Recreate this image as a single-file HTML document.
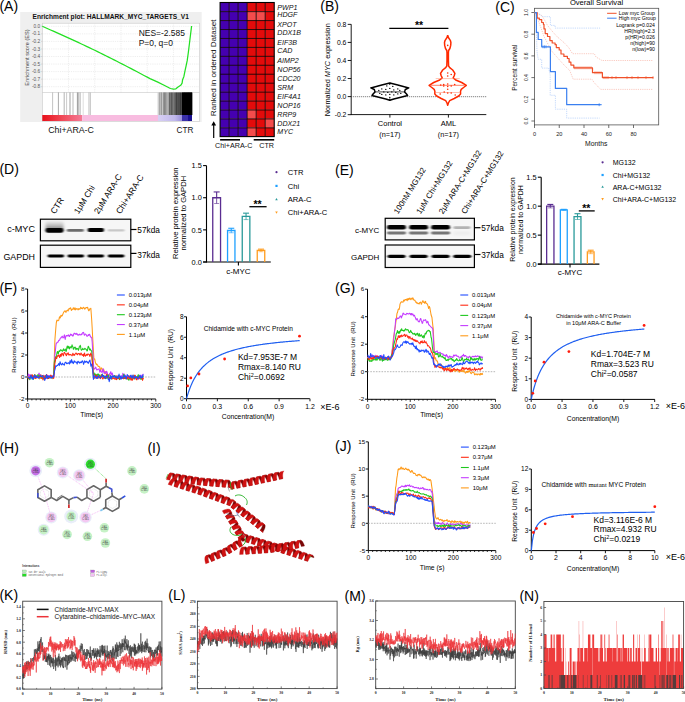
<!DOCTYPE html>
<html><head><meta charset="utf-8"><style>
html,body{margin:0;padding:0;background:#fff;width:685px;height:702px;overflow:hidden;}
svg{display:block;}
</style></head><body>
<svg width="685" height="702" viewBox="0 0 685 702" font-family='"Liberation Sans", sans-serif'>
<rect x="0" y="0" width="685" height="702" fill="#fff"/>
<text x="-0.6" y="11.2" font-size="14">(A)</text>
<rect x="20.2" y="12" width="181.5" height="110" fill="#efefef"/>
<text x="32.5" y="18.8" font-size="6.6" font-weight="bold" fill="#111">Enrichment plot: HALLMARK_MYC_TARGETS_V1</text>
<rect x="42.3" y="23.2" width="157.4" height="98.3" fill="#fff" stroke="#c8c8c8" stroke-width="0.6"/>
<line x1="68.53" y1="23.2" x2="68.53" y2="92.5" stroke="#dcdcdc" stroke-width="0.5" stroke-dasharray="1.2,1"/>
<line x1="94.76" y1="23.2" x2="94.76" y2="92.5" stroke="#dcdcdc" stroke-width="0.5" stroke-dasharray="1.2,1"/>
<line x1="120.99" y1="23.2" x2="120.99" y2="92.5" stroke="#dcdcdc" stroke-width="0.5" stroke-dasharray="1.2,1"/>
<line x1="147.22" y1="23.2" x2="147.22" y2="92.5" stroke="#dcdcdc" stroke-width="0.5" stroke-dasharray="1.2,1"/>
<line x1="173.45" y1="23.2" x2="173.45" y2="92.5" stroke="#dcdcdc" stroke-width="0.5" stroke-dasharray="1.2,1"/>
<line x1="42.3" y1="26.3" x2="199.7" y2="26.3" stroke="#dcdcdc" stroke-width="0.5" stroke-dasharray="1.2,1"/>
<line x1="42.3" y1="33.85" x2="199.7" y2="33.85" stroke="#dcdcdc" stroke-width="0.5" stroke-dasharray="1.2,1"/>
<line x1="42.3" y1="41.4" x2="199.7" y2="41.4" stroke="#dcdcdc" stroke-width="0.5" stroke-dasharray="1.2,1"/>
<line x1="42.3" y1="48.95" x2="199.7" y2="48.95" stroke="#dcdcdc" stroke-width="0.5" stroke-dasharray="1.2,1"/>
<line x1="42.3" y1="56.5" x2="199.7" y2="56.5" stroke="#dcdcdc" stroke-width="0.5" stroke-dasharray="1.2,1"/>
<line x1="42.3" y1="64.05" x2="199.7" y2="64.05" stroke="#dcdcdc" stroke-width="0.5" stroke-dasharray="1.2,1"/>
<line x1="42.3" y1="71.6" x2="199.7" y2="71.6" stroke="#dcdcdc" stroke-width="0.5" stroke-dasharray="1.2,1"/>
<line x1="42.3" y1="79.15" x2="199.7" y2="79.15" stroke="#dcdcdc" stroke-width="0.5" stroke-dasharray="1.2,1"/>
<line x1="42.3" y1="86.7" x2="199.7" y2="86.7" stroke="#dcdcdc" stroke-width="0.5" stroke-dasharray="1.2,1"/>
<text x="40.1" y="27.9" font-size="4.7" text-anchor="end" fill="#555">0.0</text>
<line x1="41.3" y1="26.3" x2="42.3" y2="26.3" stroke="#999" stroke-width="0.4"/>
<text x="40.1" y="35.45" font-size="4.7" text-anchor="end" fill="#555">-0.1</text>
<line x1="41.3" y1="33.85" x2="42.3" y2="33.85" stroke="#999" stroke-width="0.4"/>
<text x="40.1" y="43" font-size="4.7" text-anchor="end" fill="#555">-0.2</text>
<line x1="41.3" y1="41.4" x2="42.3" y2="41.4" stroke="#999" stroke-width="0.4"/>
<text x="40.1" y="50.55" font-size="4.7" text-anchor="end" fill="#555">-0.3</text>
<line x1="41.3" y1="48.95" x2="42.3" y2="48.95" stroke="#999" stroke-width="0.4"/>
<text x="40.1" y="58.1" font-size="4.7" text-anchor="end" fill="#555">-0.4</text>
<line x1="41.3" y1="56.5" x2="42.3" y2="56.5" stroke="#999" stroke-width="0.4"/>
<text x="40.1" y="65.65" font-size="4.7" text-anchor="end" fill="#555">-0.5</text>
<line x1="41.3" y1="64.05" x2="42.3" y2="64.05" stroke="#999" stroke-width="0.4"/>
<text x="40.1" y="73.2" font-size="4.7" text-anchor="end" fill="#555">-0.6</text>
<line x1="41.3" y1="71.6" x2="42.3" y2="71.6" stroke="#999" stroke-width="0.4"/>
<text x="40.1" y="80.75" font-size="4.7" text-anchor="end" fill="#555">-0.7</text>
<line x1="41.3" y1="79.15" x2="42.3" y2="79.15" stroke="#999" stroke-width="0.4"/>
<text x="40.1" y="88.3" font-size="4.7" text-anchor="end" fill="#555">-0.8</text>
<line x1="41.3" y1="86.7" x2="42.3" y2="86.7" stroke="#999" stroke-width="0.4"/>
<text x="29.4" y="57.5" font-size="5.6" text-anchor="middle" fill="#444" transform="rotate(-90 29.4 57.5)">Enrichment score (ES)</text>
<line x1="42.3" y1="92.5" x2="199.7" y2="92.5" stroke="#c8c8c8" stroke-width="0.6"/>
<polyline points="42.3,26.3 45.06,27.52 47.82,28.74 50.58,29.96 53.35,31.19 56.11,32.42 58.87,33.65 61.63,34.89 64.39,36.13 67.15,37.37 69.92,38.63 72.68,39.89 75.44,41.16 78.2,42.43 80.96,43.72 83.72,45.01 86.48,46.32 89.25,47.63 92.01,48.95 94.77,50.28 97.53,51.62 100.29,52.97 103.05,54.33 105.82,55.7 108.58,57.08 111.34,58.47 114.1,59.87 116.86,61.27 119.62,62.69 122.38,64.11 125.15,65.54 127.91,66.97 130.67,68.41 133.43,69.86 136.19,71.31 138.95,72.76 141.72,74.22 144.48,75.68 147.24,77.14 150,78.6 157.3,81.9 164.6,85.5 170.4,88.5 173.4,89.2 175.9,88.8 177.7,87.2 180.7,85.3 182.1,83.2 182.6,79.7 183.9,76.4 185,70.9 186.1,65.8 187.2,60.7 188.4,52 189.5,43 190.6,34 191.6,26" fill="none" stroke="#22e022" stroke-width="1.25" stroke-linejoin="round"/>
<line x1="52.6" y1="92.5" x2="52.6" y2="115" stroke="#888" stroke-width="0.5"/>
<line x1="58.4" y1="92.5" x2="58.4" y2="115" stroke="#555" stroke-width="0.5"/>
<line x1="64.2" y1="92.5" x2="64.2" y2="115" stroke="#666" stroke-width="0.5"/>
<line x1="66.6" y1="92.5" x2="66.6" y2="115" stroke="#999" stroke-width="0.5"/>
<line x1="70" y1="92.5" x2="70" y2="115" stroke="#444" stroke-width="0.5"/>
<line x1="73" y1="92.5" x2="73" y2="115" stroke="#777" stroke-width="0.5"/>
<line x1="77.4" y1="92.5" x2="77.4" y2="115" stroke="#333" stroke-width="0.5"/>
<line x1="78.8" y1="92.5" x2="78.8" y2="115" stroke="#555" stroke-width="0.5"/>
<line x1="80.3" y1="92.5" x2="80.3" y2="115" stroke="#888" stroke-width="0.5"/>
<line x1="83.2" y1="92.5" x2="83.2" y2="115" stroke="#bbb" stroke-width="0.5"/>
<line x1="89" y1="92.5" x2="89" y2="115" stroke="#777" stroke-width="0.5"/>
<line x1="90.5" y1="92.5" x2="90.5" y2="115" stroke="#999" stroke-width="0.5"/>
<line x1="158" y1="92.5" x2="158" y2="115" stroke="rgb(200,200,200)" stroke-width="0.75"/>
<line x1="158.58" y1="92.5" x2="158.58" y2="115" stroke="rgb(200,200,200)" stroke-width="0.75"/>
<line x1="159.15" y1="92.5" x2="159.15" y2="115" stroke="rgb(200,200,200)" stroke-width="0.75"/>
<line x1="159.73" y1="92.5" x2="159.73" y2="115" stroke="rgb(134,134,134)" stroke-width="0.75"/>
<line x1="160.31" y1="92.5" x2="160.31" y2="115" stroke="rgb(144,144,144)" stroke-width="0.75"/>
<line x1="160.88" y1="92.5" x2="160.88" y2="115" stroke="rgb(200,200,200)" stroke-width="0.75"/>
<line x1="161.46" y1="92.5" x2="161.46" y2="115" stroke="rgb(86,86,86)" stroke-width="0.75"/>
<line x1="162.03" y1="92.5" x2="162.03" y2="115" stroke="rgb(200,200,200)" stroke-width="0.75"/>
<line x1="162.61" y1="92.5" x2="162.61" y2="115" stroke="rgb(200,200,200)" stroke-width="0.75"/>
<line x1="163.19" y1="92.5" x2="163.19" y2="115" stroke="rgb(151,151,151)" stroke-width="0.75"/>
<line x1="163.76" y1="92.5" x2="163.76" y2="115" stroke="rgb(121,121,121)" stroke-width="0.75"/>
<line x1="164.34" y1="92.5" x2="164.34" y2="115" stroke="rgb(114,114,114)" stroke-width="0.75"/>
<line x1="164.92" y1="92.5" x2="164.92" y2="115" stroke="rgb(107,107,107)" stroke-width="0.75"/>
<line x1="165.49" y1="92.5" x2="165.49" y2="115" stroke="rgb(130,130,130)" stroke-width="0.75"/>
<line x1="166.07" y1="92.5" x2="166.07" y2="115" stroke="rgb(133,133,133)" stroke-width="0.75"/>
<line x1="166.64" y1="92.5" x2="166.64" y2="115" stroke="rgb(135,135,135)" stroke-width="0.75"/>
<line x1="167.22" y1="92.5" x2="167.22" y2="115" stroke="rgb(186,186,186)" stroke-width="0.75"/>
<line x1="167.8" y1="92.5" x2="167.8" y2="115" stroke="rgb(155,155,155)" stroke-width="0.75"/>
<line x1="168.37" y1="92.5" x2="168.37" y2="115" stroke="rgb(130,130,130)" stroke-width="0.75"/>
<line x1="168.95" y1="92.5" x2="168.95" y2="115" stroke="rgb(166,166,166)" stroke-width="0.75"/>
<line x1="169.53" y1="92.5" x2="169.53" y2="115" stroke="rgb(76,76,76)" stroke-width="0.75"/>
<line x1="170.1" y1="92.5" x2="170.1" y2="115" stroke="rgb(68,68,68)" stroke-width="0.75"/>
<line x1="170.68" y1="92.5" x2="170.68" y2="115" stroke="rgb(110,110,110)" stroke-width="0.75"/>
<line x1="171.25" y1="92.5" x2="171.25" y2="115" stroke="rgb(51,51,51)" stroke-width="0.75"/>
<line x1="171.83" y1="92.5" x2="171.83" y2="115" stroke="rgb(48,48,48)" stroke-width="0.75"/>
<line x1="172.41" y1="92.5" x2="172.41" y2="115" stroke="rgb(88,88,88)" stroke-width="0.75"/>
<line x1="172.98" y1="92.5" x2="172.98" y2="115" stroke="rgb(80,80,80)" stroke-width="0.75"/>
<line x1="173.56" y1="92.5" x2="173.56" y2="115" stroke="rgb(113,113,113)" stroke-width="0.75"/>
<line x1="174.14" y1="92.5" x2="174.14" y2="115" stroke="rgb(86,86,86)" stroke-width="0.75"/>
<line x1="174.71" y1="92.5" x2="174.71" y2="115" stroke="rgb(73,73,73)" stroke-width="0.75"/>
<line x1="175.29" y1="92.5" x2="175.29" y2="115" stroke="rgb(68,68,68)" stroke-width="0.75"/>
<line x1="175.86" y1="92.5" x2="175.86" y2="115" stroke="rgb(48,48,48)" stroke-width="0.75"/>
<line x1="176.44" y1="92.5" x2="176.44" y2="115" stroke="rgb(31,31,31)" stroke-width="0.75"/>
<line x1="177.02" y1="92.5" x2="177.02" y2="115" stroke="rgb(40,40,40)" stroke-width="0.75"/>
<line x1="177.59" y1="92.5" x2="177.59" y2="115" stroke="rgb(65,65,65)" stroke-width="0.75"/>
<line x1="178.17" y1="92.5" x2="178.17" y2="115" stroke="rgb(36,36,36)" stroke-width="0.75"/>
<line x1="178.75" y1="92.5" x2="178.75" y2="115" stroke="rgb(42,42,42)" stroke-width="0.75"/>
<line x1="179.32" y1="92.5" x2="179.32" y2="115" stroke="rgb(22,22,22)" stroke-width="0.75"/>
<line x1="179.9" y1="92.5" x2="179.9" y2="115" stroke="rgb(56,56,56)" stroke-width="0.75"/>
<line x1="180.47" y1="92.5" x2="180.47" y2="115" stroke="rgb(25,25,25)" stroke-width="0.75"/>
<line x1="181.05" y1="92.5" x2="181.05" y2="115" stroke="rgb(28,28,28)" stroke-width="0.75"/>
<line x1="181.63" y1="92.5" x2="181.63" y2="115" stroke="rgb(46,46,46)" stroke-width="0.75"/>
<line x1="182.2" y1="92.5" x2="182.2" y2="115" stroke="rgb(31,31,31)" stroke-width="0.75"/>
<line x1="182.78" y1="92.5" x2="182.78" y2="115" stroke="rgb(38,38,38)" stroke-width="0.75"/>
<line x1="183.36" y1="92.5" x2="183.36" y2="115" stroke="rgb(29,29,29)" stroke-width="0.75"/>
<line x1="183.93" y1="92.5" x2="183.93" y2="115" stroke="rgb(28,28,28)" stroke-width="0.75"/>
<line x1="184.51" y1="92.5" x2="184.51" y2="115" stroke="rgb(12,12,12)" stroke-width="0.75"/>
<line x1="185.08" y1="92.5" x2="185.08" y2="115" stroke="rgb(19,19,19)" stroke-width="0.75"/>
<line x1="185.66" y1="92.5" x2="185.66" y2="115" stroke="rgb(16,16,16)" stroke-width="0.75"/>
<line x1="186.24" y1="92.5" x2="186.24" y2="115" stroke="rgb(19,19,19)" stroke-width="0.75"/>
<line x1="186.81" y1="92.5" x2="186.81" y2="115" stroke="rgb(10,10,10)" stroke-width="0.75"/>
<line x1="187.39" y1="92.5" x2="187.39" y2="115" stroke="rgb(10,10,10)" stroke-width="0.75"/>
<line x1="187.97" y1="92.5" x2="187.97" y2="115" stroke="rgb(4,4,4)" stroke-width="0.75"/>
<line x1="188.54" y1="92.5" x2="188.54" y2="115" stroke="rgb(5,5,5)" stroke-width="0.75"/>
<line x1="189.12" y1="92.5" x2="189.12" y2="115" stroke="rgb(4,4,4)" stroke-width="0.75"/>
<line x1="189.69" y1="92.5" x2="189.69" y2="115" stroke="rgb(2,2,2)" stroke-width="0.75"/>
<line x1="190.27" y1="92.5" x2="190.27" y2="115" stroke="rgb(3,3,3)" stroke-width="0.75"/>
<line x1="190.85" y1="92.5" x2="190.85" y2="115" stroke="rgb(1,1,1)" stroke-width="0.75"/>
<line x1="191.42" y1="92.5" x2="191.42" y2="115" stroke="rgb(0,0,0)" stroke-width="0.75"/>
<line x1="192" y1="92.5" x2="192" y2="115" stroke="rgb(0,0,0)" stroke-width="0.75"/>
<rect x="182" y="92.5" width="10" height="22.5" fill="#000"/>
<defs><linearGradient id="gr1" x1="0" x2="1"><stop offset="0" stop-color="#e8101a"/><stop offset="0.5" stop-color="#f04a58"/><stop offset="1" stop-color="#f47a96"/></linearGradient><linearGradient id="gb1" x1="0" x2="1"><stop offset="0" stop-color="#d8d0f4"/><stop offset="0.7" stop-color="#c0b8ec"/><stop offset="1" stop-color="#9a90dc"/></linearGradient></defs>
<rect x="42.3" y="115" width="40" height="6" fill="url(#gr1)"/>
<rect x="82.3" y="115" width="75.7" height="6" fill="#f8bce0"/>
<rect x="158" y="115" width="24" height="6" fill="url(#gb1)"/>
<rect x="182" y="115" width="6" height="6" fill="#3a30a8"/>
<rect x="188" y="115" width="4" height="6" fill="#1a1090"/>
<text x="48.2" y="133" font-size="8.8" fill="#111">Chi+ARA-C</text>
<text x="176.5" y="132.6" font-size="8.2" fill="#111">CTR</text>
<text x="138.7" y="35.8" font-size="8.45" fill="#111">NES=-2.585</text>
<text x="138.7" y="46.3" font-size="8.45" fill="#111">P=0, q=0</text>
<rect x="220.1" y="2.5" width="9.02" height="8.94" fill="#4500b0"/>
<rect x="229.12" y="2.5" width="9.02" height="8.94" fill="#4500b0"/>
<rect x="238.14" y="2.5" width="9.02" height="8.94" fill="#4500b0"/>
<rect x="247.16" y="2.5" width="9.02" height="8.94" fill="#e30b0b"/>
<rect x="256.18" y="2.5" width="9.02" height="8.94" fill="#e30b0b"/>
<rect x="265.2" y="2.5" width="9.02" height="8.94" fill="#e30b0b"/>
<rect x="220.1" y="11.44" width="9.02" height="8.94" fill="#4500b0"/>
<rect x="229.12" y="11.44" width="9.02" height="8.94" fill="#4500b0"/>
<rect x="238.14" y="11.44" width="9.02" height="8.94" fill="#4500b0"/>
<rect x="247.16" y="11.44" width="9.02" height="8.94" fill="#f34c4c"/>
<rect x="256.18" y="11.44" width="9.02" height="8.94" fill="#f34c4c"/>
<rect x="265.2" y="11.44" width="9.02" height="8.94" fill="#e30b0b"/>
<rect x="220.1" y="20.38" width="9.02" height="8.94" fill="#4500b0"/>
<rect x="229.12" y="20.38" width="9.02" height="8.94" fill="#4500b0"/>
<rect x="238.14" y="20.38" width="9.02" height="8.94" fill="#4500b0"/>
<rect x="247.16" y="20.38" width="9.02" height="8.94" fill="#e30b0b"/>
<rect x="256.18" y="20.38" width="9.02" height="8.94" fill="#e30b0b"/>
<rect x="265.2" y="20.38" width="9.02" height="8.94" fill="#e30b0b"/>
<rect x="220.1" y="29.32" width="9.02" height="8.94" fill="#4500b0"/>
<rect x="229.12" y="29.32" width="9.02" height="8.94" fill="#4500b0"/>
<rect x="238.14" y="29.32" width="9.02" height="8.94" fill="#4500b0"/>
<rect x="247.16" y="29.32" width="9.02" height="8.94" fill="#e30b0b"/>
<rect x="256.18" y="29.32" width="9.02" height="8.94" fill="#e30b0b"/>
<rect x="265.2" y="29.32" width="9.02" height="8.94" fill="#e30b0b"/>
<rect x="220.1" y="38.26" width="9.02" height="8.94" fill="#4500b0"/>
<rect x="229.12" y="38.26" width="9.02" height="8.94" fill="#4500b0"/>
<rect x="238.14" y="38.26" width="9.02" height="8.94" fill="#4500b0"/>
<rect x="247.16" y="38.26" width="9.02" height="8.94" fill="#e30b0b"/>
<rect x="256.18" y="38.26" width="9.02" height="8.94" fill="#e30b0b"/>
<rect x="265.2" y="38.26" width="9.02" height="8.94" fill="#e30b0b"/>
<rect x="220.1" y="47.2" width="9.02" height="8.94" fill="#4500b0"/>
<rect x="229.12" y="47.2" width="9.02" height="8.94" fill="#4500b0"/>
<rect x="238.14" y="47.2" width="9.02" height="8.94" fill="#4500b0"/>
<rect x="247.16" y="47.2" width="9.02" height="8.94" fill="#e30b0b"/>
<rect x="256.18" y="47.2" width="9.02" height="8.94" fill="#e30b0b"/>
<rect x="265.2" y="47.2" width="9.02" height="8.94" fill="#e30b0b"/>
<rect x="220.1" y="56.14" width="9.02" height="8.94" fill="#4500b0"/>
<rect x="229.12" y="56.14" width="9.02" height="8.94" fill="#4500b0"/>
<rect x="238.14" y="56.14" width="9.02" height="8.94" fill="#4500b0"/>
<rect x="247.16" y="56.14" width="9.02" height="8.94" fill="#e30b0b"/>
<rect x="256.18" y="56.14" width="9.02" height="8.94" fill="#e30b0b"/>
<rect x="265.2" y="56.14" width="9.02" height="8.94" fill="#e30b0b"/>
<rect x="220.1" y="65.08" width="9.02" height="8.94" fill="#4500b0"/>
<rect x="229.12" y="65.08" width="9.02" height="8.94" fill="#4500b0"/>
<rect x="238.14" y="65.08" width="9.02" height="8.94" fill="#4500b0"/>
<rect x="247.16" y="65.08" width="9.02" height="8.94" fill="#e30b0b"/>
<rect x="256.18" y="65.08" width="9.02" height="8.94" fill="#e30b0b"/>
<rect x="265.2" y="65.08" width="9.02" height="8.94" fill="#e30b0b"/>
<rect x="220.1" y="74.02" width="9.02" height="8.94" fill="#4500b0"/>
<rect x="229.12" y="74.02" width="9.02" height="8.94" fill="#4500b0"/>
<rect x="238.14" y="74.02" width="9.02" height="8.94" fill="#4500b0"/>
<rect x="247.16" y="74.02" width="9.02" height="8.94" fill="#e30b0b"/>
<rect x="256.18" y="74.02" width="9.02" height="8.94" fill="#e30b0b"/>
<rect x="265.2" y="74.02" width="9.02" height="8.94" fill="#e30b0b"/>
<rect x="220.1" y="82.96" width="9.02" height="8.94" fill="#4500b0"/>
<rect x="229.12" y="82.96" width="9.02" height="8.94" fill="#4500b0"/>
<rect x="238.14" y="82.96" width="9.02" height="8.94" fill="#4500b0"/>
<rect x="247.16" y="82.96" width="9.02" height="8.94" fill="#e30b0b"/>
<rect x="256.18" y="82.96" width="9.02" height="8.94" fill="#e30b0b"/>
<rect x="265.2" y="82.96" width="9.02" height="8.94" fill="#e30b0b"/>
<rect x="220.1" y="91.9" width="9.02" height="8.94" fill="#4500b0"/>
<rect x="229.12" y="91.9" width="9.02" height="8.94" fill="#4500b0"/>
<rect x="238.14" y="91.9" width="9.02" height="8.94" fill="#4500b0"/>
<rect x="247.16" y="91.9" width="9.02" height="8.94" fill="#e30b0b"/>
<rect x="256.18" y="91.9" width="9.02" height="8.94" fill="#e30b0b"/>
<rect x="265.2" y="91.9" width="9.02" height="8.94" fill="#e30b0b"/>
<rect x="220.1" y="100.84" width="9.02" height="8.94" fill="#4500b0"/>
<rect x="229.12" y="100.84" width="9.02" height="8.94" fill="#4500b0"/>
<rect x="238.14" y="100.84" width="9.02" height="8.94" fill="#4500b0"/>
<rect x="247.16" y="100.84" width="9.02" height="8.94" fill="#e30b0b"/>
<rect x="256.18" y="100.84" width="9.02" height="8.94" fill="#e30b0b"/>
<rect x="265.2" y="100.84" width="9.02" height="8.94" fill="#e30b0b"/>
<rect x="220.1" y="109.78" width="9.02" height="8.94" fill="#4500b0"/>
<rect x="229.12" y="109.78" width="9.02" height="8.94" fill="#4500b0"/>
<rect x="238.14" y="109.78" width="9.02" height="8.94" fill="#4500b0"/>
<rect x="247.16" y="109.78" width="9.02" height="8.94" fill="#f34c4c"/>
<rect x="256.18" y="109.78" width="9.02" height="8.94" fill="#e30b0b"/>
<rect x="265.2" y="109.78" width="9.02" height="8.94" fill="#e30b0b"/>
<rect x="220.1" y="118.72" width="9.02" height="8.94" fill="#4500b0"/>
<rect x="229.12" y="118.72" width="9.02" height="8.94" fill="#4500b0"/>
<rect x="238.14" y="118.72" width="9.02" height="8.94" fill="#4500b0"/>
<rect x="247.16" y="118.72" width="9.02" height="8.94" fill="#e30b0b"/>
<rect x="256.18" y="118.72" width="9.02" height="8.94" fill="#e30b0b"/>
<rect x="265.2" y="118.72" width="9.02" height="8.94" fill="#f34c4c"/>
<rect x="220.1" y="127.66" width="9.02" height="8.94" fill="#4500b0"/>
<rect x="229.12" y="127.66" width="9.02" height="8.94" fill="#4500b0"/>
<rect x="238.14" y="127.66" width="9.02" height="8.94" fill="#4500b0"/>
<rect x="247.16" y="127.66" width="9.02" height="8.94" fill="#f34c4c"/>
<rect x="256.18" y="127.66" width="9.02" height="8.94" fill="#e30b0b"/>
<rect x="265.2" y="127.66" width="9.02" height="8.94" fill="#e30b0b"/>
<line x1="229.12" y1="2.5" x2="229.12" y2="136.6" stroke="#100" stroke-width="0.85"/>
<line x1="238.14" y1="2.5" x2="238.14" y2="136.6" stroke="#100" stroke-width="0.85"/>
<line x1="247.16" y1="2.5" x2="247.16" y2="136.6" stroke="#100" stroke-width="0.85"/>
<line x1="256.18" y1="2.5" x2="256.18" y2="136.6" stroke="#100" stroke-width="0.85"/>
<line x1="265.2" y1="2.5" x2="265.2" y2="136.6" stroke="#100" stroke-width="0.85"/>
<line x1="220.1" y1="11.64" x2="274.22" y2="11.64" stroke="#100" stroke-width="0.85"/>
<line x1="220.1" y1="20.58" x2="274.22" y2="20.58" stroke="#100" stroke-width="0.85"/>
<line x1="220.1" y1="29.52" x2="274.22" y2="29.52" stroke="#100" stroke-width="0.85"/>
<line x1="220.1" y1="38.46" x2="274.22" y2="38.46" stroke="#100" stroke-width="0.85"/>
<line x1="220.1" y1="47.4" x2="274.22" y2="47.4" stroke="#100" stroke-width="0.85"/>
<line x1="220.1" y1="56.34" x2="274.22" y2="56.34" stroke="#100" stroke-width="0.85"/>
<line x1="220.1" y1="65.28" x2="274.22" y2="65.28" stroke="#100" stroke-width="0.85"/>
<line x1="220.1" y1="74.22" x2="274.22" y2="74.22" stroke="#100" stroke-width="0.85"/>
<line x1="220.1" y1="83.16" x2="274.22" y2="83.16" stroke="#100" stroke-width="0.85"/>
<line x1="220.1" y1="92.1" x2="274.22" y2="92.1" stroke="#100" stroke-width="0.85"/>
<line x1="220.1" y1="101.04" x2="274.22" y2="101.04" stroke="#100" stroke-width="0.85"/>
<line x1="220.1" y1="109.98" x2="274.22" y2="109.98" stroke="#100" stroke-width="0.85"/>
<line x1="220.1" y1="118.92" x2="274.22" y2="118.92" stroke="#100" stroke-width="0.85"/>
<line x1="220.1" y1="127.86" x2="274.22" y2="127.86" stroke="#100" stroke-width="0.85"/>
<rect x="220.1" y="2.5" width="54.12" height="134.1" fill="none" stroke="#000" stroke-width="1.1"/>
<text x="277.3" y="9.5" font-size="7.1" font-style="italic" fill="#111">PWP1</text>
<text x="277.3" y="17.3" font-size="7.1" font-style="italic" fill="#111">HDGF</text>
<text x="277.3" y="27" font-size="7.1" font-style="italic" fill="#111">XPOT</text>
<text x="277.3" y="34.9" font-size="7.1" font-style="italic" fill="#111">DDX1B</text>
<text x="277.3" y="44.8" font-size="7.1" font-style="italic" fill="#111">EIF3B</text>
<text x="277.3" y="53.4" font-size="7.1" font-style="italic" fill="#111">CAD</text>
<text x="277.3" y="62.9" font-size="7.1" font-style="italic" fill="#111">AIMP2</text>
<text x="277.3" y="71.9" font-size="7.1" font-style="italic" fill="#111">NOP56</text>
<text x="277.3" y="80.8" font-size="7.1" font-style="italic" fill="#111">CDC20</text>
<text x="277.3" y="89.7" font-size="7.1" font-style="italic" fill="#111">SRM</text>
<text x="277.3" y="98.6" font-size="7.1" font-style="italic" fill="#111">EIF4A1</text>
<text x="277.3" y="107.5" font-size="7.1" font-style="italic" fill="#111">NOP16</text>
<text x="277.3" y="116.5" font-size="7.1" font-style="italic" fill="#111">RRP9</text>
<text x="277.3" y="125.5" font-size="7.1" font-style="italic" fill="#111">DDX21</text>
<text x="277.3" y="134.2" font-size="7.1" font-style="italic" fill="#111">MYC</text>
<text x="215.6" y="67.8" font-size="8.1" text-anchor="middle" fill="#111" transform="rotate(-90 215.6 67.8)">Ranked in ordered Dataset</text>
<line x1="213.7" y1="124" x2="213.7" y2="138" stroke="#000" stroke-width="1.2"/>
<path d="M211.3,125.5 L213.7,121.2 L216.1,125.5 Z" fill="#000" stroke="none" stroke-width="0"/>
<line x1="220.1" y1="139.8" x2="240" y2="139.8" stroke="#000" stroke-width="1.6"/>
<line x1="253.7" y1="139.8" x2="274.2" y2="139.8" stroke="#000" stroke-width="1.6"/>
<text x="215" y="148.3" font-size="7.2" fill="#111">Chi+ARA-C</text>
<text x="259.2" y="148.3" font-size="7.2" fill="#111">CTR</text>
<text x="320.3" y="11.4" font-size="14">(B)</text>
<line x1="351.2" y1="24.3" x2="351.2" y2="114.9" stroke="#000" stroke-width="0.9"/>
<line x1="347.7" y1="24.36" x2="351.2" y2="24.36" stroke="#000" stroke-width="0.9"/>
<text x="346.4" y="26.76" font-size="6.8" text-anchor="end">0.8</text>
<line x1="347.7" y1="42.42" x2="351.2" y2="42.42" stroke="#000" stroke-width="0.9"/>
<text x="346.4" y="44.82" font-size="6.8" text-anchor="end">0.6</text>
<line x1="347.7" y1="60.48" x2="351.2" y2="60.48" stroke="#000" stroke-width="0.9"/>
<text x="346.4" y="62.88" font-size="6.8" text-anchor="end">0.4</text>
<line x1="347.7" y1="78.54" x2="351.2" y2="78.54" stroke="#000" stroke-width="0.9"/>
<text x="346.4" y="80.94" font-size="6.8" text-anchor="end">0.2</text>
<line x1="347.7" y1="96.6" x2="351.2" y2="96.6" stroke="#000" stroke-width="0.9"/>
<text x="346.4" y="99" font-size="6.8" text-anchor="end">0.0</text>
<line x1="347.7" y1="114.66" x2="351.2" y2="114.66" stroke="#000" stroke-width="0.9"/>
<text x="346.4" y="117.06" font-size="6.8" text-anchor="end">-0.2</text>
<line x1="350.8" y1="114.6" x2="486.3" y2="114.6" stroke="#000" stroke-width="0.9"/>
<line x1="389.9" y1="114.6" x2="389.9" y2="117.6" stroke="#000" stroke-width="0.9"/>
<line x1="448.4" y1="114.6" x2="448.4" y2="117.6" stroke="#000" stroke-width="0.9"/>
<text x="389.9" y="125.9" font-size="7.5" text-anchor="middle">Control</text>
<text x="389.9" y="137.4" font-size="7.3" text-anchor="middle">(n=17)</text>
<text x="448.4" y="125.9" font-size="7.5" text-anchor="middle">AML</text>
<text x="448.4" y="137.4" font-size="7.3" text-anchor="middle">(n=17)</text>
<text x="330.4" y="69.8" font-size="7.35" text-anchor="middle" transform="rotate(-90 330.4 69.8)">Normalized <tspan font-style="italic">MYC</tspan> expression</text>
<line x1="351.2" y1="96.7" x2="486.3" y2="96.7" stroke="#444" stroke-width="0.8" stroke-dasharray="1,1"/>
<line x1="389.3" y1="28.4" x2="448.4" y2="28.4" stroke="#000" stroke-width="1.2"/>
<text x="419" y="29.3" font-size="10.5" text-anchor="middle" font-weight="bold">**</text>
<polyline points="389.8,83.1 381.8,85 370.8,87.9 374.3,89.5 375,91.9 373.3,93.8 372,95.5 378.8,97.2 385.8,99 389.8,100.3 389.8,100.3 393.8,99 400.8,97.2 407.6,95.5 406.3,93.8 404.6,91.9 405.3,89.5 408.8,87.9 397.8,85 389.8,83.1 389.8,83.1" fill="#fff" stroke="#000" stroke-width="1.5" stroke-linejoin="round"/>
<line x1="374.8" y1="91.9" x2="404.8" y2="91.9" stroke="#000" stroke-width="0.7"/>
<line x1="389.8" y1="82.5" x2="389.8" y2="85" stroke="#000" stroke-width="1"/>
<line x1="389.8" y1="98.5" x2="389.8" y2="101" stroke="#000" stroke-width="1"/>
<circle cx="381.8" cy="88.9" r="0.7" fill="#000"/>
<circle cx="385.8" cy="89.4" r="0.7" fill="#000"/>
<circle cx="389.8" cy="88.4" r="0.7" fill="#000"/>
<circle cx="393.8" cy="89.9" r="0.7" fill="#000"/>
<circle cx="397.8" cy="88.9" r="0.7" fill="#000"/>
<circle cx="383.8" cy="91.9" r="0.7" fill="#000"/>
<circle cx="387.8" cy="92.4" r="0.7" fill="#000"/>
<circle cx="391.8" cy="91.9" r="0.7" fill="#000"/>
<circle cx="395.8" cy="92.4" r="0.7" fill="#000"/>
<circle cx="381.8" cy="94.4" r="0.7" fill="#000"/>
<circle cx="385.8" cy="94.9" r="0.7" fill="#000"/>
<circle cx="389.8" cy="94.4" r="0.7" fill="#000"/>
<circle cx="393.8" cy="94.9" r="0.7" fill="#000"/>
<circle cx="397.8" cy="93.9" r="0.7" fill="#000"/>
<circle cx="389.8" cy="97.4" r="0.7" fill="#000"/>
<circle cx="386.8" cy="85.9" r="0.7" fill="#000"/>
<circle cx="392.8" cy="86.4" r="0.7" fill="#000"/>
<circle cx="378.8" cy="90.4" r="0.7" fill="#000"/>
<circle cx="400.8" cy="93.4" r="0.7" fill="#000"/>
<circle cx="379.8" cy="93.4" r="0.7" fill="#000"/>
<circle cx="399.8" cy="90.4" r="0.7" fill="#000"/>
<polyline points="447.7,35.1 447,37.5 445.1,40.3 444.5,42.5 444.7,45.4 445.5,48.5 446.8,50.5 447,53 447,60 446.8,66 445.7,67.6 442.7,70 440.5,73.3 441.1,75.5 442.2,77.9 439.7,80 433.7,82.5 429.1,85.3 431.2,87 434.2,89.3 434.9,91.5 434.8,93.9 436.7,96 441.2,98.5 445.7,100.7 447,103 447.7,105.3 447.7,105.3 448.4,103 449.7,100.7 454.2,98.5 458.7,96 460.6,93.9 460.5,91.5 461.2,89.3 464.2,87 466.3,85.3 461.7,82.5 455.7,80 453.2,77.9 454.3,75.5 454.9,73.3 452.7,70 449.7,67.6 448.6,66 448.4,60 448.4,53 448.6,50.5 449.9,48.5 450.7,45.4 450.9,42.5 450.3,40.3 448.4,37.5 447.7,35.1 447.7,35.1" fill="#fff" stroke="#ff2a00" stroke-width="1.5" stroke-linejoin="round"/>
<line x1="435.7" y1="78.6" x2="459.7" y2="78.6" stroke="#ff8060" stroke-width="0.5"/>
<line x1="430.7" y1="85.3" x2="464.7" y2="85.3" stroke="#ff2a00" stroke-width="0.6"/>
<line x1="435.7" y1="92.5" x2="459.7" y2="92.5" stroke="#ff8060" stroke-width="0.5"/>
<circle cx="447.7" cy="45.4" r="0.8" fill="#ff2a00"/>
<circle cx="447.7" cy="73" r="0.8" fill="#ff2a00"/>
<circle cx="447.7" cy="76" r="0.8" fill="#ff2a00"/>
<circle cx="451.2" cy="74.5" r="0.8" fill="#ff2a00"/>
<circle cx="440.7" cy="85" r="0.8" fill="#ff2a00"/>
<circle cx="443.7" cy="86" r="0.8" fill="#ff2a00"/>
<circle cx="443.7" cy="84.5" r="0.8" fill="#ff2a00"/>
<circle cx="447.7" cy="84" r="0.8" fill="#ff2a00"/>
<circle cx="447.7" cy="86.5" r="0.8" fill="#ff2a00"/>
<circle cx="451.2" cy="86" r="0.8" fill="#ff2a00"/>
<circle cx="454.7" cy="84.5" r="0.8" fill="#ff2a00"/>
<circle cx="447.7" cy="89.2" r="0.8" fill="#ff2a00"/>
<circle cx="444.2" cy="92" r="0.8" fill="#ff2a00"/>
<circle cx="447.7" cy="93" r="0.8" fill="#ff2a00"/>
<circle cx="451.2" cy="93" r="0.8" fill="#ff2a00"/>
<circle cx="440.2" cy="94" r="0.8" fill="#ff2a00"/>
<circle cx="455.2" cy="95" r="0.8" fill="#ff2a00"/>
<text x="495.3" y="11.8" font-size="14">(C)</text>
<text x="596.5" y="5.3" font-size="7.6" text-anchor="middle">Overall Survival</text>
<rect x="534.5" y="8.3" width="124.2" height="116.6" fill="none" stroke="#555" stroke-width="0.8"/>
<line x1="531.4" y1="121" x2="534.5" y2="121" stroke="#333" stroke-width="0.7"/>
<text x="528.2" y="121" font-size="5" text-anchor="middle" fill="#222" transform="rotate(-90 528.2 121)">0.0</text>
<line x1="531.4" y1="99.3" x2="534.5" y2="99.3" stroke="#333" stroke-width="0.7"/>
<text x="528.2" y="99.3" font-size="5" text-anchor="middle" fill="#222" transform="rotate(-90 528.2 99.3)">0.2</text>
<line x1="531.4" y1="77.6" x2="534.5" y2="77.6" stroke="#333" stroke-width="0.7"/>
<text x="528.2" y="77.6" font-size="5" text-anchor="middle" fill="#222" transform="rotate(-90 528.2 77.6)">0.4</text>
<line x1="531.4" y1="55.9" x2="534.5" y2="55.9" stroke="#333" stroke-width="0.7"/>
<text x="528.2" y="55.9" font-size="5" text-anchor="middle" fill="#222" transform="rotate(-90 528.2 55.9)">0.6</text>
<line x1="531.4" y1="34.2" x2="534.5" y2="34.2" stroke="#333" stroke-width="0.7"/>
<text x="528.2" y="34.2" font-size="5" text-anchor="middle" fill="#222" transform="rotate(-90 528.2 34.2)">0.8</text>
<line x1="531.4" y1="12.5" x2="534.5" y2="12.5" stroke="#333" stroke-width="0.7"/>
<text x="528.2" y="12.5" font-size="5" text-anchor="middle" fill="#222" transform="rotate(-90 528.2 12.5)">1.0</text>
<line x1="534.5" y1="124.9" x2="534.5" y2="128" stroke="#333" stroke-width="0.7"/>
<text x="534.5" y="136.3" font-size="5.6" text-anchor="middle" fill="#222">0</text>
<line x1="559.25" y1="124.9" x2="559.25" y2="128" stroke="#333" stroke-width="0.7"/>
<text x="559.25" y="136.3" font-size="5.6" text-anchor="middle" fill="#222">20</text>
<line x1="584" y1="124.9" x2="584" y2="128" stroke="#333" stroke-width="0.7"/>
<text x="584" y="136.3" font-size="5.6" text-anchor="middle" fill="#222">40</text>
<line x1="608.75" y1="124.9" x2="608.75" y2="128" stroke="#333" stroke-width="0.7"/>
<text x="608.75" y="136.3" font-size="5.6" text-anchor="middle" fill="#222">60</text>
<line x1="633.5" y1="124.9" x2="633.5" y2="128" stroke="#333" stroke-width="0.7"/>
<text x="633.5" y="136.3" font-size="5.6" text-anchor="middle" fill="#222">80</text>
<text x="517.3" y="67.7" font-size="6.5" text-anchor="middle" fill="#111" transform="rotate(-90 517.3 67.7)">Percent survival</text>
<text x="596.2" y="145.7" font-size="6.8" text-anchor="middle" fill="#111">Months</text>
<polyline points="534.7,12.6 537,13.5 541.7,15.5 544,19 547.5,25.4 552,31 556.9,36.5 561,40 565,43.5 569,48 572,52.9 572.6,53.7 594.3,53.7 596,57 602,60.5 653,60.5" fill="none" stroke="#f7a898" stroke-width="0.6" stroke-linejoin="round" stroke-dasharray="1.2,1"/>
<polyline points="534.7,12.6 537.2,17.8 541,28 544,36.5 548,44 552.2,51.7 556,56 560.4,61 565,66 569.7,70.4 573.2,79.2 591.9,79.2 594.2,82.7 600.7,89.4 653,89.4" fill="none" stroke="#f7a898" stroke-width="0.6" stroke-linejoin="round" stroke-dasharray="1.2,1"/>
<polyline points="534.7,12.6 538,13 542.8,16.7 550.4,16.7 550.4,25.4 555.1,25.4 555.1,28.1 600.1,28.1" fill="none" stroke="#9cc0f8" stroke-width="0.6" stroke-linejoin="round" stroke-dasharray="1.2,1"/>
<polyline points="536.4,32.4 536.8,45 537,51.7 538.2,59.3 541.7,59.3 541.7,68.1 548.7,68.1 550.2,75 550.2,95.3 555.4,95.3 555.4,109.2 566.7,109.2 566.7,118.1 599.6,118.1" fill="none" stroke="#9cc0f8" stroke-width="0.6" stroke-linejoin="round" stroke-dasharray="1.2,1"/>
<polyline points="534.7,12.6 537.2,12.6 537.2,18.1 539.3,18.1 539.3,19.6 541.7,19.6 541.7,22.5 543.4,22.5 543.4,24.3 544,24.3 544,28.9 545.2,28.9 545.2,33.6 547.5,33.6 547.5,36.5 549.9,36.5 549.9,40.6 552.2,40.6 552.2,43 555.1,43 555.1,44.7 556.3,44.7 556.3,47.6 559.2,47.6 559.2,50 561,50 561,54 563.9,54 563.9,56.4 567.4,56.4 567.4,58.5 569.1,58.5 569.1,62.2 570.9,62.2 570.9,65.1 573.8,65.1 573.8,67.8 592.5,67.8 592.5,72.7 602.4,72.7 602.4,77.6 653.4,77.6" fill="none" stroke="#f0502a" stroke-width="1.2" stroke-linejoin="round" stroke-linejoin="miter"/>
<line x1="575" y1="66.3" x2="575" y2="69.3" stroke="#f0502a" stroke-width="0.6"/>
<line x1="577" y1="66.3" x2="577" y2="69.3" stroke="#f0502a" stroke-width="0.6"/>
<line x1="579" y1="66.3" x2="579" y2="69.3" stroke="#f0502a" stroke-width="0.6"/>
<line x1="581" y1="66.3" x2="581" y2="69.3" stroke="#f0502a" stroke-width="0.6"/>
<line x1="583" y1="66.3" x2="583" y2="69.3" stroke="#f0502a" stroke-width="0.6"/>
<line x1="585" y1="66.3" x2="585" y2="69.3" stroke="#f0502a" stroke-width="0.6"/>
<line x1="587" y1="66.3" x2="587" y2="69.3" stroke="#f0502a" stroke-width="0.6"/>
<line x1="589" y1="66.3" x2="589" y2="69.3" stroke="#f0502a" stroke-width="0.6"/>
<line x1="591" y1="66.3" x2="591" y2="69.3" stroke="#f0502a" stroke-width="0.6"/>
<line x1="595" y1="71.2" x2="595" y2="74.2" stroke="#f0502a" stroke-width="0.6"/>
<line x1="597" y1="71.2" x2="597" y2="74.2" stroke="#f0502a" stroke-width="0.6"/>
<line x1="599" y1="71.2" x2="599" y2="74.2" stroke="#f0502a" stroke-width="0.6"/>
<line x1="601" y1="71.2" x2="601" y2="74.2" stroke="#f0502a" stroke-width="0.6"/>
<line x1="604" y1="76.1" x2="604" y2="79.1" stroke="#f0502a" stroke-width="0.6"/>
<line x1="606" y1="76.1" x2="606" y2="79.1" stroke="#f0502a" stroke-width="0.6"/>
<line x1="608" y1="76.1" x2="608" y2="79.1" stroke="#f0502a" stroke-width="0.6"/>
<line x1="612" y1="76.1" x2="612" y2="79.1" stroke="#f0502a" stroke-width="0.6"/>
<line x1="616" y1="76.1" x2="616" y2="79.1" stroke="#f0502a" stroke-width="0.6"/>
<line x1="627" y1="76.1" x2="627" y2="79.1" stroke="#f0502a" stroke-width="0.6"/>
<line x1="632" y1="76.1" x2="632" y2="79.1" stroke="#f0502a" stroke-width="0.6"/>
<line x1="638" y1="76.1" x2="638" y2="79.1" stroke="#f0502a" stroke-width="0.6"/>
<line x1="646" y1="76.1" x2="646" y2="79.1" stroke="#f0502a" stroke-width="0.6"/>
<line x1="653" y1="76.1" x2="653" y2="79.1" stroke="#f0502a" stroke-width="0.6"/>
<polyline points="534.7,12.6 536.4,12.6 536.4,32.4 538.2,32.4 538.2,39.5 541.7,39.5 541.7,46.8 550.4,46.8 550.4,71.6 555.4,71.6 555.4,88.4 566.7,88.4 566.7,104.7 600.7,104.7" fill="none" stroke="#3a7ff0" stroke-width="1.2" stroke-linejoin="round" stroke-linejoin="miter"/>
<line x1="599.2" y1="103.2" x2="599.2" y2="106.2" stroke="#3a7ff0" stroke-width="0.7"/>
<line x1="598" y1="104.7" x2="602" y2="104.7" stroke="#3a7ff0" stroke-width="0.7"/>
<line x1="543" y1="45.3" x2="543" y2="48.3" stroke="#3a7ff0" stroke-width="0.7"/>
<line x1="544.5" y1="45.3" x2="544.5" y2="48.3" stroke="#3a7ff0" stroke-width="0.7"/>
<line x1="546" y1="45.3" x2="546" y2="48.3" stroke="#3a7ff0" stroke-width="0.7"/>
<line x1="607.1" y1="13.3" x2="616.6" y2="13.3" stroke="#f0502a" stroke-width="1"/>
<line x1="607.1" y1="18.2" x2="616.6" y2="18.2" stroke="#3a7ff0" stroke-width="1"/>
<text x="618.8" y="15.2" font-size="5.15">Low myc Group</text>
<text x="618.8" y="20.1" font-size="5.15">High myc Group</text>
<text x="654.9" y="26.6" font-size="5.15" text-anchor="end">Logrank p=0.024</text>
<text x="654.9" y="32.65" font-size="5.15" text-anchor="end">HR(high)=2.3</text>
<text x="654.9" y="38.7" font-size="5.15" text-anchor="end">p(HR)=0.026</text>
<text x="654.9" y="44.75" font-size="5.15" text-anchor="end">n(high)=90</text>
<text x="654.9" y="50.8" font-size="5.15" text-anchor="end">n(low)=90</text>
<defs><filter id="bl1" x="-20%" y="-100%" width="140%" height="300%"><feGaussianBlur stdDeviation="0.9 0.7"/></filter><filter id="bl2" x="-20%" y="-100%" width="140%" height="300%"><feGaussianBlur stdDeviation="1.6 1.4"/></filter></defs>
<text x="-0.6" y="174.3" font-size="14">(D)</text>
<rect x="40.4" y="219.2" width="90.4" height="21.6" fill="#f6f6f6" stroke="#000" stroke-width="1.2"/>
<rect x="40.4" y="245.2" width="90.4" height="22.2" fill="#f6f6f6" stroke="#000" stroke-width="1.2"/>
<g>
<defs><linearGradient id="sm1" x1="0" y1="0" x2="0" y2="1"><stop offset="0" stop-color="#bbb" stop-opacity="0.3"/><stop offset="1" stop-color="#555" stop-opacity="0.9"/></linearGradient></defs>
<rect x="45.5" y="221.5" width="18" height="9" rx="2" fill="url(#sm1)" filter="url(#bl2)"/>
<rect x="45.5" y="228.1" width="18" height="4.6" rx="2.3" fill="#000" opacity="1" filter="url(#bl1)"/>
<rect x="66.8" y="229.1" width="17" height="2.6" rx="1.3" fill="#555" opacity="0.85" filter="url(#bl1)"/>
<rect x="87.55" y="228.1" width="16.5" height="3.8" rx="1.9" fill="#000" opacity="1" filter="url(#bl1)"/>
<rect x="107.6" y="229.3" width="17" height="2.2" rx="1.1" fill="#aaa" opacity="0.6" filter="url(#bl1)"/>
<rect x="47.55" y="254.55" width="16.5" height="2.9" rx="1.45" fill="#000" opacity="1" filter="url(#bl1)"/>
<rect x="67.55" y="254.55" width="16.5" height="2.9" rx="1.45" fill="#000" opacity="1" filter="url(#bl1)"/>
<rect x="87.55" y="254.55" width="16.5" height="2.9" rx="1.45" fill="#000" opacity="1" filter="url(#bl1)"/>
<rect x="107.85" y="254.55" width="16.5" height="2.9" rx="1.45" fill="#000" opacity="1" filter="url(#bl1)"/>
</g>
<line x1="130.8" y1="229.5" x2="136.5" y2="229.5" stroke="#000" stroke-width="1.2"/>
<line x1="130.8" y1="253.4" x2="136.5" y2="253.4" stroke="#000" stroke-width="1.2"/>
<text x="137.3" y="233.3" font-size="8.3">57kda</text>
<text x="137.3" y="257.5" font-size="8.3">37kda</text>
<text x="35" y="232.4" font-size="9.1" text-anchor="end">c-MYC</text>
<text x="35" y="259.8" font-size="8.9" text-anchor="end">GAPDH</text>
<text x="55" y="214.6" font-size="8.5" transform="rotate(-58 55 214.6)">CTR</text>
<text x="78.5" y="214.6" font-size="8.5" transform="rotate(-58 78.5 214.6)">1μM Chi</text>
<text x="98.5" y="214.6" font-size="8.5" transform="rotate(-58 98.5 214.6)">2μM ARA-C</text>
<text x="120.5" y="214.6" font-size="8.5" transform="rotate(-58 120.5 214.6)">Chi+ARA-C</text>
<line x1="206.5" y1="165.6" x2="206.5" y2="262.5" stroke="#000" stroke-width="1.1"/>
<line x1="203.1" y1="262" x2="206.5" y2="262" stroke="#000" stroke-width="1.1"/>
<text x="201.9" y="264.7" font-size="7.4" text-anchor="end">0.0</text>
<line x1="203.1" y1="229.87" x2="206.5" y2="229.87" stroke="#000" stroke-width="1.1"/>
<text x="201.9" y="232.57" font-size="7.4" text-anchor="end">0.5</text>
<line x1="203.1" y1="197.73" x2="206.5" y2="197.73" stroke="#000" stroke-width="1.1"/>
<text x="201.9" y="200.43" font-size="7.4" text-anchor="end">1.0</text>
<line x1="203.1" y1="165.6" x2="206.5" y2="165.6" stroke="#000" stroke-width="1.1"/>
<text x="201.9" y="168.3" font-size="7.4" text-anchor="end">1.5</text>
<line x1="203.1" y1="262" x2="270.8" y2="262" stroke="#000" stroke-width="1.1"/>
<line x1="238.4" y1="262" x2="238.4" y2="265.5" stroke="#000" stroke-width="1.1"/>
<text x="238.4" y="274" font-size="8" text-anchor="middle">c-MYC</text>
<path d="M212.75,262 V197.73 H220.55 V262" fill="none" stroke="#5a2d91" stroke-width="1.3"/>
<line x1="216.65" y1="197.73" x2="216.65" y2="191.95" stroke="#5a2d91" stroke-width="1.1"/>
<line x1="213.65" y1="191.95" x2="219.65" y2="191.95" stroke="#5a2d91" stroke-width="1.1"/>
<line x1="216.65" y1="197.73" x2="216.65" y2="203.52" stroke="#5a2d91" stroke-width="0.8"/>
<line x1="214.15" y1="203.52" x2="219.15" y2="203.52" stroke="#5a2d91" stroke-width="0.6"/>
<path d="M227.55,262 V230.51 H234.95 V262" fill="none" stroke="#1ea0ff" stroke-width="1.3"/>
<line x1="231.25" y1="230.51" x2="231.25" y2="228.26" stroke="#1ea0ff" stroke-width="1.1"/>
<line x1="228.25" y1="228.26" x2="234.25" y2="228.26" stroke="#1ea0ff" stroke-width="1.1"/>
<line x1="231.25" y1="230.51" x2="231.25" y2="232.76" stroke="#1ea0ff" stroke-width="0.8"/>
<line x1="228.75" y1="232.76" x2="233.75" y2="232.76" stroke="#1ea0ff" stroke-width="0.6"/>
<path d="M242.25,262 V216.37 H249.85 V262" fill="none" stroke="#2a9a9a" stroke-width="1.3"/>
<line x1="246.05" y1="216.37" x2="246.05" y2="213.16" stroke="#2a9a9a" stroke-width="1.1"/>
<line x1="243.05" y1="213.16" x2="249.05" y2="213.16" stroke="#2a9a9a" stroke-width="1.1"/>
<line x1="246.05" y1="216.37" x2="246.05" y2="219.58" stroke="#2a9a9a" stroke-width="0.8"/>
<line x1="243.55" y1="219.58" x2="248.55" y2="219.58" stroke="#2a9a9a" stroke-width="0.6"/>
<path d="M257.25,262 V250.43 H264.75 V262" fill="none" stroke="#ff9c1e" stroke-width="1.3"/>
<line x1="261" y1="250.43" x2="261" y2="249.15" stroke="#ff9c1e" stroke-width="1.1"/>
<line x1="258" y1="249.15" x2="264" y2="249.15" stroke="#ff9c1e" stroke-width="1.1"/>
<line x1="261" y1="250.43" x2="261" y2="251.72" stroke="#ff9c1e" stroke-width="0.8"/>
<line x1="258.5" y1="251.72" x2="263.5" y2="251.72" stroke="#ff9c1e" stroke-width="0.6"/>
<text x="177.7" y="213.2" font-size="7.6" text-anchor="middle" transform="rotate(-90 177.7 213.2)">Relative protein expression</text>
<text x="186.4" y="213.2" font-size="7.6" text-anchor="middle" transform="rotate(-90 186.4 213.2)">normalized to GAPDH</text>
<line x1="249.4" y1="206.7" x2="266.6" y2="206.7" stroke="#000" stroke-width="1.3"/>
<text x="257.5" y="207.9" font-size="10.5" text-anchor="middle" font-weight="bold">**</text>
<circle cx="276.5" cy="172.2" r="1.1" fill="#5a2d91"/>
<text x="287.8" y="174.9" font-size="7.6">CTR</text>
<rect x="275.4" y="184.8" width="2.2" height="2.2" fill="#1ea0ff"/>
<text x="287.8" y="188.6" font-size="7.6">Chi</text>
<path d="M275.2,200.2 L277.8,200.2 L276.5,197.9 Z" fill="#2a9a9a" stroke="none" stroke-width="0"/>
<text x="287.8" y="201.9" font-size="7.6">ARA-C</text>
<path d="M275.2,211.5 L277.8,211.5 L276.5,213.8 Z" fill="#ff9c1e" stroke="none" stroke-width="0"/>
<text x="287.8" y="215.2" font-size="7.6">Chi+ARA-C</text>
<text x="335" y="174.8" font-size="14">(E)</text>
<rect x="385.2" y="218.3" width="89.2" height="21.6" fill="#f6f6f6" stroke="#000" stroke-width="1.2"/>
<rect x="385.2" y="245" width="89.2" height="22.5" fill="#f6f6f6" stroke="#000" stroke-width="1.2"/>
<rect x="387" y="225.1" width="19" height="4.4" rx="2.2" fill="#000" opacity="1" filter="url(#bl1)"/>
<rect x="387" y="231.6" width="19" height="2.8" rx="1.4" fill="#555" opacity="0.8" filter="url(#bl1)"/>
<rect x="409.1" y="225.1" width="19" height="4.4" rx="2.2" fill="#000" opacity="1" filter="url(#bl1)"/>
<rect x="409.1" y="231.6" width="19" height="2.8" rx="1.4" fill="#555" opacity="0.8" filter="url(#bl1)"/>
<rect x="431.1" y="225.1" width="19" height="4.4" rx="2.2" fill="#000" opacity="1" filter="url(#bl1)"/>
<rect x="431.1" y="231.6" width="19" height="2.8" rx="1.4" fill="#555" opacity="0.8" filter="url(#bl1)"/>
<rect x="453.4" y="226.3" width="17" height="2.6" rx="1.3" fill="#888" opacity="0.6" filter="url(#bl1)"/>
<rect x="453.4" y="232.2" width="17" height="2" rx="1" fill="#ccc" opacity="0.4" filter="url(#bl2)"/>
<rect x="387.5" y="254.65" width="18" height="3.3" rx="1.65" fill="#000" opacity="1" filter="url(#bl1)"/>
<rect x="409.6" y="254.65" width="18" height="3.3" rx="1.65" fill="#000" opacity="1" filter="url(#bl1)"/>
<rect x="431.6" y="254.65" width="18" height="3.3" rx="1.65" fill="#000" opacity="1" filter="url(#bl1)"/>
<rect x="453.3" y="254.65" width="18" height="3.3" rx="1.65" fill="#000" opacity="1" filter="url(#bl1)"/>
<line x1="474.4" y1="227.7" x2="480.5" y2="227.7" stroke="#000" stroke-width="1.2"/>
<line x1="474.4" y1="254.5" x2="480.5" y2="254.5" stroke="#000" stroke-width="1.2"/>
<text x="481.2" y="230.9" font-size="8.3">57kda</text>
<text x="481.2" y="258.2" font-size="8.3">37kda</text>
<text x="379.4" y="233.2" font-size="8" text-anchor="end">c-MYC</text>
<text x="379.4" y="259.5" font-size="8" text-anchor="end">GAPDH</text>
<text x="398" y="214.6" font-size="8" transform="rotate(-58 398 214.6)">100nM MG132</text>
<text x="420.5" y="214.6" font-size="8" transform="rotate(-58 420.5 214.6)">1μM Chi+MG132</text>
<text x="443" y="214.6" font-size="8" transform="rotate(-58 443 214.6)">2μM ARA-C+MG132</text>
<text x="465.5" y="214.6" font-size="8" transform="rotate(-58 465.5 214.6)">Chi+ARA-C+MG132</text>
<line x1="541.2" y1="177.2" x2="541.2" y2="264.6" stroke="#000" stroke-width="1.1"/>
<line x1="537.8" y1="264.1" x2="541.2" y2="264.1" stroke="#000" stroke-width="1.1"/>
<text x="536.6" y="266.8" font-size="7.4" text-anchor="end">0.0</text>
<line x1="537.8" y1="235.13" x2="541.2" y2="235.13" stroke="#000" stroke-width="1.1"/>
<text x="536.6" y="237.83" font-size="7.4" text-anchor="end">0.5</text>
<line x1="537.8" y1="206.17" x2="541.2" y2="206.17" stroke="#000" stroke-width="1.1"/>
<text x="536.6" y="208.87" font-size="7.4" text-anchor="end">1.0</text>
<line x1="537.8" y1="177.2" x2="541.2" y2="177.2" stroke="#000" stroke-width="1.1"/>
<text x="536.6" y="179.9" font-size="7.4" text-anchor="end">1.5</text>
<line x1="537.8" y1="264.1" x2="599.4" y2="264.1" stroke="#000" stroke-width="1.1"/>
<line x1="570" y1="264.1" x2="570" y2="267.6" stroke="#000" stroke-width="1.1"/>
<text x="570" y="274.5" font-size="8" text-anchor="middle">c-MYC</text>
<path d="M546.65,264.1 V206.17 H553.95 V264.1" fill="none" stroke="#5a2d91" stroke-width="1.3"/>
<line x1="550.3" y1="206.17" x2="550.3" y2="204.43" stroke="#5a2d91" stroke-width="1.1"/>
<line x1="547.3" y1="204.43" x2="553.3" y2="204.43" stroke="#5a2d91" stroke-width="1.1"/>
<line x1="550.3" y1="206.17" x2="550.3" y2="207.9" stroke="#5a2d91" stroke-width="0.8"/>
<line x1="547.8" y1="207.9" x2="552.8" y2="207.9" stroke="#5a2d91" stroke-width="0.6"/>
<path d="M560.35,264.1 V209.93 H567.25 V264.1" fill="none" stroke="#1ea0ff" stroke-width="1.3"/>
<line x1="563.8" y1="209.93" x2="563.8" y2="209.35" stroke="#1ea0ff" stroke-width="1.1"/>
<line x1="560.8" y1="209.35" x2="566.8" y2="209.35" stroke="#1ea0ff" stroke-width="1.1"/>
<line x1="563.8" y1="209.93" x2="563.8" y2="210.51" stroke="#1ea0ff" stroke-width="0.8"/>
<line x1="561.3" y1="210.51" x2="566.3" y2="210.51" stroke="#1ea0ff" stroke-width="0.6"/>
<path d="M574.05,264.1 V216.59 H580.95 V264.1" fill="none" stroke="#2a9a9a" stroke-width="1.3"/>
<line x1="577.5" y1="216.59" x2="577.5" y2="213.7" stroke="#2a9a9a" stroke-width="1.1"/>
<line x1="574.5" y1="213.7" x2="580.5" y2="213.7" stroke="#2a9a9a" stroke-width="1.1"/>
<line x1="577.5" y1="216.59" x2="577.5" y2="219.49" stroke="#2a9a9a" stroke-width="0.8"/>
<line x1="575" y1="219.49" x2="580" y2="219.49" stroke="#2a9a9a" stroke-width="0.6"/>
<path d="M587.35,264.1 V251.93 H594.05 V264.1" fill="none" stroke="#ff9c1e" stroke-width="1.3"/>
<line x1="590.7" y1="251.93" x2="590.7" y2="250.2" stroke="#ff9c1e" stroke-width="1.1"/>
<line x1="587.7" y1="250.2" x2="593.7" y2="250.2" stroke="#ff9c1e" stroke-width="1.1"/>
<line x1="590.7" y1="251.93" x2="590.7" y2="253.67" stroke="#ff9c1e" stroke-width="0.8"/>
<line x1="588.2" y1="253.67" x2="593.2" y2="253.67" stroke="#ff9c1e" stroke-width="0.6"/>
<text x="514.8" y="219.5" font-size="7" text-anchor="middle" transform="rotate(-90 514.8 219.5)">Relative protein expression</text>
<text x="523.3" y="219.5" font-size="7" text-anchor="middle" transform="rotate(-90 523.3 219.5)">normalized to GAPDH</text>
<line x1="578.8" y1="210.9" x2="594.7" y2="210.9" stroke="#000" stroke-width="1.3"/>
<text x="586.25" y="212.1" font-size="10.5" text-anchor="middle" font-weight="bold">**</text>
<circle cx="602.6" cy="162.3" r="1.1" fill="#5a2d91"/>
<text x="612.7" y="165" font-size="7">MG132</text>
<rect x="601.5" y="173.9" width="2.2" height="2.2" fill="#1ea0ff"/>
<text x="612.7" y="177.7" font-size="7">Chi+MG132</text>
<path d="M601.3,187.8 L603.9,187.8 L602.6,185.5 Z" fill="#2a9a9a" stroke="none" stroke-width="0"/>
<text x="612.7" y="189.5" font-size="7">ARA-C+MG132</text>
<path d="M601.3,198.1 L603.9,198.1 L602.6,200.4 Z" fill="#ff9c1e" stroke="none" stroke-width="0"/>
<text x="612.7" y="201.8" font-size="7">Chi+ARA-C+MG132</text>
<text x="-0.6" y="293.1" font-size="14">(F)</text>
<line x1="27.6" y1="289" x2="27.6" y2="399" stroke="#000" stroke-width="1"/>
<line x1="25.1" y1="289" x2="27.6" y2="289" stroke="#000" stroke-width="0.9"/>
<text x="24.4" y="291.2" font-size="6.2" text-anchor="end">8</text>
<line x1="25.1" y1="311" x2="27.6" y2="311" stroke="#000" stroke-width="0.9"/>
<text x="24.4" y="313.2" font-size="6.2" text-anchor="end">6</text>
<line x1="25.1" y1="333" x2="27.6" y2="333" stroke="#000" stroke-width="0.9"/>
<text x="24.4" y="335.2" font-size="6.2" text-anchor="end">4</text>
<line x1="25.1" y1="355" x2="27.6" y2="355" stroke="#000" stroke-width="0.9"/>
<text x="24.4" y="357.2" font-size="6.2" text-anchor="end">2</text>
<line x1="25.1" y1="377" x2="27.6" y2="377" stroke="#000" stroke-width="0.9"/>
<text x="24.4" y="379.2" font-size="6.2" text-anchor="end">0</text>
<line x1="25.1" y1="399" x2="27.6" y2="399" stroke="#000" stroke-width="0.9"/>
<text x="24.4" y="401.2" font-size="6.2" text-anchor="end">-2</text>
<line x1="27.6" y1="399" x2="155.79" y2="399" stroke="#000" stroke-width="1"/>
<line x1="27.6" y1="399" x2="27.6" y2="401.6" stroke="#000" stroke-width="0.8"/>
<text x="27.6" y="408.4" font-size="6.6" text-anchor="middle">0</text>
<line x1="31.87" y1="399" x2="31.87" y2="400.4" stroke="#000" stroke-width="0.8"/>
<line x1="36.15" y1="399" x2="36.15" y2="400.4" stroke="#000" stroke-width="0.8"/>
<line x1="40.42" y1="399" x2="40.42" y2="400.4" stroke="#000" stroke-width="0.8"/>
<line x1="44.69" y1="399" x2="44.69" y2="400.4" stroke="#000" stroke-width="0.8"/>
<line x1="48.97" y1="399" x2="48.97" y2="400.4" stroke="#000" stroke-width="0.8"/>
<line x1="53.24" y1="399" x2="53.24" y2="400.4" stroke="#000" stroke-width="0.8"/>
<line x1="57.51" y1="399" x2="57.51" y2="400.4" stroke="#000" stroke-width="0.8"/>
<line x1="61.78" y1="399" x2="61.78" y2="400.4" stroke="#000" stroke-width="0.8"/>
<line x1="66.06" y1="399" x2="66.06" y2="400.4" stroke="#000" stroke-width="0.8"/>
<line x1="70.33" y1="399" x2="70.33" y2="401.6" stroke="#000" stroke-width="0.8"/>
<text x="70.33" y="408.4" font-size="6.6" text-anchor="middle">100</text>
<line x1="74.6" y1="399" x2="74.6" y2="400.4" stroke="#000" stroke-width="0.8"/>
<line x1="78.88" y1="399" x2="78.88" y2="400.4" stroke="#000" stroke-width="0.8"/>
<line x1="83.15" y1="399" x2="83.15" y2="400.4" stroke="#000" stroke-width="0.8"/>
<line x1="87.42" y1="399" x2="87.42" y2="400.4" stroke="#000" stroke-width="0.8"/>
<line x1="91.69" y1="399" x2="91.69" y2="400.4" stroke="#000" stroke-width="0.8"/>
<line x1="95.97" y1="399" x2="95.97" y2="400.4" stroke="#000" stroke-width="0.8"/>
<line x1="100.24" y1="399" x2="100.24" y2="400.4" stroke="#000" stroke-width="0.8"/>
<line x1="104.51" y1="399" x2="104.51" y2="400.4" stroke="#000" stroke-width="0.8"/>
<line x1="108.79" y1="399" x2="108.79" y2="400.4" stroke="#000" stroke-width="0.8"/>
<line x1="113.06" y1="399" x2="113.06" y2="401.6" stroke="#000" stroke-width="0.8"/>
<text x="113.06" y="408.4" font-size="6.6" text-anchor="middle">200</text>
<line x1="117.33" y1="399" x2="117.33" y2="400.4" stroke="#000" stroke-width="0.8"/>
<line x1="121.61" y1="399" x2="121.61" y2="400.4" stroke="#000" stroke-width="0.8"/>
<line x1="125.88" y1="399" x2="125.88" y2="400.4" stroke="#000" stroke-width="0.8"/>
<line x1="130.15" y1="399" x2="130.15" y2="400.4" stroke="#000" stroke-width="0.8"/>
<line x1="134.43" y1="399" x2="134.43" y2="400.4" stroke="#000" stroke-width="0.8"/>
<line x1="138.7" y1="399" x2="138.7" y2="400.4" stroke="#000" stroke-width="0.8"/>
<line x1="142.97" y1="399" x2="142.97" y2="400.4" stroke="#000" stroke-width="0.8"/>
<line x1="147.24" y1="399" x2="147.24" y2="400.4" stroke="#000" stroke-width="0.8"/>
<line x1="151.52" y1="399" x2="151.52" y2="400.4" stroke="#000" stroke-width="0.8"/>
<line x1="155.79" y1="399" x2="155.79" y2="401.6" stroke="#000" stroke-width="0.8"/>
<text x="155.79" y="408.4" font-size="6.6" text-anchor="middle">300</text>
<text x="91.69" y="417.3" font-size="6.8" text-anchor="middle">Time(s)</text>
<line x1="27.6" y1="377" x2="155.79" y2="377" stroke="#999" stroke-width="0.7" stroke-dasharray="1.6,1.2"/>
<text x="15.9" y="345" font-size="6" text-anchor="middle" transform="rotate(-90 15.9 345)">Response Unit&#160;&#160;(RU)</text>
<polyline points="27.6,376.91 28.03,376.69 28.45,376.4 28.88,377 29.31,378.04 29.74,377.63 30.16,377.56 30.59,377.63 31.02,376.98 31.45,375.48 31.87,376.07 32.3,377.61 32.73,377.18 33.15,376.83 33.58,376.08 34.01,376.65 34.44,377.82 34.86,378.53 35.29,378.6 35.72,377.24 36.15,376.64 36.57,377.6 37,377.86 37.43,377.21 37.86,376.67 38.28,377.06 38.71,377.53 39.14,378.29 39.56,378.85 39.99,376.71 40.42,377.35 40.85,378.57 41.27,377.07 41.7,377.1 42.13,377.74 42.56,377.54 42.98,377.04 43.41,377.05 43.84,378.22 44.26,378.26 44.69,377.62 45.12,377.87 45.55,377.2 45.97,376.46 46.4,376.04 46.83,376.75 47.26,376.73 47.68,375.69 48.11,375.56 48.54,375.43 48.97,376.23 49.39,377.2 49.82,376.59 50.25,377.34 50.67,377.72 51.1,377.2 51.53,377.56 51.96,378.31 52.38,378.64 52.81,377.57 53.24,376.46 53.67,375.83 54.09,363.6 54.52,351.5 54.95,339.13 55.37,333.82 55.8,328.5 56.23,323.43 56.66,320.9 57.08,320.01 57.51,320.75 57.94,320.84 58.37,320.38 58.79,320.16 59.22,318.01 59.65,316.7 60.07,318.02 60.5,317.33 60.93,315.17 61.36,315.37 61.78,316.14 62.21,315.7 62.64,314.68 63.07,313.64 63.49,312.65 63.92,311.87 64.35,311.44 64.78,310.92 65.2,310.82 65.63,312.19 66.06,312.25 66.48,310.89 66.91,310.84 67.34,310.26 67.77,310.03 68.19,310.96 68.62,309.63 69.05,308.43 69.48,308.98 69.9,308.6 70.33,307.87 70.76,308.02 71.18,310 71.61,310.42 72.04,309.21 72.47,309.44 72.89,309.07 73.32,307.75 73.75,308.21 74.18,309.7 74.6,308.17 75.03,307.78 75.46,309.85 75.88,309.46 76.31,308.46 76.74,309.08 77.17,308.89 77.59,308.79 78.02,309.9 78.45,309.52 78.88,308.5 79.3,309.04 79.73,309.27 80.16,308.88 80.59,307.28 81.01,307.61 81.44,308.46 81.87,308 82.29,308.89 82.72,308.35 83.15,307.67 83.58,307.28 84,307.58 84.43,308.69 84.86,309.18 85.29,308.55 85.71,307.92 86.14,307.43 86.57,307.59 86.99,307.86 87.42,307.24 87.85,307.86 88.28,309.79 88.7,310.69 89.13,310.73 89.56,309.07 89.99,308.76 90.41,309.05 90.84,308.22 91.27,313.97 91.69,319.76 92.12,326.94 92.55,335.25 92.98,342.7 93.4,350.03 93.83,357.97 94.26,359.2 94.69,358.97 95.11,361.11 95.54,363.05 95.97,363.65 96.4,364.8 96.82,364.1 97.25,364.63 97.68,365.06 98.1,366.4 98.53,366.58 98.96,366.35 99.39,367.03 99.81,366.93 100.24,369.31 100.67,370.28 101.1,368.92 101.52,367.87 101.95,368.3 102.38,369.58 102.8,371.11 103.23,370.85 103.66,369.32 104.09,370.67 104.51,372.4 104.94,373.9 105.37,373.68 105.8,371.47 106.22,371.77 106.65,372.86 107.08,373.16 107.51,374.75 107.93,374.45 108.36,374.8 108.79,375.96 109.21,375.21 109.64,374.72 110.07,374.83 110.5,375.34 110.92,376.26 111.35,377.5 111.78,377.18 112.21,377.02 112.63,378.06 113.06,378.6 113.49,378.1 113.91,378.47 114.34,379.01 114.77,378.89 115.2,377.94 115.62,376.68 116.05,375.55 116.48,376.74 116.91,378.42 117.33,376.93 117.76,376.65 118.19,377.43 118.61,376.24 119.04,376.26 119.47,378.05 119.9,378.66 120.32,377.74 120.75,376.74 121.18,377.81 121.61,378.62 122.03,377.44 122.46,376.48 122.89,377.22 123.32,377.2 123.74,376.45 124.17,377.96 124.6,378.51 125.02,377.15 125.45,377.32 125.88,378.92 126.31,378.75 126.73,376.96 127.16,375.8 127.59,377.64 128.02,377.01 128.44,376.35 128.87,377.39 129.3,375.93 129.72,375.92 130.15,376.61 130.58,377.95 131.01,377.66 131.43,377.39 131.86,379.36 132.29,377.16 132.72,375.16 133.14,375.79 133.57,376.81 134,377.03 134.43,375.48 134.85,375.44 135.28,376.45 135.71,378.17 136.13,378.28 136.56,378.91 136.99,379.86 137.42,378.44 137.84,378.01 138.27,378.18 138.7,377.63 139.13,376.34 139.55,375.47 139.98,376.71 140.41,376.77 140.83,377.24 141.26,378.21 141.69,377.16 142.12,377.73 142.54,378.48 142.97,378.54 143.4,378.3" fill="none" stroke="#ff9a18" stroke-width="1.05" stroke-linejoin="round"/>
<polyline points="27.6,377.31 28.03,376.63 28.45,374.14 28.88,374.22 29.31,375.65 29.74,376.13 30.16,374.94 30.59,375.78 31.02,377.26 31.45,376.18 31.87,375.51 32.3,376.21 32.73,376.55 33.15,376.43 33.58,376.57 34.01,376.46 34.44,377.44 34.86,377.35 35.29,375.78 35.72,376.52 36.15,377.39 36.57,376.12 37,376.77 37.43,377.14 37.86,377.13 38.28,376.39 38.71,373.77 39.14,373.08 39.56,375.05 39.99,376.04 40.42,375.78 40.85,376.28 41.27,375.17 41.7,376.27 42.13,376.66 42.56,375.67 42.98,375.39 43.41,375.21 43.84,376.83 44.26,376.76 44.69,375.66 45.12,375.85 45.55,376.04 45.97,376.48 46.4,378.52 46.83,377.41 47.26,375.21 47.68,375.79 48.11,376.28 48.54,375.59 48.97,376 49.39,377.36 49.82,377.15 50.25,375.67 50.67,376.6 51.1,376.6 51.53,376.02 51.96,377.8 52.38,376.33 52.81,375.55 53.24,377.54 53.67,377.74 54.09,368.85 54.52,360.5 54.95,354.4 55.37,351.17 55.8,346.43 56.23,343.4 56.66,343.17 57.08,342.18 57.51,342.37 57.94,342.21 58.37,341.24 58.79,340.32 59.22,340.31 59.65,340.15 60.07,338.68 60.5,338.01 60.93,338.02 61.36,337.08 61.78,337.14 62.21,336.14 62.64,337.07 63.07,338.04 63.49,337.48 63.92,336.5 64.35,334.76 64.78,337.55 65.2,339.46 65.63,337.26 66.06,335.72 66.48,335.46 66.91,335.93 67.34,335.94 67.77,335.18 68.19,335.39 68.62,334.89 69.05,336.39 69.48,336.49 69.9,335.33 70.33,334.88 70.76,334.05 71.18,335.28 71.61,334.61 72.04,334.65 72.47,335.68 72.89,336.21 73.32,335.55 73.75,333.97 74.18,333.17 74.6,333.7 75.03,333.7 75.46,333.6 75.88,334.51 76.31,334.11 76.74,333.23 77.17,333.97 77.59,335.01 78.02,334.89 78.45,334.66 78.88,335.26 79.3,334.55 79.73,334.14 80.16,334.57 80.59,334.88 81.01,334.94 81.44,333.98 81.87,334.57 82.29,333.28 82.72,332.65 83.15,332.82 83.58,332.35 84,334.23 84.43,335.25 84.86,334.38 85.29,334.02 85.71,334.3 86.14,334.55 86.57,335.98 86.99,335.92 87.42,336.22 87.85,335.73 88.28,334.56 88.7,335.38 89.13,334.97 89.56,334.19 89.99,335.11 90.41,336.93 90.84,336.89 91.27,337.37 91.69,337.54 92.12,341.34 92.55,348.03 92.98,355.38 93.4,362.25 93.83,369.14 94.26,368.47 94.69,368.9 95.11,368.35 95.54,367.09 95.97,367.53 96.4,368.94 96.82,370 97.25,369.79 97.68,369.37 98.1,369.32 98.53,369.31 98.96,368.75 99.39,370.4 99.81,372.14 100.24,370.06 100.67,370.24 101.1,371.69 101.52,371.77 101.95,372.37 102.38,372.21 102.8,369.38 103.23,368.72 103.66,371.62 104.09,373.33 104.51,372.92 104.94,371.6 105.37,372.06 105.8,373.52 106.22,372.33 106.65,371.26 107.08,372.38 107.51,374.06 107.93,375.11 108.36,374.94 108.79,375.63 109.21,374.66 109.64,373.57 110.07,373.93 110.5,372.14 110.92,371.76 111.35,374.26 111.78,374.65 112.21,373.01 112.63,374.42 113.06,376.22 113.49,375.88 113.91,376.54 114.34,375.47 114.77,376.25 115.2,378.41 115.62,376.9 116.05,376.37 116.48,376.19 116.91,375.95 117.33,376.41 117.76,375.74 118.19,377.25 118.61,378.14 119.04,377.04 119.47,376.95 119.9,376.23 120.32,377.05 120.75,377.73 121.18,376.41 121.61,375.65 122.03,376.81 122.46,375.5 122.89,373.18 123.32,375.92 123.74,377.49 124.17,374.41 124.6,374.04 125.02,375.83 125.45,376.61 125.88,377.21 126.31,377.23 126.73,377.24 127.16,376.51 127.59,376.4 128.02,377.33 128.44,377.96 128.87,377.67 129.3,377.44 129.72,377.55 130.15,376.05 130.58,375.63 131.01,376.06 131.43,376.08 131.86,376.43 132.29,376.82 132.72,377.11 133.14,376.43 133.57,377.05 134,376.6 134.43,375.74 134.85,377.38 135.28,377.79 135.71,377.74 136.13,377.25 136.56,377.29 136.99,376.53 137.42,376.59 137.84,379.26 138.27,379.23 138.7,379.03 139.13,378.5 139.55,376.13 139.98,375.6 140.41,377.47 140.83,378.58 141.26,376.16 141.69,375.33 142.12,376.72 142.54,376.16 142.97,374.26 143.4,374.08" fill="none" stroke="#c43cff" stroke-width="1.05" stroke-linejoin="round"/>
<polyline points="27.6,376.74 28.03,378.19 28.45,378.76 28.88,377.83 29.31,378.25 29.74,379.67 30.16,379.22 30.59,376.52 31.02,375.91 31.45,377.19 31.87,377.53 32.3,376.37 32.73,378.71 33.15,379.47 33.58,376.64 34.01,375.95 34.44,374.96 34.86,374.57 35.29,375.76 35.72,376.47 36.15,376.07 36.57,376.79 37,377.5 37.43,376.26 37.86,374.55 38.28,375.46 38.71,377.18 39.14,376.87 39.56,375.68 39.99,375.88 40.42,375.77 40.85,376.57 41.27,377.99 41.7,377.33 42.13,376.5 42.56,375.43 42.98,377.4 43.41,379.07 43.84,377.49 44.26,377.28 44.69,378.87 45.12,377.41 45.55,375.69 45.97,376.16 46.4,376.98 46.83,376.53 47.26,376.32 47.68,376.27 48.11,376.84 48.54,378.51 48.97,377.56 49.39,377.43 49.82,377.02 50.25,376.2 50.67,377.57 51.1,377.73 51.53,377.24 51.96,376.52 52.38,376.76 52.81,377.92 53.24,376.34 53.67,374.05 54.09,366.22 54.52,360.94 54.95,360.81 55.37,357.9 55.8,356.54 56.23,357.04 56.66,355.19 57.08,352.31 57.51,351.47 57.94,353.17 58.37,353.59 58.79,351.52 59.22,350.84 59.65,351.44 60.07,350.51 60.5,349.76 60.93,350.13 61.36,350.14 61.78,350.52 62.21,351.16 62.64,351.18 63.07,349.8 63.49,348.85 63.92,350.36 64.35,350.54 64.78,350 65.2,349 65.63,350.08 66.06,351.47 66.48,350.33 66.91,347.18 67.34,345.94 67.77,348.11 68.19,348.22 68.62,346.27 69.05,346.98 69.48,348.96 69.9,347.62 70.33,346.79 70.76,347.16 71.18,347.92 71.61,346.75 72.04,344.85 72.47,346.01 72.89,346.89 73.32,349.11 73.75,349.15 74.18,347.58 74.6,347.75 75.03,347 75.46,347.67 75.88,349.7 76.31,349.09 76.74,348.28 77.17,348.88 77.59,348.76 78.02,348.77 78.45,350.23 78.88,348.89 79.3,346.7 79.73,346.79 80.16,345.32 80.59,346.25 81.01,349.48 81.44,350.27 81.87,349.76 82.29,349.42 82.72,348.32 83.15,349.6 83.58,349.38 84,349.1 84.43,349.28 84.86,348.22 85.29,348.88 85.71,348.99 86.14,349.32 86.57,349.92 86.99,351.04 87.42,350.68 87.85,347.8 88.28,346.22 88.7,346.81 89.13,348.04 89.56,349.89 89.99,349.39 90.41,349 90.84,350.43 91.27,350.77 91.69,350.77 92.12,356.94 92.55,363.14 92.98,369.75 93.4,376.05 93.83,373.22 94.26,373 94.69,375.21 95.11,374.74 95.54,373.98 95.97,375.43 96.4,376.26 96.82,374.57 97.25,374.21 97.68,374.94 98.1,373.89 98.53,374.62 98.96,375.93 99.39,375.84 99.81,374.69 100.24,375.96 100.67,377.86 101.1,376.69 101.52,375.59 101.95,374.67 102.38,374.09 102.8,376.01 103.23,376.6 103.66,375.56 104.09,376.82 104.51,376.15 104.94,376.42 105.37,378.7 105.8,378.28 106.22,377.83 106.65,378.12 107.08,376.57 107.51,375.79 107.93,374.8 108.36,375.29 108.79,378 109.21,378.53 109.64,378.05 110.07,378.49 110.5,377.38 110.92,376.94 111.35,379.05 111.78,377.95 112.21,376.4 112.63,376.74 113.06,376.6 113.49,376.38 113.91,376.44 114.34,375.93 114.77,375.61 115.2,376.34 115.62,376.36 116.05,377.95 116.48,378.45 116.91,377.43 117.33,377.12 117.76,378.07 118.19,376.86 118.61,375.61 119.04,378.06 119.47,379.61 119.9,378.83 120.32,377.45 120.75,377.83 121.18,377.68 121.61,377.62 122.03,377.24 122.46,377.32 122.89,377.83 123.32,376.38 123.74,374.16 124.17,375.86 124.6,378.47 125.02,378.33 125.45,377.27 125.88,377.54 126.31,378.64 126.73,377.69 127.16,378.12 127.59,378.92 128.02,378.5 128.44,379.48 128.87,380.32 129.3,378.88 129.72,377.53 130.15,377.34 130.58,378.99 131.01,379.24 131.43,377.05 131.86,376.18 132.29,376.94 132.72,378.18 133.14,377.58 133.57,377.33 134,378.88 134.43,379.07 134.85,376.84 135.28,375.98 135.71,376.23 136.13,376.84 136.56,377.03 136.99,377.15 137.42,378.09 137.84,375.46 138.27,374.67 138.7,377.24 139.13,377.97 139.55,377.27 139.98,376.17 140.41,376.88 140.83,379.41 141.26,379.24 141.69,377.75 142.12,377.42 142.54,376.31 142.97,376.14 143.4,376.58" fill="none" stroke="#1ec81e" stroke-width="1.05" stroke-linejoin="round"/>
<polyline points="27.6,377.17 28.03,378.07 28.45,377.62 28.88,377.79 29.31,379.01 29.74,376.85 30.16,376.68 30.59,376.85 31.02,374.77 31.45,375.47 31.87,376.3 32.3,374.86 32.73,375.5 33.15,377.68 33.58,378.67 34.01,378.12 34.44,375.7 34.86,374.91 35.29,376.99 35.72,378.54 36.15,378.16 36.57,377.18 37,376.93 37.43,376.99 37.86,376.56 38.28,377 38.71,377.29 39.14,376.86 39.56,376.9 39.99,376.64 40.42,374.97 40.85,374.89 41.27,376.45 41.7,378.39 42.13,378.11 42.56,378.33 42.98,379.87 43.41,377.47 43.84,375.66 44.26,376.52 44.69,378.59 45.12,378.78 45.55,377.9 45.97,377.04 46.4,374.52 46.83,374.88 47.26,377.48 47.68,378.67 48.11,378.05 48.54,377.2 48.97,378.14 49.39,377.89 49.82,377.89 50.25,377.03 50.67,375.14 51.1,375.16 51.53,376.48 51.96,376.97 52.38,376.67 52.81,377.45 53.24,377.62 53.67,378.4 54.09,373.85 54.52,366.56 54.95,363.12 55.37,361.25 55.8,357.86 56.23,357.17 56.66,358.58 57.08,356.83 57.51,355.71 57.94,356.07 58.37,355.41 58.79,354.79 59.22,356.59 59.65,357.46 60.07,355.61 60.5,354.31 60.93,356.51 61.36,355.63 61.78,353.38 62.21,353.27 62.64,354 63.07,355.28 63.49,355.81 63.92,353.27 64.35,352.34 64.78,353.04 65.2,353.33 65.63,354.43 66.06,355.19 66.48,355.66 66.91,353.39 67.34,354.13 67.77,354.05 68.19,352.69 68.62,354.5 69.05,355.22 69.48,354.72 69.9,354.34 70.33,354.4 70.76,355.07 71.18,354.87 71.61,355.04 72.04,355.88 72.47,355.04 72.89,353.19 73.32,354.45 73.75,355.21 74.18,354.45 74.6,355.29 75.03,354.01 75.46,353.61 75.88,353.06 76.31,353.29 76.74,354.24 77.17,353.76 77.59,354.74 78.02,354.04 78.45,353.53 78.88,353.52 79.3,353.42 79.73,354.87 80.16,354.92 80.59,353.94 81.01,353.04 81.44,353.86 81.87,354.71 82.29,355.41 82.72,354.82 83.15,354.27 83.58,356.37 84,355.5 84.43,353 84.86,354.26 85.29,356.14 85.71,355.47 86.14,355.5 86.57,354.54 86.99,354.27 87.42,355.21 87.85,354.02 88.28,354.05 88.7,354.18 89.13,354.36 89.56,355.77 89.99,356.51 90.41,354.15 90.84,353.13 91.27,354.79 91.69,354.82 92.12,360.11 92.55,365.27 92.98,369 93.4,375.16 93.83,378.16 94.26,378.17 94.69,378.02 95.11,376.55 95.54,374.74 95.97,376.24 96.4,378.16 96.82,377.68 97.25,375.34 97.68,377.48 98.1,378.26 98.53,376.8 98.96,376.4 99.39,376.43 99.81,377.6 100.24,378.01 100.67,378.63 101.1,376.2 101.52,374.69 101.95,376.26 102.38,377.74 102.8,379.05 103.23,378.68 103.66,377.12 104.09,376.9 104.51,376.98 104.94,377.91 105.37,377.92 105.8,377.03 106.22,375.9 106.65,374.31 107.08,375.57 107.51,377.86 107.93,377.83 108.36,377.73 108.79,378.35 109.21,377.91 109.64,378.21 110.07,377.67 110.5,376.91 110.92,377.25 111.35,377.35 111.78,378.22 112.21,378.91 112.63,378.53 113.06,378.22 113.49,377.83 113.91,377.37 114.34,378.74 114.77,378.69 115.2,378.68 115.62,379.27 116.05,378.38 116.48,379.64 116.91,379.32 117.33,377.42 117.76,377.64 118.19,378.14 118.61,378.33 119.04,378.81 119.47,378.73 119.9,378.38 120.32,378.08 120.75,378.64 121.18,378.53 121.61,377.38 122.03,377.71 122.46,378.22 122.89,377.63 123.32,378.69 123.74,378.77 124.17,377.15 124.6,377.31 125.02,377.2 125.45,378.01 125.88,378.56 126.31,377.47 126.73,376.88 127.16,377.26 127.59,378.93 128.02,378.66 128.44,376.37 128.87,375.97 129.3,376.78 129.72,378.98 130.15,378.39 130.58,377.19 131.01,380.17 131.43,379.73 131.86,378.84 132.29,380.28 132.72,379.56 133.14,377.37 133.57,377.15 134,378.02 134.43,376.21 134.85,375.09 135.28,376.68 135.71,378.26 136.13,379.25 136.56,379.65 136.99,378.21 137.42,377.29 137.84,377.57 138.27,377.06 138.7,377.82 139.13,378.73 139.55,377.45 139.98,376.91 140.41,376.63 140.83,376.8 141.26,377.99 141.69,378.02 142.12,378.62 142.54,380.35 142.97,379 143.4,377.65" fill="none" stroke="#ff2a14" stroke-width="1.05" stroke-linejoin="round"/>
<polyline points="27.6,377.63 28.03,377.44 28.45,377.24 28.88,377.31 29.31,377.99 29.74,378.65 30.16,377.72 30.59,376.34 31.02,375.09 31.45,377.17 31.87,378.98 32.3,377.14 32.73,378.26 33.15,379.29 33.58,377.52 34.01,375.92 34.44,375.18 34.86,376.66 35.29,377.65 35.72,377.58 36.15,375.81 36.57,375.98 37,377.68 37.43,376.95 37.86,376.78 38.28,377.3 38.71,378.22 39.14,378.05 39.56,377.42 39.99,376.33 40.42,375.3 40.85,376.41 41.27,376.4 41.7,376.69 42.13,376.34 42.56,376.02 42.98,376.46 43.41,377.66 43.84,377.88 44.26,378.25 44.69,380.48 45.12,379.18 45.55,378.12 45.97,377.69 46.4,374.75 46.83,375.68 47.26,378.36 47.68,377.39 48.11,376.35 48.54,376.7 48.97,377.36 49.39,376.54 49.82,375.86 50.25,377.48 50.67,378.04 51.1,377.04 51.53,377.95 51.96,377.74 52.38,377.56 52.81,376.89 53.24,375.91 53.67,376.74 54.09,374.17 54.52,371.06 54.95,369.68 55.37,367.93 55.8,365.65 56.23,366.51 56.66,365.98 57.08,365.55 57.51,365.56 57.94,364.64 58.37,364.55 58.79,363.56 59.22,365.65 59.65,364.53 60.07,361.68 60.5,362.83 60.93,364.35 61.36,364.37 61.78,364.95 62.21,363.7 62.64,363.22 63.07,364.22 63.49,364.38 63.92,364.84 64.35,365.22 64.78,363.38 65.2,362.26 65.63,362.46 66.06,362.23 66.48,363.62 66.91,363.79 67.34,363.51 67.77,363.05 68.19,362.72 68.62,362.86 69.05,363.64 69.48,363.96 69.9,360.98 70.33,360.7 70.76,363.08 71.18,361.98 71.61,359.53 72.04,361.26 72.47,362.82 72.89,362.11 73.32,363.61 73.75,362.39 74.18,360.83 74.6,361.5 75.03,362.24 75.46,361.93 75.88,361.79 76.31,362.4 76.74,362.99 77.17,364.04 77.59,361.82 78.02,361.21 78.45,362.24 78.88,361.85 79.3,362.59 79.73,363.08 80.16,362.12 80.59,361.96 81.01,362.73 81.44,362.47 81.87,361.27 82.29,360.69 82.72,361.47 83.15,362.68 83.58,364.36 84,362.99 84.43,360.84 84.86,361.89 85.29,362.33 85.71,361.51 86.14,361.28 86.57,361.19 86.99,362.43 87.42,361.91 87.85,362.69 88.28,363.34 88.7,361.76 89.13,361.78 89.56,360.53 89.99,360 90.41,362.99 90.84,366.12 91.27,364.45 91.69,363.98 92.12,367.78 92.55,369.08 92.98,373.63 93.4,379.4 93.83,377.65 94.26,375.66 94.69,376.16 95.11,376.19 95.54,376.79 95.97,378.26 96.4,377.64 96.82,377.15 97.25,378.56 97.68,377.2 98.1,375.75 98.53,375.86 98.96,376.75 99.39,377.77 99.81,377.81 100.24,378.04 100.67,376.95 101.1,376.88 101.52,376.75 101.95,375.73 102.38,374.19 102.8,375.84 103.23,376.92 103.66,375.73 104.09,376.59 104.51,377.89 104.94,378.33 105.37,376.31 105.8,375.98 106.22,376.62 106.65,376.84 107.08,375.86 107.51,375.63 107.93,378.79 108.36,379.44 108.79,379.24 109.21,381.66 109.64,380.34 110.07,376.08 110.5,375.57 110.92,377.93 111.35,378.88 111.78,376.75 112.21,375.75 112.63,376.78 113.06,377.01 113.49,377.01 113.91,376.21 114.34,375.73 114.77,376.28 115.2,377.77 115.62,377.5 116.05,377.16 116.48,376.62 116.91,377.17 117.33,378.31 117.76,377.14 118.19,378.24 118.61,376.63 119.04,374.03 119.47,376.07 119.9,376.71 120.32,375.93 120.75,379.09 121.18,379.21 121.61,376.82 122.03,376.98 122.46,377.93 122.89,378.26 123.32,377.42 123.74,376.06 124.17,375.58 124.6,376.69 125.02,375.58 125.45,376.09 125.88,377.88 126.31,379.06 126.73,377.23 127.16,374.64 127.59,375.24 128.02,375.52 128.44,376.27 128.87,376.7 129.3,377.03 129.72,377.43 130.15,377.14 130.58,375.54 131.01,375.07 131.43,376.54 131.86,377.6 132.29,378.13 132.72,376.1 133.14,375.03 133.57,376.46 134,377.26 134.43,378.36 134.85,378.1 135.28,376.25 135.71,376.55 136.13,377.58 136.56,377.42 136.99,377.1 137.42,378.38 137.84,378.71 138.27,378.02 138.7,376.97 139.13,376.89 139.55,377.18 139.98,375.04 140.41,375.87 140.83,377.85 141.26,377.38 141.69,376.82 142.12,377.93 142.54,377.5 142.97,374.69 143.4,375.36" fill="none" stroke="#1f4cff" stroke-width="1.05" stroke-linejoin="round"/>
<line x1="116.9" y1="295" x2="124.8" y2="295" stroke="#1f4cff" stroke-width="1.1"/>
<text x="128.7" y="297.1" font-size="5.9">0.013μM</text>
<line x1="116.9" y1="304.85" x2="124.8" y2="304.85" stroke="#ff2a14" stroke-width="1.1"/>
<text x="128.7" y="306.95" font-size="5.9">0.04μM</text>
<line x1="116.9" y1="314.7" x2="124.8" y2="314.7" stroke="#1ec81e" stroke-width="1.1"/>
<text x="128.7" y="316.8" font-size="5.9">0.123μM</text>
<line x1="116.9" y1="324.55" x2="124.8" y2="324.55" stroke="#c43cff" stroke-width="1.1"/>
<text x="128.7" y="326.65" font-size="5.9">0.37μM</text>
<line x1="116.9" y1="334.4" x2="124.8" y2="334.4" stroke="#ff9a18" stroke-width="1.1"/>
<text x="128.7" y="336.5" font-size="5.9">1.1μM</text>
<line x1="186.5" y1="316.78" x2="186.5" y2="398.7" stroke="#000" stroke-width="1"/>
<line x1="184" y1="398.7" x2="186.5" y2="398.7" stroke="#000" stroke-width="0.9"/>
<text x="183.5" y="401" font-size="6.5" text-anchor="end">0</text>
<line x1="184" y1="378.22" x2="186.5" y2="378.22" stroke="#000" stroke-width="0.9"/>
<text x="183.5" y="380.52" font-size="6.5" text-anchor="end">2</text>
<line x1="184" y1="357.74" x2="186.5" y2="357.74" stroke="#000" stroke-width="0.9"/>
<text x="183.5" y="360.04" font-size="6.5" text-anchor="end">4</text>
<line x1="184" y1="337.26" x2="186.5" y2="337.26" stroke="#000" stroke-width="0.9"/>
<text x="183.5" y="339.56" font-size="6.5" text-anchor="end">6</text>
<line x1="184" y1="316.78" x2="186.5" y2="316.78" stroke="#000" stroke-width="0.9"/>
<text x="183.5" y="319.08" font-size="6.5" text-anchor="end">8</text>
<line x1="186.5" y1="398.7" x2="309.8" y2="398.7" stroke="#000" stroke-width="1"/>
<line x1="186.5" y1="398.7" x2="186.5" y2="401.3" stroke="#000" stroke-width="0.9"/>
<text x="186.5" y="408.5" font-size="6.9" text-anchor="middle">0.0</text>
<line x1="217.37" y1="398.7" x2="217.37" y2="401.3" stroke="#000" stroke-width="0.9"/>
<text x="217.37" y="408.5" font-size="6.9" text-anchor="middle">0.3</text>
<line x1="248.24" y1="398.7" x2="248.24" y2="401.3" stroke="#000" stroke-width="0.9"/>
<text x="248.24" y="408.5" font-size="6.9" text-anchor="middle">0.6</text>
<line x1="279.11" y1="398.7" x2="279.11" y2="401.3" stroke="#000" stroke-width="0.9"/>
<text x="279.11" y="408.5" font-size="6.9" text-anchor="middle">0.9</text>
<line x1="309.98" y1="398.7" x2="309.98" y2="401.3" stroke="#000" stroke-width="0.9"/>
<text x="309.98" y="408.5" font-size="6.9" text-anchor="middle">1.2</text>
<text x="320.3" y="410" font-size="9">×E-6</text>
<text x="248" y="419.3" font-size="6.8" text-anchor="middle">Concentration(M)</text>
<text x="172.5" y="359.5" font-size="6.6" text-anchor="middle" transform="rotate(-90 172.5 359.5)">Response Unit&#160;&#160;(RU)</text>
<polyline points="186.5,398.7 187.45,395.4 188.4,392.41 189.35,389.68 190.3,387.18 191.26,384.89 192.21,382.78 193.16,380.83 194.11,379.02 195.06,377.34 196.01,375.77 196.96,374.3 197.91,372.93 198.87,371.64 199.82,370.43 200.77,369.29 201.72,368.22 202.67,367.2 203.62,366.24 204.57,365.32 205.52,364.46 206.47,363.63 207.43,362.85 208.38,362.1 209.33,361.39 210.28,360.71 211.23,360.06 212.18,359.43 213.13,358.84 214.08,358.27 215.04,357.72 215.99,357.19 216.94,356.68 217.89,356.2 218.84,355.73 219.79,355.28 220.74,354.84 221.69,354.42 222.64,354.01 223.6,353.62 224.55,353.24 225.5,352.88 226.45,352.52 227.4,352.18 228.35,351.85 229.3,351.53 230.25,351.22 231.21,350.91 232.16,350.62 233.11,350.34 234.06,350.06 235.01,349.79 235.96,349.53 236.91,349.28 237.86,349.03 238.81,348.79 239.77,348.55 240.72,348.33 241.67,348.1 242.62,347.89 243.57,347.68 244.52,347.47 245.47,347.27 246.42,347.07 247.38,346.88 248.33,346.7 249.28,346.51 250.23,346.34 251.18,346.16 252.13,345.99 253.08,345.82 254.03,345.66 254.98,345.5 255.94,345.35 256.89,345.2 257.84,345.05 258.79,344.9 259.74,344.76 260.69,344.62 261.64,344.48 262.59,344.35 263.55,344.21 264.5,344.09 265.45,343.96 266.4,343.83 267.35,343.71 268.3,343.59 269.25,343.48 270.2,343.36 271.15,343.25 272.11,343.14 273.06,343.03 274.01,342.92 274.96,342.82 275.91,342.71 276.86,342.61 277.81,342.51 278.76,342.42 279.72,342.32 280.67,342.22 281.62,342.13 282.57,342.04 283.52,341.95 284.47,341.86 285.42,341.77 286.37,341.69 287.32,341.6 288.28,341.52 289.23,341.44 290.18,341.36 291.13,341.28 292.08,341.2 293.03,341.13 293.98,341.05 294.93,340.98 295.89,340.9 296.84,340.83 297.79,340.76 298.74,340.69 299.69,340.62" fill="none" stroke="#1f5ff0" stroke-width="1.2" stroke-linejoin="round"/>
<circle cx="187.6" cy="385.9" r="1.4" fill="#ff1a0a"/>
<circle cx="190.8" cy="377.9" r="1.4" fill="#ff1a0a"/>
<circle cx="199" cy="374" r="1.4" fill="#ff1a0a"/>
<circle cx="224.6" cy="359" r="1.4" fill="#ff1a0a"/>
<circle cx="299.5" cy="336.2" r="1.4" fill="#ff1a0a"/>
<text x="203.7" y="331.3" font-size="6.55">Chidamide with c-MYC Protein</text>
<text x="237.9" y="359.7" font-size="8.5">Kd=7.953E-7 M</text>
<text x="237.9" y="369.6" font-size="8.5">Rmax=8.140 RU</text>
<text x="237.9" y="379.5" font-size="8.5">Chi<tspan font-size="5.5" dy="-3">2</tspan><tspan dy="3">=0.0692</tspan></text>
<text x="335" y="293.1" font-size="14">(G)</text>
<line x1="367.5" y1="289.2" x2="367.5" y2="399.3" stroke="#000" stroke-width="1"/>
<line x1="365" y1="289.2" x2="367.5" y2="289.2" stroke="#000" stroke-width="0.9"/>
<text x="364.3" y="291.4" font-size="6.2" text-anchor="end">6</text>
<line x1="365" y1="316.7" x2="367.5" y2="316.7" stroke="#000" stroke-width="0.9"/>
<text x="364.3" y="318.9" font-size="6.2" text-anchor="end">4</text>
<line x1="365" y1="344.2" x2="367.5" y2="344.2" stroke="#000" stroke-width="0.9"/>
<text x="364.3" y="346.4" font-size="6.2" text-anchor="end">2</text>
<line x1="365" y1="371.7" x2="367.5" y2="371.7" stroke="#000" stroke-width="0.9"/>
<text x="364.3" y="373.9" font-size="6.2" text-anchor="end">0</text>
<line x1="365" y1="399.2" x2="367.5" y2="399.2" stroke="#000" stroke-width="0.9"/>
<text x="364.3" y="401.4" font-size="6.2" text-anchor="end">-2</text>
<line x1="367.5" y1="399.3" x2="495.49" y2="399.3" stroke="#000" stroke-width="1"/>
<line x1="367.6" y1="399.3" x2="367.6" y2="401.9" stroke="#000" stroke-width="0.8"/>
<text x="367.6" y="408.7" font-size="6.6" text-anchor="middle">0</text>
<line x1="371.86" y1="399.3" x2="371.86" y2="400.7" stroke="#000" stroke-width="0.8"/>
<line x1="376.13" y1="399.3" x2="376.13" y2="400.7" stroke="#000" stroke-width="0.8"/>
<line x1="380.39" y1="399.3" x2="380.39" y2="400.7" stroke="#000" stroke-width="0.8"/>
<line x1="384.65" y1="399.3" x2="384.65" y2="400.7" stroke="#000" stroke-width="0.8"/>
<line x1="388.92" y1="399.3" x2="388.92" y2="400.7" stroke="#000" stroke-width="0.8"/>
<line x1="393.18" y1="399.3" x2="393.18" y2="400.7" stroke="#000" stroke-width="0.8"/>
<line x1="397.44" y1="399.3" x2="397.44" y2="400.7" stroke="#000" stroke-width="0.8"/>
<line x1="401.7" y1="399.3" x2="401.7" y2="400.7" stroke="#000" stroke-width="0.8"/>
<line x1="405.97" y1="399.3" x2="405.97" y2="400.7" stroke="#000" stroke-width="0.8"/>
<line x1="410.23" y1="399.3" x2="410.23" y2="401.9" stroke="#000" stroke-width="0.8"/>
<text x="410.23" y="408.7" font-size="6.6" text-anchor="middle">100</text>
<line x1="414.49" y1="399.3" x2="414.49" y2="400.7" stroke="#000" stroke-width="0.8"/>
<line x1="418.76" y1="399.3" x2="418.76" y2="400.7" stroke="#000" stroke-width="0.8"/>
<line x1="423.02" y1="399.3" x2="423.02" y2="400.7" stroke="#000" stroke-width="0.8"/>
<line x1="427.28" y1="399.3" x2="427.28" y2="400.7" stroke="#000" stroke-width="0.8"/>
<line x1="431.55" y1="399.3" x2="431.55" y2="400.7" stroke="#000" stroke-width="0.8"/>
<line x1="435.81" y1="399.3" x2="435.81" y2="400.7" stroke="#000" stroke-width="0.8"/>
<line x1="440.07" y1="399.3" x2="440.07" y2="400.7" stroke="#000" stroke-width="0.8"/>
<line x1="444.33" y1="399.3" x2="444.33" y2="400.7" stroke="#000" stroke-width="0.8"/>
<line x1="448.6" y1="399.3" x2="448.6" y2="400.7" stroke="#000" stroke-width="0.8"/>
<line x1="452.86" y1="399.3" x2="452.86" y2="401.9" stroke="#000" stroke-width="0.8"/>
<text x="452.86" y="408.7" font-size="6.6" text-anchor="middle">200</text>
<line x1="457.12" y1="399.3" x2="457.12" y2="400.7" stroke="#000" stroke-width="0.8"/>
<line x1="461.39" y1="399.3" x2="461.39" y2="400.7" stroke="#000" stroke-width="0.8"/>
<line x1="465.65" y1="399.3" x2="465.65" y2="400.7" stroke="#000" stroke-width="0.8"/>
<line x1="469.91" y1="399.3" x2="469.91" y2="400.7" stroke="#000" stroke-width="0.8"/>
<line x1="474.18" y1="399.3" x2="474.18" y2="400.7" stroke="#000" stroke-width="0.8"/>
<line x1="478.44" y1="399.3" x2="478.44" y2="400.7" stroke="#000" stroke-width="0.8"/>
<line x1="482.7" y1="399.3" x2="482.7" y2="400.7" stroke="#000" stroke-width="0.8"/>
<line x1="486.96" y1="399.3" x2="486.96" y2="400.7" stroke="#000" stroke-width="0.8"/>
<line x1="491.23" y1="399.3" x2="491.23" y2="400.7" stroke="#000" stroke-width="0.8"/>
<line x1="495.49" y1="399.3" x2="495.49" y2="401.9" stroke="#000" stroke-width="0.8"/>
<text x="495.49" y="408.7" font-size="6.6" text-anchor="middle">300</text>
<text x="431.55" y="417.1" font-size="6.8" text-anchor="middle">Time(s)</text>
<line x1="367.5" y1="371.7" x2="495.49" y2="371.7" stroke="#999" stroke-width="0.7" stroke-dasharray="1.6,1.2"/>
<text x="354.8" y="348.8" font-size="6" text-anchor="middle" transform="rotate(-90 354.8 348.8)">Response Unit&#160;&#160;(RU)</text>
<polyline points="367.6,356.97 368.03,357.91 368.45,357.9 368.88,357.25 369.31,356.47 369.73,356.87 370.16,359.32 370.58,358.7 371.01,357.61 371.44,357.91 371.86,358.98 372.29,358.51 372.72,356.31 373.14,357.7 373.57,358.01 373.99,357.25 374.42,356.59 374.85,356.03 375.27,357.53 375.7,357.16 376.13,356.77 376.55,357.78 376.98,357.7 377.4,357.67 377.83,359.15 378.26,357.69 378.68,356.88 379.11,358.44 379.54,358.06 379.96,358.64 380.39,359.65 380.82,359.03 381.24,358.54 381.67,358.21 382.09,357.25 382.52,357.57 382.95,357.94 383.37,357.31 383.8,358.23 384.23,358.45 384.65,358.37 385.08,357.88 385.5,357.06 385.93,357.67 386.36,358.72 386.78,358.66 387.21,358.33 387.64,357.99 388.06,357.61 388.49,358.49 388.92,357.88 389.34,356.99 389.77,357.88 390.19,357.62 390.62,357.45 391.05,358.3 391.47,354.76 391.9,351.72 392.33,348.75 392.75,345.1 393.18,340.65 393.6,336.74 394.03,334.84 394.46,331.83 394.88,328.77 395.31,326.54 395.74,323.06 396.16,320.17 396.59,316.33 397.01,313.42 397.44,312.58 397.87,310.82 398.29,309.23 398.72,309.03 399.15,309.39 399.57,307.49 400,304.13 400.43,303.11 400.85,302.61 401.28,301.69 401.7,301.89 402.13,301.93 402.56,301.93 402.98,302.28 403.41,300.83 403.84,300 404.26,300.99 404.69,300.61 405.11,299.53 405.54,299.82 405.97,299.42 406.39,299.13 406.82,300.26 407.25,300.63 407.67,298.64 408.1,298.83 408.52,299.69 408.95,298.41 409.38,298.12 409.8,299.15 410.23,299.67 410.66,298.83 411.08,298.13 411.51,298.55 411.94,299.65 412.36,298.64 412.79,297.69 413.21,298.43 413.64,299.8 414.07,300.15 414.49,300.1 414.92,300.22 415.35,301.38 415.77,302.17 416.2,301.91 416.62,302.99 417.05,303.14 417.48,302.85 417.9,303.58 418.33,303.28 418.76,303.79 419.18,303.96 419.61,302.8 420.03,302.52 420.46,302.05 420.89,302.83 421.31,304.26 421.74,303.33 422.17,302.1 422.59,300.92 423.02,300.73 423.45,302.4 423.87,302.2 424.3,302.1 424.72,303.35 425.15,301.89 425.58,301.4 426,303.06 426.43,303.49 426.86,303.41 427.28,304.13 427.71,305.04 428.13,306.37 428.56,308.45 428.99,307.58 429.41,306.47 429.84,307.57 430.27,310.3 430.69,312.51 431.12,315.05 431.55,316.26 431.97,317.48 432.4,321.75 432.82,325.58 433.25,328.93 433.68,338.25 434.1,347.82 434.53,358.2 434.96,358.97 435.38,357.65 435.81,358.88 436.23,360.87 436.66,360.68 437.09,360.68 437.51,361.47 437.94,363.61 438.37,364.31 438.79,364.69 439.22,366.1 439.64,365.73 440.07,366.05 440.5,366.04 440.92,364.17 441.35,364.32 441.78,365.87 442.2,366.99 442.63,367.92 443.06,368.16 443.48,368.23 443.91,368.39 444.33,368.6 444.76,368.22 445.19,368.56 445.61,369.4 446.04,369.75 446.47,368.79 446.89,368.1 447.32,367.9 447.74,367.47 448.17,368.4 448.6,368.76 449.02,369.54 449.45,368.73 449.88,367.33 450.3,368.93 450.73,370.44 451.15,370.23 451.58,370.78 452.01,371.6 452.43,370.21 452.86,369.84 453.29,370.6 453.71,370.13 454.14,370.48 454.57,370.9 454.99,370.62 455.42,371.32 455.84,370.79 456.27,370.91 456.7,370.1 457.12,369.9 457.55,369.88 457.98,370.21 458.4,371.06 458.83,371.15 459.25,372.32 459.68,371.56 460.11,370.42 460.53,371.29 460.96,371.03 461.39,370.79 461.81,371.44 462.24,370.78 462.66,370.55 463.09,371.85 463.52,371.29 463.94,369.95 464.37,371.17 464.8,372.13 465.22,372.91 465.65,373.14 466.08,371.87 466.5,371.31 466.93,372.32 467.35,372.46 467.78,370.92 468.21,370.84 468.63,372.13 469.06,371.18 469.49,370.61 469.91,371.4 470.34,372.14 470.76,373.19 471.19,373.63 471.62,373.12 472.04,372.68 472.47,372.31 472.9,371.97 473.32,372.16 473.75,372.47 474.18,373.31 474.6,374.81 475.03,374.64 475.45,374.05 475.88,374.24 476.31,373.96 476.73,374.42 477.16,375.02 477.59,374.47 478.01,373.87 478.44,374.31 478.86,374.2 479.29,374.06 479.72,375.06 480.14,375.02 480.57,373.44 481,373.97 481.42,374.51 481.85,373.42 482.27,373.35 482.7,374.74" fill="none" stroke="#ff9a18" stroke-width="1.05" stroke-linejoin="round"/>
<polyline points="367.6,356.65 368.03,357.79 368.45,357.83 368.88,356.68 369.31,357.03 369.73,357.52 370.16,356.03 370.58,356.34 371.01,358.08 371.44,357.87 371.86,356.58 372.29,354.9 372.72,355.43 373.14,357.1 373.57,357.56 373.99,356.55 374.42,356.85 374.85,356.65 375.27,355.31 375.7,356.14 376.13,356.62 376.55,356.24 376.98,355.74 377.4,356.81 377.83,357.05 378.26,356.68 378.68,357.84 379.11,357.58 379.54,357.28 379.96,357.94 380.39,358.77 380.82,358.77 381.24,357.02 381.67,355.35 382.09,355.85 382.52,356.33 382.95,357.04 383.37,357.8 383.8,357.36 384.23,357.98 384.65,358.75 385.08,358.09 385.5,357.72 385.93,358.43 386.36,358.04 386.78,357.6 387.21,357.26 387.64,357.14 388.06,357.94 388.49,357.89 388.92,357.84 389.34,358.33 389.77,358.49 390.19,357.69 390.62,357.11 391.05,356.82 391.47,355.44 391.9,353.67 392.33,350.17 392.75,347.09 393.18,344.36 393.6,340.75 394.03,336.02 394.46,331.61 394.88,328.73 395.31,324.05 395.74,318.78 396.16,319.53 396.59,319.26 397.01,318.99 397.44,318.45 397.87,317.79 398.29,318.55 398.72,318.28 399.15,317.89 399.57,317.2 400,316.28 400.43,316.01 400.85,316.07 401.28,317.87 401.7,317.12 402.13,315.73 402.56,315.28 402.98,313.15 403.41,313.13 403.84,314.02 404.26,314.28 404.69,314.13 405.11,314.35 405.54,314.61 405.97,314.83 406.39,313.8 406.82,313.27 407.25,313.4 407.67,313.54 408.1,314.05 408.52,314.01 408.95,313.78 409.38,313.2 409.8,313.33 410.23,314.2 410.66,314.8 411.08,313.44 411.51,313.51 411.94,315.01 412.36,314.35 412.79,313.91 413.21,314.81 413.64,316.04 414.07,315.34 414.49,315.24 414.92,316.66 415.35,317.35 415.77,318.86 416.2,319.9 416.62,319.2 417.05,318.55 417.48,319.29 417.9,320.56 418.33,321.63 418.76,321.5 419.18,321.87 419.61,321.15 420.03,319.63 420.46,318.5 420.89,318.66 421.31,320.66 421.74,321.68 422.17,323.35 422.59,323.19 423.02,321.28 423.45,320.36 423.87,319.9 424.3,320.12 424.72,320.36 425.15,320.31 425.58,319.59 426,320.6 426.43,322.24 426.86,322.96 427.28,322.28 427.71,321.24 428.13,322.27 428.56,324.26 428.99,325.13 429.41,325.09 429.84,325.67 430.27,326.18 430.69,326.45 431.12,327.1 431.55,327.43 431.97,327.52 432.4,328.65 432.82,329.31 433.25,336.82 433.68,343.71 434.1,351.03 434.53,351.34 434.96,351.41 435.38,352.45 435.81,351.69 436.23,351.44 436.66,351.57 437.09,350.71 437.51,352.07 437.94,352.87 438.37,352.44 438.79,352.62 439.22,353.25 439.64,352.58 440.07,352.28 440.5,352.73 440.92,353.08 441.35,353.37 441.78,353.8 442.2,354.24 442.63,353.71 443.06,353.91 443.48,354.76 443.91,355.66 444.33,355.54 444.76,354.95 445.19,355.44 445.61,356.34 446.04,356.11 446.47,354.46 446.89,355.2 447.32,356.69 447.74,356.29 448.17,357.97 448.6,358.11 449.02,357.01 449.45,356.27 449.88,356 450.3,357.25 450.73,357.22 451.15,356.66 451.58,356.85 452.01,356.97 452.43,357.42 452.86,357.51 453.29,356.26 453.71,354.97 454.14,355 454.57,355.98 454.99,355.69 455.42,355.25 455.84,354.96 456.27,354.91 456.7,355.94 457.12,356.41 457.55,356.23 457.98,356.2 458.4,356.18 458.83,356.8 459.25,358.13 459.68,358.06 460.11,358 460.53,357.56 460.96,356.37 461.39,357.38 461.81,356.97 462.24,355.48 462.66,355.81 463.09,355.34 463.52,354.29 463.94,355.96 464.37,356.44 464.8,355.47 465.22,355.82 465.65,355.52 466.08,356.17 466.5,357.09 466.93,357.18 467.35,357.3 467.78,356.9 468.21,357.33 468.63,357.91 469.06,356.75 469.49,356.2 469.91,356.34 470.34,357.43 470.76,358.13 471.19,357.38 471.62,356.93 472.04,356.97 472.47,356.47 472.9,356.18 473.32,356.74 473.75,356.73 474.18,356.35 474.6,356.66 475.03,356.44 475.45,355.92 475.88,356.51 476.31,356.78 476.73,356.59 477.16,356.05 477.59,355.82 478.01,356.22 478.44,356.28 478.86,356.46 479.29,356.27 479.72,356.37 480.14,358.34 480.57,357.57 481,356.32 481.42,357.81 481.85,358.01 482.27,357.87 482.7,356.55" fill="none" stroke="#c43cff" stroke-width="1.05" stroke-linejoin="round"/>
<polyline points="367.6,360.54 368.03,359.47 368.45,357.95 368.88,359.48 369.31,361.23 369.73,361.14 370.16,360.65 370.58,361.27 371.01,360.89 371.44,360.66 371.86,361.48 372.29,359.96 372.72,359.58 373.14,360.23 373.57,359.31 373.99,358.69 374.42,359.32 374.85,359.82 375.27,360.13 375.7,358.95 376.13,357.92 376.55,359.84 376.98,360.26 377.4,359 377.83,358.65 378.26,357.87 378.68,357.24 379.11,358.83 379.54,359.8 379.96,360.28 380.39,360.03 380.82,359.02 381.24,357.33 381.67,357.34 382.09,360.57 382.52,361.07 382.95,359.54 383.37,359.91 383.8,360.55 384.23,359.92 384.65,359.07 385.08,358.9 385.5,359.71 385.93,359.04 386.36,358.77 386.78,359.62 387.21,360.16 387.64,360.33 388.06,358.92 388.49,359.46 388.92,359.92 389.34,358.31 389.77,358.49 390.19,358.79 390.62,359.26 391.05,358.51 391.47,355.21 391.9,354.15 392.33,354.31 392.75,353.39 393.18,349.75 393.6,345.7 394.03,344 394.46,342.15 394.88,340.6 395.31,339.41 395.74,336.83 396.16,334.25 396.59,333.13 397.01,332.6 397.44,330.49 397.87,331.73 398.29,333.38 398.72,332.19 399.15,331.54 399.57,333.21 400,332.04 400.43,330.15 400.85,330.85 401.28,329.35 401.7,328.75 402.13,330.53 402.56,330.38 402.98,330.4 403.41,331.1 403.84,330.24 404.26,330.2 404.69,330.88 405.11,329.48 405.54,328.69 405.97,329.39 406.39,329.72 406.82,330.05 407.25,329.53 407.67,329.98 408.1,329.82 408.52,330.56 408.95,332.1 409.38,332.5 409.8,332.67 410.23,331.49 410.66,330.38 411.08,331.29 411.51,332.46 411.94,332.44 412.36,333.13 412.79,333.88 413.21,333.53 413.64,334.08 414.07,334.23 414.49,333.23 414.92,333.94 415.35,334.83 415.77,335.51 416.2,333.73 416.62,333.89 417.05,334.29 417.48,333.16 417.9,334.65 418.33,336.03 418.76,335.26 419.18,333.48 419.61,335.02 420.03,336.58 420.46,335.42 420.89,335.17 421.31,334.71 421.74,335.52 422.17,336.7 422.59,337.35 423.02,336.47 423.45,335.64 423.87,338.09 424.3,337.19 424.72,335.31 425.15,333.43 425.58,333.09 426,333.92 426.43,332.8 426.86,331.24 427.28,331.2 427.71,331.09 428.13,330.21 428.56,330.64 428.99,330.46 429.41,330.74 429.84,331.92 430.27,331.62 430.69,334.69 431.12,337.47 431.55,338.63 431.97,342.65 432.4,346.98 432.82,350.24 433.25,352.56 433.68,352.05 434.1,352.33 434.53,352.32 434.96,353.05 435.38,353.72 435.81,354.56 436.23,354.36 436.66,353.34 437.09,354.39 437.51,353.95 437.94,353.44 438.37,356.4 438.79,357.09 439.22,356.41 439.64,355.96 440.07,353.52 440.5,354.85 440.92,356.74 441.35,356.81 441.78,356.86 442.2,356.5 442.63,356.11 443.06,357.47 443.48,357.52 443.91,357.73 444.33,358.86 444.76,357.69 445.19,357.64 445.61,359.31 446.04,360.52 446.47,360.45 446.89,360.25 447.32,359.4 447.74,360.23 448.17,360.67 448.6,359.35 449.02,359.27 449.45,359.34 449.88,358.67 450.3,358.63 450.73,359.06 451.15,358.99 451.58,358.33 452.01,359.98 452.43,360.31 452.86,359.17 453.29,360.21 453.71,360.67 454.14,361.73 454.57,361.31 454.99,360.48 455.42,359.87 455.84,360.38 456.27,359.72 456.7,358.51 457.12,359.63 457.55,360.28 457.98,360.62 458.4,360.89 458.83,360.7 459.25,359.9 459.68,359.63 460.11,360.58 460.53,360.62 460.96,360.24 461.39,359.93 461.81,358.03 462.24,357.69 462.66,359.15 463.09,360.66 463.52,361.39 463.94,361.41 464.37,359.93 464.8,359.28 465.22,359.71 465.65,359.59 466.08,359.55 466.5,358.17 466.93,358.71 467.35,359.9 467.78,359.98 468.21,359.16 468.63,359.31 469.06,360.68 469.49,360.93 469.91,361.12 470.34,359.86 470.76,357.16 471.19,358.16 471.62,359.26 472.04,358.42 472.47,359.82 472.9,360.18 473.32,359.59 473.75,359.88 474.18,358.41 474.6,359.24 475.03,360.3 475.45,358.78 475.88,359.44 476.31,359.56 476.73,358.58 477.16,358.58 477.59,358.89 478.01,358.53 478.44,360.2 478.86,359.67 479.29,356.74 479.72,357.08 480.14,357.95 480.57,359.58 481,360.35 481.42,359.95 481.85,360.27 482.27,359.06 482.7,359.21" fill="none" stroke="#1ec81e" stroke-width="1.05" stroke-linejoin="round"/>
<polyline points="367.6,358.4 368.03,358.66 368.45,358.97 368.88,359.6 369.31,359.48 369.73,358.53 370.16,357.42 370.58,357 371.01,358.06 371.44,358.96 371.86,358.89 372.29,358.02 372.72,358.76 373.14,358.2 373.57,357.12 373.99,358.47 374.42,357.89 374.85,356.63 375.27,356.6 375.7,356.56 376.13,356.68 376.55,356.54 376.98,355.76 377.4,356.64 377.83,356.49 378.26,356.29 378.68,357.18 379.11,357.9 379.54,358.13 379.96,356.95 380.39,357.63 380.82,357.77 381.24,356.69 381.67,357 382.09,358.8 382.52,359.11 382.95,357.22 383.37,357.73 383.8,358.16 384.23,359.31 384.65,358.97 385.08,357.86 385.5,357.78 385.93,358.64 386.36,358.82 386.78,357.78 387.21,357.75 387.64,358.28 388.06,359.3 388.49,357.2 388.92,357.4 389.34,359.46 389.77,359.14 390.19,359.41 390.62,358.47 391.05,356.65 391.47,356.43 391.9,357.27 392.33,354.48 392.75,351.04 393.18,349.76 393.6,348.52 394.03,348.45 394.46,348.14 394.88,347.28 395.31,346.92 395.74,344.1 396.16,342.38 396.59,340.28 397.01,338.56 397.44,339.34 397.87,337.63 398.29,335.75 398.72,335.75 399.15,337.58 399.57,337.44 400,335.46 400.43,335.83 400.85,337.08 401.28,335.83 401.7,334.99 402.13,336.22 402.56,336.35 402.98,335.9 403.41,335.54 403.84,335.05 404.26,334.57 404.69,334.26 405.11,336.21 405.54,336.52 405.97,334.95 406.39,335.01 406.82,335.03 407.25,335.81 407.67,337.26 408.1,336.35 408.52,336.53 408.95,338.74 409.38,337.42 409.8,336.54 410.23,337.55 410.66,338.11 411.08,338.9 411.51,339.06 411.94,338.73 412.36,338.02 412.79,339.66 413.21,339.73 413.64,339.3 414.07,340.86 414.49,339.92 414.92,339.57 415.35,341.4 415.77,340.42 416.2,340.29 416.62,341.7 417.05,341.3 417.48,340.84 417.9,341.61 418.33,342.21 418.76,342.73 419.18,342.98 419.61,342.91 420.03,343.83 420.46,341.94 420.89,341.39 421.31,342.52 421.74,341.12 422.17,340.86 422.59,342.86 423.02,342.52 423.45,342.68 423.87,342.33 424.3,340.62 424.72,341.69 425.15,342.85 425.58,342.26 426,341.73 426.43,343.13 426.86,343.37 427.28,344.7 427.71,346 428.13,345.49 428.56,346 428.99,346.13 429.41,347.39 429.84,347.81 430.27,347.71 430.69,349.17 431.12,351.02 431.55,352.43 431.97,352.29 432.4,353.19 432.82,354.44 433.25,357.18 433.68,360.65 434.1,364.44 434.53,365.47 434.96,367.41 435.38,366.64 435.81,365.83 436.23,365.89 436.66,366.23 437.09,366.31 437.51,365.87 437.94,366.33 438.37,366.7 438.79,367.05 439.22,367.37 439.64,367.62 440.07,367.24 440.5,367.87 440.92,367.5 441.35,367.35 441.78,368 442.2,368.12 442.63,369.09 443.06,367.78 443.48,367.95 443.91,370.34 444.33,370.75 444.76,370.23 445.19,368.41 445.61,368.19 446.04,369.15 446.47,370.1 446.89,370.63 447.32,369.63 447.74,368.62 448.17,369.53 448.6,370.32 449.02,369.62 449.45,370.71 449.88,370.9 450.3,370.36 450.73,371.91 451.15,371.3 451.58,369.33 452.01,370.02 452.43,371.27 452.86,369.94 453.29,368.83 453.71,369.12 454.14,368.32 454.57,369.35 454.99,369.73 455.42,369.52 455.84,370.09 456.27,369.97 456.7,369.9 457.12,369.06 457.55,368.96 457.98,369.8 458.4,370.05 458.83,369.69 459.25,370.09 459.68,370.64 460.11,370.05 460.53,370.07 460.96,370.09 461.39,370.1 461.81,368.63 462.24,367.29 462.66,368.33 463.09,369.25 463.52,368.04 463.94,367.76 464.37,369.29 464.8,369.28 465.22,368.99 465.65,368.22 466.08,368.42 466.5,367.94 466.93,368.51 467.35,369.46 467.78,369.53 468.21,368.75 468.63,368.29 469.06,369.55 469.49,368.69 469.91,367.78 470.34,369.16 470.76,370.24 471.19,370.42 471.62,370.08 472.04,369.19 472.47,369.51 472.9,369.9 473.32,369.91 473.75,369.94 474.18,369.31 474.6,367.76 475.03,369.42 475.45,370.52 475.88,369.48 476.31,369.06 476.73,369.41 477.16,369.83 477.59,369.88 478.01,369.3 478.44,368.51 478.86,369.09 479.29,368.89 479.72,368.94 480.14,370.24 480.57,369.65 481,368.39 481.42,368.89 481.85,368.41 482.27,367.46 482.7,368.86" fill="none" stroke="#ff2a14" stroke-width="1.05" stroke-linejoin="round"/>
<polyline points="367.6,354.78 368.03,355.33 368.45,356.34 368.88,356.48 369.31,357.46 369.73,357.74 370.16,356.01 370.58,353.61 371.01,354.32 371.44,356.46 371.86,356.35 372.29,356.14 372.72,356.12 373.14,355.74 373.57,356.14 373.99,355.97 374.42,356.6 374.85,357.34 375.27,358.16 375.7,358.23 376.13,358.07 376.55,357.92 376.98,357.65 377.4,357.52 377.83,356.61 378.26,357.69 378.68,358.6 379.11,358.32 379.54,357.3 379.96,355.55 380.39,355.52 380.82,356.95 381.24,356.56 381.67,357.38 382.09,357.38 382.52,356.83 382.95,359.77 383.37,357.54 383.8,354.6 384.23,357.14 384.65,358.12 385.08,357.6 385.5,357.67 385.93,358.56 386.36,359.12 386.78,357.82 387.21,357.23 387.64,356.76 388.06,356.89 388.49,356.13 388.92,356.7 389.34,358.15 389.77,359 390.19,360.05 390.62,357.87 391.05,357.69 391.47,357.41 391.9,355.98 392.33,356.23 392.75,355.6 393.18,354.41 393.6,353.46 394.03,351.55 394.46,349.73 394.88,349.59 395.31,349.61 395.74,348.77 396.16,347.97 396.59,347.2 397.01,345.07 397.44,344.94 397.87,346.52 398.29,346.95 398.72,347.26 399.15,347.5 399.57,347.35 400,346.74 400.43,346.1 400.85,345.06 401.28,344.79 401.7,345.18 402.13,345.48 402.56,343.97 402.98,342.54 403.41,342.19 403.84,341.73 404.26,341.68 404.69,342.39 405.11,342.92 405.54,340.91 405.97,342.23 406.39,343.27 406.82,341.28 407.25,341.8 407.67,342.43 408.1,341.85 408.52,342.82 408.95,343.41 409.38,343.56 409.8,344.31 410.23,344.14 410.66,343.77 411.08,343.24 411.51,343.25 411.94,344.76 412.36,344.13 412.79,342.76 413.21,344.06 413.64,345.54 414.07,346.54 414.49,346.33 414.92,346.41 415.35,348.39 415.77,348.59 416.2,345.81 416.62,348.04 417.05,349.81 417.48,348.69 417.9,349.89 418.33,349.62 418.76,350.79 419.18,352.06 419.61,350.13 420.03,350.29 420.46,351.52 420.89,351.22 421.31,351.15 421.74,350.06 422.17,350.3 422.59,350.69 423.02,350.84 423.45,350.9 423.87,350.01 424.3,352.2 424.72,352.04 425.15,350.9 425.58,351.12 426,349.21 426.43,350.17 426.86,352.47 427.28,351.17 427.71,350.84 428.13,351.25 428.56,351.6 428.99,353.78 429.41,354.54 429.84,353.55 430.27,353.33 430.69,354.68 431.12,356.1 431.55,356.98 431.97,358.21 432.4,357.58 432.82,357.97 433.25,361.94 433.68,364.12 434.1,364.65 434.53,363.92 434.96,364.58 435.38,365.55 435.81,365.5 436.23,366.25 436.66,367.24 437.09,365.56 437.51,365.04 437.94,365.39 438.37,364.26 438.79,364.12 439.22,365.02 439.64,364.04 440.07,363.64 440.5,365.43 440.92,365.44 441.35,364.96 441.78,366.13 442.2,366.42 442.63,365.99 443.06,367.47 443.48,367.53 443.91,366.41 444.33,366.65 444.76,367.66 445.19,367.54 445.61,366.37 446.04,365.99 446.47,366.7 446.89,366.28 447.32,366.28 447.74,366.82 448.17,365 448.6,365.28 449.02,366.49 449.45,365.2 449.88,365.06 450.3,365.96 450.73,365.48 451.15,364.49 451.58,366.13 452.01,367.39 452.43,366.49 452.86,366.62 453.29,366.46 453.71,366.23 454.14,365.37 454.57,365.35 454.99,365.42 455.42,364.46 455.84,364.97 456.27,365.07 456.7,363.33 457.12,363.11 457.55,364.62 457.98,364.8 458.4,364.91 458.83,364.59 459.25,363.26 459.68,363.94 460.11,364.6 460.53,363.17 460.96,363.28 461.39,363.84 461.81,364.12 462.24,364.73 462.66,364.29 463.09,362.15 463.52,361.99 463.94,363.75 464.37,363.76 464.8,363.43 465.22,362.51 465.65,362.19 466.08,361.15 466.5,361.04 466.93,361.37 467.35,361.25 467.78,361.73 468.21,362.82 468.63,363.23 469.06,362.21 469.49,362.31 469.91,363.75 470.34,363.01 470.76,361.83 471.19,362.74 471.62,362.68 472.04,362.55 472.47,362.13 472.9,362.86 473.32,363.79 473.75,362.75 474.18,362.04 474.6,362.51 475.03,363.02 475.45,363.36 475.88,363.03 476.31,361.68 476.73,362.38 477.16,362.17 477.59,360.89 478.01,362.26 478.44,362.32 478.86,363.03 479.29,364.77 479.72,364.67 480.14,363.79 480.57,363.16 481,363.25 481.42,362.98 481.85,364.11 482.27,363.86 482.7,363.39" fill="none" stroke="#1f4cff" stroke-width="1.05" stroke-linejoin="round"/>
<line x1="460.3" y1="295" x2="468.2" y2="295" stroke="#1f4cff" stroke-width="1.1"/>
<text x="472.1" y="297.1" font-size="5.9">0.013μM</text>
<line x1="460.3" y1="305.2" x2="468.2" y2="305.2" stroke="#ff2a14" stroke-width="1.1"/>
<text x="472.1" y="307.3" font-size="5.9">0.04μM</text>
<line x1="460.3" y1="315.4" x2="468.2" y2="315.4" stroke="#1ec81e" stroke-width="1.1"/>
<text x="472.1" y="317.5" font-size="5.9">0.123μM</text>
<line x1="460.3" y1="325.6" x2="468.2" y2="325.6" stroke="#c43cff" stroke-width="1.1"/>
<text x="472.1" y="327.7" font-size="5.9">0.37μM</text>
<line x1="460.3" y1="335.8" x2="468.2" y2="335.8" stroke="#ff9a18" stroke-width="1.1"/>
<text x="472.1" y="337.9" font-size="5.9">1.1μM</text>
<line x1="531.2" y1="317" x2="531.2" y2="399.4" stroke="#000" stroke-width="1"/>
<line x1="528.7" y1="399.4" x2="531.2" y2="399.4" stroke="#000" stroke-width="0.9"/>
<text x="528.2" y="401.7" font-size="6.5" text-anchor="end">0</text>
<line x1="528.7" y1="378.8" x2="531.2" y2="378.8" stroke="#000" stroke-width="0.9"/>
<text x="528.2" y="381.1" font-size="6.5" text-anchor="end">1</text>
<line x1="528.7" y1="358.2" x2="531.2" y2="358.2" stroke="#000" stroke-width="0.9"/>
<text x="528.2" y="360.5" font-size="6.5" text-anchor="end">2</text>
<line x1="528.7" y1="337.6" x2="531.2" y2="337.6" stroke="#000" stroke-width="0.9"/>
<text x="528.2" y="339.9" font-size="6.5" text-anchor="end">3</text>
<line x1="528.7" y1="317" x2="531.2" y2="317" stroke="#000" stroke-width="0.9"/>
<text x="528.2" y="319.3" font-size="6.5" text-anchor="end">4</text>
<line x1="531.2" y1="399.4" x2="654.8" y2="399.4" stroke="#000" stroke-width="1"/>
<line x1="531.2" y1="399.4" x2="531.2" y2="402" stroke="#000" stroke-width="0.9"/>
<text x="531.2" y="409.2" font-size="6.9" text-anchor="middle">0.0</text>
<line x1="562.07" y1="399.4" x2="562.07" y2="402" stroke="#000" stroke-width="0.9"/>
<text x="562.07" y="409.2" font-size="6.9" text-anchor="middle">0.3</text>
<line x1="592.94" y1="399.4" x2="592.94" y2="402" stroke="#000" stroke-width="0.9"/>
<text x="592.94" y="409.2" font-size="6.9" text-anchor="middle">0.6</text>
<line x1="623.81" y1="399.4" x2="623.81" y2="402" stroke="#000" stroke-width="0.9"/>
<text x="623.81" y="409.2" font-size="6.9" text-anchor="middle">0.9</text>
<line x1="654.68" y1="399.4" x2="654.68" y2="402" stroke="#000" stroke-width="0.9"/>
<text x="654.68" y="409.2" font-size="6.9" text-anchor="middle">1.2</text>
<text x="665.8" y="408.7" font-size="9">×E-6</text>
<text x="593" y="420.5" font-size="6.8" text-anchor="middle">Concentration(M)</text>
<text x="517.5" y="361.3" font-size="6.6" text-anchor="middle" transform="rotate(-90 517.5 361.3)">Response Unit&#160;&#160;(RU)</text>
<polyline points="531.2,399.4 532.15,395.11 533.1,391.24 534.05,387.75 535,384.58 535.96,381.68 536.91,379.03 537.86,376.59 538.81,374.35 539.76,372.26 540.71,370.33 541.66,368.53 542.61,366.85 543.57,365.28 544.52,363.81 545.47,362.43 546.42,361.13 547.37,359.91 548.32,358.75 549.27,357.66 550.22,356.62 551.17,355.64 552.13,354.71 553.08,353.82 554.03,352.97 554.98,352.17 555.93,351.4 556.88,350.66 557.83,349.96 558.78,349.29 559.74,348.64 560.69,348.02 561.64,347.43 562.59,346.86 563.54,346.31 564.49,345.79 565.44,345.28 566.39,344.79 567.34,344.32 568.3,343.86 569.25,343.42 570.2,343 571.15,342.59 572.1,342.19 573.05,341.81 574,341.43 574.95,341.07 575.91,340.73 576.86,340.39 577.81,340.06 578.76,339.74 579.71,339.43 580.66,339.13 581.61,338.84 582.56,338.55 583.51,338.28 584.47,338.01 585.42,337.75 586.37,337.49 587.32,337.25 588.27,337 589.22,336.77 590.17,336.54 591.12,336.32 592.08,336.1 593.03,335.88 593.98,335.68 594.93,335.47 595.88,335.27 596.83,335.08 597.78,334.89 598.73,334.71 599.68,334.53 600.64,334.35 601.59,334.18 602.54,334.01 603.49,333.84 604.44,333.68 605.39,333.52 606.34,333.36 607.29,333.21 608.25,333.06 609.2,332.91 610.15,332.77 611.1,332.63 612.05,332.49 613,332.36 613.95,332.22 614.9,332.09 615.85,331.97 616.81,331.84 617.76,331.72 618.71,331.6 619.66,331.48 620.61,331.36 621.56,331.25 622.51,331.14 623.46,331.02 624.42,330.92 625.37,330.81 626.32,330.7 627.27,330.6 628.22,330.5 629.17,330.4 630.12,330.3 631.07,330.21 632.02,330.11 632.98,330.02 633.93,329.92 634.88,329.83 635.83,329.75 636.78,329.66 637.73,329.57 638.68,329.49 639.63,329.4 640.59,329.32 641.54,329.24 642.49,329.16 643.44,329.08 644.39,329" fill="none" stroke="#1f5ff0" stroke-width="1.2" stroke-linejoin="round"/>
<circle cx="532.8" cy="393.3" r="1.4" fill="#ff1a0a"/>
<circle cx="535.2" cy="381" r="1.4" fill="#ff1a0a"/>
<circle cx="544" cy="362.2" r="1.4" fill="#ff1a0a"/>
<circle cx="568.9" cy="351.6" r="1.4" fill="#ff1a0a"/>
<circle cx="644.1" cy="325.4" r="1.4" fill="#ff1a0a"/>
<text x="593.4" y="318.3" font-size="5.5" text-anchor="middle">Chidamide with c-MYC Protein</text>
<text x="593.7" y="325.4" font-size="5.6" text-anchor="middle">in 10μM ARA-C Buffer</text>
<text x="590.8" y="357.1" font-size="8.5">Kd=1.704E-7 M</text>
<text x="590.8" y="367" font-size="8.5">Rmax=3.523 RU</text>
<text x="590.8" y="376.9" font-size="8.5">Chi<tspan font-size="5.5" dy="-3">2</tspan><tspan dy="3">=0.0587</tspan></text>
<text x="335" y="451" font-size="14">(J)</text>
<line x1="368.3" y1="441.85" x2="368.3" y2="550.6" stroke="#000" stroke-width="1"/>
<line x1="365.8" y1="441.85" x2="368.3" y2="441.85" stroke="#000" stroke-width="0.9"/>
<text x="365.1" y="444.05" font-size="6.2" text-anchor="end">15</text>
<line x1="365.8" y1="469" x2="368.3" y2="469" stroke="#000" stroke-width="0.9"/>
<text x="365.1" y="471.2" font-size="6.2" text-anchor="end">10</text>
<line x1="365.8" y1="496.15" x2="368.3" y2="496.15" stroke="#000" stroke-width="0.9"/>
<text x="365.1" y="498.35" font-size="6.2" text-anchor="end">5</text>
<line x1="365.8" y1="523.3" x2="368.3" y2="523.3" stroke="#000" stroke-width="0.9"/>
<text x="365.1" y="525.5" font-size="6.2" text-anchor="end">0</text>
<line x1="365.8" y1="550.45" x2="368.3" y2="550.45" stroke="#000" stroke-width="0.9"/>
<text x="365.1" y="552.65" font-size="6.2" text-anchor="end">-5</text>
<line x1="368.3" y1="550.6" x2="495.81" y2="550.6" stroke="#000" stroke-width="1"/>
<line x1="368.4" y1="550.6" x2="368.4" y2="553.2" stroke="#000" stroke-width="0.8"/>
<text x="368.4" y="560" font-size="6.6" text-anchor="middle">0</text>
<line x1="372.65" y1="550.6" x2="372.65" y2="552" stroke="#000" stroke-width="0.8"/>
<line x1="376.89" y1="550.6" x2="376.89" y2="552" stroke="#000" stroke-width="0.8"/>
<line x1="381.14" y1="550.6" x2="381.14" y2="552" stroke="#000" stroke-width="0.8"/>
<line x1="385.39" y1="550.6" x2="385.39" y2="552" stroke="#000" stroke-width="0.8"/>
<line x1="389.63" y1="550.6" x2="389.63" y2="552" stroke="#000" stroke-width="0.8"/>
<line x1="393.88" y1="550.6" x2="393.88" y2="552" stroke="#000" stroke-width="0.8"/>
<line x1="398.13" y1="550.6" x2="398.13" y2="552" stroke="#000" stroke-width="0.8"/>
<line x1="402.38" y1="550.6" x2="402.38" y2="552" stroke="#000" stroke-width="0.8"/>
<line x1="406.62" y1="550.6" x2="406.62" y2="552" stroke="#000" stroke-width="0.8"/>
<line x1="410.87" y1="550.6" x2="410.87" y2="553.2" stroke="#000" stroke-width="0.8"/>
<text x="410.87" y="560" font-size="6.6" text-anchor="middle">100</text>
<line x1="415.12" y1="550.6" x2="415.12" y2="552" stroke="#000" stroke-width="0.8"/>
<line x1="419.36" y1="550.6" x2="419.36" y2="552" stroke="#000" stroke-width="0.8"/>
<line x1="423.61" y1="550.6" x2="423.61" y2="552" stroke="#000" stroke-width="0.8"/>
<line x1="427.86" y1="550.6" x2="427.86" y2="552" stroke="#000" stroke-width="0.8"/>
<line x1="432.1" y1="550.6" x2="432.1" y2="552" stroke="#000" stroke-width="0.8"/>
<line x1="436.35" y1="550.6" x2="436.35" y2="552" stroke="#000" stroke-width="0.8"/>
<line x1="440.6" y1="550.6" x2="440.6" y2="552" stroke="#000" stroke-width="0.8"/>
<line x1="444.85" y1="550.6" x2="444.85" y2="552" stroke="#000" stroke-width="0.8"/>
<line x1="449.09" y1="550.6" x2="449.09" y2="552" stroke="#000" stroke-width="0.8"/>
<line x1="453.34" y1="550.6" x2="453.34" y2="553.2" stroke="#000" stroke-width="0.8"/>
<text x="453.34" y="560" font-size="6.6" text-anchor="middle">200</text>
<line x1="457.59" y1="550.6" x2="457.59" y2="552" stroke="#000" stroke-width="0.8"/>
<line x1="461.83" y1="550.6" x2="461.83" y2="552" stroke="#000" stroke-width="0.8"/>
<line x1="466.08" y1="550.6" x2="466.08" y2="552" stroke="#000" stroke-width="0.8"/>
<line x1="470.33" y1="550.6" x2="470.33" y2="552" stroke="#000" stroke-width="0.8"/>
<line x1="474.57" y1="550.6" x2="474.57" y2="552" stroke="#000" stroke-width="0.8"/>
<line x1="478.82" y1="550.6" x2="478.82" y2="552" stroke="#000" stroke-width="0.8"/>
<line x1="483.07" y1="550.6" x2="483.07" y2="552" stroke="#000" stroke-width="0.8"/>
<line x1="487.32" y1="550.6" x2="487.32" y2="552" stroke="#000" stroke-width="0.8"/>
<line x1="491.56" y1="550.6" x2="491.56" y2="552" stroke="#000" stroke-width="0.8"/>
<line x1="495.81" y1="550.6" x2="495.81" y2="553.2" stroke="#000" stroke-width="0.8"/>
<text x="495.81" y="560" font-size="6.6" text-anchor="middle">300</text>
<text x="432.1" y="569.8" font-size="6.8" text-anchor="middle">Time (s)</text>
<line x1="368.3" y1="523.3" x2="495.81" y2="523.3" stroke="#999" stroke-width="0.7" stroke-dasharray="1.6,1.2"/>
<text x="354.8" y="500.8" font-size="6" text-anchor="middle" transform="rotate(-90 354.8 500.8)">Response Unit&#160;&#160;(RU)</text>
<polyline points="368.4,506.98 368.82,506.88 369.25,506.84 369.67,507.67 370.1,507.4 370.52,507.36 370.95,506.41 371.37,506.92 371.8,507.74 372.22,506.67 372.65,508.03 373.07,509.39 373.5,508.32 373.92,507.85 374.35,508.04 374.77,507.4 375.2,507.85 375.62,509.07 376.04,510.35 376.47,509.97 376.89,509.34 377.32,509.49 377.74,509.15 378.17,510.14 378.59,509.65 379.02,508.71 379.44,509.32 379.87,510.56 380.29,511.34 380.72,511.25 381.14,511.45 381.57,511.92 381.99,511.73 382.42,511.18 382.84,511.3 383.26,511.72 383.69,511.37 384.11,511.13 384.54,513.07 384.96,513.53 385.39,512.38 385.81,511.72 386.24,511.92 386.66,512.56 387.09,512.81 387.51,512.47 387.94,512.45 388.36,513.11 388.79,513.33 389.21,512.88 389.63,512.86 390.06,513.97 390.48,513.52 390.91,513.16 391.33,513.36 391.76,512.94 392.18,512.64 392.61,512.41 393.03,513.31 393.46,514.05 393.88,514.56 394.31,513.89 394.73,504.4 395.16,495.85 395.58,487.51 396.01,486.03 396.43,482.11 396.85,478.05 397.28,475.63 397.7,472.58 398.13,469.27 398.55,468.86 398.98,469.69 399.4,469.24 399.83,468.55 400.25,469.07 400.68,467.84 401.1,467 401.53,467.75 401.95,469.12 402.38,468.98 402.8,467.97 403.23,468.17 403.65,469.08 404.07,469.49 404.5,469.59 404.92,469.21 405.35,468.35 405.77,468.06 406.2,468.86 406.62,469.47 407.05,469.11 407.47,469.69 407.9,470.25 408.32,469.28 408.75,469.35 409.17,470.16 409.6,470.69 410.02,471.32 410.45,472.15 410.87,472.41 411.29,471.31 411.72,470.57 412.14,470.81 412.57,471.7 412.99,472.46 413.42,473.22 413.84,473.49 414.27,473.11 414.69,473.57 415.12,473.59 415.54,473.85 415.97,475.27 416.39,475.46 416.82,475.58 417.24,475.92 417.67,474.8 418.09,474.43 418.51,475.02 418.94,474.57 419.36,474.26 419.79,475.2 420.21,475.34 420.64,475.1 421.06,475.88 421.49,476.07 421.91,476.94 422.34,477.71 422.76,477.32 423.19,476.89 423.61,477.22 424.04,477.77 424.46,477.36 424.89,476.87 425.31,477.17 425.73,477.45 426.16,478.2 426.58,479.14 427.01,479.01 427.43,479.22 427.86,479.82 428.28,479.13 428.71,479.2 429.13,480.61 429.56,480.51 429.98,479.44 430.41,479.85 430.83,480.34 431.26,482.93 431.68,486.08 432.1,488.55 432.53,492.43 432.95,495.3 433.38,499.8 433.8,503.44 434.23,506.93 434.65,511.34 435.08,514.04 435.5,517.19 435.93,517.6 436.35,518.79 436.78,518.9 437.2,518.76 437.63,517.89 438.05,517.66 438.48,518.9 438.9,519.48 439.32,519.93 439.75,520.14 440.17,519.62 440.6,519.29 441.02,519.63 441.45,519.97 441.87,520.61 442.3,519.84 442.72,520.12 443.15,521.6 443.57,521.03 444,520.79 444.42,521.24 444.85,520.35 445.27,520.59 445.7,520.66 446.12,520.66 446.54,520.44 446.97,519.57 447.39,520.54 447.82,521.31 448.24,521.53 448.67,521.4 449.09,520.55 449.52,521.37 449.94,521.54 450.37,521.54 450.79,522.42 451.22,522.7 451.64,521.39 452.07,520.6 452.49,521.52 452.92,521.92 453.34,521.6 453.76,522.28 454.19,522.78 454.61,520.81 455.04,521.02 455.46,522.05 455.89,521.58 456.31,521.99 456.74,522.31 457.16,521.51 457.59,521.45 458.01,521.74 458.44,522.01 458.86,522.06 459.29,521.89 459.71,521.39 460.14,521.1 460.56,521.9 460.98,523.39 461.41,522.96 461.83,521.51 462.26,522.28 462.68,523.57 463.11,523.69 463.53,522.37 463.96,522.35 464.38,523.01 464.81,522.44 465.23,521.68 465.66,521.81 466.08,522.45 466.51,522.71 466.93,521.93 467.36,521.21 467.78,522.02 468.2,523.18 468.63,523.52 469.05,522.63 469.48,522.62 469.9,522.5 470.33,522.02" fill="none" stroke="#ff9a18" stroke-width="1.05" stroke-linejoin="round"/>
<polyline points="368.4,506.23 368.82,506.27 369.25,506.99 369.67,507.22 370.1,506.92 370.52,507.15 370.95,506.93 371.37,506.26 371.8,506.85 372.22,507.75 372.65,508.57 373.07,508.59 373.5,508 373.92,508.89 374.35,508.71 374.77,507.76 375.2,508.26 375.62,508.83 376.04,509.12 376.47,508.88 376.89,509.3 377.32,509.91 377.74,508.78 378.17,508.84 378.59,509.61 379.02,509.88 379.44,510.71 379.87,510.87 380.29,510.46 380.72,511.04 381.14,511.27 381.57,510.6 381.99,510.52 382.42,511.69 382.84,512.55 383.26,512.65 383.69,511.94 384.11,511.17 384.54,511.39 384.96,512.05 385.39,512.85 385.81,512.56 386.24,512.15 386.66,512.59 387.09,512.66 387.51,512.17 387.94,512.21 388.36,512.94 388.79,513.92 389.21,513.7 389.63,512.91 390.06,512.99 390.48,513.3 390.91,513.55 391.33,513.19 391.76,513.03 392.18,513.34 392.61,513.77 393.03,514.14 393.46,513.88 393.88,514.21 394.31,514.94 394.73,509.61 395.16,503.6 395.58,498.33 396.01,496.58 396.43,495.04 396.85,494.07 397.28,492.89 397.7,491.34 398.13,488.6 398.55,487.95 398.98,487.91 399.4,487.46 399.83,487.44 400.25,487.48 400.68,487.13 401.1,486.49 401.53,486.05 401.95,486.07 402.38,486.14 402.8,486.57 403.23,486.68 403.65,486.69 404.07,486.16 404.5,486.55 404.92,486.97 405.35,485.2 405.77,485.19 406.2,486.49 406.62,486.32 407.05,485.34 407.47,485.34 407.9,485.55 408.32,485.53 408.75,485.98 409.17,484.89 409.6,484.8 410.02,486.29 410.45,486.58 410.87,486.31 411.29,486.04 411.72,485.96 412.14,486.14 412.57,487.07 412.99,486.99 413.42,486.64 413.84,487.03 414.27,487.56 414.69,487.75 415.12,487.53 415.54,487.4 415.97,487.76 416.39,487.8 416.82,487.28 417.24,487.8 417.67,488.17 418.09,488.14 418.51,487.63 418.94,488.35 419.36,488.91 419.79,488.65 420.21,488.76 420.64,487.88 421.06,488.03 421.49,488.41 421.91,488.59 422.34,488 422.76,487.43 423.19,487.85 423.61,488.81 424.04,489.77 424.46,488.95 424.89,488.71 425.31,489.33 425.73,489.23 426.16,489.71 426.58,489.65 427.01,489.26 427.43,489.48 427.86,489.85 428.28,489.94 428.71,490.06 429.13,489.99 429.56,489.39 429.98,489.51 430.41,489.85 430.83,490.06 431.26,491.73 431.68,492.09 432.1,491.59 432.53,497.74 432.95,503.61 433.38,510.04 433.8,516 434.23,521.08 434.65,521.05 435.08,522.27 435.5,523.89 435.93,523.13 436.35,523.16 436.78,522.96 437.2,522.64 437.63,523.82 438.05,523.5 438.48,522.55 438.9,523.52 439.32,523.61 439.75,523.21 440.17,523.28 440.6,523.36 441.02,524.57 441.45,524.27 441.87,523.35 442.3,522.78 442.72,522.52 443.15,523.09 443.57,523.89 444,524.39 444.42,524.46 444.85,524.62 445.27,524.65 445.7,525.32 446.12,525.16 446.54,524.2 446.97,523.3 447.39,523.01 447.82,524.19 448.24,524.27 448.67,524.57 449.09,525.03 449.52,525.29 449.94,524.52 450.37,523.59 450.79,524.6 451.22,524.87 451.64,524.06 452.07,523.86 452.49,524.09 452.92,524.62 453.34,525.02 453.76,524.67 454.19,524.08 454.61,524.45 455.04,525.25 455.46,524.5 455.89,524.44 456.31,524.48 456.74,524.04 457.16,524.13 457.59,523.56 458.01,523.65 458.44,524.03 458.86,524.66 459.29,525.24 459.71,524.65 460.14,523.81 460.56,523.53 460.98,523.24 461.41,523.67 461.83,524.49 462.26,524.24 462.68,524.32 463.11,524.74 463.53,525.16 463.96,524.77 464.38,524.79 464.81,524.99 465.23,525.13 465.66,524.92 466.08,524.78 466.51,524.89 466.93,525.12 467.36,525.62 467.78,524.57 468.2,524.73 468.63,525.16 469.05,525.05 469.48,525.98 469.9,525.69 470.33,524.64" fill="none" stroke="#c43cff" stroke-width="1.05" stroke-linejoin="round"/>
<polyline points="368.4,506.28 368.82,506.62 369.25,506.6 369.67,506.83 370.1,507.6 370.52,507.97 370.95,507.61 371.37,507.18 371.8,507.41 372.22,507.66 372.65,507.18 373.07,507.29 373.5,508.23 373.92,507.69 374.35,506.97 374.77,507.42 375.2,508.74 375.62,509.3 376.04,508.6 376.47,508.56 376.89,508.4 377.32,509.13 377.74,509.67 378.17,509.59 378.59,509.54 379.02,509.53 379.44,509.84 379.87,510.26 380.29,511.4 380.72,511.78 381.14,511.67 381.57,511.83 381.99,511.34 382.42,510.51 382.84,510.95 383.26,511.94 383.69,512.18 384.11,512.12 384.54,511.6 384.96,511.3 385.39,511.75 385.81,512.11 386.24,513.15 386.66,513.37 387.09,513.11 387.51,512.75 387.94,512.37 388.36,512.9 388.79,513.17 389.21,512.34 389.63,512.64 390.06,513.68 390.48,513.48 390.91,513.47 391.33,513.63 391.76,513.24 392.18,512.49 392.61,513.46 393.03,514.22 393.46,513.7 393.88,513.9 394.31,514.17 394.73,510.11 395.16,505.49 395.58,501.37 396.01,500.52 396.43,499.06 396.85,497.69 397.28,496.47 397.7,494.85 398.13,493.5 398.55,492.54 398.98,491.27 399.4,491.64 399.83,491.87 400.25,491.81 400.68,491.34 401.1,491.13 401.53,491.53 401.95,491.09 402.38,490.4 402.8,491.09 403.23,490.57 403.65,489.8 404.07,490.41 404.5,489.94 404.92,489.79 405.35,490.36 405.77,489.47 406.2,489.57 406.62,490.37 407.05,489.56 407.47,489.85 407.9,490.14 408.32,489.71 408.75,488.88 409.17,489.5 409.6,490.57 410.02,490.1 410.45,490.18 410.87,491.03 411.29,491.03 411.72,490.66 412.14,490.77 412.57,490.51 412.99,490.42 413.42,490.83 413.84,491.23 414.27,491.94 414.69,492.24 415.12,491.86 415.54,492.09 415.97,492.27 416.39,492.56 416.82,492.14 417.24,491.12 417.67,491.99 418.09,492.8 418.51,492.86 418.94,492.66 419.36,492.54 419.79,493.12 420.21,493.5 420.64,493.61 421.06,494.04 421.49,493.94 421.91,493.93 422.34,494.09 422.76,493.88 423.19,493.77 423.61,493.93 424.04,494.06 424.46,494.52 424.89,494.78 425.31,494.62 425.73,494.89 426.16,494.88 426.58,494.7 427.01,495.61 427.43,495.95 427.86,495.86 428.28,495.62 428.71,495.91 429.13,496.87 429.56,496.86 429.98,495.95 430.41,495.91 430.83,496.6 431.26,496.67 431.68,497.77 432.1,498.06 432.53,502.32 432.95,507.48 433.38,512.58 433.8,517.86 434.23,523.44 434.65,524.28 435.08,524.98 435.5,524.94 435.93,524.93 436.35,525.58 436.78,525.96 437.2,526.33 437.63,525.53 438.05,525.66 438.48,526.58 438.9,526.19 439.32,526 439.75,525.21 440.17,525.96 440.6,526.57 441.02,525.39 441.45,525.95 441.87,526.48 442.3,525.88 442.72,525.01 443.15,525.53 443.57,526.76 444,526.03 444.42,524.84 444.85,525.34 445.27,526.78 445.7,526.09 446.12,525.32 446.54,525.44 446.97,525.38 447.39,525.96 447.82,526.12 448.24,525.41 448.67,524.68 449.09,526.07 449.52,526.98 449.94,525.47 450.37,525.26 450.79,526.46 451.22,526.32 451.64,525.84 452.07,525.88 452.49,526.02 452.92,526.1 453.34,526.09 453.76,525.84 454.19,525.98 454.61,526.22 455.04,525.96 455.46,525.35 455.89,525.15 456.31,525.7 456.74,525.63 457.16,525.44 457.59,525.22 458.01,525.19 458.44,524.91 458.86,524.59 459.29,525.3 459.71,525.97 460.14,525.62 460.56,525.26 460.98,525.64 461.41,526.4 461.83,527.07 462.26,526.37 462.68,525.37 463.11,525.19 463.53,525.98 463.96,525.89 464.38,525.6 464.81,525.85 465.23,525.49 465.66,525.95 466.08,526.33 466.51,526.82 466.93,526.95 467.36,526.84 467.78,526.32 468.2,525.61 468.63,525.42 469.05,525.31 469.48,525.9 469.9,525.91 470.33,525.81" fill="none" stroke="#1ec81e" stroke-width="1.05" stroke-linejoin="round"/>
<polyline points="368.4,507.11 368.82,508 369.25,507.1 369.67,507.12 370.1,507.72 370.52,507.23 370.95,507.42 371.37,507.69 371.8,506.93 372.22,507.99 372.65,508.33 373.07,506.21 373.5,506.72 373.92,507.89 374.35,507.67 374.77,506.92 375.2,507.91 375.62,508.91 376.04,508.65 376.47,508.63 376.89,508.67 377.32,508.83 377.74,509.3 378.17,509.78 378.59,510.09 379.02,510.62 379.44,510.58 379.87,510.54 380.29,511.21 380.72,510.62 381.14,510.35 381.57,511.91 381.99,511.54 382.42,511.33 382.84,511.68 383.26,511.43 383.69,511.63 384.11,511.62 384.54,512.08 384.96,512.22 385.39,511.1 385.81,512.24 386.24,513.22 386.66,512.07 387.09,512.67 387.51,513.58 387.94,512.19 388.36,511.81 388.79,511.92 389.21,511.59 389.63,512.59 390.06,512.7 390.48,512.53 390.91,512.28 391.33,512.46 391.76,513.01 392.18,513.22 392.61,512.74 393.03,512.53 393.46,513.79 393.88,514.64 394.31,514.21 394.73,510.58 395.16,507.29 395.58,503.82 396.01,502.48 396.43,500.56 396.85,498.69 397.28,497.59 397.7,495.8 398.13,494.55 398.55,492.75 398.98,490.96 399.4,492.25 399.83,492.99 400.25,494.57 400.68,494.46 401.1,493.12 401.53,492.21 401.95,492.98 402.38,493.03 402.8,492.56 403.23,493.15 403.65,494.26 404.07,494.57 404.5,493.61 404.92,493.41 405.35,493.25 405.77,494.14 406.2,493.8 406.62,493.04 407.05,493.29 407.47,493.24 407.9,493.1 408.32,493.67 408.75,494.89 409.17,495.61 409.6,494.45 410.02,493.58 410.45,494.25 410.87,494.87 411.29,494.99 411.72,494.87 412.14,495.13 412.57,495.56 412.99,494.5 413.42,494.16 413.84,495.53 414.27,496.32 414.69,496.47 415.12,495.63 415.54,495.04 415.97,495.56 416.39,495.98 416.82,496.11 417.24,496.74 417.67,496.09 418.09,495.5 418.51,495.05 418.94,495.66 419.36,496.96 419.79,496.29 420.21,496.43 420.64,497.57 421.06,497.99 421.49,497.4 421.91,496.91 422.34,497.11 422.76,496.91 423.19,496.51 423.61,496.93 424.04,497.48 424.46,497.85 424.89,497.71 425.31,497.27 425.73,497.6 426.16,497.92 426.58,498.2 427.01,499.16 427.43,499.58 427.86,498.68 428.28,498.12 428.71,497.84 429.13,498.13 429.56,498.56 429.98,498.08 430.41,498.13 430.83,499.12 431.26,500.06 431.68,500.12 432.1,500.89 432.53,505.94 432.95,510.23 433.38,515.88 433.8,520.66 434.23,525.78 434.65,527.6 435.08,528.39 435.5,529.44 435.93,529.12 436.35,528.76 436.78,528.17 437.2,527.88 437.63,528.38 438.05,528.74 438.48,529.62 438.9,529.54 439.32,529.26 439.75,528.76 440.17,528.36 440.6,528.02 441.02,527.64 441.45,528.01 441.87,528.22 442.3,528.49 442.72,528.27 443.15,527.93 443.57,528.54 444,528.71 444.42,527.16 444.85,527.41 445.27,528.71 445.7,528.97 446.12,529.5 446.54,528.62 446.97,527.9 447.39,528.29 447.82,527.45 448.24,526.41 448.67,527.65 449.09,528.3 449.52,527.59 449.94,527.87 450.37,527.92 450.79,528.09 451.22,527.56 451.64,527.25 452.07,527.8 452.49,527.49 452.92,527.22 453.34,527.56 453.76,527.8 454.19,527.18 454.61,527.08 455.04,527.91 455.46,528.52 455.89,528.62 456.31,528.68 456.74,528.46 457.16,527.83 457.59,528.81 458.01,528.9 458.44,527.63 458.86,527.54 459.29,528.26 459.71,527.73 460.14,527.6 460.56,528.73 460.98,528.88 461.41,528.3 461.83,527.33 462.26,526.77 462.68,527.1 463.11,528.17 463.53,528.55 463.96,528.39 464.38,528.15 464.81,528.54 465.23,528.38 465.66,527.25 466.08,527.35 466.51,527.41 466.93,527.75 467.36,528.62 467.78,528.46 468.2,527.23 468.63,526.45 469.05,527.17 469.48,527.07 469.9,526.99 470.33,526.82" fill="none" stroke="#ff2a14" stroke-width="1.05" stroke-linejoin="round"/>
<polyline points="368.4,505.54 368.82,505.65 369.25,506.8 369.67,507.06 370.1,506.77 370.52,506.75 370.95,507.21 371.37,506.75 371.8,507.11 372.22,508.28 372.65,507.69 373.07,506.99 373.5,506.96 373.92,507.88 374.35,507.99 374.77,507.38 375.2,507.17 375.62,508.17 376.04,509.08 376.47,508.83 376.89,509.87 377.32,510.27 377.74,509.22 378.17,509.3 378.59,510.36 379.02,509.94 379.44,509.35 379.87,509.5 380.29,510.52 380.72,511.2 381.14,510.56 381.57,511.04 381.99,512.06 382.42,511.45 382.84,510.47 383.26,511.46 383.69,513.46 384.11,513.68 384.54,513.03 384.96,512.51 385.39,511.84 385.81,511.93 386.24,512.61 386.66,512.56 387.09,512.76 387.51,512.93 387.94,512.87 388.36,511.69 388.79,511.1 389.21,512.8 389.63,513.72 390.06,513.62 390.48,514 390.91,514.21 391.33,513.88 391.76,513.21 392.18,513.15 392.61,514.01 393.03,514.51 393.46,514.87 393.88,514.46 394.31,514.2 394.73,510.39 395.16,507.32 395.58,504.1 396.01,502.47 396.43,501.74 396.85,501.56 397.28,500.93 397.7,498.44 398.13,495.98 398.55,495 398.98,494.07 399.4,494.36 399.83,494.88 400.25,495 400.68,494.38 401.1,493.91 401.53,494.47 401.95,494.78 402.38,494.42 402.8,494.12 403.23,494.76 403.65,494.11 404.07,493.61 404.5,494.4 404.92,493.84 405.35,493.37 405.77,494.09 406.2,494.31 406.62,494.88 407.05,495.54 407.47,496.2 407.9,495.45 408.32,495.4 408.75,495.76 409.17,495.38 409.6,496.26 410.02,496.08 410.45,495.62 410.87,495.36 411.29,494.78 411.72,495.01 412.14,495.54 412.57,496.09 412.99,496.28 413.42,496.05 413.84,496.7 414.27,496.93 414.69,496.86 415.12,496.84 415.54,496.74 415.97,497.18 416.39,497.81 416.82,497.35 417.24,497.9 417.67,498.65 418.09,497.26 418.51,498.34 418.94,499.49 419.36,498.03 419.79,498.59 420.21,497.82 420.64,498.37 421.06,499.02 421.49,497.22 421.91,497.57 422.34,498.5 422.76,498.87 423.19,499.29 423.61,499.19 424.04,499.4 424.46,500.01 424.89,499.15 425.31,499.65 425.73,500.39 426.16,499.91 426.58,500.47 427.01,500.12 427.43,499.46 427.86,500.8 428.28,501.09 428.71,500.86 429.13,501.25 429.56,500.97 429.98,501.11 430.41,500.81 430.83,500.92 431.26,501.27 431.68,501.33 432.1,501.75 432.53,506.87 432.95,512.38 433.38,517.55 433.8,521.94 434.23,525.86 434.65,525.96 435.08,526.62 435.5,528.29 435.93,528.96 436.35,528.88 436.78,528.78 437.2,528.26 437.63,527.8 438.05,528.84 438.48,529.57 438.9,528.53 439.32,528.06 439.75,528.77 440.17,528.35 440.6,528.4 441.02,529.06 441.45,529.07 441.87,529.83 442.3,529.2 442.72,528.83 443.15,529.47 443.57,529.24 444,528.62 444.42,528.29 444.85,528.6 445.27,529.32 445.7,529.35 446.12,529.24 446.54,529.04 446.97,528.17 447.39,528.3 447.82,527.51 448.24,527.24 448.67,527.88 449.09,528.04 449.52,528.38 449.94,527.99 450.37,527.37 450.79,528.4 451.22,528.4 451.64,527.54 452.07,527.57 452.49,527.57 452.92,528.56 453.34,529.3 453.76,527.87 454.19,527.19 454.61,528.66 455.04,528.6 455.46,528.09 455.89,529.08 456.31,529.95 456.74,529.82 457.16,528.62 457.59,527.88 458.01,528.1 458.44,527.93 458.86,527.51 459.29,528.59 459.71,528.99 460.14,528.38 460.56,528.79 460.98,528.64 461.41,528.11 461.83,527.96 462.26,528.55 462.68,528.63 463.11,527.01 463.53,527.26 463.96,528.94 464.38,528.31 464.81,527.24 465.23,527.13 465.66,527.9 466.08,527.63 466.51,527.46 466.93,528.42 467.36,528.32 467.78,527.83 468.2,527.2 468.63,526.84 469.05,527.16 469.48,526.99 469.9,526.93 470.33,526.92" fill="none" stroke="#1f4cff" stroke-width="1.05" stroke-linejoin="round"/>
<line x1="460.9" y1="447.1" x2="468.8" y2="447.1" stroke="#1f4cff" stroke-width="1.1"/>
<text x="472.7" y="449.2" font-size="5.9">0.123μM</text>
<line x1="460.9" y1="457.3" x2="468.8" y2="457.3" stroke="#ff2a14" stroke-width="1.1"/>
<text x="472.7" y="459.4" font-size="5.9">0.37μM</text>
<line x1="460.9" y1="467.5" x2="468.8" y2="467.5" stroke="#1ec81e" stroke-width="1.1"/>
<text x="472.7" y="469.6" font-size="5.9">1.1μM</text>
<line x1="460.9" y1="477.7" x2="468.8" y2="477.7" stroke="#c43cff" stroke-width="1.1"/>
<text x="472.7" y="479.8" font-size="5.9">3.3μM</text>
<line x1="460.9" y1="487.9" x2="468.8" y2="487.9" stroke="#ff9a18" stroke-width="1.1"/>
<text x="472.7" y="490" font-size="5.9">10μM</text>
<line x1="531.3" y1="469" x2="531.3" y2="550.6" stroke="#000" stroke-width="1"/>
<line x1="528.8" y1="550.6" x2="531.3" y2="550.6" stroke="#000" stroke-width="0.9"/>
<text x="528.3" y="552.9" font-size="6.5" text-anchor="end">0</text>
<line x1="528.8" y1="530.2" x2="531.3" y2="530.2" stroke="#000" stroke-width="0.9"/>
<text x="528.3" y="532.5" font-size="6.5" text-anchor="end">3</text>
<line x1="528.8" y1="509.8" x2="531.3" y2="509.8" stroke="#000" stroke-width="0.9"/>
<text x="528.3" y="512.1" font-size="6.5" text-anchor="end">6</text>
<line x1="528.8" y1="489.4" x2="531.3" y2="489.4" stroke="#000" stroke-width="0.9"/>
<text x="528.3" y="491.7" font-size="6.5" text-anchor="end">9</text>
<line x1="528.8" y1="469" x2="531.3" y2="469" stroke="#000" stroke-width="0.9"/>
<text x="528.3" y="471.3" font-size="6.5" text-anchor="end">12</text>
<line x1="531.3" y1="550.6" x2="654.8" y2="550.6" stroke="#000" stroke-width="1"/>
<line x1="531.3" y1="550.6" x2="531.3" y2="553.2" stroke="#000" stroke-width="0.9"/>
<text x="531.3" y="560.4" font-size="6.9" text-anchor="middle">0</text>
<line x1="556" y1="550.6" x2="556" y2="553.2" stroke="#000" stroke-width="0.9"/>
<text x="556" y="560.4" font-size="6.9" text-anchor="middle">2</text>
<line x1="580.7" y1="550.6" x2="580.7" y2="553.2" stroke="#000" stroke-width="0.9"/>
<text x="580.7" y="560.4" font-size="6.9" text-anchor="middle">4</text>
<line x1="605.4" y1="550.6" x2="605.4" y2="553.2" stroke="#000" stroke-width="0.9"/>
<text x="605.4" y="560.4" font-size="6.9" text-anchor="middle">6</text>
<line x1="630.1" y1="550.6" x2="630.1" y2="553.2" stroke="#000" stroke-width="0.9"/>
<text x="630.1" y="560.4" font-size="6.9" text-anchor="middle">8</text>
<line x1="654.8" y1="550.6" x2="654.8" y2="553.2" stroke="#000" stroke-width="0.9"/>
<text x="654.8" y="560.4" font-size="6.9" text-anchor="middle">10</text>
<text x="665.8" y="559.8" font-size="9">×E-6</text>
<text x="593" y="571" font-size="6.8" text-anchor="middle">Concentration(M)</text>
<text x="517.5" y="511.3" font-size="6.6" text-anchor="middle" transform="rotate(-90 517.5 511.3)">Response Unit&#160;&#160;(RU)</text>
<polyline points="531.3,550.6 532.34,541.24 533.38,535.47 534.41,531.56 535.45,528.73 536.49,526.59 537.53,524.91 538.56,523.57 539.6,522.46 540.64,521.54 541.68,520.75 542.72,520.08 543.75,519.49 544.79,518.98 545.83,518.52 546.87,518.12 547.91,517.76 548.94,517.43 549.98,517.13 551.02,516.86 552.06,516.62 553.09,516.39 554.13,516.19 555.17,515.99 556.21,515.82 557.25,515.65 558.28,515.5 559.32,515.35 560.36,515.22 561.4,515.09 562.43,514.98 563.47,514.86 564.51,514.76 565.55,514.66 566.59,514.57 567.62,514.48 568.66,514.39 569.7,514.31 570.74,514.23 571.77,514.16 572.81,514.09 573.85,514.03 574.89,513.96 575.93,513.9 576.96,513.84 578,513.79 579.04,513.73 580.08,513.68 581.12,513.63 582.15,513.59 583.19,513.54 584.23,513.5 585.27,513.46 586.3,513.41 587.34,513.37 588.38,513.34 589.42,513.3 590.46,513.26 591.49,513.23 592.53,513.2 593.57,513.16 594.61,513.13 595.64,513.1 596.68,513.07 597.72,513.05 598.76,513.02 599.8,512.99 600.83,512.96 601.87,512.94 602.91,512.91 603.95,512.89 604.98,512.87 606.02,512.84 607.06,512.82 608.1,512.8 609.14,512.78 610.17,512.76 611.21,512.74 612.25,512.72 613.29,512.7 614.33,512.68 615.36,512.66 616.4,512.65 617.44,512.63 618.48,512.61 619.51,512.6 620.55,512.58 621.59,512.56 622.63,512.55 623.67,512.53 624.7,512.52 625.74,512.51 626.78,512.49 627.82,512.48 628.85,512.46 629.89,512.45 630.93,512.44 631.97,512.42 633.01,512.41 634.04,512.4 635.08,512.39 636.12,512.38 637.16,512.36 638.19,512.35 639.23,512.34 640.27,512.33 641.31,512.32 642.35,512.31 643.38,512.3 644.42,512.29 645.46,512.28 646.5,512.27 647.54,512.26 648.57,512.25 649.61,512.24 650.65,512.23 651.69,512.22 652.72,512.21 653.76,512.21 654.8,512.2" fill="none" stroke="#1f5ff0" stroke-width="1.2" stroke-linejoin="round"/>
<circle cx="533.4" cy="532.5" r="1.4" fill="#ff1a0a"/>
<circle cx="536.5" cy="528.5" r="1.4" fill="#ff1a0a"/>
<circle cx="545.2" cy="523.8" r="1.4" fill="#ff1a0a"/>
<circle cx="572.5" cy="516.7" r="1.4" fill="#ff1a0a"/>
<circle cx="654.8" cy="506.7" r="1.4" fill="#ff1a0a"/>
<text x="593.5" y="522.5" font-size="8.5">Kd=3.116E-6 M</text>
<text x="593.5" y="532.4" font-size="8.5">Rmax=4.932 RU</text>
<text x="593.5" y="542.3" font-size="8.5">Chi<tspan font-size="5.5" dy="-3">2</tspan><tspan dy="3">=0.0219</tspan></text>
<text x="541.5" y="486.9" font-size="6.6">Chidamide with <tspan font-family="Liberation Serif, serif" font-size="6.6">mutant</tspan> MYC Protein</text>
<text x="-0.6" y="452.8" font-size="14">(H)</text>
<line x1="35.7" y1="470.8" x2="44.5" y2="493.6" stroke="#f08ef0" stroke-width="0.55" stroke-dasharray="1,0.8"/>
<line x1="62.8" y1="472.4" x2="93.6" y2="493.5" stroke="#f08ef0" stroke-width="0.55" stroke-dasharray="1,0.8"/>
<line x1="79.2" y1="475.4" x2="93.6" y2="493.5" stroke="#f08ef0" stroke-width="0.55" stroke-dasharray="1,0.8"/>
<line x1="51.3" y1="517.4" x2="44.5" y2="493.6" stroke="#f08ef0" stroke-width="0.55" stroke-dasharray="1,0.8"/>
<line x1="85.5" y1="517.4" x2="93.6" y2="493.5" stroke="#f08ef0" stroke-width="0.55" stroke-dasharray="1,0.8"/>
<line x1="85.5" y1="517.4" x2="101.5" y2="510" stroke="#f08ef0" stroke-width="0.55" stroke-dasharray="1,0.8"/>
<line x1="90.4" y1="464.2" x2="106.1" y2="478.8" stroke="#22cc22" stroke-width="0.55" stroke-dasharray="1,0.8"/>
<circle cx="35.7" cy="470.8" r="6.4" fill="#e9eef9"/>
<circle cx="62.8" cy="472.4" r="6" fill="#e9eef9"/>
<circle cx="79.2" cy="475.4" r="6.2" fill="#e9eef9"/>
<circle cx="90.4" cy="464.2" r="6.4" fill="#e9eef9"/>
<circle cx="51.3" cy="517.4" r="6" fill="#e9eef9"/>
<circle cx="71.2" cy="516.4" r="7" fill="#e9eef9"/>
<circle cx="85.5" cy="517.4" r="6.2" fill="#e9eef9"/>
<circle cx="43.7" cy="529.7" r="6" fill="#e9eef9"/>
<circle cx="35.7" cy="470.8" r="4.6" fill="#c46ee6"/>
<text x="35.7" y="470.6" font-size="2.7" text-anchor="middle" fill="#333" textLength="4.6" lengthAdjust="spacingAndGlyphs">LEU</text>
<text x="35.7" y="473.1" font-size="2.7" text-anchor="middle" fill="#333" textLength="6.6" lengthAdjust="spacingAndGlyphs">C:341</text>
<circle cx="49.5" cy="462.7" r="4.8" fill="#c6f2c6"/>
<text x="49.5" y="462.5" font-size="2.7" text-anchor="middle" fill="#333" textLength="4.6" lengthAdjust="spacingAndGlyphs">LEU</text>
<text x="49.5" y="465" font-size="2.7" text-anchor="middle" fill="#333" textLength="6.6" lengthAdjust="spacingAndGlyphs">C:341</text>
<circle cx="62.8" cy="472.4" r="4.8" fill="#f4c8f2"/>
<text x="62.8" y="472.2" font-size="2.7" text-anchor="middle" fill="#333" textLength="4.6" lengthAdjust="spacingAndGlyphs">LEU</text>
<text x="62.8" y="474.7" font-size="2.7" text-anchor="middle" fill="#333" textLength="6.6" lengthAdjust="spacingAndGlyphs">C:341</text>
<circle cx="79.2" cy="475.4" r="5" fill="#f4c8f2"/>
<text x="79.2" y="475.2" font-size="2.7" text-anchor="middle" fill="#333" textLength="4.6" lengthAdjust="spacingAndGlyphs">LEU</text>
<text x="79.2" y="477.7" font-size="2.7" text-anchor="middle" fill="#333" textLength="6.6" lengthAdjust="spacingAndGlyphs">C:341</text>
<circle cx="90.4" cy="464.2" r="4.6" fill="#2fe02f"/>
<text x="90.4" y="464" font-size="2.7" text-anchor="middle" fill="#333" textLength="4.6" lengthAdjust="spacingAndGlyphs">LEU</text>
<text x="90.4" y="466.5" font-size="2.7" text-anchor="middle" fill="#333" textLength="6.6" lengthAdjust="spacingAndGlyphs">C:341</text>
<circle cx="132" cy="470.9" r="4.8" fill="#c6f2c6"/>
<text x="132" y="470.7" font-size="2.7" text-anchor="middle" fill="#333" textLength="4.6" lengthAdjust="spacingAndGlyphs">LEU</text>
<text x="132" y="473.2" font-size="2.7" text-anchor="middle" fill="#333" textLength="6.6" lengthAdjust="spacingAndGlyphs">C:341</text>
<circle cx="144.3" cy="488.9" r="4.8" fill="#c6f2c6"/>
<text x="144.3" y="488.7" font-size="2.7" text-anchor="middle" fill="#333" textLength="4.6" lengthAdjust="spacingAndGlyphs">LEU</text>
<text x="144.3" y="491.2" font-size="2.7" text-anchor="middle" fill="#333" textLength="6.6" lengthAdjust="spacingAndGlyphs">C:341</text>
<circle cx="51.3" cy="517.4" r="4.8" fill="#f4c8f2"/>
<text x="51.3" y="517.2" font-size="2.7" text-anchor="middle" fill="#333" textLength="4.6" lengthAdjust="spacingAndGlyphs">LEU</text>
<text x="51.3" y="519.7" font-size="2.7" text-anchor="middle" fill="#333" textLength="6.6" lengthAdjust="spacingAndGlyphs">C:341</text>
<circle cx="71.2" cy="516.4" r="4.8" fill="#c6f2c6"/>
<text x="71.2" y="516.2" font-size="2.7" text-anchor="middle" fill="#333" textLength="4.6" lengthAdjust="spacingAndGlyphs">LEU</text>
<text x="71.2" y="518.7" font-size="2.7" text-anchor="middle" fill="#333" textLength="6.6" lengthAdjust="spacingAndGlyphs">C:341</text>
<circle cx="85.5" cy="517.4" r="5" fill="#f4c8f2"/>
<text x="85.5" y="517.2" font-size="2.7" text-anchor="middle" fill="#333" textLength="4.6" lengthAdjust="spacingAndGlyphs">LEU</text>
<text x="85.5" y="519.7" font-size="2.7" text-anchor="middle" fill="#333" textLength="6.6" lengthAdjust="spacingAndGlyphs">C:341</text>
<circle cx="43.7" cy="529.7" r="4.8" fill="#c6f2c6"/>
<text x="43.7" y="529.5" font-size="2.7" text-anchor="middle" fill="#333" textLength="4.6" lengthAdjust="spacingAndGlyphs">LEU</text>
<text x="43.7" y="532" font-size="2.7" text-anchor="middle" fill="#333" textLength="6.6" lengthAdjust="spacingAndGlyphs">C:341</text>
<circle cx="67.1" cy="534.4" r="4.8" fill="#c6f2c6"/>
<text x="67.1" y="534.2" font-size="2.7" text-anchor="middle" fill="#333" textLength="4.6" lengthAdjust="spacingAndGlyphs">LEU</text>
<text x="67.1" y="536.7" font-size="2.7" text-anchor="middle" fill="#333" textLength="6.6" lengthAdjust="spacingAndGlyphs">C:341</text>
<circle cx="87.4" cy="536.3" r="4.8" fill="#c6f2c6"/>
<text x="87.4" y="536.1" font-size="2.7" text-anchor="middle" fill="#333" textLength="4.6" lengthAdjust="spacingAndGlyphs">LEU</text>
<text x="87.4" y="538.6" font-size="2.7" text-anchor="middle" fill="#333" textLength="6.6" lengthAdjust="spacingAndGlyphs">C:341</text>
<circle cx="104.4" cy="527.8" r="4.8" fill="#c6f2c6"/>
<text x="104.4" y="527.6" font-size="2.7" text-anchor="middle" fill="#333" textLength="4.6" lengthAdjust="spacingAndGlyphs">LEU</text>
<text x="104.4" y="530.1" font-size="2.7" text-anchor="middle" fill="#333" textLength="6.6" lengthAdjust="spacingAndGlyphs">C:341</text>
<circle cx="105.4" cy="543" r="4.8" fill="#c6f2c6"/>
<text x="105.4" y="542.8" font-size="2.7" text-anchor="middle" fill="#333" textLength="4.6" lengthAdjust="spacingAndGlyphs">LEU</text>
<text x="105.4" y="545.3" font-size="2.7" text-anchor="middle" fill="#333" textLength="6.6" lengthAdjust="spacingAndGlyphs">C:341</text>
<polyline points="51.17,497.45 44.5,501.3 37.83,497.45 37.83,489.75 44.5,485.9 51.17,489.75 51.17,497.45" fill="none" stroke="#666" stroke-width="1.6" stroke-linejoin="round"/>
<polyline points="48.63,495.99 44.5,498.37 40.37,495.99 40.37,491.21 44.5,488.83 48.63,491.21 48.63,495.99" fill="none" stroke="#d0d0d0" stroke-width="0.6" stroke-linejoin="round" stroke-dasharray="0.8,0.6"/>
<polyline points="100.27,497.35 93.6,501.2 86.93,497.35 86.93,489.65 93.6,485.8 100.27,489.65 100.27,497.35" fill="none" stroke="#666" stroke-width="1.6" stroke-linejoin="round"/>
<polyline points="97.73,495.89 93.6,498.27 89.47,495.89 89.47,491.11 93.6,488.73 97.73,491.11 97.73,495.89" fill="none" stroke="#d0d0d0" stroke-width="0.6" stroke-linejoin="round" stroke-dasharray="0.8,0.6"/>
<polyline points="119.07,507.55 112.4,511.4 105.73,507.55 105.73,499.85 112.4,496 119.07,499.85 119.07,507.55" fill="none" stroke="#666" stroke-width="1.6" stroke-linejoin="round"/>
<polyline points="116.53,506.09 112.4,508.47 108.27,506.09 108.27,501.31 112.4,498.93 116.53,501.31 116.53,506.09" fill="none" stroke="#d0d0d0" stroke-width="0.6" stroke-linejoin="round" stroke-dasharray="0.8,0.6"/>
<polyline points="37.8,497.4 37.8,493" fill="none" stroke="#4050d0" stroke-width="1.6" stroke-linejoin="round"/>
<polyline points="51.2,497.4 56.7,500.5 62.8,496.4 68.9,500 73.5,497.6" fill="none" stroke="#666" stroke-width="1.6" stroke-linejoin="round"/>
<polyline points="56.9,498.6 62.2,495" fill="none" stroke="#666" stroke-width="0.8" stroke-linejoin="round"/>
<polyline points="73.5,497.6 77,497.2" fill="none" stroke="#4050d0" stroke-width="1.6" stroke-linejoin="round"/>
<polyline points="77,497.2 81.7,500.5 86.8,497.6" fill="none" stroke="#666" stroke-width="1.6" stroke-linejoin="round"/>
<polyline points="68.9,500 68.9,504.5" fill="none" stroke="#666" stroke-width="1.6" stroke-linejoin="round"/>
<polyline points="68.9,504.5 68.9,508.1" fill="none" stroke="#d01818" stroke-width="1.6" stroke-linejoin="round"/>
<polyline points="100.4,489.7 106.1,486.2 106.1,482.5" fill="none" stroke="#666" stroke-width="1.6" stroke-linejoin="round"/>
<polyline points="106.1,482.5 106.1,478.8" fill="none" stroke="#d01818" stroke-width="1.6" stroke-linejoin="round"/>
<polyline points="106.1,486.2 109,487.8" fill="none" stroke="#666" stroke-width="1.6" stroke-linejoin="round"/>
<polyline points="109,487.8 111.8,489.3 111.8,492.5" fill="none" stroke="#4050d0" stroke-width="1.6" stroke-linejoin="round"/>
<polyline points="111.8,492.5 112.4,496" fill="none" stroke="#666" stroke-width="1.6" stroke-linejoin="round"/>
<polyline points="119.1,499.8 122,498" fill="none" stroke="#666" stroke-width="1.6" stroke-linejoin="round"/>
<polyline points="122,498 125.3,495.8" fill="none" stroke="#3050e0" stroke-width="1.6" stroke-linejoin="round"/>
<polyline points="105.7,507.5 103,509.2" fill="none" stroke="#666" stroke-width="1.6" stroke-linejoin="round"/>
<polyline points="103,509.2 100.4,510.7" fill="none" stroke="#80c8f0" stroke-width="1.6" stroke-linejoin="round"/>
<text x="22.3" y="567.4" font-size="2.6" font-weight="bold" fill="#333" textLength="17" lengthAdjust="spacingAndGlyphs">Interactions</text>
<rect x="22.3" y="570" width="4" height="2.6" fill="#b8f0b8" stroke="#666" stroke-width="0.2"/>
<rect x="22.3" y="573.8" width="4" height="2.6" fill="#22dd22" stroke="#666" stroke-width="0.2"/>
<text x="28.4" y="572.6" font-size="2.8" font-family='"Liberation Mono", monospace' fill="#555" textLength="17.3" lengthAdjust="spacingAndGlyphs">van der Waals</text>
<text x="28.4" y="576.4" font-size="2.8" font-family='"Liberation Mono", monospace' fill="#555" textLength="34.6" lengthAdjust="spacingAndGlyphs">Conventional Hydrogen Bond</text>
<rect x="90.6" y="570" width="4" height="2.6" fill="#c060e0" stroke="#666" stroke-width="0.2"/>
<rect x="90.6" y="573.8" width="4" height="2.6" fill="#f4c0f4" stroke="#666" stroke-width="0.2"/>
<text x="96.6" y="572.6" font-size="2.8" font-family='"Liberation Mono", monospace' fill="#555" textLength="10.6" lengthAdjust="spacingAndGlyphs">Pi-Sigma</text>
<text x="96.6" y="576.4" font-size="2.8" font-family='"Liberation Mono", monospace' fill="#555" textLength="10.6" lengthAdjust="spacingAndGlyphs">Pi-Alkyl</text>
<text x="147.4" y="453.1" font-size="14">(I)</text>
<path d="M170.47,472.94 L170.77,472.99 L171.06,473.11 L171.32,473.32 L171.57,473.6 L171.79,473.95 L171.99,474.36 L172.16,474.83 L172.3,475.33 L172.42,475.87 L172.51,476.43 L172.58,477 L172.62,477.56 L172.65,478.11 L172.66,478.62 L172.65,479.09 L172.63,479.51 L172.61,479.87 L172.58,480.16 L172.55,480.38 L172.53,480.51 L172.52,480.57 L175.72,481.1 L175.73,481.05 L175.75,480.91 L175.78,480.69 L175.8,480.4 L175.83,480.04 L175.84,479.62 L175.85,479.15 L175.84,478.64 L175.82,478.09 L175.78,477.53 L175.71,476.97 L175.62,476.41 L175.5,475.87 L175.36,475.36 L175.19,474.89 L174.99,474.48 L174.77,474.13 L174.52,473.85 L174.25,473.64 L173.97,473.52 L173.67,473.48Z" fill="#7a0606" stroke="#7a0606" stroke-width="0.35" stroke-linejoin="round"/>
<path d="M176.54,473.96 L176.84,473.99 L177.13,474.1 L177.4,474.3 L177.65,474.57 L177.87,474.9 L178.07,475.31 L178.25,475.77 L178.4,476.27 L178.52,476.8 L178.62,477.36 L178.69,477.93 L178.73,478.49 L178.76,479.04 L178.77,479.56 L178.77,480.04 L178.75,480.47 L178.73,480.84 L178.7,481.14 L178.67,481.37 L178.65,481.52 L178.64,481.59 L181.84,482.12 L181.85,482.05 L181.87,481.9 L181.9,481.67 L181.92,481.37 L181.95,481 L181.96,480.57 L181.97,480.09 L181.96,479.57 L181.93,479.02 L181.88,478.46 L181.81,477.89 L181.72,477.34 L181.59,476.8 L181.45,476.3 L181.27,475.84 L181.07,475.44 L180.84,475.1 L180.59,474.83 L180.32,474.64 L180.04,474.53 L179.73,474.5Z" fill="#7a0606" stroke="#7a0606" stroke-width="0.35" stroke-linejoin="round"/>
<path d="M182.6,474.99 L182.91,475 L183.2,475.1 L183.47,475.28 L183.72,475.54 L183.95,475.86 L184.16,476.26 L184.34,476.71 L184.49,477.2 L184.62,477.73 L184.72,478.29 L184.79,478.85 L184.84,479.42 L184.87,479.97 L184.89,480.49 L184.88,480.98 L184.87,481.42 L184.85,481.8 L184.82,482.11 L184.79,482.35 L184.77,482.52 L184.76,482.6 L187.95,483.13 L187.97,483.05 L187.99,482.89 L188.02,482.65 L188.04,482.33 L188.06,481.95 L188.08,481.51 L188.08,481.02 L188.07,480.5 L188.04,479.95 L187.99,479.38 L187.91,478.82 L187.81,478.26 L187.69,477.73 L187.53,477.24 L187.35,476.79 L187.15,476.4 L186.92,476.07 L186.67,475.81 L186.39,475.63 L186.1,475.53 L185.8,475.52Z" fill="#7a0606" stroke="#7a0606" stroke-width="0.35" stroke-linejoin="round"/>
<path d="M188.97,476.01 L189.27,476.1 L189.54,476.26 L189.8,476.51 L190.03,476.82 L190.24,477.21 L190.43,477.65 L190.58,478.14 L190.71,478.66 L190.82,479.21 L190.9,479.78 L190.95,480.34 L190.99,480.9 L191,481.43 L191,481.92 L190.99,482.37 L190.97,482.76 L190.94,483.09 L190.91,483.34 L190.89,483.51 L190.87,483.61 L194.07,484.14 L194.09,484.05 L194.11,483.87 L194.14,483.62 L194.16,483.29 L194.18,482.9 L194.2,482.45 L194.2,481.96 L194.18,481.43 L194.15,480.88 L194.09,480.31 L194.01,479.75 L193.91,479.19 L193.78,478.67 L193.62,478.18 L193.44,477.74 L193.23,477.36 L192.99,477.04 L192.74,476.8 L192.46,476.63 L192.17,476.55Z" fill="#7a0606" stroke="#7a0606" stroke-width="0.35" stroke-linejoin="round"/>
<path d="M195.04,477.03 L195.33,477.1 L195.61,477.25 L195.87,477.48 L196.11,477.79 L196.32,478.16 L196.51,478.59 L196.67,479.07 L196.81,479.59 L196.92,480.14 L197,480.7 L197.06,481.27 L197.1,481.83 L197.12,482.36 L197.12,482.86 L197.11,483.32 L197.09,483.72 L197.06,484.06 L197.03,484.32 L197.01,484.51 L196.99,484.62 L200.19,485.15 L200.21,485.04 L200.23,484.85 L200.26,484.59 L200.28,484.25 L200.3,483.85 L200.31,483.39 L200.31,482.89 L200.29,482.36 L200.26,481.8 L200.2,481.24 L200.11,480.67 L200.01,480.12 L199.87,479.6 L199.71,479.12 L199.52,478.69 L199.31,478.32 L199.07,478.01 L198.81,477.78 L198.53,477.63 L198.24,477.56Z" fill="#7a0606" stroke="#7a0606" stroke-width="0.35" stroke-linejoin="round"/>
<path d="M200.82,477.96 L201.12,478 L201.41,478.11 L201.69,478.31 L201.96,478.58 L202.2,478.92 L202.43,479.33 L202.63,479.79 L202.82,480.29 L202.97,480.82 L203.11,481.37 L203.21,481.93 L203.3,482.49 L203.37,483.02 L203.41,483.53 L203.44,483.99 L203.45,484.4 L203.46,484.75 L203.45,485.03 L203.45,485.23 L203.44,485.36 L206.67,485.63 L206.67,485.5 L206.68,485.3 L206.69,485.02 L206.68,484.67 L206.67,484.26 L206.64,483.8 L206.59,483.29 L206.53,482.76 L206.44,482.2 L206.33,481.64 L206.2,481.09 L206.04,480.56 L205.86,480.06 L205.66,479.6 L205.43,479.19 L205.19,478.85 L204.92,478.58 L204.64,478.38 L204.35,478.26 L204.05,478.23Z" fill="#7a0606" stroke="#7a0606" stroke-width="0.35" stroke-linejoin="round"/>
<path d="M206.95,478.48 L207.25,478.5 L207.54,478.6 L207.83,478.79 L208.09,479.05 L208.34,479.38 L208.57,479.77 L208.78,480.22 L208.97,480.72 L209.13,481.25 L209.26,481.8 L209.38,482.36 L209.47,482.91 L209.53,483.45 L209.58,483.96 L209.61,484.43 L209.63,484.85 L209.64,485.21 L209.63,485.5 L209.63,485.72 L209.62,485.86 L209.61,485.91 L212.84,486.18 L212.85,486.13 L212.85,485.99 L212.86,485.77 L212.87,485.48 L212.86,485.12 L212.84,484.7 L212.81,484.23 L212.76,483.72 L212.7,483.18 L212.61,482.63 L212.49,482.07 L212.36,481.52 L212.19,480.99 L212.01,480.49 L211.8,480.04 L211.57,479.65 L211.32,479.31 L211.05,479.05 L210.77,478.87 L210.48,478.77 L210.18,478.75Z" fill="#7a0606" stroke="#7a0606" stroke-width="0.35" stroke-linejoin="round"/>
<path d="M213.07,479 L213.38,479.01 L213.67,479.09 L213.96,479.26 L214.23,479.51 L214.48,479.83 L214.71,480.22 L214.93,480.66 L215.12,481.15 L215.28,481.67 L215.42,482.22 L215.54,482.78 L215.63,483.34 L215.7,483.88 L215.76,484.4 L215.79,484.87 L215.81,485.3 L215.81,485.67 L215.81,485.98 L215.81,486.21 L215.8,486.36 L215.79,486.42 L219.02,486.69 L219.03,486.63 L219.03,486.47 L219.04,486.25 L219.04,485.94 L219.04,485.57 L219.02,485.14 L218.98,484.67 L218.93,484.15 L218.86,483.61 L218.77,483.05 L218.65,482.49 L218.51,481.94 L218.34,481.42 L218.16,480.93 L217.94,480.49 L217.71,480.1 L217.46,479.78 L217.19,479.53 L216.9,479.36 L216.61,479.27 L216.3,479.27Z" fill="#7a0606" stroke="#7a0606" stroke-width="0.35" stroke-linejoin="round"/>
<path d="M219.2,479.52 L219.51,479.51 L219.8,479.59 L220.09,479.75 L220.36,479.98 L220.62,480.29 L220.86,480.67 L221.07,481.1 L221.26,481.58 L221.43,482.1 L221.58,482.64 L221.7,483.2 L221.8,483.76 L221.87,484.31 L221.93,484.83 L221.96,485.31 L221.98,485.75 L221.99,486.13 L221.99,486.45 L221.99,486.69 L221.98,486.85 L221.97,486.93 L225.2,487.2 L225.21,487.12 L225.21,486.96 L225.22,486.72 L225.22,486.4 L225.21,486.02 L225.19,485.58 L225.16,485.1 L225.1,484.58 L225.03,484.03 L224.93,483.47 L224.81,482.91 L224.66,482.37 L224.49,481.85 L224.3,481.37 L224.09,480.93 L223.85,480.56 L223.59,480.25 L223.32,480.01 L223.03,479.86 L222.74,479.78 L222.43,479.79Z" fill="#7a0606" stroke="#7a0606" stroke-width="0.35" stroke-linejoin="round"/>
<path d="M225.64,480.02 L225.93,480.09 L226.22,480.23 L226.5,480.45 L226.76,480.75 L227,481.11 L227.22,481.54 L227.41,482.01 L227.59,482.53 L227.73,483.07 L227.86,483.63 L227.96,484.18 L228.04,484.73 L228.1,485.26 L228.14,485.75 L228.16,486.2 L228.17,486.59 L228.17,486.91 L228.17,487.17 L228.16,487.35 L228.15,487.44 L231.38,487.71 L231.39,487.61 L231.39,487.44 L231.4,487.18 L231.4,486.86 L231.39,486.47 L231.37,486.02 L231.33,485.53 L231.27,485 L231.19,484.45 L231.09,483.89 L230.96,483.34 L230.81,482.8 L230.64,482.28 L230.45,481.81 L230.23,481.38 L229.99,481.02 L229.73,480.72 L229.45,480.5 L229.16,480.35 L228.86,480.29Z" fill="#7a0606" stroke="#7a0606" stroke-width="0.35" stroke-linejoin="round"/>
<path d="M166.41,479.55 L166.41,479.51 L166.44,479.39 L166.48,479.19 L166.54,478.91 L166.63,478.58 L166.75,478.18 L166.89,477.74 L167.06,477.26 L167.25,476.76 L167.47,476.24 L167.72,475.73 L167.98,475.22 L168.27,474.74 L168.56,474.3 L168.88,473.91 L169.19,473.57 L169.52,473.3 L169.84,473.1 L170.16,472.98 L170.47,472.94 L174.02,473.54 L173.71,473.58 L173.39,473.7 L173.07,473.89 L172.75,474.16 L172.43,474.5 L172.12,474.9 L171.82,475.34 L171.53,475.81 L171.27,476.32 L171.02,476.83 L170.8,477.35 L170.61,477.85 L170.44,478.33 L170.3,478.77 L170.18,479.17 L170.09,479.51 L170.03,479.78 L169.99,479.98 L169.96,480.1 L169.96,480.14Z" fill="#cf1212" stroke="#cf1212" stroke-width="0.35" stroke-linejoin="round"/>
<path d="M172.52,480.57 L172.53,480.54 L172.55,480.43 L172.59,480.24 L172.65,479.98 L172.73,479.66 L172.84,479.27 L172.98,478.83 L173.15,478.36 L173.34,477.86 L173.55,477.35 L173.79,476.83 L174.05,476.32 L174.33,475.84 L174.63,475.39 L174.94,474.99 L175.26,474.64 L175.58,474.36 L175.9,474.15 L176.22,474.02 L176.54,473.96 L180.09,474.56 L179.78,474.61 L179.46,474.74 L179.13,474.95 L178.81,475.24 L178.49,475.58 L178.18,475.98 L177.88,476.43 L177.6,476.92 L177.34,477.42 L177.1,477.94 L176.89,478.45 L176.7,478.95 L176.53,479.43 L176.39,479.86 L176.28,480.25 L176.2,480.58 L176.14,480.84 L176.1,481.02 L176.08,481.13 L176.08,481.16Z" fill="#cf1212" stroke="#cf1212" stroke-width="0.35" stroke-linejoin="round"/>
<path d="M178.64,481.59 L178.64,481.57 L178.66,481.47 L178.69,481.3 L178.75,481.05 L178.83,480.73 L178.94,480.36 L179.07,479.93 L179.23,479.46 L179.42,478.96 L179.63,478.45 L179.87,477.93 L180.12,477.42 L180.4,476.94 L180.7,476.48 L181,476.07 L181.32,475.72 L181.64,475.42 L181.97,475.2 L182.29,475.05 L182.6,474.99 L186.15,475.58 L185.84,475.64 L185.52,475.79 L185.19,476.01 L184.87,476.31 L184.55,476.66 L184.25,477.07 L183.95,477.53 L183.68,478.02 L183.42,478.53 L183.18,479.04 L182.97,479.56 L182.78,480.05 L182.62,480.52 L182.49,480.95 L182.38,481.32 L182.3,481.64 L182.24,481.89 L182.21,482.07 L182.19,482.16 L182.19,482.18Z" fill="#cf1212" stroke="#cf1212" stroke-width="0.35" stroke-linejoin="round"/>
<path d="M184.76,482.6 L184.76,482.6 L184.77,482.52 L184.8,482.35 L184.86,482.12 L184.93,481.81 L185.04,481.44 L185.16,481.02 L185.32,480.56 L185.5,480.07 L185.71,479.55 L185.94,479.04 L186.2,478.53 L186.47,478.03 L186.76,477.57 L187.07,477.16 L187.38,476.79 L187.71,476.49 L188.03,476.25 L188.35,476.09 L188.67,476.01 L188.97,476.01 L192.52,476.6 L192.22,476.6 L191.9,476.68 L191.58,476.84 L191.26,477.08 L190.93,477.38 L190.62,477.75 L190.31,478.17 L190.02,478.63 L189.75,479.12 L189.49,479.63 L189.26,480.15 L189.05,480.66 L188.87,481.15 L188.71,481.61 L188.59,482.03 L188.48,482.4 L188.41,482.71 L188.35,482.94 L188.32,483.11 L188.31,483.19 L188.31,483.19Z" fill="#cf1212" stroke="#cf1212" stroke-width="0.35" stroke-linejoin="round"/>
<path d="M190.87,483.61 L190.87,483.62 L190.88,483.55 L190.91,483.4 L190.96,483.18 L191.03,482.88 L191.13,482.52 L191.26,482.11 L191.41,481.66 L191.59,481.17 L191.79,480.66 L192.02,480.14 L192.27,479.63 L192.54,479.13 L192.83,478.67 L193.13,478.24 L193.45,477.87 L193.77,477.55 L194.09,477.3 L194.41,477.13 L194.73,477.04 L195.04,477.03 L198.59,477.62 L198.28,477.63 L197.96,477.72 L197.64,477.9 L197.32,478.14 L197,478.46 L196.68,478.83 L196.38,479.26 L196.09,479.73 L195.82,480.22 L195.57,480.73 L195.34,481.25 L195.14,481.76 L194.96,482.25 L194.81,482.7 L194.68,483.12 L194.59,483.47 L194.51,483.77 L194.46,484 L194.43,484.15 L194.42,484.22 L194.43,484.2Z" fill="#cf1212" stroke="#cf1212" stroke-width="0.35" stroke-linejoin="round"/>
<path d="M196.99,484.62 L196.99,484.65 L196.99,484.59 L197.02,484.45 L197.07,484.24 L197.14,483.96 L197.23,483.61 L197.35,483.2 L197.5,482.75 L197.67,482.27 L197.87,481.76 L198.09,481.25 L198.34,480.73 L198.61,480.23 L198.9,479.76 L199.2,479.33 L199.51,478.94 L199.73,478.62 L199.91,478.36 L200.2,478.15 L200.51,478.01 L200.82,477.96 L204.41,478.26 L204.1,478.31 L203.79,478.44 L203.5,478.67 L203.3,479.09 L203.06,479.53 L202.75,479.92 L202.45,480.35 L202.16,480.82 L201.89,481.32 L201.64,481.84 L201.42,482.35 L201.22,482.86 L201.05,483.35 L200.9,483.79 L200.78,484.2 L200.69,484.55 L200.62,484.83 L200.57,485.05 L200.55,485.18 L200.54,485.24 L200.54,485.21Z" fill="#cf1212" stroke="#cf1212" stroke-width="0.35" stroke-linejoin="round"/>
<path d="M203.44,485.36 L203.43,485.4 L203.44,485.36 L203.45,485.23 L203.47,485.03 L203.52,484.75 L203.58,484.4 L203.66,484 L203.77,483.55 L203.9,483.06 L204.05,482.54 L204.23,482.01 L204.43,481.47 L204.65,480.95 L204.89,480.45 L205.16,479.99 L205.43,479.57 L205.72,479.21 L206.02,478.91 L206.33,478.69 L206.64,478.54 L206.95,478.48 L210.53,478.78 L210.23,478.84 L209.92,478.99 L209.61,479.21 L209.31,479.51 L209.02,479.87 L208.74,480.29 L208.48,480.75 L208.24,481.25 L208.01,481.77 L207.81,482.31 L207.64,482.84 L207.48,483.36 L207.35,483.85 L207.25,484.3 L207.17,484.7 L207.1,485.05 L207.06,485.33 L207.04,485.53 L207.02,485.65 L207.02,485.7 L207.03,485.66Z" fill="#cf1212" stroke="#cf1212" stroke-width="0.35" stroke-linejoin="round"/>
<path d="M209.61,485.91 L209.61,485.88 L209.62,485.77 L209.65,485.58 L209.69,485.31 L209.75,484.98 L209.82,484.59 L209.93,484.14 L210.05,483.65 L210.2,483.14 L210.37,482.61 L210.57,482.08 L210.79,481.55 L211.03,481.05 L211.29,480.58 L211.57,480.15 L211.85,479.78 L212.15,479.47 L212.46,479.24 L212.77,479.08 L213.07,479 L216.66,479.3 L216.35,479.38 L216.05,479.54 L215.74,479.77 L215.44,480.08 L215.15,480.45 L214.88,480.87 L214.62,481.34 L214.38,481.85 L214.16,482.37 L213.96,482.91 L213.79,483.44 L213.64,483.95 L213.51,484.44 L213.41,484.88 L213.33,485.28 L213.27,485.61 L213.23,485.88 L213.21,486.07 L213.2,486.18 L213.2,486.21Z" fill="#cf1212" stroke="#cf1212" stroke-width="0.35" stroke-linejoin="round"/>
<path d="M215.79,486.42 L215.79,486.41 L215.8,486.31 L215.82,486.13 L215.86,485.88 L215.91,485.55 L215.99,485.17 L216.09,484.73 L216.21,484.25 L216.35,483.74 L216.52,483.21 L216.72,482.68 L216.93,482.15 L217.17,481.64 L217.42,481.16 L217.7,480.73 L217.98,480.35 L218.28,480.03 L218.59,479.78 L218.89,479.61 L219.2,479.52 L222.79,479.82 L222.48,479.91 L222.17,480.08 L221.87,480.33 L221.57,480.65 L221.28,481.03 L221.01,481.46 L220.76,481.94 L220.52,482.45 L220.3,482.98 L220.11,483.51 L219.94,484.04 L219.8,484.55 L219.67,485.03 L219.58,485.47 L219.5,485.85 L219.45,486.18 L219.41,486.43 L219.39,486.61 L219.38,486.71 L219.38,486.72Z" fill="#cf1212" stroke="#cf1212" stroke-width="0.35" stroke-linejoin="round"/>
<path d="M221.97,486.93 L221.97,486.93 L221.98,486.85 L221.99,486.68 L222.03,486.44 L222.08,486.13 L222.15,485.75 L222.25,485.32 L222.36,484.85 L222.51,484.34 L222.67,483.82 L222.86,483.28 L223.07,482.75 L223.31,482.24 L223.56,481.76 L223.83,481.31 L224.11,480.92 L224.41,480.6 L224.71,480.34 L225.02,480.15 L225.33,480.05 L225.64,480.02 L229.22,480.32 L228.92,480.35 L228.61,480.45 L228.3,480.63 L228,480.89 L227.7,481.22 L227.42,481.61 L227.15,482.05 L226.89,482.54 L226.66,483.05 L226.45,483.58 L226.26,484.11 L226.09,484.64 L225.95,485.15 L225.83,485.62 L225.74,486.05 L225.67,486.43 L225.62,486.74 L225.58,486.98 L225.56,487.15 L225.56,487.23 L225.56,487.23Z" fill="#cf1212" stroke="#cf1212" stroke-width="0.35" stroke-linejoin="round"/>
<path d="M228.15,487.44 L228.15,487.45 L228.15,487.38 L228.17,487.23 L228.2,487 L228.25,486.7 L228.32,486.33 L228.41,485.91 L228.52,485.44 L228.66,484.94 L228.82,484.42 L229.01,483.88 L232.59,484.18 L232.41,484.72 L232.25,485.24 L232.11,485.74 L232,486.21 L231.91,486.63 L231.84,487 L231.79,487.3 L231.76,487.53 L231.74,487.68 L231.73,487.75 L231.74,487.74Z" fill="#cf1212" stroke="#cf1212" stroke-width="0.35" stroke-linejoin="round"/>
<path d="M173.18,478.49 L173.47,478.58 L173.73,478.74 L173.97,478.98 L174.17,479.29 L174.34,479.67 L174.47,480.1 L174.57,480.58 L174.64,481.11 L174.68,481.65 L174.69,482.22 L174.67,482.79 L174.63,483.35 L174.58,483.89 L174.51,484.4 L174.43,484.87 L174.35,485.29 L174.27,485.64 L174.2,485.93 L174.14,486.15 L174.1,486.28 L174.08,486.34 L177.16,487.34 L177.18,487.29 L177.22,487.15 L177.28,486.93 L177.35,486.65 L177.43,486.29 L177.51,485.87 L177.59,485.41 L177.66,484.9 L177.71,484.35 L177.75,483.79 L177.77,483.22 L177.76,482.66 L177.72,482.11 L177.65,481.59 L177.55,481.1 L177.42,480.67 L177.25,480.29 L177.05,479.98 L176.81,479.74 L176.55,479.58 L176.26,479.5Z" fill="#7a0606" stroke="#7a0606" stroke-width="0.35" stroke-linejoin="round"/>
<path d="M179,480.41 L179.3,480.47 L179.57,480.62 L179.81,480.84 L180.02,481.13 L180.2,481.49 L180.34,481.91 L180.45,482.38 L180.52,482.9 L180.57,483.44 L180.58,484 L180.57,484.57 L180.54,485.14 L180.49,485.68 L180.42,486.2 L180.34,486.68 L180.26,487.11 L180.18,487.48 L180.11,487.79 L180.05,488.02 L180,488.18 L179.98,488.25 L183.06,489.26 L183.09,489.18 L183.13,489.02 L183.19,488.79 L183.27,488.49 L183.34,488.12 L183.42,487.69 L183.5,487.21 L183.57,486.69 L183.62,486.14 L183.65,485.58 L183.66,485.01 L183.65,484.44 L183.6,483.9 L183.53,483.39 L183.42,482.92 L183.28,482.49 L183.1,482.13 L182.89,481.84 L182.65,481.62 L182.38,481.47 L182.08,481.41Z" fill="#7a0606" stroke="#7a0606" stroke-width="0.35" stroke-linejoin="round"/>
<path d="M185.12,482.37 L185.4,482.49 L185.65,482.7 L185.87,482.97 L186.05,483.32 L186.2,483.73 L186.32,484.19 L186.4,484.69 L186.45,485.23 L186.48,485.79 L186.47,486.36 L186.44,486.92 L186.39,487.48 L186.33,488 L186.26,488.49 L186.18,488.93 L186.1,489.32 L186.02,489.64 L185.96,489.89 L185.91,490.07 L185.88,490.16 L188.96,491.17 L188.99,491.07 L189.04,490.89 L189.1,490.64 L189.18,490.32 L189.26,489.94 L189.34,489.49 L189.41,489.01 L189.48,488.48 L189.52,487.93 L189.55,487.36 L189.56,486.79 L189.54,486.23 L189.48,485.69 L189.4,485.19 L189.28,484.73 L189.13,484.32 L188.95,483.98 L188.73,483.7 L188.48,483.5 L188.2,483.37Z" fill="#7a0606" stroke="#7a0606" stroke-width="0.35" stroke-linejoin="round"/>
<path d="M190.95,484.27 L191.23,484.38 L191.49,484.56 L191.71,484.82 L191.9,485.15 L192.06,485.54 L192.19,485.99 L192.28,486.49 L192.34,487.02 L192.37,487.57 L192.37,488.14 L192.35,488.71 L192.3,489.26 L192.24,489.8 L192.17,490.3 L192.09,490.75 L192.01,491.15 L191.94,491.49 L191.87,491.76 L191.81,491.95 L191.78,492.07 L194.86,493.07 L194.9,492.96 L194.95,492.76 L195.02,492.49 L195.09,492.16 L195.17,491.76 L195.25,491.3 L195.32,490.8 L195.38,490.27 L195.43,489.71 L195.45,489.14 L195.45,488.57 L195.42,488.02 L195.36,487.49 L195.27,486.99 L195.14,486.55 L194.99,486.15 L194.79,485.82 L194.57,485.56 L194.31,485.38 L194.03,485.27Z" fill="#7a0606" stroke="#7a0606" stroke-width="0.35" stroke-linejoin="round"/>
<path d="M196.77,486.18 L197.06,486.26 L197.32,486.43 L197.56,486.67 L197.76,486.98 L197.92,487.36 L198.06,487.8 L198.16,488.28 L198.22,488.81 L198.26,489.36 L198.27,489.92 L198.25,490.49 L198.21,491.05 L198.15,491.59 L198.08,492.1 L198.01,492.57 L197.93,492.98 L197.85,493.33 L197.78,493.62 L197.72,493.83 L197.68,493.97 L197.66,494.02 L200.74,495.03 L200.76,494.97 L200.8,494.84 L200.86,494.62 L200.93,494.34 L201.01,493.99 L201.09,493.57 L201.16,493.1 L201.23,492.6 L201.29,492.06 L201.33,491.49 L201.35,490.92 L201.34,490.36 L201.3,489.81 L201.24,489.29 L201.14,488.8 L201,488.37 L200.84,487.99 L200.64,487.67 L200.4,487.43 L200.14,487.27 L199.85,487.18Z" fill="#7a0606" stroke="#7a0606" stroke-width="0.35" stroke-linejoin="round"/>
<path d="M202.69,488.18 L202.99,488.26 L203.25,488.42 L203.48,488.65 L203.68,488.95 L203.84,489.32 L203.97,489.75 L204.06,490.23 L204.12,490.74 L204.14,491.29 L204.14,491.85 L204.1,492.42 L204.05,492.98 L203.98,493.53 L203.89,494.04 L203.8,494.52 L203.7,494.94 L203.61,495.31 L203.53,495.61 L203.46,495.83 L203.41,495.99 L203.38,496.06 L206.43,497.17 L206.45,497.1 L206.5,496.95 L206.57,496.72 L206.66,496.42 L206.75,496.05 L206.84,495.63 L206.93,495.15 L207.02,494.64 L207.09,494.1 L207.15,493.53 L207.18,492.96 L207.18,492.4 L207.16,491.86 L207.1,491.34 L207.01,490.86 L206.89,490.43 L206.72,490.06 L206.53,489.76 L206.29,489.53 L206.03,489.37 L205.74,489.29Z" fill="#7a0606" stroke="#7a0606" stroke-width="0.35" stroke-linejoin="round"/>
<path d="M208.74,490.36 L209.01,490.5 L209.25,490.71 L209.46,491 L209.63,491.36 L209.77,491.77 L209.87,492.24 L209.93,492.74 L209.96,493.28 L209.96,493.84 L209.94,494.41 L209.89,494.98 L209.82,495.53 L209.74,496.05 L209.64,496.54 L209.55,496.97 L209.46,497.35 L209.37,497.67 L209.3,497.91 L209.24,498.08 L209.21,498.18 L212.25,499.29 L212.29,499.2 L212.34,499.03 L212.41,498.78 L212.5,498.46 L212.59,498.08 L212.69,497.65 L212.78,497.16 L212.86,496.64 L212.93,496.09 L212.98,495.52 L213.01,494.96 L213.01,494.4 L212.97,493.86 L212.91,493.35 L212.81,492.88 L212.67,492.47 L212.5,492.11 L212.3,491.83 L212.06,491.61 L211.79,491.47Z" fill="#7a0606" stroke="#7a0606" stroke-width="0.35" stroke-linejoin="round"/>
<path d="M214.5,492.47 L214.77,492.59 L215.02,492.78 L215.24,493.05 L215.42,493.39 L215.56,493.79 L215.67,494.25 L215.74,494.75 L215.78,495.28 L215.79,495.84 L215.77,496.4 L215.72,496.97 L215.66,497.52 L215.58,498.06 L215.49,498.55 L215.4,499 L215.3,499.39 L215.21,499.73 L215.14,499.99 L215.08,500.18 L215.04,500.29 L218.08,501.4 L218.12,501.29 L218.18,501.1 L218.26,500.84 L218.35,500.51 L218.44,500.11 L218.53,499.66 L218.62,499.17 L218.7,498.64 L218.77,498.08 L218.81,497.52 L218.83,496.95 L218.82,496.39 L218.78,495.86 L218.71,495.36 L218.6,494.9 L218.46,494.5 L218.28,494.17 L218.07,493.9 L217.82,493.7 L217.54,493.58Z" fill="#7a0606" stroke="#7a0606" stroke-width="0.35" stroke-linejoin="round"/>
<path d="M220.25,494.58 L220.53,494.68 L220.79,494.86 L221.01,495.11 L221.2,495.43 L221.35,495.82 L221.47,496.26 L221.55,496.75 L221.6,497.28 L221.61,497.83 L221.6,498.39 L221.56,498.96 L221.5,499.52 L221.42,500.06 L221.34,500.56 L221.24,501.02 L221.15,501.43 L221.06,501.78 L220.98,502.06 L220.91,502.27 L220.87,502.4 L220.85,502.45 L223.89,503.56 L223.91,503.51 L223.96,503.38 L224.02,503.17 L224.1,502.89 L224.19,502.55 L224.29,502.14 L224.38,501.68 L224.47,501.17 L224.54,500.63 L224.6,500.07 L224.64,499.51 L224.66,498.94 L224.64,498.39 L224.59,497.86 L224.51,497.37 L224.4,496.93 L224.24,496.54 L224.05,496.22 L223.83,495.97 L223.58,495.79 L223.29,495.69Z" fill="#7a0606" stroke="#7a0606" stroke-width="0.35" stroke-linejoin="round"/>
<path d="M226,496.7 L226.29,496.78 L226.55,496.94 L226.78,497.17 L226.98,497.48 L227.14,497.85 L227.27,498.28 L227.36,498.76 L227.41,499.27 L227.44,499.82 L227.43,500.39 L227.4,500.95 L227.34,501.52 L227.27,502.06 L227.18,502.57 L227.09,503.05 L226.99,503.47 L226.9,503.83 L226.82,504.13 L226.75,504.35 L226.7,504.5 L226.67,504.57 L229.72,505.69 L229.74,505.61 L229.79,505.47 L229.86,505.24 L229.95,504.94 L230.04,504.58 L230.13,504.16 L230.22,503.69 L230.31,503.17 L230.38,502.63 L230.44,502.07 L230.47,501.5 L230.48,500.93 L230.46,500.39 L230.4,499.87 L230.31,499.39 L230.19,498.96 L230.02,498.59 L229.83,498.28 L229.6,498.05 L229.33,497.89 L229.04,497.81Z" fill="#7a0606" stroke="#7a0606" stroke-width="0.35" stroke-linejoin="round"/>
<path d="M232.92,499.64 L233.14,499.86 L233.3,500.14 L233.4,500.48 L233.45,500.87 L233.45,501.31 L233.39,501.78 L233.3,502.29 L233.16,502.81 L232.98,503.34 L232.78,503.88 L232.55,504.4 L232.32,504.9 L232.07,505.37 L231.84,505.8 L231.61,506.18 L231.4,506.51 L231.22,506.78 L231.08,506.99 L230.98,507.13 L230.92,507.21 L233.46,509.21 L233.52,509.14 L233.62,509 L233.77,508.79 L233.95,508.52 L234.15,508.19 L234.38,507.8 L234.62,507.37 L234.86,506.9 L235.1,506.4 L235.32,505.88 L235.52,505.35 L235.7,504.82 L235.84,504.29 L235.94,503.79 L235.99,503.32 L235.99,502.88 L235.94,502.49 L235.84,502.15 L235.68,501.87 L235.47,501.65Z" fill="#7a0606" stroke="#7a0606" stroke-width="0.35" stroke-linejoin="round"/>
<path d="M237.73,503.44 L237.96,503.64 L238.13,503.91 L238.25,504.23 L238.31,504.61 L238.32,505.04 L238.28,505.51 L238.19,506 L238.06,506.52 L237.89,507.06 L237.7,507.59 L237.48,508.11 L237.24,508.62 L237,509.1 L236.76,509.54 L236.53,509.93 L236.32,510.28 L236.13,510.56 L235.98,510.79 L235.86,510.94 L235.79,511.04 L238.34,513.04 L238.41,512.95 L238.52,512.79 L238.68,512.57 L238.86,512.28 L239.07,511.94 L239.3,511.54 L239.54,511.1 L239.78,510.63 L240.02,510.12 L240.24,509.59 L240.44,509.06 L240.6,508.53 L240.73,508.01 L240.82,507.51 L240.86,507.05 L240.85,506.62 L240.79,506.24 L240.67,505.92 L240.5,505.65 L240.28,505.45Z" fill="#7a0606" stroke="#7a0606" stroke-width="0.35" stroke-linejoin="round"/>
<path d="M242.54,507.24 L242.78,507.43 L242.96,507.68 L243.09,507.99 L243.17,508.36 L243.19,508.77 L243.16,509.23 L243.08,509.72 L242.96,510.24 L242.8,510.77 L242.61,511.3 L242.4,511.83 L242.17,512.34 L241.93,512.82 L241.68,513.27 L241.45,513.68 L241.23,514.04 L241.04,514.34 L240.88,514.58 L240.75,514.75 L240.67,514.86 L240.64,514.9 L243.18,516.91 L243.22,516.87 L243.3,516.76 L243.42,516.59 L243.59,516.35 L243.78,516.05 L243.99,515.69 L244.23,515.28 L244.47,514.83 L244.71,514.35 L244.94,513.83 L245.16,513.31 L245.35,512.77 L245.51,512.24 L245.63,511.73 L245.7,511.24 L245.73,510.78 L245.71,510.36 L245.64,510 L245.5,509.69 L245.32,509.43 L245.08,509.25Z" fill="#7a0606" stroke="#7a0606" stroke-width="0.35" stroke-linejoin="round"/>
<path d="M247.34,511.05 L247.59,511.22 L247.79,511.45 L247.93,511.75 L248.02,512.1 L248.06,512.51 L248.04,512.96 L247.97,513.44 L247.86,513.95 L247.71,514.48 L247.53,515.01 L247.32,515.54 L247.09,516.06 L246.85,516.55 L246.61,517.01 L246.37,517.43 L246.15,517.8 L245.95,518.11 L245.78,518.37 L245.65,518.56 L245.56,518.68 L245.51,518.74 L248.05,520.74 L248.1,520.69 L248.19,520.56 L248.33,520.37 L248.5,520.12 L248.7,519.81 L248.92,519.44 L249.15,519.02 L249.39,518.56 L249.63,518.07 L249.86,517.55 L250.07,517.02 L250.26,516.49 L250.41,515.96 L250.52,515.45 L250.58,514.97 L250.6,514.52 L250.57,514.11 L250.48,513.76 L250.33,513.46 L250.13,513.22 L249.88,513.05Z" fill="#7a0606" stroke="#7a0606" stroke-width="0.35" stroke-linejoin="round"/>
<path d="M252.14,514.86 L252.4,515.01 L252.61,515.23 L252.77,515.51 L252.87,515.85 L252.92,516.25 L252.92,516.69 L252.86,517.16 L252.76,517.67 L252.62,518.19 L252.44,518.72 L252.24,519.26 L252.01,519.78 L251.78,520.28 L251.53,520.74 L251.3,521.17 L251.07,521.55 L250.87,521.88 L250.69,522.15 L250.54,522.36 L250.44,522.5 L250.38,522.57 L252.93,524.58 L252.99,524.5 L253.09,524.36 L253.23,524.16 L253.41,523.89 L253.61,523.56 L253.84,523.18 L254.08,522.75 L254.32,522.28 L254.56,521.78 L254.78,521.26 L254.99,520.73 L255.16,520.2 L255.3,519.67 L255.4,519.17 L255.46,518.69 L255.46,518.26 L255.42,517.86 L255.31,517.52 L255.16,517.24 L254.95,517.02 L254.68,516.86Z" fill="#7a0606" stroke="#7a0606" stroke-width="0.35" stroke-linejoin="round"/>
<path d="M257.21,518.81 L257.43,519.01 L257.6,519.28 L257.72,519.61 L257.78,519.99 L257.79,520.42 L257.75,520.89 L257.66,521.38 L257.52,521.9 L257.36,522.44 L257.16,522.97 L256.94,523.49 L256.7,524 L256.46,524.47 L256.22,524.91 L255.99,525.31 L255.78,525.65 L255.6,525.93 L255.44,526.15 L255.33,526.31 L255.26,526.4 L257.81,528.41 L257.87,528.32 L257.99,528.16 L258.14,527.94 L258.32,527.66 L258.54,527.31 L258.76,526.92 L259,526.48 L259.25,526 L259.48,525.5 L259.7,524.98 L259.9,524.44 L260.07,523.91 L260.2,523.39 L260.29,522.89 L260.33,522.42 L260.33,522 L260.26,521.61 L260.15,521.29 L259.98,521.02 L259.75,520.81Z" fill="#7a0606" stroke="#7a0606" stroke-width="0.35" stroke-linejoin="round"/>
<path d="M262.02,522.61 L262.25,522.8 L262.44,523.05 L262.56,523.36 L262.64,523.73 L262.66,524.15 L262.63,524.61 L262.55,525.1 L262.43,525.62 L262.27,526.15 L262.07,526.68 L261.86,527.21 L261.63,527.72 L261.39,528.2 L261.15,528.65 L260.91,529.06 L260.7,529.41 L260.5,529.71 L260.34,529.95 L260.22,530.12 L260.14,530.22 L260.11,530.26 L262.65,532.27 L262.68,532.23 L262.76,532.13 L262.89,531.95 L263.05,531.72 L263.24,531.42 L263.46,531.06 L263.69,530.66 L263.93,530.21 L264.17,529.73 L264.4,529.22 L264.62,528.69 L264.81,528.15 L264.97,527.63 L265.09,527.11 L265.17,526.62 L265.2,526.16 L265.18,525.74 L265.11,525.37 L264.98,525.06 L264.8,524.8 L264.56,524.62Z" fill="#7a0606" stroke="#7a0606" stroke-width="0.35" stroke-linejoin="round"/>
<path d="M168.19,484.42 L168.2,484.38 L168.24,484.27 L168.31,484.07 L168.41,483.82 L168.55,483.5 L168.72,483.12 L168.93,482.71 L169.17,482.26 L169.43,481.79 L169.73,481.32 L170.04,480.85 L170.38,480.39 L170.73,479.96 L171.09,479.57 L171.46,479.22 L171.82,478.94 L172.18,478.71 L172.53,478.56 L172.86,478.49 L173.18,478.49 L176.6,479.61 L176.29,479.6 L175.95,479.68 L175.6,479.83 L175.24,480.05 L174.88,480.34 L174.51,480.68 L174.15,481.07 L173.8,481.5 L173.47,481.96 L173.15,482.43 L172.86,482.91 L172.59,483.38 L172.35,483.82 L172.15,484.24 L171.97,484.61 L171.84,484.93 L171.73,485.19 L171.66,485.38 L171.62,485.5 L171.61,485.54Z" fill="#cf1212" stroke="#cf1212" stroke-width="0.35" stroke-linejoin="round"/>
<path d="M174.08,486.34 L174.09,486.32 L174.12,486.22 L174.18,486.05 L174.28,485.8 L174.41,485.5 L174.57,485.14 L174.77,484.73 L175,484.29 L175.26,483.83 L175.55,483.35 L175.86,482.88 L176.19,482.42 L176.54,481.98 L176.9,481.58 L177.26,481.22 L177.63,480.92 L177.99,480.68 L178.34,480.51 L178.68,480.42 L179,480.41 L182.42,481.52 L182.1,481.54 L181.77,481.63 L181.41,481.8 L181.05,482.03 L180.69,482.33 L180.32,482.69 L179.96,483.09 L179.62,483.53 L179.28,483.99 L178.97,484.47 L178.68,484.94 L178.42,485.41 L178.2,485.85 L178,486.25 L177.83,486.61 L177.7,486.92 L177.61,487.16 L177.54,487.34 L177.51,487.43 L177.5,487.46Z" fill="#cf1212" stroke="#cf1212" stroke-width="0.35" stroke-linejoin="round"/>
<path d="M179.98,488.25 L179.98,488.25 L180,488.17 L180.06,488.02 L180.15,487.79 L180.27,487.5 L180.43,487.15 L180.62,486.75 L180.84,486.32 L181.09,485.86 L181.37,485.39 L181.68,484.91 L182.01,484.45 L182.35,484 L182.71,483.59 L183.07,483.22 L183.44,482.91 L183.8,482.65 L184.15,482.47 L184.5,482.36 L184.82,482.32 L185.12,482.37 L188.55,483.48 L188.24,483.44 L187.92,483.47 L187.58,483.58 L187.22,483.77 L186.86,484.02 L186.49,484.34 L186.13,484.7 L185.77,485.12 L185.43,485.56 L185.1,486.03 L184.8,486.5 L184.51,486.98 L184.26,487.44 L184.04,487.87 L183.85,488.26 L183.69,488.61 L183.57,488.9 L183.48,489.13 L183.43,489.29 L183.4,489.37 L183.4,489.37Z" fill="#cf1212" stroke="#cf1212" stroke-width="0.35" stroke-linejoin="round"/>
<path d="M185.88,490.16 L185.87,490.18 L185.89,490.12 L185.94,489.98 L186.02,489.77 L186.13,489.49 L186.28,489.16 L186.46,488.77 L186.68,488.35 L186.92,487.89 L187.2,487.42 L187.5,486.95 L187.82,486.48 L188.16,486.03 L188.52,485.61 L188.88,485.23 L189.24,484.9 L189.61,484.63 L189.96,484.43 L190.31,484.3 L190.64,484.24 L190.95,484.27 L194.37,485.39 L194.06,485.36 L193.73,485.41 L193.39,485.54 L193.03,485.74 L192.67,486.01 L192.3,486.34 L191.94,486.72 L191.58,487.14 L191.24,487.59 L190.92,488.06 L190.62,488.54 L190.35,489.01 L190.1,489.46 L189.89,489.89 L189.7,490.27 L189.56,490.61 L189.44,490.89 L189.36,491.1 L189.31,491.23 L189.29,491.3 L189.3,491.28Z" fill="#cf1212" stroke="#cf1212" stroke-width="0.35" stroke-linejoin="round"/>
<path d="M191.78,492.07 L191.77,492.1 L191.78,492.06 L191.82,491.94 L191.89,491.75 L192,491.49 L192.14,491.16 L192.31,490.79 L192.52,490.37 L192.76,489.93 L193.02,489.46 L193.32,488.98 L193.64,488.51 L193.97,488.05 L194.32,487.62 L194.68,487.23 L195.05,486.89 L195.42,486.61 L195.77,486.39 L196.12,486.24 L196.46,486.17 L196.77,486.18 L200.19,487.29 L199.88,487.28 L199.55,487.36 L199.2,487.5 L198.84,487.72 L198.47,488.01 L198.11,488.35 L197.75,488.74 L197.4,489.17 L197.06,489.62 L196.74,490.1 L196.45,490.57 L196.18,491.04 L195.94,491.49 L195.73,491.91 L195.56,492.28 L195.42,492.6 L195.32,492.86 L195.24,493.06 L195.2,493.18 L195.19,493.22 L195.2,493.18Z" fill="#cf1212" stroke="#cf1212" stroke-width="0.35" stroke-linejoin="round"/>
<path d="M197.66,494.02 L197.67,494 L197.7,493.9 L197.77,493.72 L197.86,493.48 L198,493.17 L198.16,492.8 L198.36,492.4 L198.59,491.95 L198.84,491.47 L199.14,490.99 L199.47,490.52 L199.82,490.07 L200.18,489.65 L200.55,489.26 L200.93,488.92 L201.31,488.63 L201.68,488.41 L202.03,488.26 L202.38,488.18 L202.69,488.18 L206.08,489.42 L205.76,489.42 L205.42,489.5 L205.06,489.65 L204.69,489.87 L204.31,490.16 L203.94,490.5 L203.56,490.89 L203.2,491.31 L202.85,491.76 L202.52,492.22 L202.24,492.66 L202.01,493.08 L201.78,493.51 L201.58,493.92 L201.42,494.28 L201.29,494.59 L201.19,494.84 L201.12,495.01 L201.09,495.11 L201.08,495.14Z" fill="#cf1212" stroke="#cf1212" stroke-width="0.35" stroke-linejoin="round"/>
<path d="M203.38,496.06 L203.38,496.06 L203.41,495.97 L203.48,495.82 L203.57,495.59 L203.71,495.3 L203.88,494.96 L204.08,494.57 L204.32,494.14 L204.59,493.69 L204.89,493.23 L205.21,492.76 L205.56,492.31 L205.92,491.88 L206.29,491.48 L206.66,491.13 L207.04,490.83 L207.41,490.59 L207.77,490.42 L208.12,490.32 L208.44,490.3 L208.74,490.36 L212.12,491.6 L211.82,491.54 L211.5,491.56 L211.15,491.65 L210.79,491.82 L210.42,492.06 L210.05,492.36 L209.67,492.71 L209.3,493.11 L208.94,493.54 L208.59,494 L208.27,494.46 L207.97,494.93 L207.7,495.38 L207.46,495.8 L207.26,496.19 L207.09,496.54 L206.95,496.83 L206.86,497.05 L206.79,497.21 L206.76,497.29 L206.76,497.3Z" fill="#cf1212" stroke="#cf1212" stroke-width="0.35" stroke-linejoin="round"/>
<path d="M209.21,498.18 L209.2,498.19 L209.23,498.13 L209.28,497.99 L209.37,497.78 L209.49,497.5 L209.66,497.17 L209.85,496.79 L210.08,496.37 L210.35,495.93 L210.64,495.47 L210.96,495 L211.29,494.54 L211.65,494.11 L212.02,493.7 L212.4,493.33 L212.77,493.02 L213.15,492.77 L213.51,492.58 L213.86,492.47 L214.19,492.43 L214.5,492.47 L217.88,493.7 L217.57,493.66 L217.24,493.7 L216.89,493.82 L216.53,494 L216.16,494.26 L215.78,494.57 L215.4,494.94 L215.03,495.34 L214.68,495.78 L214.34,496.24 L214.02,496.7 L213.73,497.16 L213.46,497.61 L213.23,498.03 L213.04,498.41 L212.88,498.74 L212.75,499.01 L212.66,499.22 L212.61,499.36 L212.58,499.43 L212.59,499.41Z" fill="#cf1212" stroke="#cf1212" stroke-width="0.35" stroke-linejoin="round"/>
<path d="M215.04,500.29 L215.02,500.32 L215.04,500.28 L215.09,500.16 L215.17,499.96 L215.28,499.7 L215.44,499.39 L215.62,499.02 L215.85,498.61 L216.1,498.17 L216.39,497.71 L216.7,497.24 L217.03,496.78 L217.39,496.34 L217.75,495.92 L218.13,495.55 L218.51,495.22 L218.88,494.95 L219.25,494.75 L219.6,494.62 L219.94,494.56 L220.25,494.58 L223.63,495.82 L223.32,495.79 L222.98,495.85 L222.63,495.98 L222.26,496.19 L221.89,496.46 L221.51,496.78 L221.14,497.16 L220.77,497.57 L220.42,498.02 L220.08,498.48 L219.77,498.94 L219.48,499.4 L219.23,499.84 L219.01,500.25 L218.82,500.62 L218.67,500.94 L218.55,501.2 L218.47,501.39 L218.42,501.51 L218.41,501.56 L218.42,501.53Z" fill="#cf1212" stroke="#cf1212" stroke-width="0.35" stroke-linejoin="round"/>
<path d="M220.85,502.45 L220.86,502.42 L220.9,502.32 L220.97,502.14 L221.08,501.9 L221.22,501.6 L221.4,501.24 L221.61,500.84 L221.86,500.4 L222.14,499.95 L222.45,499.48 L222.78,499.02 L223.12,498.57 L223.49,498.15 L223.86,497.76 L224.24,497.42 L224.61,497.14 L224.98,496.92 L225.34,496.77 L225.68,496.69 L226,496.7 L229.38,497.93 L229.06,497.93 L228.72,498 L228.36,498.15 L228,498.37 L227.62,498.66 L227.24,499 L226.87,499.38 L226.51,499.81 L226.16,500.25 L225.83,500.72 L225.52,501.18 L225.24,501.64 L224.99,502.07 L224.78,502.47 L224.6,502.83 L224.46,503.14 L224.35,503.38 L224.28,503.56 L224.24,503.66 L224.23,503.69Z" fill="#cf1212" stroke="#cf1212" stroke-width="0.35" stroke-linejoin="round"/>
<path d="M226.67,504.57 L226.68,504.57 L226.71,504.48 L226.77,504.32 L226.87,504.09 L227.01,503.8 L227.18,503.46 L227.38,503.06 L227.62,502.64 L227.89,502.19 L228.19,501.72 L228.52,501.26 L228.86,500.8 L229.22,500.37 L229.59,499.98 L229.99,499.63 L230.79,499.41 L231.6,499.43 L231.99,499.39 L232.35,499.4 L232.66,499.49 L232.92,499.64 L235.75,501.87 L235.49,501.72 L235.17,501.63 L234.82,501.62 L234.42,501.66 L233.92,501.2 L233.36,500.9 L232.98,501.21 L232.6,501.61 L232.24,502.04 L231.9,502.49 L231.57,502.96 L231.27,503.42 L231,503.87 L230.76,504.3 L230.56,504.69 L230.39,505.04 L230.25,505.33 L230.15,505.56 L230.09,505.72 L230.06,505.8 L230.06,505.81Z" fill="#cf1212" stroke="#cf1212" stroke-width="0.35" stroke-linejoin="round"/>
<path d="M230.92,507.21 L230.91,507.22 L230.95,507.16 L231.05,507.04 L231.2,506.87 L231.41,506.65 L231.67,506.38 L231.97,506.08 L232.32,505.75 L232.71,505.41 L233.14,505.06 L233.58,504.72 L234.05,504.39 L234.53,504.09 L235,503.82 L235.47,503.59 L235.93,503.41 L236.36,503.29 L236.77,503.23 L237.13,503.23 L237.46,503.3 L237.73,503.44 L240.56,505.67 L240.28,505.53 L239.96,505.46 L239.59,505.46 L239.19,505.52 L238.76,505.64 L238.3,505.82 L237.83,506.05 L237.35,506.32 L236.88,506.62 L236.41,506.95 L235.96,507.29 L235.54,507.64 L235.15,507.98 L234.8,508.31 L234.49,508.61 L234.23,508.88 L234.03,509.1 L233.87,509.27 L233.78,509.39 L233.73,509.45 L233.74,509.44Z" fill="#cf1212" stroke="#cf1212" stroke-width="0.35" stroke-linejoin="round"/>
<path d="M235.79,511.04 L235.77,511.06 L235.8,511.02 L235.89,510.92 L236.03,510.76 L236.22,510.54 L236.47,510.29 L236.76,509.99 L237.1,509.67 L237.48,509.33 L237.9,508.99 L238.34,508.64 L238.8,508.31 L239.28,508 L239.76,507.72 L240.23,507.48 L240.69,507.29 L241.13,507.16 L241.54,507.08 L241.92,507.07 L242.25,507.12 L242.54,507.24 L245.36,509.47 L245.08,509.35 L244.74,509.3 L244.37,509.31 L243.96,509.39 L243.52,509.52 L243.06,509.71 L242.58,509.95 L242.11,510.23 L241.63,510.54 L241.17,510.87 L240.73,511.22 L240.31,511.56 L239.93,511.9 L239.59,512.22 L239.29,512.52 L239.05,512.77 L238.85,512.99 L238.71,513.15 L238.63,513.25 L238.6,513.29 L238.62,513.27Z" fill="#cf1212" stroke="#cf1212" stroke-width="0.35" stroke-linejoin="round"/>
<path d="M240.64,514.9 L240.66,514.88 L240.73,514.79 L240.86,514.64 L241.04,514.44 L241.27,514.19 L241.55,513.91 L241.88,513.59 L242.26,513.26 L242.66,512.91 L243.1,512.57 L243.56,512.23 L244.03,511.91 L244.51,511.63 L244.98,511.38 L245.45,511.17 L245.89,511.02 L246.31,510.93 L246.7,510.91 L247.04,510.94 L247.34,511.05 L250.17,513.28 L249.87,513.17 L249.52,513.14 L249.14,513.16 L248.72,513.25 L248.27,513.4 L247.81,513.61 L247.34,513.86 L246.86,514.14 L246.39,514.46 L245.93,514.8 L245.49,515.14 L245.08,515.49 L244.71,515.82 L244.38,516.14 L244.1,516.42 L243.86,516.67 L243.68,516.87 L243.56,517.02 L243.48,517.11 L243.47,517.13Z" fill="#cf1212" stroke="#cf1212" stroke-width="0.35" stroke-linejoin="round"/>
<path d="M245.51,518.74 L245.52,518.73 L245.57,518.65 L245.69,518.52 L245.85,518.33 L246.08,518.1 L246.35,517.82 L246.67,517.51 L247.03,517.18 L247.43,516.84 L247.86,516.49 L248.31,516.15 L248.78,515.83 L249.26,515.53 L249.74,515.27 L250.21,515.06 L250.66,514.9 L251.08,514.79 L251.47,514.75 L251.83,514.77 L252.14,514.86 L254.97,517.09 L254.65,517 L254.3,516.98 L253.91,517.02 L253.48,517.13 L253.03,517.29 L252.56,517.5 L252.09,517.76 L251.61,518.06 L251.14,518.38 L250.69,518.72 L250.26,519.07 L249.86,519.41 L249.49,519.74 L249.17,520.05 L248.9,520.33 L248.68,520.56 L248.51,520.75 L248.4,520.88 L248.34,520.96 L248.34,520.97Z" fill="#cf1212" stroke="#cf1212" stroke-width="0.35" stroke-linejoin="round"/>
<path d="M250.38,522.57 L250.38,522.58 L250.42,522.52 L250.52,522.4 L250.68,522.22 L250.89,522 L251.15,521.73 L251.45,521.43 L251.81,521.1 L252.2,520.76 L252.62,520.41 L253.07,520.07 L253.54,519.74 L254.01,519.44 L254.49,519.17 L254.96,518.95 L255.42,518.77 L255.85,518.65 L256.25,518.59 L256.61,518.6 L256.94,518.67 L257.21,518.81 L260.04,521.04 L259.76,520.9 L259.44,520.83 L259.08,520.82 L258.67,520.88 L258.24,521 L257.79,521.18 L257.32,521.4 L256.84,521.67 L256.36,521.97 L255.9,522.3 L255.45,522.64 L255.02,522.99 L254.63,523.33 L254.28,523.66 L253.97,523.96 L253.71,524.23 L253.5,524.45 L253.35,524.63 L253.25,524.75 L253.2,524.81 L253.21,524.8Z" fill="#cf1212" stroke="#cf1212" stroke-width="0.35" stroke-linejoin="round"/>
<path d="M255.26,526.4 L255.24,526.42 L255.27,526.38 L255.36,526.27 L255.5,526.11 L255.7,525.9 L255.95,525.64 L256.24,525.34 L256.59,525.02 L256.97,524.68 L257.38,524.34 L257.83,523.99 L258.29,523.66 L258.77,523.35 L259.24,523.07 L259.72,522.84 L260.18,522.65 L260.61,522.51 L261.02,522.44 L261.4,522.43 L261.73,522.49 L262.02,522.61 L264.84,524.84 L264.56,524.72 L264.22,524.66 L263.85,524.67 L263.44,524.74 L263,524.88 L262.54,525.07 L262.07,525.3 L261.59,525.58 L261.12,525.89 L260.65,526.22 L260.21,526.57 L259.79,526.91 L259.41,527.25 L259.07,527.57 L258.77,527.87 L258.52,528.13 L258.33,528.34 L258.19,528.5 L258.1,528.61 L258.07,528.65 L258.09,528.63Z" fill="#cf1212" stroke="#cf1212" stroke-width="0.35" stroke-linejoin="round"/>
<path d="M260.11,530.26 L260.13,530.23 L260.2,530.14 L260.33,530 L260.51,529.79 L263.34,532.02 L263.16,532.23 L263.03,532.37 L262.96,532.46 L262.94,532.49Z" fill="#cf1212" stroke="#cf1212" stroke-width="0.35" stroke-linejoin="round"/>
<path d="M232.26,481.91 L232.55,481.84 L232.86,481.86 L233.18,481.95 L233.51,482.13 L233.84,482.37 L234.17,482.69 L234.5,483.06 L234.81,483.48 L235.12,483.94 L235.4,484.43 L235.67,484.94 L235.91,485.45 L236.12,485.95 L236.31,486.43 L236.47,486.87 L236.61,487.27 L236.71,487.62 L236.79,487.9 L236.85,488.11 L236.88,488.25 L236.89,488.31 L240.06,487.67 L240.05,487.61 L240.02,487.48 L239.97,487.26 L239.89,486.98 L239.78,486.63 L239.65,486.23 L239.49,485.79 L239.3,485.31 L239.08,484.81 L238.84,484.3 L238.58,483.8 L238.29,483.31 L237.99,482.85 L237.68,482.42 L237.35,482.05 L237.02,481.74 L236.69,481.49 L236.36,481.31 L236.04,481.22 L235.73,481.2 L235.43,481.27Z" fill="#7a0606" stroke="#7a0606" stroke-width="0.35" stroke-linejoin="round"/>
<path d="M238.28,480.71 L238.57,480.63 L238.88,480.63 L239.2,480.71 L239.53,480.87 L239.86,481.1 L240.19,481.4 L240.51,481.76 L240.83,482.18 L241.14,482.63 L241.43,483.12 L241.69,483.62 L241.94,484.13 L242.16,484.63 L242.36,485.11 L242.52,485.57 L242.66,485.98 L242.77,486.33 L242.86,486.63 L242.92,486.86 L242.95,487.01 L242.97,487.08 L246.14,486.44 L246.13,486.37 L246.09,486.22 L246.03,485.99 L245.95,485.7 L245.84,485.34 L245.7,484.93 L245.53,484.48 L245.34,483.99 L245.12,483.49 L244.87,482.98 L244.6,482.48 L244.31,481.99 L244.01,481.54 L243.69,481.12 L243.37,480.76 L243.03,480.46 L242.7,480.23 L242.37,480.07 L242.05,479.99 L241.75,479.99 L241.46,480.07Z" fill="#7a0606" stroke="#7a0606" stroke-width="0.35" stroke-linejoin="round"/>
<path d="M244.3,479.52 L244.59,479.42 L244.9,479.4 L245.21,479.46 L245.54,479.61 L245.87,479.83 L246.2,480.12 L246.53,480.47 L246.85,480.87 L247.16,481.32 L247.45,481.8 L247.72,482.3 L247.97,482.81 L248.2,483.31 L248.4,483.8 L248.57,484.26 L248.72,484.68 L248.83,485.05 L248.92,485.36 L248.99,485.6 L249.02,485.76 L249.04,485.85 L252.22,485.22 L252.2,485.13 L252.16,484.96 L252.1,484.72 L252.01,484.41 L251.89,484.04 L251.75,483.62 L251.58,483.16 L251.38,482.67 L251.15,482.17 L250.9,481.66 L250.63,481.16 L250.33,480.68 L250.03,480.23 L249.71,479.83 L249.38,479.48 L249.05,479.19 L248.72,478.97 L248.39,478.83 L248.07,478.76 L247.77,478.78 L247.48,478.88Z" fill="#7a0606" stroke="#7a0606" stroke-width="0.35" stroke-linejoin="round"/>
<path d="M250.61,478.21 L250.91,478.18 L251.23,478.22 L251.55,478.35 L251.88,478.56 L252.22,478.83 L252.54,479.17 L252.87,479.57 L253.18,480.01 L253.47,480.48 L253.75,480.98 L254,481.49 L254.24,481.99 L254.44,482.49 L254.62,482.95 L254.77,483.38 L254.89,483.76 L254.99,484.08 L255.05,484.33 L255.1,484.52 L255.12,484.62 L258.3,483.98 L258.27,483.88 L258.23,483.7 L258.16,483.44 L258.07,483.12 L257.95,482.74 L257.8,482.31 L257.62,481.85 L257.41,481.36 L257.18,480.85 L256.93,480.34 L256.65,479.84 L256.35,479.37 L256.04,478.93 L255.72,478.53 L255.39,478.2 L255.06,477.92 L254.73,477.72 L254.41,477.59 L254.09,477.54 L253.79,477.57Z" fill="#7a0606" stroke="#7a0606" stroke-width="0.35" stroke-linejoin="round"/>
<path d="M256.56,476.98 L256.86,476.92 L257.17,476.95 L257.5,477.06 L257.83,477.24 L258.17,477.5 L258.51,477.82 L258.83,478.2 L259.16,478.62 L259.46,479.09 L259.75,479.58 L260.02,480.08 L260.26,480.58 L260.48,481.08 L260.67,481.54 L260.84,481.98 L260.97,482.36 L261.08,482.7 L261.16,482.96 L261.21,483.16 L261.24,483.28 L264.4,482.59 L264.37,482.47 L264.32,482.27 L264.24,482 L264.14,481.67 L264,481.29 L263.84,480.85 L263.65,480.38 L263.43,479.89 L263.18,479.39 L262.92,478.89 L262.63,478.4 L262.32,477.93 L262,477.51 L261.67,477.13 L261.33,476.8 L261,476.55 L260.67,476.36 L260.34,476.26 L260.03,476.23 L259.73,476.29Z" fill="#7a0606" stroke="#7a0606" stroke-width="0.35" stroke-linejoin="round"/>
<path d="M262.56,475.67 L262.86,475.6 L263.17,475.61 L263.49,475.7 L263.82,475.87 L264.16,476.12 L264.5,476.43 L264.83,476.79 L265.15,477.21 L265.46,477.67 L265.75,478.15 L266.02,478.66 L266.27,479.16 L266.5,479.66 L266.7,480.13 L266.86,480.57 L267,480.97 L267.12,481.31 L267.2,481.59 L267.26,481.8 L267.29,481.94 L267.3,481.99 L270.46,481.3 L270.45,481.24 L270.42,481.11 L270.36,480.9 L270.28,480.62 L270.17,480.27 L270.03,479.88 L269.86,479.44 L269.66,478.96 L269.44,478.47 L269.19,477.96 L268.92,477.46 L268.62,476.98 L268.32,476.52 L267.99,476.1 L267.66,475.73 L267.33,475.42 L266.99,475.18 L266.66,475.01 L266.33,474.92 L266.02,474.91 L265.73,474.98Z" fill="#7a0606" stroke="#7a0606" stroke-width="0.35" stroke-linejoin="round"/>
<path d="M268.56,474.37 L268.86,474.28 L269.16,474.28 L269.48,474.35 L269.82,474.51 L270.15,474.74 L270.49,475.03 L270.82,475.39 L271.14,475.8 L271.46,476.25 L271.75,476.73 L272.03,477.23 L272.28,477.74 L272.51,478.23 L272.72,478.71 L272.89,479.16 L273.04,479.57 L273.15,479.92 L273.24,480.22 L273.3,480.44 L273.34,480.59 L273.36,480.66 L276.52,479.97 L276.51,479.9 L276.47,479.75 L276.41,479.52 L276.32,479.23 L276.2,478.88 L276.06,478.47 L275.88,478.02 L275.68,477.54 L275.45,477.04 L275.19,476.54 L274.92,476.04 L274.62,475.56 L274.31,475.11 L273.98,474.7 L273.65,474.34 L273.32,474.05 L272.98,473.82 L272.65,473.66 L272.33,473.59 L272.02,473.59 L271.73,473.68Z" fill="#7a0606" stroke="#7a0606" stroke-width="0.35" stroke-linejoin="round"/>
<path d="M274.57,473.07 L274.85,472.97 L275.16,472.95 L275.48,473.01 L275.81,473.15 L276.14,473.36 L276.48,473.65 L276.81,473.99 L277.14,474.39 L277.45,474.84 L277.75,475.31 L278.03,475.81 L278.29,476.31 L278.53,476.81 L278.74,477.3 L278.92,477.75 L279.07,478.17 L279.19,478.53 L279.28,478.84 L279.35,479.08 L279.39,479.24 L279.41,479.33 L282.58,478.64 L282.56,478.55 L282.52,478.38 L282.45,478.15 L282.35,477.84 L282.23,477.47 L282.08,477.06 L281.9,476.6 L281.69,476.12 L281.46,475.62 L281.2,475.11 L280.92,474.62 L280.62,474.14 L280.3,473.7 L279.98,473.3 L279.64,472.95 L279.31,472.67 L278.97,472.45 L278.64,472.32 L278.32,472.26 L278.02,472.28 L277.73,472.38Z" fill="#7a0606" stroke="#7a0606" stroke-width="0.35" stroke-linejoin="round"/>
<path d="M230.81,489.53 L230.8,489.49 L230.78,489.37 L230.75,489.16 L230.71,488.89 L230.67,488.54 L230.64,488.13 L230.62,487.67 L230.6,487.16 L230.61,486.62 L230.63,486.06 L230.67,485.49 L230.74,484.93 L230.84,484.38 L230.96,483.86 L231.11,483.38 L231.29,482.96 L231.49,482.59 L231.72,482.29 L231.98,482.06 L232.26,481.91 L235.79,481.2 L235.51,481.35 L235.25,481.58 L235.02,481.88 L234.82,482.25 L234.64,482.68 L234.49,483.15 L234.37,483.67 L234.27,484.22 L234.2,484.78 L234.16,485.35 L234.14,485.91 L234.13,486.45 L234.15,486.96 L234.17,487.42 L234.2,487.83 L234.24,488.18 L234.27,488.46 L234.31,488.66 L234.33,488.78 L234.34,488.82Z" fill="#cf1212" stroke="#cf1212" stroke-width="0.35" stroke-linejoin="round"/>
<path d="M236.89,488.31 L236.88,488.28 L236.86,488.18 L236.83,487.99 L236.8,487.73 L236.76,487.39 L236.72,486.99 L236.7,486.54 L236.68,486.04 L236.68,485.51 L236.7,484.95 L236.74,484.38 L236.8,483.82 L236.89,483.27 L237.01,482.74 L237.16,482.25 L237.33,481.82 L237.53,481.43 L237.76,481.12 L238.01,480.88 L238.28,480.71 L241.81,480 L241.54,480.17 L241.28,480.41 L241.06,480.73 L240.86,481.11 L240.69,481.55 L240.54,482.03 L240.42,482.56 L240.33,483.11 L240.27,483.68 L240.23,484.24 L240.21,484.8 L240.21,485.33 L240.23,485.83 L240.25,486.29 L240.29,486.68 L240.32,487.02 L240.36,487.28 L240.39,487.47 L240.41,487.57 L240.42,487.6Z" fill="#cf1212" stroke="#cf1212" stroke-width="0.35" stroke-linejoin="round"/>
<path d="M242.97,487.08 L242.96,487.07 L242.94,486.98 L242.92,486.81 L242.88,486.56 L242.84,486.24 L242.81,485.86 L242.78,485.41 L242.76,484.92 L242.76,484.39 L242.77,483.84 L242.81,483.28 L242.87,482.71 L242.95,482.15 L243.06,481.62 L243.2,481.13 L243.37,480.68 L243.57,480.28 L243.79,479.96 L244.03,479.7 L244.3,479.52 L247.83,478.81 L247.56,478.99 L247.32,479.25 L247.1,479.57 L246.9,479.97 L246.73,480.42 L246.59,480.91 L246.48,481.44 L246.4,482 L246.34,482.57 L246.3,483.13 L246.29,483.69 L246.29,484.21 L246.31,484.7 L246.34,485.15 L246.37,485.53 L246.41,485.85 L246.45,486.1 L246.47,486.27 L246.49,486.36 L246.5,486.37Z" fill="#cf1212" stroke="#cf1212" stroke-width="0.35" stroke-linejoin="round"/>
<path d="M249.04,485.85 L249.04,485.86 L249.03,485.79 L249,485.63 L248.97,485.4 L248.93,485.09 L248.89,484.72 L248.86,484.28 L248.84,483.8 L248.84,483.28 L248.85,482.73 L248.88,482.17 L248.93,481.6 L249.01,481.04 L249.12,480.5 L249.25,480 L249.41,479.54 L249.6,479.14 L249.82,478.79 L250.06,478.52 L250.33,478.33 L250.61,478.21 L254.14,477.5 L253.86,477.62 L253.59,477.81 L253.35,478.08 L253.13,478.43 L252.94,478.83 L252.78,479.29 L252.65,479.79 L252.54,480.33 L252.46,480.89 L252.41,481.46 L252.38,482.02 L252.37,482.57 L252.37,483.09 L252.39,483.57 L252.42,484.01 L252.46,484.38 L252.5,484.69 L252.53,484.92 L252.56,485.08 L252.57,485.15 L252.57,485.14Z" fill="#cf1212" stroke="#cf1212" stroke-width="0.35" stroke-linejoin="round"/>
<path d="M255.12,484.62 L255.12,484.65 L255.11,484.59 L255.09,484.45 L255.06,484.23 L255.05,483.93 L255.02,483.57 L254.99,483.15 L254.96,482.68 L254.94,482.17 L254.93,481.62 L254.95,481.06 L254.99,480.49 L255.06,479.93 L255.15,479.38 L255.27,478.87 L255.41,478.4 L255.59,477.98 L255.8,477.62 L256.03,477.33 L256.28,477.12 L256.56,476.98 L260.08,476.21 L259.8,476.35 L259.54,476.56 L259.31,476.85 L259.11,477.21 L258.93,477.63 L258.78,478.1 L258.66,478.61 L258.57,479.16 L258.51,479.72 L258.47,480.29 L258.45,480.85 L258.45,481.4 L258.47,481.91 L258.5,482.38 L258.54,482.8 L258.57,483.19 L258.59,483.51 L258.61,483.74 L258.64,483.88 L258.65,483.94 L258.65,483.91Z" fill="#cf1212" stroke="#cf1212" stroke-width="0.35" stroke-linejoin="round"/>
<path d="M261.24,483.28 L261.24,483.32 L261.23,483.28 L261.21,483.15 L261.17,482.95 L261.13,482.67 L261.09,482.32 L261.05,481.91 L261.02,481.45 L261,480.94 L260.99,480.4 L261,479.84 L261.04,479.27 L261.1,478.71 L261.18,478.16 L261.3,477.64 L261.44,477.16 L261.61,476.73 L261.81,476.36 L262.04,476.06 L262.29,475.83 L262.56,475.67 L266.08,474.9 L265.81,475.06 L265.55,475.29 L265.33,475.59 L265.13,475.96 L264.96,476.39 L264.81,476.87 L264.7,477.39 L264.61,477.94 L264.55,478.5 L264.52,479.07 L264.51,479.63 L264.51,480.17 L264.53,480.68 L264.57,481.14 L264.61,481.55 L264.65,481.9 L264.69,482.18 L264.72,482.38 L264.75,482.51 L264.76,482.55 L264.75,482.51Z" fill="#cf1212" stroke="#cf1212" stroke-width="0.35" stroke-linejoin="round"/>
<path d="M267.3,481.99 L267.29,481.97 L267.27,481.86 L267.24,481.67 L267.2,481.41 L267.15,481.07 L267.11,480.67 L267.08,480.22 L267.06,479.72 L267.05,479.19 L267.06,478.63 L267.09,478.06 L267.14,477.49 L267.22,476.94 L267.33,476.41 L267.47,475.93 L267.63,475.48 L267.83,475.1 L268.05,474.78 L268.29,474.54 L268.56,474.37 L272.08,473.6 L271.81,473.77 L271.56,474.01 L271.34,474.33 L271.15,474.72 L270.98,475.16 L270.85,475.65 L270.74,476.17 L270.66,476.72 L270.6,477.29 L270.57,477.86 L270.56,478.42 L270.57,478.95 L270.6,479.45 L270.63,479.9 L270.67,480.3 L270.71,480.64 L270.75,480.9 L270.79,481.09 L270.81,481.2 L270.82,481.22Z" fill="#cf1212" stroke="#cf1212" stroke-width="0.35" stroke-linejoin="round"/>
<path d="M273.36,480.66 L273.35,480.65 L273.33,480.56 L273.3,480.39 L273.26,480.14 L273.22,479.82 L273.18,479.43 L273.14,478.99 L273.12,478.5 L273.1,477.97 L273.11,477.41 L273.13,476.85 L273.18,476.28 L273.26,475.72 L273.36,475.19 L273.49,474.69 L273.65,474.24 L273.84,473.85 L274.06,473.52 L274.3,473.26 L274.57,473.07 L278.08,472.3 L277.82,472.49 L277.58,472.75 L277.36,473.08 L277.17,473.47 L277.01,473.92 L276.88,474.42 L276.78,474.95 L276.7,475.51 L276.65,476.08 L276.63,476.64 L276.62,477.2 L276.63,477.73 L276.66,478.22 L276.69,478.66 L276.74,479.05 L276.78,479.37 L276.82,479.62 L276.85,479.79 L276.87,479.88 L276.87,479.89Z" fill="#cf1212" stroke="#cf1212" stroke-width="0.35" stroke-linejoin="round"/>
<path d="M279.41,479.33 L279.41,479.33 L279.39,479.26 L279.36,479.1 L279.33,478.87 L279.28,478.56 L279.24,478.19 L279.21,477.75 L279.18,477.27 L279.16,476.75 L279.16,476.2 L279.18,475.63 L279.23,475.06 L279.3,474.5 L279.4,473.97 L279.52,473.46 L279.68,473 L279.86,472.59 L280.07,472.25 L280.31,471.98 L280.57,471.78 L284.09,471.01 L283.82,471.21 L283.59,471.48 L283.38,471.82 L283.19,472.23 L283.04,472.69 L282.91,473.2 L282.82,473.73 L282.75,474.29 L282.7,474.86 L282.68,475.43 L282.68,475.98 L282.69,476.5 L282.72,476.98 L282.76,477.42 L282.8,477.79 L282.84,478.1 L282.88,478.33 L282.91,478.49 L282.93,478.56 L282.93,478.56Z" fill="#cf1212" stroke="#cf1212" stroke-width="0.35" stroke-linejoin="round"/>
<path d="M229.96,509.7 L230.12,509.95 L230.21,510.25 L230.23,510.58 L230.18,510.95 L230.05,511.34 L229.87,511.75 L229.62,512.18 L229.33,512.62 L228.99,513.05 L228.63,513.48 L228.24,513.9 L227.83,514.29 L227.43,514.66 L227.04,514.99 L226.67,515.29 L226.34,515.55 L226.04,515.77 L225.8,515.94 L225.61,516.06 L225.49,516.14 L225.43,516.17 L227.07,518.96 L227.12,518.93 L227.25,518.86 L227.43,518.73 L227.68,518.56 L227.97,518.35 L228.31,518.09 L228.68,517.79 L229.07,517.45 L229.47,517.09 L229.87,516.69 L230.26,516.28 L230.63,515.85 L230.97,515.41 L231.26,514.98 L231.51,514.55 L231.69,514.14 L231.81,513.74 L231.87,513.38 L231.85,513.05 L231.76,512.75 L231.6,512.49Z" fill="#7a0606" stroke="#7a0606" stroke-width="0.35" stroke-linejoin="round"/>
<path d="M233.04,514.99 L233.22,515.23 L233.33,515.52 L233.37,515.84 L233.33,516.2 L233.23,516.58 L233.06,516.99 L232.83,517.42 L232.55,517.85 L232.22,518.29 L231.86,518.72 L231.48,519.14 L231.08,519.54 L230.67,519.91 L230.28,520.26 L229.9,520.57 L229.56,520.84 L229.25,521.06 L228.99,521.25 L228.79,521.38 L228.65,521.47 L228.57,521.51 L230.21,524.31 L230.28,524.27 L230.42,524.18 L230.63,524.04 L230.89,523.86 L231.19,523.63 L231.54,523.36 L231.92,523.05 L232.31,522.71 L232.71,522.33 L233.11,521.93 L233.5,521.51 L233.86,521.08 L234.18,520.65 L234.47,520.21 L234.7,519.79 L234.87,519.38 L234.97,518.99 L235.01,518.64 L234.97,518.31 L234.86,518.03 L234.68,517.78Z" fill="#7a0606" stroke="#7a0606" stroke-width="0.35" stroke-linejoin="round"/>
<path d="M236.31,520.51 L236.44,520.79 L236.5,521.1 L236.48,521.45 L236.4,521.83 L236.24,522.23 L236.03,522.65 L235.76,523.08 L235.45,523.52 L235.09,523.95 L234.71,524.38 L234.32,524.78 L233.91,525.16 L233.52,525.52 L233.13,525.84 L232.78,526.12 L232.46,526.36 L232.19,526.55 L231.97,526.7 L231.81,526.8 L231.72,526.86 L233.36,529.65 L233.45,529.6 L233.61,529.5 L233.83,529.35 L234.1,529.15 L234.42,528.91 L234.77,528.63 L235.15,528.31 L235.55,527.96 L235.95,527.58 L236.35,527.17 L236.73,526.75 L237.08,526.32 L237.4,525.88 L237.67,525.45 L237.88,525.03 L238.03,524.62 L238.12,524.24 L238.14,523.9 L238.08,523.58 L237.95,523.31Z" fill="#7a0606" stroke="#7a0606" stroke-width="0.35" stroke-linejoin="round"/>
<path d="M239.4,525.8 L239.55,526.06 L239.62,526.36 L239.63,526.7 L239.56,527.07 L239.42,527.47 L239.23,527.89 L238.97,528.32 L238.67,528.75 L238.32,529.19 L237.95,529.61 L237.56,530.02 L237.16,530.41 L236.76,530.78 L236.37,531.11 L236.01,531.4 L235.68,531.65 L235.39,531.85 L235.16,532.01 L234.98,532.13 L234.87,532.2 L234.83,532.22 L236.47,535.01 L236.51,534.99 L236.62,534.92 L236.79,534.81 L237.03,534.65 L237.31,534.44 L237.64,534.19 L238.01,533.9 L238.39,533.57 L238.79,533.21 L239.2,532.82 L239.59,532.41 L239.96,531.98 L240.31,531.55 L240.61,531.11 L240.86,530.68 L241.06,530.27 L241.2,529.87 L241.26,529.5 L241.26,529.16 L241.19,528.85 L241.04,528.59Z" fill="#7a0606" stroke="#7a0606" stroke-width="0.35" stroke-linejoin="round"/>
<path d="M242.48,531.08 L242.65,531.33 L242.74,531.63 L242.77,531.96 L242.72,532.32 L242.6,532.71 L242.42,533.12 L242.18,533.55 L241.89,533.99 L241.55,534.42 L241.19,534.85 L240.8,535.27 L240.4,535.66 L240,536.03 L239.6,536.37 L239.23,536.67 L238.89,536.93 L238.6,537.15 L238.35,537.33 L238.15,537.45 L238.03,537.53 L237.97,537.57 L239.6,540.36 L239.66,540.33 L239.79,540.25 L239.98,540.12 L240.23,539.95 L240.53,539.73 L240.87,539.47 L241.24,539.17 L241.63,538.83 L242.03,538.46 L242.44,538.06 L242.82,537.65 L243.19,537.22 L243.52,536.78 L243.82,536.35 L244.06,535.92 L244.24,535.51 L244.36,535.12 L244.4,534.75 L244.38,534.42 L244.29,534.13 L244.12,533.88Z" fill="#7a0606" stroke="#7a0606" stroke-width="0.35" stroke-linejoin="round"/>
<path d="M244.13,533.98 L244.43,534.03 L244.7,534.16 L244.95,534.37 L245.17,534.65 L245.36,535 L245.52,535.41 L245.64,535.87 L245.73,536.38 L245.79,536.92 L245.82,537.48 L245.83,538.05 L245.81,538.61 L245.77,539.16 L245.72,539.69 L245.65,540.17 L245.58,540.61 L245.51,540.99 L245.44,541.3 L245.39,541.55 L245.34,541.71 L245.32,541.8 L248.42,542.74 L248.44,542.65 L248.49,542.48 L248.55,542.24 L248.61,541.92 L248.68,541.54 L248.75,541.11 L248.82,540.62 L248.87,540.1 L248.91,539.55 L248.93,538.98 L248.92,538.41 L248.89,537.85 L248.83,537.31 L248.74,536.81 L248.62,536.34 L248.46,535.93 L248.27,535.58 L248.05,535.3 L247.81,535.1 L247.53,534.97 L247.23,534.92Z" fill="#7a0606" stroke="#7a0606" stroke-width="0.35" stroke-linejoin="round"/>
<path d="M250.29,535.8 L250.57,535.91 L250.83,536.09 L251.05,536.35 L251.25,536.69 L251.41,537.08 L251.55,537.53 L251.65,538.03 L251.71,538.56 L251.75,539.11 L251.76,539.68 L251.75,540.25 L251.72,540.81 L251.67,541.34 L251.61,541.84 L251.54,542.29 L251.47,542.68 L251.4,543.02 L251.34,543.28 L251.29,543.47 L251.26,543.58 L254.36,544.51 L254.39,544.4 L254.44,544.21 L254.5,543.95 L254.57,543.62 L254.64,543.22 L254.71,542.77 L254.77,542.27 L254.82,541.74 L254.85,541.19 L254.87,540.62 L254.85,540.05 L254.82,539.49 L254.75,538.96 L254.65,538.47 L254.52,538.02 L254.35,537.62 L254.16,537.29 L253.93,537.03 L253.67,536.84 L253.39,536.73Z" fill="#7a0606" stroke="#7a0606" stroke-width="0.35" stroke-linejoin="round"/>
<path d="M256.14,537.57 L256.43,537.66 L256.7,537.82 L256.93,538.07 L257.14,538.38 L257.31,538.76 L257.45,539.19 L257.56,539.68 L257.63,540.2 L257.68,540.75 L257.7,541.32 L257.69,541.89 L257.66,542.45 L257.62,542.99 L257.56,543.49 L257.49,543.96 L257.42,544.37 L257.35,544.72 L257.29,545 L257.24,545.21 L257.2,545.34 L257.18,545.39 L260.29,546.33 L260.3,546.28 L260.34,546.15 L260.39,545.94 L260.45,545.66 L260.52,545.31 L260.59,544.89 L260.66,544.43 L260.72,543.92 L260.77,543.38 L260.79,542.82 L260.8,542.25 L260.78,541.69 L260.74,541.14 L260.66,540.61 L260.55,540.13 L260.41,539.69 L260.24,539.31 L260.03,539 L259.8,538.76 L259.53,538.59 L259.24,538.51Z" fill="#7a0606" stroke="#7a0606" stroke-width="0.35" stroke-linejoin="round"/>
<path d="M262,539.35 L262.29,539.42 L262.56,539.56 L262.81,539.78 L263.02,540.08 L263.2,540.44 L263.35,540.86 L263.47,541.33 L263.55,541.85 L263.61,542.39 L263.63,542.95 L263.63,543.52 L263.61,544.09 L263.57,544.63 L263.51,545.15 L263.45,545.63 L263.38,546.05 L263.31,546.42 L263.24,546.72 L263.19,546.95 L263.15,547.1 L263.12,547.18 L266.23,548.11 L266.25,548.04 L266.29,547.89 L266.34,547.66 L266.41,547.36 L266.48,546.99 L266.55,546.56 L266.62,546.09 L266.67,545.57 L266.71,545.02 L266.74,544.46 L266.74,543.89 L266.71,543.33 L266.66,542.78 L266.57,542.27 L266.45,541.79 L266.31,541.37 L266.12,541.01 L265.91,540.72 L265.67,540.49 L265.4,540.35 L265.1,540.28Z" fill="#7a0606" stroke="#7a0606" stroke-width="0.35" stroke-linejoin="round"/>
<path d="M268.15,541.18 L268.43,541.3 L268.68,541.5 L268.9,541.78 L269.09,542.12 L269.25,542.53 L269.38,542.99 L269.47,543.49 L269.53,544.03 L269.57,544.59 L269.57,545.16 L269.55,545.73 L269.52,546.28 L269.47,546.8 L269.4,547.29 L269.33,547.73 L269.26,548.12 L269.19,548.44 L269.14,548.69 L269.09,548.86 L269.06,548.95 L272.17,549.89 L272.19,549.79 L272.24,549.62 L272.3,549.37 L272.36,549.05 L272.43,548.67 L272.5,548.23 L272.57,547.74 L272.62,547.21 L272.66,546.66 L272.67,546.09 L272.67,545.53 L272.64,544.97 L272.57,544.43 L272.48,543.92 L272.35,543.46 L272.2,543.06 L272.01,542.71 L271.78,542.44 L271.53,542.24 L271.26,542.11Z" fill="#7a0606" stroke="#7a0606" stroke-width="0.35" stroke-linejoin="round"/>
<path d="M274.01,542.95 L274.3,543.05 L274.55,543.23 L274.78,543.49 L274.98,543.81 L275.15,544.2 L275.28,544.65 L275.39,545.14 L275.46,545.67 L275.5,546.23 L275.51,546.8 L275.5,547.36 L275.47,547.92 L275.41,548.46 L275.33,548.96 L275.24,549.41 L275.16,549.81 L275.09,550.15 L275.02,550.42 L274.97,550.61 L274.94,550.72 L278.02,551.71 L278.05,551.6 L278.11,551.41 L278.17,551.14 L278.25,550.81 L278.33,550.41 L278.43,549.93 L278.51,549.4 L278.57,548.86 L278.6,548.3 L278.61,547.73 L278.6,547.16 L278.56,546.61 L278.49,546.08 L278.39,545.59 L278.25,545.14 L278.09,544.75 L277.89,544.42 L277.66,544.16 L277.4,543.98 L277.11,543.88Z" fill="#7a0606" stroke="#7a0606" stroke-width="0.35" stroke-linejoin="round"/>
<path d="M279.91,544.81 L280.2,544.9 L280.46,545.06 L280.69,545.3 L280.9,545.62 L281.06,545.99 L281.2,546.43 L281.3,546.91 L281.37,547.44 L281.41,547.99 L281.42,548.55 L281.4,549.12 L281.36,549.68 L281.31,550.22 L281.24,550.73 L281.17,551.2 L281.09,551.61 L281.01,551.96 L280.94,552.25 L280.89,552.46 L280.85,552.6 L280.83,552.65 L283.91,553.65 L283.93,553.59 L283.97,553.46 L284.03,553.24 L284.1,552.96 L284.17,552.6 L284.25,552.19 L284.33,551.72 L284.39,551.21 L284.45,550.67 L284.49,550.11 L284.5,549.54 L284.49,548.98 L284.45,548.43 L284.38,547.91 L284.28,547.42 L284.15,546.99 L283.98,546.61 L283.78,546.3 L283.55,546.06 L283.28,545.89 L282.99,545.8Z" fill="#7a0606" stroke="#7a0606" stroke-width="0.35" stroke-linejoin="round"/>
<path d="M285.73,546.7 L286.03,546.77 L286.3,546.91 L286.54,547.13 L286.75,547.43 L286.92,547.79 L287.07,548.21 L287.18,548.68 L287.26,549.19 L287.3,549.74 L287.32,550.3 L287.31,550.87 L287.28,551.43 L287.23,551.98 L287.16,552.5 L287.09,552.98 L287.01,553.4 L286.93,553.78 L286.86,554.08 L286.8,554.31 L286.76,554.47 L286.73,554.55 L289.82,555.54 L289.84,555.46 L289.89,555.3 L289.95,555.07 L290.02,554.77 L290.09,554.4 L290.17,553.97 L290.25,553.49 L290.31,552.97 L290.36,552.42 L290.39,551.86 L290.4,551.29 L290.39,550.73 L290.34,550.18 L290.26,549.67 L290.15,549.2 L290.01,548.78 L289.83,548.42 L289.62,548.12 L289.38,547.9 L289.11,547.76 L288.81,547.69Z" fill="#7a0606" stroke="#7a0606" stroke-width="0.35" stroke-linejoin="round"/>
<path d="M291.85,548.64 L292.13,548.76 L292.38,548.96 L292.6,549.24 L292.78,549.58 L292.94,549.99 L293.05,550.45 L293.14,550.95 L293.19,551.49 L293.22,552.05 L293.22,552.61 L293.19,553.18 L293.14,553.73 L293.08,554.26 L293.01,554.75 L292.93,555.19 L292.86,555.58 L292.78,555.9 L292.72,556.16 L292.67,556.33 L292.64,556.43 L295.72,557.42 L295.75,557.33 L295.8,557.15 L295.87,556.9 L295.94,556.57 L296.02,556.19 L296.1,555.74 L296.17,555.25 L296.23,554.73 L296.27,554.17 L296.3,553.61 L296.3,553.04 L296.28,552.48 L296.22,551.94 L296.14,551.44 L296.02,550.98 L295.87,550.58 L295.68,550.23 L295.46,549.96 L295.21,549.76 L294.93,549.63Z" fill="#7a0606" stroke="#7a0606" stroke-width="0.35" stroke-linejoin="round"/>
<path d="M297.67,550.52 L297.96,550.62 L298.22,550.8 L298.44,551.06 L298.64,551.38 L298.8,551.77 L298.93,552.22 L299.02,552.71 L299.09,553.24 L299.12,553.79 L299.12,554.36 L299.1,554.93 L299.06,555.49 L299,556.02 L298.93,556.52 L298.86,556.98 L298.78,557.38 L298.7,557.72 L298.64,558 L298.58,558.19 L298.55,558.31 L298.53,558.35 L301.62,559.34 L301.63,559.3 L301.67,559.18 L301.72,558.99 L301.79,558.72 L301.86,558.37 L301.94,557.97 L302.02,557.52 L302.09,557.01 L302.14,556.48 L302.19,555.92 L302.21,555.35 L302.2,554.79 L302.17,554.23 L302.11,553.7 L302.01,553.21 L301.88,552.77 L301.72,552.38 L301.53,552.05 L301.3,551.79 L301.04,551.61 L300.76,551.51Z" fill="#7a0606" stroke="#7a0606" stroke-width="0.35" stroke-linejoin="round"/>
<path d="M303.5,552.4 L303.79,552.49 L304.05,552.65 L304.29,552.88 L304.49,553.19 L304.66,553.56 L304.8,553.99 L304.9,554.47 L304.97,554.99 L305.01,555.54 L305.03,556.11 L305.01,556.68 L304.98,557.24 L304.92,557.78 L304.85,558.29 L304.78,558.76 L304.7,559.18 L304.62,559.54 L304.55,559.83 L304.5,560.05 L304.46,560.19 L304.43,560.25 L307.52,561.24 L307.54,561.18 L307.58,561.04 L307.64,560.82 L307.71,560.53 L307.79,560.17 L307.86,559.75 L307.94,559.28 L308.01,558.77 L308.06,558.23 L308.1,557.67 L308.11,557.1 L308.1,556.53 L308.06,555.99 L307.99,555.47 L307.88,554.99 L307.75,554.55 L307.58,554.18 L307.37,553.87 L307.14,553.64 L306.87,553.48 L306.58,553.4Z" fill="#7a0606" stroke="#7a0606" stroke-width="0.35" stroke-linejoin="round"/>
<path d="M309.32,554.3 L309.61,554.36 L309.89,554.49 L310.13,554.71 L310.34,555 L310.52,555.35 L310.67,555.77 L310.78,556.24 L310.86,556.75 L313.94,557.74 L313.86,557.23 L313.75,556.76 L313.61,556.35 L313.43,555.99 L313.21,555.7 L312.97,555.49 L312.7,555.35 L312.4,555.29Z" fill="#7a0606" stroke="#7a0606" stroke-width="0.35" stroke-linejoin="round"/>
<path d="M222.29,510.82 L222.33,510.8 L222.44,510.74 L222.62,510.64 L222.87,510.52 L223.18,510.37 L223.56,510.21 L223.99,510.03 L224.46,509.86 L224.97,509.68 L225.5,509.52 L226.06,509.38 L226.61,509.26 L227.16,509.17 L227.69,509.12 L228.19,509.1 L228.65,509.13 L229.07,509.2 L229.43,509.32 L229.73,509.49 L229.96,509.7 L231.78,512.81 L231.55,512.59 L231.25,512.43 L230.89,512.31 L230.47,512.24 L230.01,512.21 L229.51,512.22 L228.98,512.28 L228.43,512.37 L227.87,512.49 L227.32,512.63 L226.79,512.79 L226.28,512.96 L225.81,513.14 L225.38,513.31 L225,513.48 L224.69,513.62 L224.44,513.75 L224.26,513.84 L224.15,513.9 L224.11,513.93Z" fill="#cf1212" stroke="#cf1212" stroke-width="0.35" stroke-linejoin="round"/>
<path d="M225.43,516.17 L225.45,516.16 L225.53,516.11 L225.7,516.02 L225.93,515.9 L226.23,515.76 L226.59,515.6 L227,515.43 L227.46,515.25 L227.96,515.08 L228.49,514.91 L229.04,514.77 L229.59,514.64 L230.15,514.54 L230.68,514.48 L231.19,514.45 L231.67,514.47 L232.1,514.53 L232.47,514.63 L232.79,514.79 L233.04,514.99 L234.86,518.09 L234.61,517.89 L234.29,517.74 L233.91,517.63 L233.49,517.57 L233.01,517.56 L232.5,517.58 L231.96,517.65 L231.41,517.75 L230.86,517.87 L230.31,518.02 L229.78,518.19 L229.28,518.36 L228.82,518.54 L228.4,518.71 L228.04,518.87 L227.75,519.01 L227.51,519.13 L227.35,519.21 L227.27,519.26 L227.25,519.27Z" fill="#cf1212" stroke="#cf1212" stroke-width="0.35" stroke-linejoin="round"/>
<path d="M228.57,521.51 L228.57,521.51 L228.64,521.47 L228.78,521.4 L228.99,521.29 L229.27,521.15 L229.62,521 L230.02,520.83 L230.47,520.65 L230.96,520.47 L231.48,520.31 L232.03,520.15 L232.58,520.02 L233.13,519.91 L233.67,519.84 L234.19,519.8 L234.68,519.81 L235.12,519.86 L235.51,519.95 L235.84,520.09 L236.11,520.28 L236.31,520.51 L238.13,523.62 L237.93,523.39 L237.66,523.2 L237.33,523.06 L236.94,522.96 L236.5,522.92 L236.01,522.91 L235.49,522.95 L234.95,523.02 L234.4,523.13 L233.85,523.26 L233.3,523.41 L232.78,523.58 L232.29,523.76 L231.84,523.93 L231.44,524.1 L231.09,524.26 L230.81,524.39 L230.6,524.5 L230.46,524.58 L230.39,524.62 L230.39,524.62Z" fill="#cf1212" stroke="#cf1212" stroke-width="0.35" stroke-linejoin="round"/>
<path d="M231.72,526.86 L231.7,526.87 L231.74,526.84 L231.87,526.77 L232.06,526.67 L232.32,526.54 L232.65,526.39 L233.04,526.22 L233.48,526.05 L233.96,525.87 L234.47,525.7 L235.01,525.54 L235.56,525.4 L236.12,525.29 L236.66,525.21 L237.19,525.16 L237.68,525.15 L238.14,525.19 L238.54,525.27 L238.89,525.4 L239.18,525.57 L239.4,525.8 L241.22,528.9 L241,528.68 L240.71,528.51 L240.36,528.38 L239.96,528.3 L239.5,528.26 L239.01,528.27 L238.48,528.31 L237.94,528.4 L237.38,528.51 L236.83,528.65 L236.29,528.81 L235.78,528.98 L235.3,529.15 L234.86,529.33 L234.47,529.49 L234.14,529.65 L233.88,529.77 L233.69,529.88 L233.56,529.94 L233.51,529.97 L233.54,529.96Z" fill="#cf1212" stroke="#cf1212" stroke-width="0.35" stroke-linejoin="round"/>
<path d="M234.83,532.22 L234.86,532.2 L234.96,532.14 L235.14,532.05 L235.38,531.93 L235.69,531.78 L236.06,531.62 L236.49,531.44 L236.96,531.27 L237.47,531.09 L238,530.93 L238.55,530.79 L239.1,530.67 L239.65,530.58 L240.18,530.52 L240.69,530.5 L241.15,530.53 L241.57,530.6 L241.94,530.71 L242.24,530.87 L242.48,531.08 L244.3,534.19 L244.06,533.98 L243.76,533.82 L243.39,533.7 L242.97,533.63 L242.51,533.61 L242,533.63 L241.47,533.68 L240.92,533.77 L240.37,533.89 L239.82,534.04 L239.29,534.2 L238.78,534.37 L238.31,534.55 L237.88,534.72 L237.51,534.89 L237.2,535.03 L236.96,535.15 L236.78,535.25 L236.68,535.31 L236.65,535.33Z" fill="#cf1212" stroke="#cf1212" stroke-width="0.35" stroke-linejoin="round"/>
<path d="M237.97,537.57 L237.98,537.56 L238.06,537.51 L238.22,537.43 L238.44,537.31 L238.74,537.17 L239.09,537.01 L239.5,536.84 L239.96,536.66 L240.46,536.5 L240.8,536.67 L241.04,536.57 L241.36,536.1 L241.7,535.66 L242.05,535.24 L242.4,534.87 L242.76,534.56 L243.12,534.3 L243.47,534.12 L243.81,534.01 L244.13,533.98 L247.57,535.02 L247.25,535.05 L246.92,535.16 L246.57,535.34 L246.21,535.6 L245.85,535.91 L245.49,536.28 L245.15,536.69 L244.81,537.14 L244.49,537.61 L243.64,538.88 L242.29,539.59 L241.78,539.77 L241.32,539.95 L240.91,540.12 L240.56,540.28 L240.26,540.42 L240.04,540.53 L239.88,540.62 L239.8,540.66 L239.79,540.67Z" fill="#cf1212" stroke="#cf1212" stroke-width="0.35" stroke-linejoin="round"/>
<path d="M245.32,541.8 L245.31,541.81 L245.33,541.74 L245.38,541.59 L245.46,541.37 L245.57,541.09 L245.72,540.74 L245.89,540.35 L246.1,539.91 L246.34,539.45 L246.61,538.97 L246.9,538.49 L247.21,538.02 L247.54,537.56 L247.89,537.14 L248.24,536.75 L248.6,536.42 L248.96,536.15 L249.31,535.95 L249.65,535.82 L249.98,535.77 L250.29,535.8 L253.73,536.84 L253.43,536.81 L253.1,536.86 L252.76,536.99 L252.41,537.19 L252.05,537.46 L251.69,537.79 L251.34,538.17 L250.99,538.6 L250.66,539.05 L250.35,539.53 L250.05,540.01 L249.79,540.49 L249.55,540.95 L249.34,541.39 L249.16,541.78 L249.02,542.12 L248.91,542.41 L248.83,542.63 L248.78,542.78 L248.76,542.85 L248.76,542.84Z" fill="#cf1212" stroke="#cf1212" stroke-width="0.35" stroke-linejoin="round"/>
<path d="M251.26,543.58 L251.25,543.6 L251.26,543.55 L251.3,543.43 L251.37,543.23 L251.48,542.96 L251.61,542.63 L251.78,542.24 L251.98,541.82 L252.21,541.37 L252.47,540.89 L252.75,540.41 L253.06,539.93 L253.39,539.47 L253.73,539.03 L254.09,538.64 L254.44,538.29 L254.8,538.01 L255.16,537.79 L255.5,537.64 L255.83,537.56 L256.14,537.57 L259.59,538.61 L259.28,538.6 L258.95,538.68 L258.6,538.82 L258.25,539.05 L257.89,539.33 L257.53,539.68 L257.18,540.07 L256.84,540.51 L256.51,540.97 L256.2,541.45 L255.92,541.93 L255.66,542.4 L255.43,542.86 L255.23,543.28 L255.06,543.66 L254.92,543.99 L254.82,544.26 L254.75,544.46 L254.71,544.59 L254.69,544.64 L254.7,544.61Z" fill="#cf1212" stroke="#cf1212" stroke-width="0.35" stroke-linejoin="round"/>
<path d="M257.18,545.39 L257.19,545.36 L257.22,545.26 L257.29,545.07 L257.38,544.82 L257.51,544.51 L257.67,544.14 L257.86,543.73 L258.08,543.28 L258.33,542.81 L258.61,542.33 L258.92,541.85 L259.24,541.38 L259.58,540.94 L259.93,540.53 L260.28,540.17 L260.64,539.87 L261,539.63 L261.35,539.46 L261.68,539.36 L262,539.35 L265.44,540.39 L265.13,540.4 L264.79,540.5 L264.45,540.67 L264.09,540.9 L263.73,541.21 L263.37,541.57 L263.02,541.97 L262.69,542.42 L262.36,542.88 L262.06,543.36 L261.78,543.85 L261.53,544.32 L261.31,544.76 L261.11,545.18 L260.96,545.55 L260.83,545.86 L260.74,546.11 L260.67,546.29 L260.64,546.4 L260.63,546.43Z" fill="#cf1212" stroke="#cf1212" stroke-width="0.35" stroke-linejoin="round"/>
<path d="M263.12,547.18 L263.12,547.17 L263.15,547.08 L263.2,546.92 L263.29,546.68 L263.41,546.39 L263.56,546.03 L263.74,545.63 L263.96,545.19 L264.2,544.72 L264.47,544.24 L264.77,543.76 L265.09,543.29 L265.42,542.84 L265.77,542.42 L266.12,542.05 L266.48,541.73 L266.84,541.47 L267.19,541.28 L267.53,541.17 L267.85,541.13 L268.15,541.18 L271.6,542.22 L271.3,542.17 L270.98,542.21 L270.64,542.32 L270.29,542.51 L269.93,542.77 L269.57,543.09 L269.22,543.46 L268.87,543.88 L268.53,544.33 L268.22,544.8 L267.92,545.28 L267.65,545.76 L267.4,546.23 L267.19,546.67 L267.01,547.07 L266.86,547.42 L266.74,547.72 L266.65,547.96 L266.6,548.12 L266.57,548.21 L266.57,548.21Z" fill="#cf1212" stroke="#cf1212" stroke-width="0.35" stroke-linejoin="round"/>
<path d="M269.06,548.95 L269.06,548.97 L269.08,548.9 L269.12,548.76 L269.2,548.54 L269.31,548.26 L269.45,547.92 L269.63,547.53 L269.83,547.1 L270.07,546.64 L270.33,546.16 L270.62,545.68 L270.94,545.2 L271.27,544.74 L271.61,544.32 L271.97,543.93 L272.32,543.6 L272.68,543.32 L273.03,543.12 L273.38,542.98 L273.7,542.92 L274.01,542.95 L277.46,543.98 L277.15,543.96 L276.82,544.02 L276.48,544.15 L276.13,544.36 L275.77,544.64 L275.41,544.97 L275.06,545.36 L274.71,545.78 L274.38,546.24 L274.07,546.72 L273.78,547.2 L273.52,547.68 L273.28,548.14 L273.07,548.57 L272.9,548.96 L272.76,549.3 L272.65,549.58 L272.57,549.8 L272.52,549.94 L272.5,550 L272.51,549.99Z" fill="#cf1212" stroke="#cf1212" stroke-width="0.35" stroke-linejoin="round"/>
<path d="M274.94,550.72 L274.92,550.76 L274.94,550.71 L274.98,550.59 L275.05,550.4 L275.16,550.13 L275.29,549.81 L275.47,549.43 L275.67,549.02 L275.91,548.57 L276.18,548.1 L276.47,547.62 L276.78,547.15 L277.12,546.69 L277.47,546.26 L277.83,545.87 L278.19,545.53 L278.56,545.24 L278.91,545.03 L279.26,544.88 L279.6,544.81 L279.91,544.81 L283.34,545.91 L283.02,545.91 L282.69,545.98 L282.34,546.13 L281.98,546.35 L281.62,546.63 L281.26,546.97 L280.9,547.37 L280.55,547.79 L280.21,548.25 L279.9,548.73 L279.6,549.2 L279.34,549.67 L279.1,550.12 L278.89,550.54 L278.72,550.91 L278.58,551.24 L278.48,551.5 L278.4,551.69 L278.36,551.81 L278.35,551.86 L278.36,551.82Z" fill="#cf1212" stroke="#cf1212" stroke-width="0.35" stroke-linejoin="round"/>
<path d="M280.83,552.65 L280.83,552.63 L280.87,552.53 L280.93,552.35 L281.03,552.11 L281.16,551.8 L281.32,551.44 L281.52,551.03 L281.75,550.59 L282,550.13 L282.29,549.65 L282.6,549.17 L282.93,548.71 L283.28,548.27 L283.63,547.87 L284,547.51 L284.36,547.21 L284.72,546.98 L285.07,546.81 L285.41,546.72 L285.73,546.7 L289.16,547.8 L288.84,547.82 L288.5,547.91 L288.15,548.08 L287.79,548.32 L287.42,548.62 L287.06,548.97 L286.7,549.38 L286.36,549.81 L286.03,550.28 L285.72,550.75 L285.43,551.23 L285.17,551.69 L284.94,552.13 L284.75,552.54 L284.58,552.9 L284.45,553.21 L284.36,553.46 L284.29,553.63 L284.26,553.73 L284.25,553.76Z" fill="#cf1212" stroke="#cf1212" stroke-width="0.35" stroke-linejoin="round"/>
<path d="M286.73,554.55 L286.73,554.54 L286.76,554.46 L286.81,554.31 L286.9,554.08 L287.02,553.79 L287.17,553.44 L287.36,553.04 L287.58,552.61 L287.83,552.15 L288.11,551.68 L288.42,551.2 L288.74,550.73 L289.08,550.29 L289.44,549.87 L289.8,549.5 L290.17,549.19 L290.53,548.93 L290.88,548.74 L291.22,548.63 L291.55,548.6 L291.85,548.64 L295.28,549.74 L294.97,549.7 L294.65,549.73 L294.31,549.85 L293.95,550.03 L293.59,550.29 L293.23,550.61 L292.87,550.98 L292.51,551.39 L292.17,551.83 L291.84,552.3 L291.54,552.78 L291.26,553.25 L291.01,553.71 L290.79,554.15 L290.6,554.54 L290.45,554.89 L290.33,555.18 L290.24,555.41 L290.18,555.57 L290.16,555.65 L290.16,555.65Z" fill="#cf1212" stroke="#cf1212" stroke-width="0.35" stroke-linejoin="round"/>
<path d="M292.64,556.43 L292.63,556.45 L292.65,556.39 L292.7,556.25 L292.77,556.05 L292.89,555.77 L293.03,555.44 L293.21,555.05 L293.42,554.63 L293.67,554.17 L293.94,553.7 L294.24,553.23 L294.56,552.75 L294.89,552.3 L295.25,551.88 L295.61,551.5 L295.97,551.16 L296.33,550.89 L296.69,550.69 L297.04,550.55 L297.37,550.5 L297.67,550.52 L301.1,551.62 L300.79,551.6 L300.46,551.66 L300.12,551.79 L299.76,552 L299.4,552.27 L299.03,552.6 L298.67,552.98 L298.32,553.4 L297.98,553.86 L297.66,554.33 L297.36,554.81 L297.09,555.28 L296.85,555.73 L296.64,556.16 L296.46,556.54 L296.31,556.87 L296.2,557.15 L296.12,557.36 L296.07,557.49 L296.06,557.55 L296.06,557.53Z" fill="#cf1212" stroke="#cf1212" stroke-width="0.35" stroke-linejoin="round"/>
<path d="M298.53,558.35 L298.54,558.31 L298.58,558.2 L298.65,558.01 L298.76,557.75 L298.89,557.43 L299.06,557.06 L299.27,556.64 L299.5,556.2 L299.76,555.73 L300.06,555.25 L300.37,554.78 L300.7,554.32 L301.05,553.89 L301.41,553.49 L301.78,553.15 L302.14,552.86 L302.5,552.63 L302.85,552.48 L303.18,552.4 L303.5,552.4 L306.92,553.51 L306.61,553.51 L306.27,553.58 L305.92,553.74 L305.57,553.96 L305.2,554.25 L304.84,554.6 L304.48,554.99 L304.13,555.42 L303.8,555.88 L303.48,556.35 L303.19,556.83 L302.93,557.3 L302.69,557.75 L302.49,558.16 L302.32,558.53 L302.18,558.85 L302.08,559.11 L302.01,559.3 L301.97,559.42 L301.96,559.46Z" fill="#cf1212" stroke="#cf1212" stroke-width="0.35" stroke-linejoin="round"/>
<path d="M304.43,560.25 L304.44,560.23 L304.47,560.13 L304.53,559.96 L304.63,559.72 L304.75,559.42 L304.92,559.06 L305.11,558.66 L305.34,558.22 L305.59,557.75 L305.88,557.28 L306.19,556.8 L306.51,556.34 L306.86,555.9 L307.22,555.49 L307.58,555.13 L307.94,554.83 L308.3,554.59 L308.66,554.41 L309,554.32 L309.32,554.3 L312.74,555.4 L312.42,555.42 L312.08,555.52 L311.73,555.69 L311.37,555.93 L311.01,556.24 L310.64,556.6 L310.29,557 L309.94,557.44 L309.61,557.91 L309.3,558.38 L309.02,558.86 L308.76,559.32 L308.54,559.76 L308.34,560.16 L308.18,560.52 L308.05,560.83 L307.96,561.07 L307.9,561.24 L307.87,561.33 L307.86,561.35Z" fill="#cf1212" stroke="#cf1212" stroke-width="0.35" stroke-linejoin="round"/>
<path d="M242.08,547.23 L242.38,547.2 L242.69,547.26 L242.99,547.4 L243.3,547.61 L243.59,547.9 L243.88,548.26 L244.15,548.67 L244.41,549.14 L244.65,549.63 L244.86,550.16 L245.06,550.69 L245.23,551.23 L245.38,551.75 L245.5,552.25 L245.6,552.71 L245.68,553.13 L245.74,553.48 L245.78,553.77 L245.81,553.99 L245.82,554.13 L245.82,554.19 L249.05,553.98 L249.05,553.92 L249.04,553.78 L249.02,553.56 L248.97,553.27 L248.92,552.92 L248.84,552.5 L248.74,552.04 L248.61,551.54 L248.46,551.02 L248.29,550.48 L248.1,549.95 L247.88,549.42 L247.64,548.92 L247.39,548.46 L247.11,548.05 L246.83,547.69 L246.53,547.4 L246.23,547.19 L245.92,547.05 L245.62,546.99 L245.31,547.02Z" fill="#7a0606" stroke="#7a0606" stroke-width="0.35" stroke-linejoin="round"/>
<path d="M248.21,546.84 L248.51,546.8 L248.82,546.84 L249.13,546.96 L249.43,547.17 L249.73,547.44 L250.02,547.79 L250.29,548.19 L250.55,548.64 L250.79,549.14 L251.01,549.66 L251.21,550.19 L251.39,550.73 L251.54,551.26 L251.67,551.76 L251.77,552.23 L251.86,552.65 L251.92,553.02 L251.96,553.32 L251.99,553.55 L252,553.71 L252.01,553.78 L255.24,553.57 L255.24,553.5 L255.22,553.34 L255.2,553.11 L255.15,552.81 L255.09,552.44 L255.01,552.02 L254.9,551.55 L254.77,551.04 L254.62,550.52 L254.45,549.98 L254.25,549.45 L254.03,548.93 L253.78,548.43 L253.52,547.98 L253.25,547.58 L252.96,547.23 L252.66,546.95 L252.36,546.75 L252.05,546.63 L251.75,546.59 L251.45,546.63Z" fill="#7a0606" stroke="#7a0606" stroke-width="0.35" stroke-linejoin="round"/>
<path d="M254.35,546.45 L254.65,546.4 L254.95,546.42 L255.26,546.53 L255.56,546.72 L255.86,546.98 L256.15,547.32 L256.43,547.71 L256.69,548.15 L256.94,548.64 L257.16,549.16 L257.36,549.69 L257.55,550.23 L257.7,550.76 L257.83,551.27 L257.94,551.74 L258.03,552.18 L258.1,552.55 L258.14,552.87 L258.17,553.11 L258.19,553.28 L258.2,553.37 L261.43,553.16 L261.42,553.07 L261.41,552.9 L261.38,552.66 L261.33,552.34 L261.26,551.96 L261.18,551.53 L261.07,551.06 L260.93,550.55 L260.78,550.02 L260.6,549.48 L260.39,548.95 L260.17,548.43 L259.93,547.94 L259.66,547.5 L259.38,547.1 L259.09,546.77 L258.8,546.51 L258.49,546.32 L258.18,546.21 L257.88,546.18 L257.58,546.24Z" fill="#7a0606" stroke="#7a0606" stroke-width="0.35" stroke-linejoin="round"/>
<path d="M260.78,546 L261.08,546.01 L261.39,546.1 L261.69,546.28 L262,546.53 L262.29,546.85 L262.57,547.23 L262.83,547.67 L263.08,548.15 L263.31,548.66 L263.52,549.19 L263.7,549.73 L263.86,550.26 L264,550.77 L264.11,551.26 L264.2,551.7 L264.27,552.09 L264.32,552.41 L264.36,552.67 L264.37,552.85 L264.38,552.95 L267.61,552.74 L267.61,552.64 L267.59,552.46 L267.56,552.2 L267.51,551.87 L267.44,551.49 L267.35,551.04 L267.23,550.56 L267.09,550.05 L266.93,549.52 L266.75,548.98 L266.54,548.45 L266.31,547.94 L266.07,547.46 L265.8,547.02 L265.52,546.64 L265.23,546.31 L264.93,546.06 L264.62,545.89 L264.32,545.8 L264.01,545.78Z" fill="#7a0606" stroke="#7a0606" stroke-width="0.35" stroke-linejoin="round"/>
<path d="M266.91,545.6 L267.21,545.59 L267.52,545.67 L267.83,545.83 L268.13,546.07 L268.42,546.38 L268.7,546.75 L268.97,547.18 L269.22,547.65 L269.46,548.16 L269.67,548.69 L269.86,549.23 L270.02,549.76 L270.16,550.28 L270.28,550.77 L270.38,551.22 L270.45,551.62 L270.5,551.95 L270.59,552.21 L270.78,552.37 L270.91,552.46 L274.11,551.93 L273.99,551.95 L273.82,551.95 L273.73,551.74 L273.68,551.4 L273.61,551 L273.51,550.56 L273.4,550.07 L273.25,549.55 L273.09,549.01 L272.9,548.48 L272.69,547.95 L272.46,547.44 L272.21,546.97 L271.94,546.54 L271.65,546.17 L271.36,545.86 L271.06,545.62 L270.75,545.46 L270.45,545.38 L270.14,545.39Z" fill="#7a0606" stroke="#7a0606" stroke-width="0.35" stroke-linejoin="round"/>
<path d="M272.65,544.92 L272.95,544.87 L273.26,544.91 L273.58,545.02 L273.91,545.21 L274.23,545.48 L274.55,545.81 L274.86,546.2 L275.16,546.64 L275.44,547.12 L275.71,547.62 L275.95,548.13 L276.18,548.65 L276.37,549.15 L276.54,549.63 L276.69,550.08 L276.8,550.48 L276.89,550.82 L276.96,551.1 L277,551.31 L277.03,551.44 L277.04,551.48 L280.23,550.95 L280.22,550.91 L280.2,550.78 L280.16,550.57 L280.09,550.29 L280,549.95 L279.88,549.55 L279.74,549.1 L279.57,548.62 L279.37,548.12 L279.15,547.6 L278.91,547.09 L278.64,546.59 L278.36,546.11 L278.06,545.67 L277.75,545.28 L277.43,544.95 L277.1,544.68 L276.78,544.49 L276.46,544.38 L276.15,544.34 L275.85,544.39Z" fill="#7a0606" stroke="#7a0606" stroke-width="0.35" stroke-linejoin="round"/>
<path d="M278.72,543.93 L279.02,543.86 L279.32,543.88 L279.64,543.98 L279.96,544.16 L280.29,544.41 L280.61,544.73 L280.92,545.11 L281.22,545.54 L281.51,546.01 L281.78,546.51 L282.03,547.03 L282.25,547.54 L282.46,548.05 L282.63,548.54 L282.78,548.99 L282.9,549.4 L283,549.75 L283.07,550.04 L283.11,550.26 L283.14,550.41 L283.15,550.47 L286.35,549.94 L286.34,549.88 L286.31,549.73 L286.26,549.51 L286.19,549.22 L286.1,548.87 L285.97,548.46 L285.83,548.01 L285.65,547.52 L285.45,547.01 L285.22,546.5 L284.98,545.98 L284.71,545.49 L284.42,545.02 L284.12,544.59 L283.8,544.21 L283.48,543.88 L283.16,543.63 L282.84,543.45 L282.52,543.35 L282.21,543.33 L281.92,543.4Z" fill="#7a0606" stroke="#7a0606" stroke-width="0.35" stroke-linejoin="round"/>
<path d="M284.78,542.93 L285.08,542.86 L285.38,542.86 L285.7,542.95 L286.02,543.11 L286.35,543.35 L286.67,543.66 L286.98,544.03 L287.29,544.45 L287.58,544.91 L287.85,545.41 L288.1,545.92 L288.33,546.44 L288.54,546.95 L288.72,547.44 L288.87,547.9 L289,548.32 L289.1,548.68 L289.17,548.98 L289.22,549.22 L289.26,549.37 L289.27,549.45 L292.46,548.92 L292.45,548.84 L292.42,548.69 L292.37,548.45 L292.29,548.15 L292.19,547.79 L292.07,547.37 L291.91,546.91 L291.73,546.42 L291.53,545.91 L291.3,545.39 L291.05,544.88 L290.77,544.39 L290.48,543.92 L290.18,543.5 L289.86,543.13 L289.54,542.82 L289.22,542.58 L288.9,542.42 L288.58,542.33 L288.27,542.33 L287.98,542.41Z" fill="#7a0606" stroke="#7a0606" stroke-width="0.35" stroke-linejoin="round"/>
<path d="M291.14,541.85 L291.45,541.84 L291.76,541.91 L292.08,542.06 L292.41,542.29 L292.73,542.59 L293.04,542.95 L293.35,543.36 L293.64,543.82 L293.92,544.3 L294.17,544.81 L294.41,545.33 L294.62,545.84 L294.8,546.34 L294.96,546.81 L295.09,547.23 L295.2,547.61 L295.28,547.92 L295.33,548.17 L295.37,548.34 L295.38,548.43 L298.58,547.9 L298.56,547.81 L298.53,547.64 L298.47,547.39 L298.39,547.08 L298.29,546.7 L298.16,546.28 L298,545.81 L297.82,545.31 L297.61,544.8 L297.37,544.28 L297.11,543.78 L296.84,543.29 L296.55,542.83 L296.24,542.42 L295.92,542.06 L295.6,541.76 L295.28,541.53 L294.96,541.38 L294.64,541.31 L294.34,541.32Z" fill="#7a0606" stroke="#7a0606" stroke-width="0.35" stroke-linejoin="round"/>
<path d="M297.2,540.85 L297.51,540.82 L297.82,540.88 L298.14,541.02 L298.46,541.23 L298.79,541.51 L299.1,541.86 L299.41,542.27 L299.71,542.72 L299.99,543.2 L300.25,543.71 L300.48,544.22 L300.7,544.74 L300.89,545.24 L301.05,545.71 L301.19,546.14 L301.3,546.53 L304.49,546 L304.38,545.62 L304.25,545.18 L304.09,544.71 L303.9,544.21 L303.68,543.7 L303.44,543.18 L303.18,542.67 L302.9,542.19 L302.61,541.74 L302.3,541.33 L301.98,540.99 L301.66,540.7 L301.34,540.49 L301.02,540.35 L300.7,540.29 L300.4,540.32Z" fill="#7a0606" stroke="#7a0606" stroke-width="0.35" stroke-linejoin="round"/>
<path d="M239.63,554.59 L239.63,554.55 L239.62,554.43 L239.62,554.22 L239.62,553.94 L239.63,553.59 L239.65,553.18 L239.69,552.72 L239.75,552.22 L239.82,551.68 L239.92,551.13 L240.04,550.57 L240.18,550.02 L240.34,549.49 L240.53,548.99 L240.75,548.54 L240.98,548.14 L241.23,547.8 L241.5,547.53 L241.79,547.34 L242.08,547.23 L245.67,547 L245.38,547.11 L245.1,547.3 L244.83,547.57 L244.57,547.9 L244.34,548.3 L244.13,548.76 L243.94,549.26 L243.77,549.79 L243.63,550.34 L243.51,550.89 L243.41,551.45 L243.34,551.98 L243.28,552.48 L243.25,552.95 L243.22,553.36 L243.21,553.71 L243.21,553.99 L243.22,554.19 L243.22,554.32 L243.23,554.36Z" fill="#cf1212" stroke="#cf1212" stroke-width="0.35" stroke-linejoin="round"/>
<path d="M245.82,554.19 L245.82,554.16 L245.81,554.05 L245.81,553.86 L245.81,553.59 L245.82,553.26 L245.84,552.86 L245.87,552.4 L245.92,551.9 L245.99,551.37 L246.08,550.82 L246.2,550.27 L246.34,549.72 L246.5,549.18 L246.69,548.68 L246.89,548.21 L247.12,547.8 L247.37,547.45 L247.64,547.17 L247.92,546.97 L248.21,546.84 L251.81,546.61 L251.51,546.73 L251.23,546.94 L250.97,547.22 L250.72,547.57 L250.49,547.98 L250.28,548.44 L250.09,548.95 L249.93,549.48 L249.79,550.03 L249.68,550.59 L249.58,551.14 L249.51,551.67 L249.46,552.17 L249.43,552.62 L249.41,553.02 L249.4,553.36 L249.4,553.63 L249.4,553.82 L249.41,553.93 L249.41,553.95Z" fill="#cf1212" stroke="#cf1212" stroke-width="0.35" stroke-linejoin="round"/>
<path d="M252.01,553.78 L252.01,553.77 L252,553.67 L252,553.5 L251.99,553.24 L252,552.92 L252.02,552.53 L252.05,552.08 L252.1,551.59 L252.16,551.07 L252.25,550.52 L252.36,549.96 L252.5,549.41 L252.66,548.87 L252.84,548.36 L253.04,547.89 L253.27,547.47 L253.51,547.11 L253.78,546.81 L254.06,546.59 L254.35,546.45 L257.94,546.22 L257.65,546.36 L257.37,546.58 L257.11,546.87 L256.86,547.23 L256.63,547.65 L256.43,548.13 L256.25,548.64 L256.09,549.17 L255.96,549.73 L255.84,550.29 L255.76,550.83 L255.69,551.36 L255.64,551.85 L255.61,552.29 L255.59,552.68 L255.59,553.01 L255.59,553.26 L255.59,553.44 L255.6,553.53 L255.6,553.54Z" fill="#cf1212" stroke="#cf1212" stroke-width="0.35" stroke-linejoin="round"/>
<path d="M258.2,553.37 L258.19,553.37 L258.19,553.29 L258.18,553.13 L258.18,552.89 L258.19,552.58 L258.2,552.2 L258.23,551.76 L258.27,551.28 L258.34,550.76 L258.42,550.22 L258.53,549.66 L258.66,549.1 L258.81,548.56 L258.99,548.05 L259.19,547.57 L259.41,547.13 L259.66,546.76 L259.92,546.46 L260.19,546.22 L260.48,546.07 L260.78,546 L264.37,545.76 L264.07,545.83 L263.78,545.99 L263.51,546.22 L263.25,546.53 L263,546.9 L262.78,547.33 L262.58,547.81 L262.4,548.33 L262.25,548.87 L262.12,549.43 L262.01,549.98 L261.93,550.53 L261.87,551.04 L261.82,551.53 L261.79,551.96 L261.78,552.34 L261.77,552.65 L261.77,552.89 L261.78,553.06 L261.79,553.14 L261.79,553.13Z" fill="#cf1212" stroke="#cf1212" stroke-width="0.35" stroke-linejoin="round"/>
<path d="M264.38,552.95 L264.38,552.97 L264.38,552.91 L264.37,552.76 L264.37,552.53 L264.37,552.23 L264.38,551.87 L264.41,551.44 L264.45,550.97 L264.51,550.45 L264.59,549.91 L264.69,549.36 L264.82,548.8 L264.97,548.25 L265.14,547.73 L265.34,547.24 L265.56,546.8 L265.8,546.42 L266.05,546.1 L266.33,545.85 L266.61,545.69 L266.91,545.6 L270.5,545.36 L270.21,545.45 L269.92,545.62 L269.65,545.87 L269.39,546.19 L269.15,546.57 L268.93,547.01 L268.73,547.5 L268.56,548.02 L268.41,548.57 L268.29,549.12 L268.18,549.68 L268.1,550.22 L268.04,550.73 L268,551.21 L267.98,551.63 L267.96,552 L267.96,552.3 L267.96,552.53 L267.97,552.67 L267.97,552.74 L267.97,552.72Z" fill="#cf1212" stroke="#cf1212" stroke-width="0.35" stroke-linejoin="round"/>
<path d="M270.91,552.46 L270.92,552.5 L270.91,552.45 L270.89,552.32 L270.86,552.11 L270.84,551.82 L270.81,551.47 L270.8,551.05 L270.79,550.58 L270.79,550.07 L270.82,549.53 L270.86,548.97 L270.93,548.4 L271.02,547.84 L271.13,547.3 L271.28,546.79 L271.45,546.32 L271.64,545.9 L271.86,545.55 L272.11,545.26 L272.37,545.05 L272.65,544.92 L276.21,544.33 L275.92,544.46 L275.66,544.68 L275.41,544.96 L275.19,545.32 L275,545.73 L274.83,546.2 L274.69,546.71 L274.57,547.25 L274.48,547.81 L274.41,548.38 L274.37,548.94 L274.35,549.48 L274.34,549.99 L274.35,550.46 L274.37,550.88 L274.39,551.23 L274.42,551.52 L274.44,551.73 L274.46,551.86 L274.47,551.91 L274.47,551.88Z" fill="#cf1212" stroke="#cf1212" stroke-width="0.35" stroke-linejoin="round"/>
<path d="M277.04,551.48 L277.03,551.45 L277.01,551.33 L276.99,551.14 L276.96,550.86 L276.93,550.52 L276.92,550.12 L276.91,549.66 L276.91,549.15 L276.93,548.61 L276.97,548.06 L277.03,547.49 L277.12,546.93 L277.23,546.38 L277.37,545.87 L277.53,545.39 L277.72,544.96 L277.94,544.6 L278.18,544.3 L278.44,544.07 L278.72,543.93 L282.27,543.34 L281.99,543.48 L281.73,543.71 L281.49,544.01 L281.27,544.37 L281.08,544.8 L280.92,545.28 L280.78,545.79 L280.67,546.34 L280.58,546.9 L280.52,547.47 L280.48,548.03 L280.46,548.56 L280.46,549.07 L280.47,549.53 L280.49,549.93 L280.51,550.28 L280.54,550.55 L280.56,550.75 L280.58,550.86 L280.59,550.9Z" fill="#cf1212" stroke="#cf1212" stroke-width="0.35" stroke-linejoin="round"/>
<path d="M283.15,550.47 L283.15,550.45 L283.13,550.35 L283.11,550.17 L283.08,549.91 L283.06,549.58 L283.04,549.18 L283.02,548.73 L283.02,548.23 L283.04,547.7 L283.08,547.15 L283.13,546.58 L283.22,546.02 L283.32,545.47 L283.46,544.94 L283.62,544.46 L283.8,544.02 L284.01,543.64 L284.25,543.33 L284.51,543.09 L284.78,542.93 L288.34,542.35 L288.06,542.51 L287.8,542.74 L287.56,543.06 L287.35,543.43 L287.17,543.87 L287.01,544.36 L286.87,544.88 L286.77,545.43 L286.69,545.99 L286.63,546.56 L286.59,547.11 L286.58,547.64 L286.58,548.14 L286.59,548.59 L286.61,548.99 L286.63,549.32 L286.66,549.58 L286.68,549.76 L286.7,549.86 L286.7,549.88Z" fill="#cf1212" stroke="#cf1212" stroke-width="0.35" stroke-linejoin="round"/>
<path d="M289.27,549.45 L289.27,549.45 L289.25,549.36 L289.23,549.19 L289.2,548.95 L289.18,548.63 L289.16,548.24 L289.14,547.8 L289.14,547.31 L289.15,546.79 L289.19,546.23 L289.24,545.67 L289.32,545.1 L289.42,544.55 L289.55,544.02 L289.7,543.53 L289.88,543.08 L290.09,542.69 L290.32,542.37 L290.58,542.12 L290.85,541.94 L291.14,541.85 L294.69,541.26 L294.4,541.36 L294.13,541.53 L293.87,541.78 L293.64,542.11 L293.43,542.5 L293.25,542.94 L293.1,543.43 L292.97,543.96 L292.87,544.52 L292.79,545.08 L292.74,545.65 L292.71,546.2 L292.69,546.72 L292.69,547.21 L292.71,547.66 L292.73,548.04 L292.75,548.36 L292.78,548.6 L292.8,548.77 L292.82,548.86 L292.82,548.86Z" fill="#cf1212" stroke="#cf1212" stroke-width="0.35" stroke-linejoin="round"/>
<path d="M295.38,548.43 L295.38,548.44 L295.37,548.37 L295.35,548.22 L295.32,547.98 L295.3,547.68 L295.28,547.3 L295.26,546.87 L295.26,546.39 L295.27,545.87 L295.3,545.32 L295.34,544.76 L295.42,544.19 L295.51,543.64 L295.64,543.1 L295.79,542.6 L295.96,542.15 L296.17,541.75 L296.39,541.41 L296.64,541.15 L296.92,540.96 L297.2,540.85 L300.75,540.26 L300.47,540.37 L300.2,540.56 L299.95,540.82 L299.72,541.16 L299.52,541.56 L299.34,542.02 L299.19,542.52 L299.07,543.05 L298.97,543.61 L298.9,544.17 L298.85,544.73 L298.82,545.28 L298.81,545.8 L298.81,546.28 L298.83,546.72 L298.85,547.09 L298.88,547.4 L298.9,547.63 L298.92,547.78 L298.94,547.85 L298.94,547.84Z" fill="#cf1212" stroke="#cf1212" stroke-width="0.35" stroke-linejoin="round"/>
<path d="M205.74,556.07 L206.02,555.95 L206.33,555.9 L206.67,555.94 L207.03,556.05 L207.4,556.23 L207.79,556.48 L208.18,556.79 L208.57,557.15 L208.95,557.55 L209.33,557.98 L209.68,558.42 L210.02,558.88 L210.32,559.33 L210.6,559.76 L210.84,560.16 L211.05,560.53 L211.21,560.84 L211.34,561.1 L211.43,561.29 L211.49,561.42 L211.5,561.46 L214.5,560.23 L214.48,560.18 L214.43,560.06 L214.34,559.87 L214.21,559.61 L214.04,559.29 L213.84,558.93 L213.59,558.52 L213.32,558.09 L213.01,557.64 L212.68,557.19 L212.32,556.74 L211.95,556.31 L211.56,555.91 L211.17,555.56 L210.78,555.25 L210.4,555 L210.02,554.82 L209.66,554.7 L209.33,554.67 L209.02,554.71 L208.74,554.83Z" fill="#7a0606" stroke="#7a0606" stroke-width="0.35" stroke-linejoin="round"/>
<path d="M211.45,553.72 L211.72,553.59 L212.03,553.54 L212.37,553.57 L212.72,553.67 L213.09,553.85 L213.48,554.09 L213.87,554.39 L214.26,554.75 L214.65,555.14 L215.02,555.57 L215.38,556.02 L215.72,556.47 L216.03,556.92 L216.31,557.35 L216.55,557.76 L216.76,558.13 L216.93,558.45 L217.06,558.71 L217.16,558.91 L217.21,559.04 L217.24,559.1 L220.23,557.86 L220.21,557.81 L220.15,557.68 L220.06,557.48 L219.93,557.21 L219.75,556.89 L219.55,556.52 L219.3,556.12 L219.02,555.68 L218.71,555.23 L218.38,554.78 L218.02,554.33 L217.64,553.91 L217.26,553.51 L216.87,553.16 L216.47,552.86 L216.09,552.61 L215.72,552.44 L215.36,552.33 L215.03,552.3 L214.72,552.35 L214.44,552.48Z" fill="#7a0606" stroke="#7a0606" stroke-width="0.35" stroke-linejoin="round"/>
<path d="M217.15,551.37 L217.43,551.23 L217.73,551.18 L218.06,551.2 L218.42,551.29 L218.79,551.46 L219.17,551.7 L219.56,552 L219.96,552.35 L220.34,552.74 L220.72,553.16 L221.08,553.61 L221.42,554.06 L221.73,554.51 L222.01,554.95 L222.26,555.36 L222.47,555.73 L222.65,556.06 L222.78,556.33 L222.88,556.53 L222.94,556.67 L222.97,556.73 L225.96,555.49 L225.94,555.43 L225.88,555.3 L225.78,555.09 L225.64,554.82 L225.47,554.49 L225.25,554.12 L225.01,553.71 L224.72,553.28 L224.41,552.82 L224.07,552.37 L223.71,551.93 L223.34,551.5 L222.95,551.11 L222.56,550.76 L222.17,550.46 L221.78,550.23 L221.41,550.06 L221.06,549.96 L220.73,549.94 L220.42,550 L220.15,550.13Z" fill="#7a0606" stroke="#7a0606" stroke-width="0.35" stroke-linejoin="round"/>
<path d="M222.86,549.02 L223.13,548.88 L223.43,548.81 L223.76,548.83 L224.05,548.93 L224.2,549.14 L224.45,549.36 L224.89,549.59 L225.33,549.87 L225.77,550.19 L226.21,550.55 L226.63,550.93 L227.04,551.33 L227.42,551.73 L227.77,552.12 L228.08,552.49 L228.35,552.83 L228.58,553.12 L228.76,553.38 L228.89,553.57 L228.98,553.7 L229.02,553.77 L231.79,552.08 L231.75,552.02 L231.66,551.89 L231.53,551.69 L231.35,551.44 L231.12,551.14 L230.85,550.8 L230.54,550.44 L230.19,550.05 L229.81,549.65 L229.4,549.25 L228.98,548.87 L228.54,548.51 L228.09,548.19 L227.65,547.91 L227.22,547.68 L227.05,547.62 L227.01,547.63 L226.76,547.59 L226.43,547.58 L226.13,547.64 L225.86,547.78Z" fill="#7a0606" stroke="#7a0606" stroke-width="0.35" stroke-linejoin="round"/>
<path d="M227.71,546.19 L227.95,546 L228.23,545.88 L228.55,545.84 L228.91,545.87 L229.3,545.96 L229.71,546.13 L230.14,546.35 L230.58,546.62 L231.02,546.94 L231.46,547.3 L231.89,547.68 L232.3,548.07 L232.68,548.47 L233.03,548.86 L233.35,549.23 L233.63,549.58 L233.86,549.88 L234.04,550.14 L234.18,550.34 L234.27,550.47 L234.31,550.55 L237.08,548.86 L237.04,548.79 L236.95,548.65 L236.81,548.45 L236.63,548.2 L236.4,547.89 L236.12,547.55 L235.8,547.18 L235.45,546.79 L235.07,546.39 L234.66,546 L234.23,545.62 L233.79,545.26 L233.35,544.94 L232.91,544.67 L232.48,544.44 L232.07,544.28 L231.68,544.18 L231.32,544.16 L231,544.2 L230.72,544.32 L230.48,544.51Z" fill="#7a0606" stroke="#7a0606" stroke-width="0.35" stroke-linejoin="round"/>
<path d="M233.22,542.8 L233.5,542.67 L233.82,542.62 L234.18,542.64 L234.56,542.73 L234.97,542.89 L235.4,543.11 L235.84,543.38 L236.28,543.69 L236.72,544.04 L237.15,544.42 L237.56,544.82 L237.94,545.21 L238.3,545.61 L238.62,545.98 L238.9,546.33 L239.14,546.63 L239.33,546.9 L239.47,547.1 L239.56,547.25 L239.61,547.32 L242.38,545.64 L242.33,545.56 L242.24,545.42 L242.1,545.21 L241.91,544.95 L241.67,544.64 L241.39,544.3 L241.07,543.92 L240.71,543.53 L240.33,543.13 L239.92,542.74 L239.49,542.36 L239.05,542.01 L238.61,541.69 L238.17,541.42 L237.74,541.21 L237.33,541.05 L236.94,540.96 L236.59,540.94 L236.27,540.99 L235.99,541.12Z" fill="#7a0606" stroke="#7a0606" stroke-width="0.35" stroke-linejoin="round"/>
<path d="M238.5,539.6 L238.77,539.46 L239.09,539.41 L239.44,539.42 L239.82,539.5 L240.23,539.65 L240.66,539.86 L241.09,540.13 L241.54,540.44 L241.98,540.79 L242.41,541.17 L242.82,541.56 L245.59,539.88 L245.18,539.49 L244.75,539.11 L244.31,538.76 L243.86,538.45 L243.43,538.18 L243,537.97 L242.59,537.82 L242.21,537.74 L241.86,537.72 L241.54,537.78 L241.27,537.91Z" fill="#7a0606" stroke="#7a0606" stroke-width="0.35" stroke-linejoin="round"/>
<path d="M205.77,563.83 L205.76,563.79 L205.71,563.67 L205.64,563.48 L205.55,563.21 L205.45,562.88 L205.34,562.48 L205.22,562.03 L205.11,561.53 L205.01,561 L204.93,560.45 L204.86,559.88 L204.82,559.31 L204.81,558.75 L204.83,558.22 L204.89,557.72 L204.98,557.27 L205.12,556.87 L205.29,556.53 L205.5,556.26 L205.74,556.07 L209.07,554.69 L208.83,554.89 L208.62,555.16 L208.45,555.5 L208.31,555.9 L208.22,556.35 L208.16,556.85 L208.14,557.38 L208.15,557.94 L208.19,558.5 L208.26,559.07 L208.34,559.63 L208.44,560.16 L208.55,560.66 L208.67,561.11 L208.78,561.51 L208.88,561.84 L208.97,562.11 L209.04,562.3 L209.08,562.42 L209.1,562.45Z" fill="#cf1212" stroke="#cf1212" stroke-width="0.35" stroke-linejoin="round"/>
<path d="M211.5,561.46 L211.49,561.43 L211.45,561.32 L211.38,561.14 L211.29,560.88 L211.19,560.55 L211.08,560.16 L210.97,559.71 L210.86,559.22 L210.75,558.69 L210.67,558.14 L210.6,557.57 L210.56,557 L210.54,556.44 L210.56,555.91 L210.61,555.4 L210.71,554.95 L210.83,554.54 L211,554.2 L211.21,553.92 L211.45,553.72 L214.78,552.34 L214.53,552.55 L214.33,552.82 L214.16,553.17 L214.03,553.57 L213.94,554.03 L213.89,554.53 L213.87,555.07 L213.88,555.63 L213.93,556.2 L214,556.76 L214.08,557.32 L214.18,557.84 L214.29,558.34 L214.41,558.78 L214.52,559.18 L214.62,559.5 L214.71,559.76 L214.77,559.95 L214.82,560.06 L214.83,560.09Z" fill="#cf1212" stroke="#cf1212" stroke-width="0.35" stroke-linejoin="round"/>
<path d="M217.24,559.1 L217.22,559.07 L217.18,558.97 L217.12,558.79 L217.03,558.54 L216.93,558.22 L216.82,557.83 L216.71,557.39 L216.6,556.9 L216.5,556.38 L216.41,555.83 L216.34,555.26 L216.29,554.69 L216.27,554.13 L216.29,553.59 L216.34,553.09 L216.43,552.62 L216.55,552.21 L216.71,551.86 L216.92,551.58 L217.15,551.37 L220.48,549.99 L220.24,550.21 L220.04,550.49 L219.88,550.84 L219.75,551.25 L219.67,551.71 L219.62,552.22 L219.6,552.76 L219.62,553.32 L219.66,553.89 L219.73,554.45 L219.82,555 L219.93,555.53 L220.04,556.02 L220.15,556.46 L220.26,556.85 L220.36,557.17 L220.45,557.42 L220.51,557.6 L220.55,557.7 L220.56,557.72Z" fill="#cf1212" stroke="#cf1212" stroke-width="0.35" stroke-linejoin="round"/>
<path d="M222.97,556.73 L222.96,556.71 L222.92,556.62 L222.86,556.45 L222.77,556.2 L222.67,555.89 L222.56,555.51 L222.45,555.07 L222.34,554.59 L222.24,554.07 L222.15,553.52 L222.07,552.95 L222.03,552.38 L222.01,551.82 L222.02,551.28 L222.06,550.77 L222.15,550.3 L222.27,549.89 L222.43,549.53 L222.63,549.24 L222.86,549.02 L226.19,547.65 L225.95,547.87 L225.76,548.16 L225.6,548.51 L225.47,548.93 L225.39,549.4 L225.35,549.91 L225.33,550.45 L225.35,551.01 L225.4,551.58 L225.47,552.14 L225.56,552.69 L225.67,553.21 L225.78,553.7 L225.89,554.14 L226,554.52 L226.1,554.83 L226.18,555.08 L226.25,555.25 L226.29,555.34 L226.29,555.36Z" fill="#cf1212" stroke="#cf1212" stroke-width="0.35" stroke-linejoin="round"/>
<path d="M229.02,553.77 L229.01,553.76 L228.96,553.68 L228.88,553.53 L228.76,553.3 L228.61,553.01 L228.45,552.66 L228.27,552.25 L228.09,551.8 L227.9,551.3 L227.73,550.77 L227.57,550.23 L227.43,549.67 L227.32,549.12 L227.25,548.58 L227.21,548.07 L227.22,547.59 L227.27,547.15 L227.37,546.77 L227.51,546.45 L227.71,546.19 L230.78,544.32 L230.59,544.58 L230.44,544.9 L230.35,545.28 L230.29,545.72 L230.29,546.2 L230.32,546.71 L230.4,547.25 L230.51,547.8 L230.65,548.36 L230.81,548.9 L230.98,549.43 L231.16,549.93 L231.35,550.38 L231.53,550.79 L231.69,551.15 L231.84,551.44 L231.95,551.66 L232.04,551.81 L232.09,551.89 L232.09,551.9Z" fill="#cf1212" stroke="#cf1212" stroke-width="0.35" stroke-linejoin="round"/>
<path d="M234.31,550.55 L234.31,550.55 L234.27,550.47 L234.19,550.33 L234.07,550.11 L233.93,549.83 L233.77,549.48 L233.59,549.08 L233.4,548.62 L233.22,548.13 L233.04,547.61 L232.88,547.06 L232.74,546.51 L232.63,545.96 L232.55,545.42 L232.51,544.9 L232.51,544.42 L232.56,543.98 L232.65,543.59 L232.8,543.26 L232.99,542.99 L233.22,542.8 L236.3,540.93 L236.06,541.12 L235.87,541.39 L235.73,541.72 L235.64,542.11 L235.59,542.55 L235.59,543.03 L235.63,543.55 L235.71,544.09 L235.82,544.64 L235.96,545.19 L236.12,545.74 L236.3,546.26 L236.48,546.76 L236.67,547.21 L236.84,547.61 L237.01,547.96 L237.15,548.24 L237.26,548.46 L237.34,548.6 L237.39,548.68 L237.39,548.68Z" fill="#cf1212" stroke="#cf1212" stroke-width="0.35" stroke-linejoin="round"/>
<path d="M239.61,547.32 L239.61,547.33 L239.57,547.27 L239.5,547.13 L239.38,546.92 L239.24,546.64 L239.08,546.3 L238.91,545.9 L238.72,545.45 L238.54,544.96 L238.36,544.44 L238.2,543.9 L238.06,543.34 L237.94,542.79 L237.86,542.25 L237.81,541.73 L237.81,541.24 L237.85,540.8 L237.94,540.41 L238.08,540.07 L238.26,539.8 L238.5,539.6 L241.57,537.73 L241.34,537.93 L241.16,538.2 L241.02,538.54 L240.93,538.93 L240.89,539.38 L240.89,539.86 L240.94,540.38 L241.02,540.92 L241.13,541.48 L241.28,542.03 L241.44,542.57 L241.62,543.09 L241.8,543.58 L241.98,544.03 L242.16,544.43 L242.32,544.77 L242.46,545.05 L242.57,545.26 L242.65,545.4 L242.69,545.46 L242.69,545.46Z" fill="#cf1212" stroke="#cf1212" stroke-width="0.35" stroke-linejoin="round"/>
<path d="M235,496 C238,494 242,495 244,497 C247,499 248,502 246.5,505" fill="none" stroke="#22b022" stroke-width="0.9"/>
<path d="M231,527 C229,530 230,533 233,534.5 C236,536 240,536 242,533.5" fill="none" stroke="#22b022" stroke-width="0.9"/>
<path d="M245,538 C246,541 245,544 243,545" fill="none" stroke="#22b022" stroke-width="0.9"/>
<path d="M230.5,482 C230,485 231,488 232.5,490" fill="none" stroke="#22b022" stroke-width="0.8"/>
<polyline points="226.5,513.5 230,515 234,515.8 238,515 240,517.5" fill="none" stroke="#555a70" stroke-width="0.6" stroke-linejoin="round"/>
<polyline points="236.5,512 238,515" fill="none" stroke="#4050c0" stroke-width="0.6" stroke-linejoin="round"/>
<polyline points="228,487 229.5,491.5" fill="none" stroke="#999" stroke-width="0.8" stroke-linejoin="round"/>
<polyline points="243,534 245.5,537" fill="none" stroke="#888" stroke-width="0.7" stroke-linejoin="round"/>
<polyline points="166,478.5 168,474" fill="none" stroke="#30c030" stroke-width="0.6" stroke-linejoin="round"/>
<polyline points="309.5,558.1 311,556" fill="none" stroke="#30c030" stroke-width="0.6" stroke-linejoin="round"/>
<text x="-0.6" y="599.8" font-size="14">(K)</text>
<rect x="22.7" y="601.2" width="139.2" height="87.9" fill="none" stroke="#444" stroke-width="0.9"/>
<line x1="22.7" y1="689" x2="24.9" y2="689" stroke="#444" stroke-width="0.7"/>
<text x="20.9" y="690.3" font-size="3.8" text-anchor="end" font-weight="bold" font-family='"Liberation Serif", serif' fill="#222">0.0</text>
<line x1="22.7" y1="677.3" x2="24.9" y2="677.3" stroke="#444" stroke-width="0.7"/>
<text x="20.9" y="678.6" font-size="3.8" text-anchor="end" font-weight="bold" font-family='"Liberation Serif", serif' fill="#222">0.2</text>
<line x1="22.7" y1="665.6" x2="24.9" y2="665.6" stroke="#444" stroke-width="0.7"/>
<text x="20.9" y="666.9" font-size="3.8" text-anchor="end" font-weight="bold" font-family='"Liberation Serif", serif' fill="#222">0.4</text>
<line x1="22.7" y1="653.9" x2="24.9" y2="653.9" stroke="#444" stroke-width="0.7"/>
<text x="20.9" y="655.2" font-size="3.8" text-anchor="end" font-weight="bold" font-family='"Liberation Serif", serif' fill="#222">0.6</text>
<line x1="22.7" y1="642.2" x2="24.9" y2="642.2" stroke="#444" stroke-width="0.7"/>
<text x="20.9" y="643.5" font-size="3.8" text-anchor="end" font-weight="bold" font-family='"Liberation Serif", serif' fill="#222">0.8</text>
<line x1="22.7" y1="630.5" x2="24.9" y2="630.5" stroke="#444" stroke-width="0.7"/>
<text x="20.9" y="631.8" font-size="3.8" text-anchor="end" font-weight="bold" font-family='"Liberation Serif", serif' fill="#222">1.0</text>
<line x1="22.7" y1="618.8" x2="24.9" y2="618.8" stroke="#444" stroke-width="0.7"/>
<text x="20.9" y="620.1" font-size="3.8" text-anchor="end" font-weight="bold" font-family='"Liberation Serif", serif' fill="#222">1.2</text>
<line x1="22.7" y1="607.1" x2="24.9" y2="607.1" stroke="#444" stroke-width="0.7"/>
<text x="20.9" y="608.4" font-size="3.8" text-anchor="end" font-weight="bold" font-family='"Liberation Serif", serif' fill="#222">1.4</text>
<line x1="22.7" y1="683.15" x2="23.9" y2="683.15" stroke="#444" stroke-width="0.6"/>
<line x1="22.7" y1="671.45" x2="23.9" y2="671.45" stroke="#444" stroke-width="0.6"/>
<line x1="22.7" y1="659.75" x2="23.9" y2="659.75" stroke="#444" stroke-width="0.6"/>
<line x1="22.7" y1="648.05" x2="23.9" y2="648.05" stroke="#444" stroke-width="0.6"/>
<line x1="22.7" y1="636.35" x2="23.9" y2="636.35" stroke="#444" stroke-width="0.6"/>
<line x1="22.7" y1="624.65" x2="23.9" y2="624.65" stroke="#444" stroke-width="0.6"/>
<line x1="22.7" y1="612.95" x2="23.9" y2="612.95" stroke="#444" stroke-width="0.6"/>
<line x1="22.7" y1="689.1" x2="22.7" y2="686.9" stroke="#444" stroke-width="0.7"/>
<text x="22.7" y="694.7" font-size="3.8" text-anchor="middle" font-weight="bold" font-family='"Liberation Serif", serif' fill="#222">0</text>
<line x1="36.62" y1="689.1" x2="36.62" y2="687.9" stroke="#444" stroke-width="0.6"/>
<line x1="50.54" y1="689.1" x2="50.54" y2="686.9" stroke="#444" stroke-width="0.7"/>
<text x="50.54" y="694.7" font-size="3.8" text-anchor="middle" font-weight="bold" font-family='"Liberation Serif", serif' fill="#222">10</text>
<line x1="64.46" y1="689.1" x2="64.46" y2="687.9" stroke="#444" stroke-width="0.6"/>
<line x1="78.38" y1="689.1" x2="78.38" y2="686.9" stroke="#444" stroke-width="0.7"/>
<text x="78.38" y="694.7" font-size="3.8" text-anchor="middle" font-weight="bold" font-family='"Liberation Serif", serif' fill="#222">20</text>
<line x1="92.3" y1="689.1" x2="92.3" y2="687.9" stroke="#444" stroke-width="0.6"/>
<line x1="106.22" y1="689.1" x2="106.22" y2="686.9" stroke="#444" stroke-width="0.7"/>
<text x="106.22" y="694.7" font-size="3.8" text-anchor="middle" font-weight="bold" font-family='"Liberation Serif", serif' fill="#222">30</text>
<line x1="120.14" y1="689.1" x2="120.14" y2="687.9" stroke="#444" stroke-width="0.6"/>
<line x1="134.06" y1="689.1" x2="134.06" y2="686.9" stroke="#444" stroke-width="0.7"/>
<text x="134.06" y="694.7" font-size="3.8" text-anchor="middle" font-weight="bold" font-family='"Liberation Serif", serif' fill="#222">40</text>
<line x1="147.98" y1="689.1" x2="147.98" y2="687.9" stroke="#444" stroke-width="0.6"/>
<line x1="161.9" y1="689.1" x2="161.9" y2="686.9" stroke="#444" stroke-width="0.7"/>
<text x="161.9" y="694.7" font-size="3.8" text-anchor="middle" font-weight="bold" font-family='"Liberation Serif", serif' fill="#222">50</text>
<text x="92.3" y="700.6" font-size="5" text-anchor="middle" font-weight="bold" font-family='"Liberation Serif", serif' fill="#222">Time (ns)</text>
<text x="7" y="642" font-size="4.6" text-anchor="middle" font-weight="bold" font-family='"Liberation Serif", serif' fill="#222" transform="rotate(-90 7 642)">RMSD (nm)</text>
<polyline points="22.7,676.27 22.87,674.46 23.05,674.45 23.22,678.65 23.4,676.25 23.57,666.34 23.75,678.24 23.92,675.12 24.09,669.17 24.27,672.92 24.44,674.66 24.62,675.9 24.79,668.83 24.96,666.58 25.14,664.7 25.31,668.87 25.49,664.85 25.66,671.78 25.84,667.2 26.01,669.8 26.18,666.44 26.36,664.05 26.53,662.57 26.71,669.43 26.88,661.14 27.06,666.89 27.23,668.46 27.4,665.09 27.58,669.26 27.75,663.74 27.93,662.38 28.1,663.73 28.27,660.79 28.45,663.78 28.62,662.66 28.8,667.73 28.97,662.53 29.15,665.66 29.32,664.25 29.49,663 29.67,662 29.84,668.45 30.02,668.16 30.19,663.73 30.37,661.01 30.54,661.41 30.71,659.54 30.89,658.11 31.06,660.92 31.24,662.47 31.41,665.77 31.59,665.21 31.76,663.27 31.93,660.44 32.11,660.35 32.28,660.85 32.46,661.15 32.63,658.14 32.8,659.37 32.98,658.8 33.15,658.5 33.33,661.25 33.5,662.69 33.68,657.09 33.85,657.09 34.02,658.96 34.2,659.28 34.37,649.46 34.55,659.75 34.72,657.48 34.9,655.42 35.07,660.04 35.24,655.21 35.42,648.95 35.59,651.61 35.77,652.3 35.94,652.08 36.11,653.4 36.29,650.06 36.46,653.61 36.64,654.17 36.81,651.89 36.99,648.63 37.16,650.21 37.33,648.56 37.51,657.59 37.68,645.86 37.86,641.4 38.03,644.49 38.21,649.85 38.38,651.27 38.55,646.88 38.73,650.88 38.9,644.43 39.08,648.38 39.25,642.72 39.42,640.88 39.6,652.35 39.77,643.75 39.95,646.79 40.12,648.85 40.3,645.63 40.47,643.79 40.64,638.95 40.82,647.66 40.99,639.55 41.17,637.07 41.34,642.97 41.52,644.06 41.69,646.94 41.86,651.93 42.04,646.85 42.21,648.29 42.39,647.99 42.56,642.45 42.74,649.83 42.91,651.81 43.08,648.73 43.26,659.85 43.43,660.06 43.61,658.16 43.78,659.26 43.95,654.65 44.13,658.32 44.3,651.22 44.48,652.12 44.65,654.87 44.83,659.05 45,655.65 45.17,655.09 45.35,661.81 45.52,656.96 45.7,655.83 45.87,657.67 46.05,653.04 46.22,654.41 46.39,661.69 46.57,658.48 46.74,661.97 46.92,657.13 47.09,662.33 47.26,656.17 47.44,658.17 47.61,656.24 47.79,660.27 47.96,664.93 48.14,653.68 48.31,660.55 48.48,655.17 48.66,658.56 48.83,657.76 49.01,653.77 49.18,659.05 49.36,655.4 49.53,665.58 49.7,657.37 49.88,661.34 50.05,661.02 50.23,660.58 50.4,659.46 50.57,654.92 50.75,667.3 50.92,660.7 51.1,663.44 51.27,656.89 51.45,662.53 51.62,659.5 51.79,662.56 51.97,658.88 52.14,657.72 52.32,662.74 52.49,661.24 52.67,666.45 52.84,660.46 53.01,658.59 53.19,663.6 53.36,657.78 53.54,669.05 53.71,668.33 53.88,666.77 54.06,663.66 54.23,661.95 54.41,662.36 54.58,662.38 54.76,659.66 54.93,663.92 55.1,666.76 55.28,666.75 55.45,655.03 55.63,670.76 55.8,663.19 55.98,657.51 56.15,660.97 56.32,665.54 56.5,662.59 56.67,659.52 56.85,658.28 57.02,665.64 57.2,659.78 57.37,661.52 57.54,658.5 57.72,657.46 57.89,663.51 58.07,667.35 58.24,660.84 58.41,655.95 58.59,659.75 58.76,661.31 58.94,653.65 59.11,665.69 59.29,658.84 59.46,663.97 59.63,661.76 59.81,661.58 59.98,656.54 60.16,665.11 60.33,663.67 60.51,667.34 60.68,660 60.85,663.29 61.03,660.16 61.2,665.37 61.38,662.83 61.55,657.88 61.72,662.09 61.9,659.19 62.07,659.44 62.25,662.44 62.42,666.59 62.6,657.56 62.77,660.33 62.94,657.39 63.12,667.81 63.29,666.46 63.47,668.09 63.64,663.55 63.82,656.72 63.99,658.3 64.16,660.32 64.34,659.65 64.51,657.34 64.69,660.98 64.86,658.44 65.03,659.25 65.21,667.33 65.38,660.91 65.56,654.7 65.73,660.76 65.91,659.79 66.08,661.32 66.25,660.8 66.43,655.06 66.6,659.86 66.78,662.41 66.95,669.65 67.13,660.65 67.3,665.47 67.47,664.91 67.65,655.66 67.82,655.91 68,665.07 68.17,655.3 68.35,656.62 68.52,660.93 68.69,655.55 68.87,663.78 69.04,662.24 69.22,663.01 69.39,661.8 69.56,654.76 69.74,662.47 69.91,661.78 70.09,661.02 70.26,656.94 70.44,658.77 70.61,654.49 70.78,659.96 70.96,661.94 71.13,659.12 71.31,657.18 71.48,660.52 71.66,656.23 71.83,650.78 72,659.14 72.18,656.9 72.35,652.25 72.53,659.22 72.7,659.87 72.87,660.67 73.05,655.35 73.22,654.85 73.4,657.09 73.57,656.33 73.75,651.92 73.92,653.26 74.09,661.14 74.27,656.16 74.44,655.67 74.62,653.43 74.79,656.65 74.97,658.04 75.14,657.3 75.31,661.84 75.49,655.6 75.66,657.52 75.84,653.7 76.01,658.85 76.18,656.69 76.36,658.5 76.53,658.72 76.71,652.44 76.88,656.44 77.06,653.16 77.23,658.55 77.4,654.2 77.58,660.38 77.75,656.04 77.93,656.04 78.1,652.14 78.28,653.46 78.45,654.48 78.62,650.49 78.8,652.32 78.97,650.67 79.15,649.43 79.32,651.91 79.49,652.27 79.67,649.65 79.84,651.83 80.02,648.57 80.19,645.6 80.37,646.05 80.54,649.95 80.71,652.68 80.89,647.93 81.06,647.73 81.24,643.35 81.41,649.01 81.59,648.84 81.76,645.97 81.93,650.66 82.11,649.98 82.28,643.86 82.46,645.08 82.63,648.54 82.81,650.24 82.98,655.02 83.15,650.11 83.33,652.3 83.5,652.17 83.68,655.2 83.85,653.86 84.02,654.71 84.2,652.96 84.37,649.06 84.55,652.8 84.72,659.87 84.9,657.47 85.07,659.61 85.24,656.85 85.42,652.11 85.59,652.66 85.77,656.17 85.94,653.13 86.12,656.72 86.29,659.04 86.46,658.99 86.64,657.08 86.81,649.09 86.99,658.77 87.16,649.71 87.33,649.42 87.51,654.71 87.68,654.24 87.86,656.22 88.03,654.16 88.21,651.77 88.38,654.04 88.55,650.58 88.73,649.92 88.9,652.87 89.08,652.93 89.25,654.29 89.43,652.87 89.6,657.98 89.77,652.66 89.95,653.36 90.12,657.1 90.3,646.54 90.47,657.49 90.64,657.13 90.82,653.11 90.99,660.87 91.17,656.86 91.34,659.42 91.52,657.47 91.69,654.55 91.86,652.97 92.04,650.22 92.21,651.26 92.39,649.91 92.56,651.93 92.74,655.58 92.91,649.97 93.08,655.52 93.26,655.91 93.43,648.33 93.61,650.87 93.78,652.8 93.96,650.88 94.13,650.37 94.3,658.17 94.48,653.66 94.65,657.4 94.83,652.78 95,655.5 95.17,648.32 95.35,651.21 95.52,655.81 95.7,652.97 95.87,657.09 96.05,652.64 96.22,650.8 96.39,651.74 96.57,659.37 96.74,653.72 96.92,650.7 97.09,651.35 97.27,648.29 97.44,656.81 97.61,650.4 97.79,654.46 97.96,651.43 98.14,650.63 98.31,649.58 98.48,653.96 98.66,651.22 98.83,655.91 99.01,656.7 99.18,649.74 99.36,651.82 99.53,657.25 99.7,654.49 99.88,651.38 100.05,645.93 100.23,647.66 100.4,648.47 100.58,657.47 100.75,651.57 100.92,649.65 101.1,650.03 101.27,650.05 101.45,652.41 101.62,645.52 101.79,646.6 101.97,652.2 102.14,655.4 102.32,644.85 102.49,654.09 102.67,648.04 102.84,645.63 103.01,655.73 103.19,651.49 103.36,653.82 103.54,650.89 103.71,651.66 103.89,646.05 104.06,650.9 104.23,653.09 104.41,649.2 104.58,654.2 104.76,654.62 104.93,645.57 105.11,656.4 105.28,655.33 105.45,653.55 105.63,657.5 105.8,661.29 105.98,650.27 106.15,656.82 106.32,655.99 106.5,655.37 106.67,657.49 106.85,657.79 107.02,653.43 107.2,645.55 107.37,651.36 107.54,651.3 107.72,659.18 107.89,653.96 108.07,658 108.24,651.11 108.42,654.6 108.59,653.64 108.76,654.06 108.94,655.77 109.11,659.04 109.29,651.64 109.46,658.51 109.63,657.77 109.81,654.65 109.98,656.06 110.16,652.64 110.33,649.98 110.51,652.63 110.68,652.79 110.85,653.38 111.03,650.42 111.2,659.89 111.38,652.1 111.55,656.63 111.73,657.66 111.9,653.29 112.07,654.65 112.25,651.22 112.42,649.37 112.6,661.38 112.77,653.44 112.94,646.29 113.12,650.1 113.29,648.04 113.47,652.73 113.64,658.11 113.82,656.99 113.99,650.52 114.16,649.63 114.34,655.54 114.51,653.89 114.69,651.9 114.86,658.78 115.04,653.68 115.21,646.59 115.38,644.41 115.56,652.28 115.73,645.29 115.91,653.38 116.08,654.2 116.25,659.02 116.43,647.63 116.6,652.12 116.78,642.41 116.95,649.27 117.13,649.59 117.3,656.41 117.47,644.62 117.65,650.98 117.82,650.08 118,657.08 118.17,645.9 118.35,645.5 118.52,650.91 118.69,648.27 118.87,647.04 119.04,644.85 119.22,647.68 119.39,641.82 119.57,648.53 119.74,649.63 119.91,648.95 120.09,656.04 120.26,649.83 120.44,643.36 120.61,645.85 120.78,649.54 120.96,645.33 121.13,653.53 121.31,647.34 121.48,644.38 121.66,643.67 121.83,648.73 122,642.69 122.18,639.22 122.35,647.17 122.53,642.97 122.7,650.92 122.88,652.23 123.05,643.08 123.22,644.97 123.4,644.31 123.57,646.95 123.75,645.82 123.92,641.84 124.09,638.54 124.27,645.22 124.44,650.15 124.62,639.77 124.79,642.01 124.97,641.63 125.14,643.27 125.31,635.64 125.49,643.42 125.66,641.77 125.84,650.23 126.01,646 126.19,646.61 126.36,644.54 126.53,643.46 126.71,647.55 126.88,639.08 127.06,649.13 127.23,647.21 127.4,645.03 127.58,650.5 127.75,644.34 127.93,644.36 128.1,647.85 128.28,640.35 128.45,647.01 128.62,646.55 128.8,651.14 128.97,653.89 129.15,650.46 129.32,649.61 129.5,650.32 129.67,646.26 129.84,657.58 130.02,653.42 130.19,656.09 130.37,645.2 130.54,652.13 130.72,652.2 130.89,654.5 131.06,647.7 131.24,652.55 131.41,650.33 131.59,658.2 131.76,646.89 131.93,649.56 132.11,648.95 132.28,646.49 132.46,651.46 132.63,651.31 132.81,648.15 132.98,649.11 133.15,651.42 133.33,650.35 133.5,652.22 133.68,647.88 133.85,647.05 134.03,650.26 134.2,643.62 134.37,655.58 134.55,650.94 134.72,644.04 134.9,651.49 135.07,655.58 135.24,644.99 135.42,647.92 135.59,653.98 135.77,647 135.94,653.27 136.12,654.33 136.29,650.1 136.46,651.2 136.64,653.31 136.81,650.68 136.99,652.86 137.16,649.04 137.34,649.26 137.51,646.49 137.68,650.63 137.86,653.65 138.03,653.53 138.21,649.68 138.38,643.34 138.55,645.68 138.73,650.85 138.9,645.21 139.08,652.53 139.25,644.81 139.43,649.65 139.6,645.52 139.77,645.96 139.95,649.06 140.12,646.85 140.3,651.69 140.47,648.12 140.65,643.97 140.82,633.29 140.99,645.17 141.17,647.26 141.34,651.06 141.52,643.69 141.69,653.18 141.86,650.1 142.04,645.94 142.21,651.37 142.39,641.63 142.56,643.2 142.74,649.04 142.91,649 143.08,651.69 143.26,651.97 143.43,645.48 143.61,644.85 143.78,645.8 143.96,646.11 144.13,649.01 144.3,645.77 144.48,652.22 144.65,647.01 144.83,641.85 145,642.38 145.18,648.67 145.35,648.22 145.52,642.19 145.7,640.75 145.87,652.31 146.05,648.54 146.22,646.22 146.39,642.75 146.57,649.99 146.74,644.78 146.92,648.1 147.09,638.67 147.27,645.53 147.44,647.51 147.61,648.22 147.79,643.32 147.96,644.65 148.14,651.05 148.31,646.69 148.49,652.39 148.66,650.56 148.83,652.68 149.01,653.01 149.18,650.97 149.36,652.23 149.53,647.13 149.7,646.4 149.88,650.27 150.05,653.6 150.23,647.04 150.4,657.22 150.58,657.12 150.75,647.97 150.92,648.44 151.1,647.53 151.27,651.95 151.45,655.85 151.62,653.42 151.8,649.85 151.97,654.77 152.14,654.76 152.32,657.42 152.49,656.83 152.67,649.97 152.84,651.56 153.01,657.48 153.19,657.41 153.36,655.81 153.54,652.11 153.71,658 153.89,654.3 154.06,661.08 154.23,657.77 154.41,651.67 154.58,649.8 154.76,656.86 154.93,655.33 155.11,649.61 155.28,653.61 155.45,653.96 155.63,650.04 155.8,651 155.98,647.58 156.15,648.52 156.33,653.17 156.5,651.37 156.67,650.98 156.85,655.37 157.02,653.83 157.2,646.8 157.37,655.63 157.54,646.35 157.72,648.66 157.89,649.98 158.07,647.41 158.24,647.44 158.42,644.68 158.59,650.16 158.76,649.37 158.94,649.25 159.11,641.57 159.29,645.05 159.46,651.82 159.64,649.92 159.81,651.41 159.98,649.06 160.16,648.54 160.33,641.4 160.51,656.08 160.68,646.22 160.85,648.48 161.03,652.67 161.2,650.91 161.38,652.31 161.55,650.57 161.73,647.39 161.9,656.46" fill="none" stroke="#3a3a3a" stroke-width="0.6" stroke-linejoin="round"/>
<polyline points="22.7,666.96 22.87,672.77 23.05,666.04 23.22,669.75 23.4,666.73 23.57,668.95 23.75,666.99 23.92,670.48 24.09,673.48 24.27,668.06 24.44,667.79 24.62,662.78 24.79,677.09 24.96,670.6 25.14,666.04 25.31,674.06 25.49,670.32 25.66,661.94 25.84,664.28 26.01,672.23 26.18,663.99 26.36,664.71 26.53,666.01 26.71,667.28 26.88,667.65 27.06,671.42 27.23,670.05 27.4,665.52 27.58,667.48 27.75,661.34 27.93,668.89 28.1,676.03 28.27,668.63 28.45,666.45 28.62,666.04 28.8,667.11 28.97,670.2 29.15,662.02 29.32,669.57 29.49,664.7 29.67,668.17 29.84,671.33 30.02,662.12 30.19,675.87 30.37,670 30.54,665.45 30.71,668.19 30.89,664.26 31.06,667.19 31.24,668.18 31.41,658.74 31.59,666.84 31.76,666.37 31.93,669.36 32.11,667.93 32.28,662.76 32.46,662.8 32.63,664.52 32.8,666.73 32.98,661.6 33.15,669.74 33.33,664.7 33.5,664.12 33.68,665.95 33.85,662.19 34.02,664.89 34.2,665.18 34.37,655.84 34.55,659.38 34.72,657.59 34.9,661.44 35.07,658.04 35.24,658.5 35.42,656.8 35.59,652.56 35.77,661.49 35.94,659.6 36.11,660.5 36.29,672.48 36.46,664.85 36.64,659.7 36.81,657.36 36.99,661.42 37.16,655.22 37.33,654.52 37.51,660.29 37.68,653.66 37.86,652.32 38.03,656.66 38.21,661.55 38.38,652.76 38.55,658.31 38.73,658.87 38.9,656.95 39.08,659.07 39.25,653.23 39.42,654.04 39.6,651.94 39.77,653.62 39.95,657.9 40.12,655.12 40.3,650.94 40.47,654.89 40.64,642.67 40.82,653.22 40.99,653.88 41.17,647.24 41.34,648.09 41.52,650.27 41.69,650.43 41.86,647.57 42.04,645.59 42.21,645.42 42.39,649.53 42.56,647.32 42.74,646.24 42.91,646.88 43.08,660.76 43.26,653.42 43.43,653.39 43.61,651.84 43.78,650.77 43.95,648.53 44.13,649.96 44.3,652.94 44.48,652.78 44.65,647.05 44.83,655.74 45,652.77 45.17,647.98 45.35,651.9 45.52,659.92 45.7,651.06 45.87,653.37 46.05,652.04 46.22,647.59 46.39,649.26 46.57,651.47 46.74,647.05 46.92,648.29 47.09,649.08 47.26,648.03 47.44,647.83 47.61,649.54 47.79,649.6 47.96,647.53 48.14,650.6 48.31,651.3 48.48,641.95 48.66,647 48.83,645.87 49.01,645.9 49.18,644.9 49.36,644.17 49.53,643.29 49.7,645.61 49.88,638.79 50.05,643.75 50.23,636.96 50.4,646.6 50.57,643.13 50.75,636.54 50.92,641.16 51.1,643.62 51.27,640.57 51.45,646.18 51.62,642.86 51.79,651.53 51.97,645.97 52.14,647.28 52.32,643.73 52.49,643.17 52.67,649.87 52.84,641.84 53.01,650.19 53.19,655.95 53.36,657.56 53.54,643.73 53.71,649.36 53.88,651.26 54.06,651.54 54.23,652.67 54.41,644.02 54.58,648.99 54.76,642.33 54.93,649.24 55.1,656.72 55.28,645.43 55.45,649.62 55.63,649.08 55.8,642.68 55.98,649.03 56.15,643.95 56.32,647.98 56.5,650.53 56.67,646.03 56.85,649.85 57.02,643.36 57.2,644.22 57.37,647.3 57.54,645.31 57.72,645.39 57.89,648.27 58.07,644.09 58.24,647.95 58.41,644.92 58.59,650.34 58.76,646.58 58.94,645.41 59.11,649.58 59.29,648.21 59.46,648.56 59.63,644.08 59.81,649.11 59.98,644.99 60.16,641.12 60.33,645.16 60.51,652.01 60.68,645.86 60.85,642.59 61.03,647.19 61.2,642.24 61.38,643.9 61.55,644.54 61.72,646.88 61.9,647.7 62.07,646.75 62.25,645.57 62.42,643.9 62.6,644.2 62.77,646.68 62.94,645.34 63.12,644.15 63.29,651.16 63.47,648.1 63.64,648.15 63.82,646 63.99,646.2 64.16,646.08 64.34,648.18 64.51,642.72 64.69,644.1 64.86,650.84 65.03,645.03 65.21,649.03 65.38,639.1 65.56,646.67 65.73,646.45 65.91,644.78 66.08,645.77 66.25,645.27 66.43,639.64 66.6,644.27 66.78,642.14 66.95,641.11 67.13,648.49 67.3,639.14 67.47,642.65 67.65,641.7 67.82,648.09 68,642.19 68.17,643.61 68.35,646.95 68.52,637.05 68.69,643.07 68.87,645.9 69.04,644.38 69.22,641.87 69.39,641.09 69.56,643.02 69.74,640.79 69.91,639.9 70.09,649.35 70.26,646.6 70.44,648.07 70.61,644.31 70.78,639.46 70.96,642.11 71.13,647.95 71.31,645.19 71.48,640.43 71.66,645.78 71.83,644.13 72,642.6 72.18,649.94 72.35,640.69 72.53,642.1 72.7,641.19 72.87,646.5 73.05,645.63 73.22,644.91 73.4,641.82 73.57,642.33 73.75,642 73.92,636.04 74.09,637.62 74.27,644.9 74.44,645.33 74.62,637.67 74.79,645.46 74.97,640.17 75.14,640.06 75.31,648.23 75.49,647.93 75.66,647.35 75.84,651.34 76.01,652.4 76.18,651.03 76.36,647.29 76.53,652.51 76.71,652.32 76.88,653.89 77.06,657.52 77.23,647.69 77.4,661.29 77.58,655.53 77.75,651.45 77.93,658.48 78.1,651.63 78.28,649.53 78.45,657.11 78.62,653.53 78.8,658.33 78.97,652.83 79.15,654.47 79.32,654.19 79.49,650.32 79.67,653.64 79.84,650.74 80.02,653.41 80.19,660.01 80.37,655.06 80.54,654.43 80.71,661.39 80.89,651.81 81.06,656.42 81.24,655.62 81.41,660.42 81.59,657.39 81.76,656.96 81.93,659.52 82.11,658.46 82.28,666.55 82.46,654.69 82.63,663.75 82.81,667.87 82.98,663.94 83.15,663.87 83.33,659.4 83.5,664.88 83.68,661.04 83.85,665.77 84.02,654.9 84.2,660.82 84.37,655.95 84.55,666.47 84.72,660.66 84.9,666.43 85.07,661.13 85.24,660.87 85.42,668.93 85.59,667.41 85.77,667.6 85.94,668.87 86.12,666.25 86.29,667.14 86.46,668.93 86.64,663.6 86.81,662.11 86.99,668.73 87.16,666.15 87.33,664.26 87.51,665.19 87.68,666.92 87.86,661.7 88.03,661.66 88.21,662.33 88.38,665.54 88.55,657.92 88.73,658.87 88.9,666.47 89.08,665.57 89.25,661.06 89.43,668.13 89.6,664.01 89.77,665.33 89.95,668.05 90.12,666.48 90.3,671.27 90.47,667.74 90.64,672.93 90.82,658.01 90.99,660.81 91.17,661.87 91.34,665.21 91.52,662.85 91.69,661.98 91.86,662.96 92.04,663.39 92.21,669.9 92.39,665.2 92.56,668.51 92.74,670.71 92.91,670.5 93.08,664.92 93.26,662.65 93.43,671.08 93.61,660.08 93.78,660.97 93.96,667.39 94.13,667.61 94.3,666.17 94.48,662.4 94.65,667.11 94.83,669.58 95,664.42 95.17,672.8 95.35,664.99 95.52,661.34 95.7,664.26 95.87,662.53 96.05,663.46 96.22,662.57 96.39,664.54 96.57,667.89 96.74,665.69 96.92,665.09 97.09,660.34 97.27,658.98 97.44,663.13 97.61,667.18 97.79,667.02 97.96,665.09 98.14,659.56 98.31,663.26 98.48,664.62 98.66,667.12 98.83,661.33 99.01,663.41 99.18,664.61 99.36,664.07 99.53,658.51 99.7,664.99 99.88,658.5 100.05,660.07 100.23,664.25 100.4,661.33 100.58,664.86 100.75,667.34 100.92,665.37 101.1,667.61 101.27,662.63 101.45,664.38 101.62,662.44 101.79,661.53 101.97,675.38 102.14,663.34 102.32,670.75 102.49,663.85 102.67,667.51 102.84,664.06 103.01,659.64 103.19,670.42 103.36,663.76 103.54,664.71 103.71,671.07 103.89,662.16 104.06,664.31 104.23,666.22 104.41,666.96 104.58,653.15 104.76,665.81 104.93,670.75 105.11,667.7 105.28,665.72 105.45,665.78 105.63,664.71 105.8,668.1 105.98,662.53 106.15,666.13 106.32,669.17 106.5,667.2 106.67,665.64 106.85,661.25 107.02,662.48 107.2,665.31 107.37,664 107.54,663.26 107.72,656.8 107.89,666.07 108.07,662.21 108.24,661.24 108.42,667.08 108.59,663.02 108.76,663.05 108.94,665.22 109.11,661.53 109.29,659.85 109.46,659.44 109.63,664.03 109.81,662.63 109.98,654.99 110.16,667.06 110.33,662.36 110.51,659.96 110.68,662.5 110.85,660.67 111.03,662.31 111.2,660.21 111.38,658.3 111.55,663.53 111.73,662 111.9,662.95 112.07,664.3 112.25,663.08 112.42,667.11 112.6,660.66 112.77,657.42 112.94,657.54 113.12,659.18 113.29,667.17 113.47,658.58 113.64,666.55 113.82,664.35 113.99,657.81 114.16,668.19 114.34,661.6 114.51,663.69 114.69,665.34 114.86,668.01 115.04,663.58 115.21,666.82 115.38,661.65 115.56,661.15 115.73,670.42 115.91,667.48 116.08,666.95 116.25,670.11 116.43,670.01 116.6,665.91 116.78,667.07 116.95,672.27 117.13,668.49 117.3,664.91 117.47,670.85 117.65,669.64 117.82,660.61 118,661.34 118.17,671.43 118.35,670.26 118.52,663.98 118.69,669.27 118.87,665.75 119.04,666.23 119.22,662.46 119.39,673.08 119.57,671.72 119.74,668.07 119.91,659.99 120.09,663.87 120.26,669.1 120.44,661.16 120.61,660.18 120.78,663.31 120.96,663.39 121.13,660.47 121.31,657.54 121.48,661.03 121.66,659.48 121.83,661.3 122,662.25 122.18,663.91 122.35,659.57 122.53,661.3 122.7,660.89 122.88,656.55 123.05,658.06 123.22,656.76 123.4,665.38 123.57,657.93 123.75,661.99 123.92,662.8 124.09,662.99 124.27,655.78 124.44,657.16 124.62,662.62 124.79,664.14 124.97,660.13 125.14,661.83 125.31,654.43 125.49,665.42 125.66,666.75 125.84,661.26 126.01,660.36 126.19,659.97 126.36,657.83 126.53,653.23 126.71,661.75 126.88,662.49 127.06,666.79 127.23,659.8 127.4,657.7 127.58,661.64 127.75,656.62 127.93,660.7 128.1,655.52 128.28,659.71 128.45,664.62 128.62,663.24 128.8,666.5 128.97,667.32 129.15,660.4 129.32,658.39 129.5,654.69 129.67,661.86 129.84,662.6 130.02,665.77 130.19,658.53 130.37,660.74 130.54,664.3 130.72,659.9 130.89,660.46 131.06,669.1 131.24,660.04 131.41,662.28 131.59,664.24 131.76,664.44 131.93,656.95 132.11,657.81 132.28,656.9 132.46,667.45 132.63,665.83 132.81,660.46 132.98,667.99 133.15,666.39 133.33,670.3 133.5,657.57 133.68,660.46 133.85,662.69 134.03,663.64 134.2,665.81 134.37,665.63 134.55,661.96 134.72,666.51 134.9,659.59 135.07,665.52 135.24,666.75 135.42,659.02 135.59,663.97 135.77,661.41 135.94,664.7 136.12,671.03 136.29,661.1 136.46,667.64 136.64,659.01 136.81,668.14 136.99,669.13 137.16,661.4 137.34,660.87 137.51,661.88 137.68,666.41 137.86,658.92 138.03,667.07 138.21,663.45 138.38,664.47 138.55,662.92 138.73,658.49 138.9,663.6 139.08,659.29 139.25,658.72 139.43,667.05 139.6,665.03 139.77,662.36 139.95,663.2 140.12,660.15 140.3,668.12 140.47,658.92 140.65,658.95 140.82,662.26 140.99,666.64 141.17,661.87 141.34,663.89 141.52,660.12 141.69,662.52 141.86,659.77 142.04,663.96 142.21,657.49 142.39,670.75 142.56,666.34 142.74,661.16 142.91,668.29 143.08,660.52 143.26,667.48 143.43,662.99 143.61,666.64 143.78,665.09 143.96,663.04 144.13,664.13 144.3,665.21 144.48,656.42 144.65,664.06 144.83,667.6 145,661.05 145.18,661.54 145.35,660.09 145.52,658.05 145.7,667.57 145.87,660.5 146.05,660.16 146.22,664.11 146.39,663.19 146.57,674.54 146.74,665.96 146.92,657.61 147.09,670.1 147.27,665.66 147.44,662.71 147.61,661.65 147.79,657.89 147.96,669.75 148.14,663.35 148.31,660.43 148.49,668 148.66,663.48 148.83,656.67 149.01,658.61 149.18,661.28 149.36,672.29 149.53,663.52 149.7,661.65 149.88,664.04 150.05,663.13 150.23,652.02 150.4,663.54 150.58,666.14 150.75,661.83 150.92,663.7 151.1,663.59 151.27,662.71 151.45,659.6 151.62,661.39 151.8,666.35 151.97,662.51 152.14,660.28 152.32,663.5 152.49,657.73 152.67,658.95 152.84,665.06 153.01,660.37 153.19,654.44 153.36,655.83 153.54,661.42 153.71,657.98 153.89,663.4 154.06,666.03 154.23,658.91 154.41,659.9 154.58,658.86 154.76,660.66 154.93,659.34 155.11,662.19 155.28,658.64 155.45,657.29 155.63,660.32 155.8,657.17 155.98,666.15 156.15,662.6 156.33,654.68 156.5,653.48 156.67,658.69 156.85,659.84 157.02,663.84 157.2,658.02 157.37,656.47 157.54,664.31 157.72,657.06 157.89,657.21 158.07,657.29 158.24,662.7 158.42,656.75 158.59,663.82 158.76,653.25 158.94,657.91 159.11,662.37 159.29,653.48 159.46,654.06 159.64,660.3 159.81,650.19 159.98,661.36 160.16,656.64 160.33,653.5 160.51,665.53 160.68,653.95 160.85,657.6 161.03,657.34 161.2,660.97 161.38,655.94 161.55,660.9 161.73,660.32 161.9,658.4" fill="none" stroke="#ec3338" stroke-width="0.6" stroke-linejoin="round"/>
<line x1="36.8" y1="609.4" x2="48.6" y2="609.4" stroke="#111" stroke-width="1.5"/>
<line x1="36.8" y1="616.7" x2="48.6" y2="616.7" stroke="#ec3338" stroke-width="1.5"/>
<text x="54.6" y="611.6" font-size="6.5" fill="#111">Chidamide-MYC-MAX</text>
<text x="54.6" y="619" font-size="6.5" fill="#111">Cytarabine–chidamide–MYC–MAX</text>
<text x="168.3" y="600.2" font-size="14">(L)</text>
<rect x="197.4" y="601.2" width="139.7" height="87.4" fill="none" stroke="#444" stroke-width="0.9"/>
<line x1="197.4" y1="688.9" x2="199.6" y2="688.9" stroke="#444" stroke-width="0.7"/>
<text x="195.6" y="690.2" font-size="3.8" text-anchor="end" font-weight="bold" font-family='"Liberation Serif", serif' fill="#222">200</text>
<line x1="197.4" y1="676.4" x2="199.6" y2="676.4" stroke="#444" stroke-width="0.7"/>
<text x="195.6" y="677.7" font-size="3.8" text-anchor="end" font-weight="bold" font-family='"Liberation Serif", serif' fill="#222">210</text>
<line x1="197.4" y1="663.9" x2="199.6" y2="663.9" stroke="#444" stroke-width="0.7"/>
<text x="195.6" y="665.2" font-size="3.8" text-anchor="end" font-weight="bold" font-family='"Liberation Serif", serif' fill="#222">220</text>
<line x1="197.4" y1="651.4" x2="199.6" y2="651.4" stroke="#444" stroke-width="0.7"/>
<text x="195.6" y="652.7" font-size="3.8" text-anchor="end" font-weight="bold" font-family='"Liberation Serif", serif' fill="#222">230</text>
<line x1="197.4" y1="638.9" x2="199.6" y2="638.9" stroke="#444" stroke-width="0.7"/>
<text x="195.6" y="640.2" font-size="3.8" text-anchor="end" font-weight="bold" font-family='"Liberation Serif", serif' fill="#222">240</text>
<line x1="197.4" y1="626.4" x2="199.6" y2="626.4" stroke="#444" stroke-width="0.7"/>
<text x="195.6" y="627.7" font-size="3.8" text-anchor="end" font-weight="bold" font-family='"Liberation Serif", serif' fill="#222">250</text>
<line x1="197.4" y1="613.9" x2="199.6" y2="613.9" stroke="#444" stroke-width="0.7"/>
<text x="195.6" y="615.2" font-size="3.8" text-anchor="end" font-weight="bold" font-family='"Liberation Serif", serif' fill="#222">260</text>
<line x1="197.4" y1="601.4" x2="199.6" y2="601.4" stroke="#444" stroke-width="0.7"/>
<text x="195.6" y="602.7" font-size="3.8" text-anchor="end" font-weight="bold" font-family='"Liberation Serif", serif' fill="#222">270</text>
<line x1="197.4" y1="682.65" x2="198.6" y2="682.65" stroke="#444" stroke-width="0.6"/>
<line x1="197.4" y1="670.15" x2="198.6" y2="670.15" stroke="#444" stroke-width="0.6"/>
<line x1="197.4" y1="657.65" x2="198.6" y2="657.65" stroke="#444" stroke-width="0.6"/>
<line x1="197.4" y1="645.15" x2="198.6" y2="645.15" stroke="#444" stroke-width="0.6"/>
<line x1="197.4" y1="632.65" x2="198.6" y2="632.65" stroke="#444" stroke-width="0.6"/>
<line x1="197.4" y1="620.15" x2="198.6" y2="620.15" stroke="#444" stroke-width="0.6"/>
<line x1="197.4" y1="607.65" x2="198.6" y2="607.65" stroke="#444" stroke-width="0.6"/>
<line x1="197.4" y1="688.6" x2="197.4" y2="686.4" stroke="#444" stroke-width="0.7"/>
<text x="197.4" y="694.2" font-size="3.8" text-anchor="middle" font-weight="bold" font-family='"Liberation Serif", serif' fill="#222">0</text>
<line x1="211.37" y1="688.6" x2="211.37" y2="687.4" stroke="#444" stroke-width="0.6"/>
<line x1="225.34" y1="688.6" x2="225.34" y2="686.4" stroke="#444" stroke-width="0.7"/>
<text x="225.34" y="694.2" font-size="3.8" text-anchor="middle" font-weight="bold" font-family='"Liberation Serif", serif' fill="#222">10</text>
<line x1="239.31" y1="688.6" x2="239.31" y2="687.4" stroke="#444" stroke-width="0.6"/>
<line x1="253.28" y1="688.6" x2="253.28" y2="686.4" stroke="#444" stroke-width="0.7"/>
<text x="253.28" y="694.2" font-size="3.8" text-anchor="middle" font-weight="bold" font-family='"Liberation Serif", serif' fill="#222">20</text>
<line x1="267.25" y1="688.6" x2="267.25" y2="687.4" stroke="#444" stroke-width="0.6"/>
<line x1="281.22" y1="688.6" x2="281.22" y2="686.4" stroke="#444" stroke-width="0.7"/>
<text x="281.22" y="694.2" font-size="3.8" text-anchor="middle" font-weight="bold" font-family='"Liberation Serif", serif' fill="#222">30</text>
<line x1="295.19" y1="688.6" x2="295.19" y2="687.4" stroke="#444" stroke-width="0.6"/>
<line x1="309.16" y1="688.6" x2="309.16" y2="686.4" stroke="#444" stroke-width="0.7"/>
<text x="309.16" y="694.2" font-size="3.8" text-anchor="middle" font-weight="bold" font-family='"Liberation Serif", serif' fill="#222">40</text>
<line x1="323.13" y1="688.6" x2="323.13" y2="687.4" stroke="#444" stroke-width="0.6"/>
<line x1="337.1" y1="688.6" x2="337.1" y2="686.4" stroke="#444" stroke-width="0.7"/>
<text x="337.1" y="694.2" font-size="3.8" text-anchor="middle" font-weight="bold" font-family='"Liberation Serif", serif' fill="#222">50</text>
<text x="267.25" y="700.6" font-size="5" text-anchor="middle" font-weight="bold" font-family='"Liberation Serif", serif' fill="#222">Time (ns)</text>
<text x="181.6" y="643" font-size="4.6" text-anchor="middle" font-weight="bold" font-family='"Liberation Serif", serif' fill="#222" transform="rotate(-90 181.6 643)">SASA (nm<tspan font-size="3" dy="-1.5">2</tspan><tspan dy="1.5">)</tspan></text>
<polyline points="197.4,652.25 197.57,641.26 197.75,651.65 197.92,649.01 198.1,646.88 198.27,645.19 198.45,641.75 198.62,641.16 198.8,644.87 198.97,644.69 199.15,642.63 199.32,639.19 199.5,639.17 199.67,643.29 199.85,648.88 200.02,632.93 200.2,637.2 200.37,639.59 200.55,639.1 200.72,642.14 200.9,643.74 201.07,641.04 201.25,640.43 201.42,641.75 201.6,644.67 201.77,640.18 201.95,636.65 202.12,640.48 202.3,638.34 202.47,645.99 202.65,638.81 202.82,638.3 202.99,642.25 203.17,644.15 203.34,636.13 203.52,640.73 203.69,635.87 203.87,639.29 204.04,635.39 204.22,639.01 204.39,643.4 204.57,638.09 204.74,639.01 204.92,635.33 205.09,639.5 205.27,639.29 205.44,634.61 205.62,633.47 205.79,635.01 205.97,633.98 206.14,636.18 206.32,635.01 206.49,634.62 206.67,636.41 206.84,637.7 207.02,637.42 207.19,628.95 207.37,637.93 207.54,638.88 207.72,639.37 207.89,638.14 208.07,637.11 208.24,642.28 208.42,645.48 208.59,636.96 208.76,644.1 208.94,637.12 209.11,637.58 209.29,633.8 209.46,631.87 209.64,636.77 209.81,640.24 209.99,642.58 210.16,641.15 210.34,638.05 210.51,645.97 210.69,637.94 210.86,638.28 211.04,635.83 211.21,639.52 211.39,637.89 211.56,641.02 211.74,639.99 211.91,644.88 212.09,637.76 212.26,632.4 212.44,637.59 212.61,636.81 212.79,641.85 212.96,632.79 213.14,641.02 213.31,635.12 213.49,637.71 213.66,641.7 213.84,634.24 214.01,638.02 214.18,637.39 214.36,636.36 214.53,638.12 214.71,639.45 214.88,636.26 215.06,639.52 215.23,637.74 215.41,640.48 215.58,643.55 215.76,640.47 215.93,639.79 216.11,637.87 216.28,633.47 216.46,644.23 216.63,637.4 216.81,646.16 216.98,641.78 217.16,639.74 217.33,646.28 217.51,644.78 217.68,637.23 217.86,637.5 218.03,638.2 218.21,640.78 218.38,629.67 218.56,638.34 218.73,640.96 218.91,631.42 219.08,635.4 219.26,639.08 219.43,633.2 219.61,637.07 219.78,635.24 219.95,636.79 220.13,641.55 220.3,634.07 220.48,637.13 220.65,641.54 220.83,640.63 221,634.21 221.18,639.19 221.35,637.66 221.53,635.39 221.7,637.39 221.88,643.61 222.05,635.52 222.23,634.41 222.4,634.7 222.58,631.9 222.75,636.62 222.93,635.09 223.1,632.06 223.28,639.13 223.45,631.55 223.63,631.58 223.8,635.17 223.98,631.22 224.15,634.95 224.33,641.46 224.5,633.92 224.68,636.98 224.85,636.67 225.03,637.66 225.2,633.16 225.37,636.21 225.55,640.91 225.72,636.5 225.9,635.6 226.07,641.08 226.25,640.01 226.42,639.83 226.6,640.69 226.77,637.13 226.95,634.64 227.12,631.38 227.3,634.01 227.47,634.68 227.65,634.25 227.82,633.55 228,639.98 228.17,635.99 228.35,637.4 228.52,639.12 228.7,640.36 228.87,640.56 229.05,639.69 229.22,643.34 229.4,636.77 229.57,638.83 229.75,638.37 229.92,637.52 230.1,636.09 230.27,641.05 230.45,639.24 230.62,644.9 230.8,647.21 230.97,646.18 231.14,633.14 231.32,645.75 231.49,637.13 231.67,633.36 231.84,640.62 232.02,632.79 232.19,631.97 232.37,635.35 232.54,630 232.72,636.56 232.89,641.63 233.07,636.93 233.24,640.55 233.42,643.77 233.59,643.67 233.77,630.21 233.94,640.91 234.12,638.97 234.29,641.36 234.47,638.36 234.64,639.76 234.82,640.4 234.99,643.41 235.17,644.16 235.34,641.65 235.52,637.76 235.69,631.07 235.87,634.9 236.04,632.01 236.22,637.03 236.39,639.17 236.56,643.81 236.74,638.83 236.91,646.88 237.09,639.96 237.26,632.73 237.44,637.6 237.61,634.6 237.79,640.26 237.96,643.99 238.14,640.62 238.31,640.31 238.49,634.3 238.66,631.41 238.84,641.6 239.01,640.16 239.19,639.36 239.36,640.14 239.54,643.54 239.71,638.58 239.89,637.62 240.06,637.59 240.24,643.61 240.41,639.56 240.59,645.71 240.76,635.81 240.94,643.11 241.11,640.37 241.29,641.07 241.46,641.63 241.64,643.46 241.81,646.17 241.99,633.09 242.16,638.68 242.33,638.7 242.51,631.87 242.68,640.17 242.86,637.77 243.03,639.82 243.21,635.5 243.38,638.12 243.56,638.87 243.73,641.06 243.91,639.11 244.08,635.84 244.26,648.05 244.43,640.79 244.61,641.93 244.78,641.54 244.96,647.87 245.13,637.77 245.31,643.74 245.48,641.47 245.66,642.56 245.83,646.99 246.01,642.45 246.18,647.73 246.36,644.41 246.53,642.11 246.71,641 246.88,640.83 247.06,641.6 247.23,633.12 247.41,639.56 247.58,645.82 247.75,643.56 247.93,643.71 248.1,641.89 248.28,643.47 248.45,644.4 248.63,634.99 248.8,640.99 248.98,642.4 249.15,642.06 249.33,641.9 249.5,635.85 249.68,639.26 249.85,636.82 250.03,652.71 250.2,639.77 250.38,637 250.55,633.55 250.73,640.82 250.9,647.35 251.08,638.68 251.25,643.12 251.43,647.57 251.6,643.15 251.78,636.85 251.95,636.28 252.13,638.07 252.3,644.68 252.48,631.29 252.65,645.1 252.83,640.98 253,646.09 253.18,635.71 253.35,638.96 253.52,637.3 253.7,640.3 253.87,640.89 254.05,639.98 254.22,647.71 254.4,636.9 254.57,637.2 254.75,642.1 254.92,640.67 255.1,639.5 255.27,634.74 255.45,639 255.62,640.46 255.8,642.53 255.97,646.26 256.15,642.85 256.32,640.35 256.5,641.56 256.67,640.33 256.85,637.82 257.02,638.98 257.2,639.58 257.37,638.15 257.55,639.91 257.72,640.72 257.9,638.84 258.07,647.08 258.25,635.91 258.42,645.44 258.6,637.46 258.77,640.55 258.94,636.44 259.12,640.46 259.29,644.14 259.47,636.57 259.64,639.9 259.82,640.15 259.99,640.29 260.17,636.83 260.34,637.52 260.52,639.72 260.69,646.4 260.87,642.1 261.04,640.19 261.22,633.85 261.39,639.14 261.57,640.92 261.74,636.12 261.92,641.08 262.09,640.83 262.27,640.19 262.44,646.45 262.62,637.3 262.79,639.36 262.97,642.07 263.14,645.35 263.32,640.32 263.49,635.93 263.67,643.65 263.84,645.28 264.02,639.78 264.19,647.4 264.37,649.8 264.54,643.2 264.71,644.18 264.89,642.69 265.06,643.77 265.24,640.52 265.41,642.65 265.59,644.13 265.76,643.65 265.94,639.63 266.11,638.46 266.29,638.72 266.46,639.56 266.64,654.6 266.81,646.04 266.99,643.52 267.16,641.63 267.34,648.5 267.51,637.12 267.69,641.32 267.86,644.8 268.04,641.87 268.21,643.8 268.39,645.36 268.56,640.63 268.74,644.24 268.91,647.84 269.09,644.94 269.26,643 269.44,646.64 269.61,637.87 269.79,646.7 269.96,636.03 270.13,639.28 270.31,646.18 270.48,642.17 270.66,638.24 270.83,643.4 271.01,647.17 271.18,642.29 271.36,635.26 271.53,648.32 271.71,640.66 271.88,642.72 272.06,643.21 272.23,644.24 272.41,643.99 272.58,638.91 272.76,640.57 272.93,646.56 273.11,636.99 273.28,647.71 273.46,640.37 273.63,642.18 273.81,638.39 273.98,641.56 274.16,638.94 274.33,643.01 274.51,639.28 274.68,641.65 274.86,634.89 275.03,645.57 275.21,638.5 275.38,641.25 275.56,642.34 275.73,645.1 275.9,641.24 276.08,648.38 276.25,647.93 276.43,640.06 276.6,648.51 276.78,637.23 276.95,643.59 277.13,641.56 277.3,642.15 277.48,640.8 277.65,643.36 277.83,643.64 278,642.67 278.18,638.2 278.35,637.83 278.53,637.24 278.7,640.59 278.88,642.66 279.05,648.14 279.23,639.37 279.4,638.57 279.58,643.18 279.75,638.58 279.93,636.72 280.1,641.14 280.28,637.47 280.45,640.22 280.63,647.82 280.8,643.03 280.98,642.73 281.15,639.15 281.32,644.35 281.5,642.76 281.67,644.72 281.85,641.26 282.02,640.85 282.2,637.46 282.37,638.12 282.55,640.49 282.72,640.21 282.9,640.7 283.07,640.69 283.25,635.31 283.42,650.43 283.6,641.77 283.77,639.94 283.95,636.87 284.12,645.21 284.3,639.81 284.47,637.88 284.65,642.78 284.82,648.27 285,642.46 285.17,645.61 285.35,638.67 285.52,644.3 285.7,634.43 285.87,640.58 286.05,644.13 286.22,643 286.4,645.21 286.57,639.65 286.75,635.52 286.92,641.92 287.09,637.64 287.27,644.64 287.44,639.96 287.62,632.47 287.79,646.38 287.97,636.49 288.14,636.71 288.32,648.16 288.49,646.49 288.67,644.77 288.84,637.48 289.02,642.72 289.19,641.74 289.37,638.46 289.54,640.67 289.72,640.29 289.89,642.38 290.07,637 290.24,644.17 290.42,635.01 290.59,642.6 290.77,644.37 290.94,638.99 291.12,639.76 291.29,648.92 291.47,640.7 291.64,646.64 291.82,644.72 291.99,638.7 292.17,644.93 292.34,640.4 292.51,643.2 292.69,634.57 292.86,642.22 293.04,646.3 293.21,646.08 293.39,645.37 293.56,641.54 293.74,642.07 293.91,638.47 294.09,641.52 294.26,641.7 294.44,641.01 294.61,642.75 294.79,641.21 294.96,639.41 295.14,639.45 295.31,644.47 295.49,649.1 295.66,645.54 295.84,641.49 296.01,651.92 296.19,644.42 296.36,640.99 296.54,644.83 296.71,646.95 296.89,636.22 297.06,637.64 297.24,643.84 297.41,637.96 297.59,638.09 297.76,647.24 297.94,632.99 298.11,646.55 298.28,644 298.46,647.09 298.63,642.67 298.81,647.87 298.98,642.94 299.16,638.83 299.33,642.06 299.51,643.83 299.68,637.02 299.86,646.15 300.03,639.14 300.21,643.87 300.38,641.91 300.56,642.57 300.73,642.19 300.91,642.84 301.08,645.55 301.26,644.73 301.43,640.92 301.61,642.95 301.78,646.89 301.96,645.15 302.13,645.08 302.31,642.66 302.48,641.76 302.66,642.07 302.83,644.84 303.01,642.3 303.18,647.47 303.36,653.13 303.53,642.5 303.7,648.47 303.88,645.8 304.05,646.75 304.23,639.85 304.4,646.72 304.58,641.12 304.75,643.97 304.93,646.75 305.1,648 305.28,640.34 305.45,640.6 305.63,639.13 305.8,635.14 305.98,640.97 306.15,640.91 306.33,642.4 306.5,641.54 306.68,643.26 306.85,645.3 307.03,634.47 307.2,648.94 307.38,641.01 307.55,640.3 307.73,641.4 307.9,645.57 308.08,642.69 308.25,643.7 308.43,646.01 308.6,642.16 308.78,643.52 308.95,644.06 309.13,639.44 309.3,645.97 309.47,640.35 309.65,644.3 309.82,640.41 310,641.76 310.17,641.12 310.35,645.69 310.52,644.93 310.7,645.24 310.87,641.38 311.05,639.24 311.22,637.99 311.4,643.91 311.57,641.72 311.75,648.1 311.92,650.35 312.1,645.29 312.27,644.54 312.45,647.87 312.62,648.71 312.8,640.06 312.97,645.07 313.15,648.36 313.32,633.38 313.5,641.43 313.67,643.27 313.85,639.54 314.02,644.93 314.2,636.15 314.37,647.85 314.55,646.98 314.72,642.61 314.89,644.97 315.07,636.85 315.24,648.14 315.42,644.89 315.59,641.29 315.77,640.09 315.94,638.46 316.12,640.94 316.29,634.01 316.47,644.03 316.64,641.62 316.82,639.09 316.99,643.49 317.17,643.42 317.34,644.08 317.52,644.76 317.69,646.59 317.87,644.46 318.04,648.19 318.22,641 318.39,648.39 318.57,634.74 318.74,636.12 318.92,638.36 319.09,643.29 319.27,644.71 319.44,637.96 319.62,641.87 319.79,640.47 319.97,645.27 320.14,638.61 320.32,645.6 320.49,642.22 320.66,649.1 320.84,645.1 321.01,640.8 321.19,644.37 321.36,644.37 321.54,639.76 321.71,643 321.89,638.1 322.06,651.78 322.24,640.65 322.41,640.89 322.59,648.57 322.76,647.66 322.94,639.55 323.11,646.83 323.29,645.2 323.46,640.57 323.64,644.03 323.81,640.99 323.99,645.99 324.16,641.62 324.34,638.67 324.51,641.48 324.69,650.87 324.86,640.22 325.04,642.42 325.21,646 325.39,637.39 325.56,649.09 325.74,635.56 325.91,644.9 326.08,636.64 326.26,642.67 326.43,647.45 326.61,642.11 326.78,641.2 326.96,640.4 327.13,638.44 327.31,645.73 327.48,640.53 327.66,639.6 327.83,643.34 328.01,645.8 328.18,645.86 328.36,639.47 328.53,639.27 328.71,645.33 328.88,647.05 329.06,637.23 329.23,647.46 329.41,640.87 329.58,644.27 329.76,647.62 329.93,640.41 330.11,641.39 330.28,635.11 330.46,631.81 330.63,640.8 330.81,636.07 330.98,635.8 331.16,641.46 331.33,642.55 331.51,633.11 331.68,640.55 331.85,639.36 332.03,640.43 332.2,639.92 332.38,641.75 332.55,636.78 332.73,634.97 332.9,641.13 333.08,644.96 333.25,639.7 333.43,645.52 333.6,642.43 333.78,635.53 333.95,631.54 334.13,638.88 334.3,644.33 334.48,637.53 334.65,648.9 334.83,643.19 335,634.99 335.18,637.97 335.35,645.98 335.53,647.11 335.7,637.79 335.88,641.24 336.05,643.36 336.23,639.68 336.4,643.44 336.58,648.55 336.75,638.44 336.93,643.95 337.1,645.35" fill="none" stroke="#3a3a3a" stroke-width="0.6" stroke-linejoin="round"/>
<polyline points="197.4,654.09 197.57,647.4 197.75,650.55 197.92,644.43 198.1,646.98 198.27,641.17 198.45,645.86 198.62,646.07 198.8,650.2 198.97,646.17 199.15,638.6 199.32,629.1 199.5,644.39 199.67,642.91 199.85,637.45 200.02,636.61 200.2,640.59 200.37,637.44 200.55,643.41 200.72,638.19 200.9,633.4 201.07,630.33 201.25,636.73 201.42,636.74 201.6,633.76 201.77,630.99 201.95,632.98 202.12,637.27 202.3,632.82 202.47,630.21 202.65,636.15 202.82,638.15 202.99,630.94 203.17,631.16 203.34,628.61 203.52,631.57 203.69,633.99 203.87,632.9 204.04,634.8 204.22,634.18 204.39,632.45 204.57,632.37 204.74,626.62 204.92,635.56 205.09,631.37 205.27,633.6 205.44,626.05 205.62,630.83 205.79,633.41 205.97,629.19 206.14,632.19 206.32,634.42 206.49,627.12 206.67,630.41 206.84,626.81 207.02,629.16 207.19,630.79 207.37,633.39 207.54,638.14 207.72,631.66 207.89,634.24 208.07,632.2 208.24,634.95 208.42,637.7 208.59,639.07 208.76,632.72 208.94,630.52 209.11,636.42 209.29,633.66 209.46,630.21 209.64,638.49 209.81,636.65 209.99,639.56 210.16,631.01 210.34,634.43 210.51,637.14 210.69,641.6 210.86,636.11 211.04,631.73 211.21,636.56 211.39,637.04 211.56,633.08 211.74,640.07 211.91,635.29 212.09,633.27 212.26,638.41 212.44,638.6 212.61,634.6 212.79,635.9 212.96,636.42 213.14,634.78 213.31,634.73 213.49,639.02 213.66,638.06 213.84,633.92 214.01,631.42 214.18,630.56 214.36,638.77 214.53,631.55 214.71,632.81 214.88,635.75 215.06,633.83 215.23,632.57 215.41,629.01 215.58,639.6 215.76,633.45 215.93,636.21 216.11,636.47 216.28,631.44 216.46,632.67 216.63,639.5 216.81,636.79 216.98,634.9 217.16,641.01 217.33,632.55 217.51,636.05 217.68,635.18 217.86,634.54 218.03,629.08 218.21,635.67 218.38,637.14 218.56,629.37 218.73,637.7 218.91,637.79 219.08,641.01 219.26,631.85 219.43,634.86 219.61,634.13 219.78,635.27 219.95,636.35 220.13,638.72 220.3,638.66 220.48,634.12 220.65,635.22 220.83,629.59 221,638.42 221.18,637.37 221.35,639.31 221.53,630.37 221.7,640.02 221.88,632.54 222.05,630.03 222.23,635.85 222.4,632.6 222.58,643.14 222.75,636.64 222.93,641.32 223.1,634.49 223.28,635.06 223.45,637.9 223.63,631.51 223.8,633.65 223.98,636.87 224.15,636.79 224.33,640.3 224.5,635.5 224.68,626.92 224.85,637.37 225.03,633.13 225.2,636.69 225.37,631.64 225.55,632.94 225.72,635.4 225.9,641.11 226.07,636.36 226.25,629.97 226.42,635.28 226.6,632.01 226.77,636.08 226.95,641.18 227.12,632.64 227.3,632.99 227.47,636.29 227.65,635.48 227.82,632.99 228,636.22 228.17,632.7 228.35,634.7 228.52,642.64 228.7,634.4 228.87,636.04 229.05,636.89 229.22,632.25 229.4,635.52 229.57,631.67 229.75,629.57 229.92,633.06 230.1,639.29 230.27,636.22 230.45,630.08 230.62,634.39 230.8,636.38 230.97,633.71 231.14,631.59 231.32,632.57 231.49,631.22 231.67,636.75 231.84,634.78 232.02,634.78 232.19,634 232.37,641.77 232.54,634.95 232.72,639.13 232.89,629.08 233.07,628.54 233.24,628.16 233.42,631.46 233.59,636.34 233.77,631.06 233.94,635.44 234.12,632.51 234.29,638.2 234.47,637.11 234.64,633.28 234.82,628.51 234.99,635.25 235.17,626.88 235.34,625.1 235.52,640.15 235.69,635.57 235.87,639.08 236.04,636.14 236.22,637.69 236.39,636.03 236.56,632.28 236.74,632.46 236.91,635.05 237.09,636.08 237.26,635.73 237.44,635.78 237.61,634.2 237.79,636.38 237.96,634.62 238.14,641.41 238.31,633.7 238.49,630.24 238.66,636.11 238.84,642.11 239.01,631.94 239.19,638.25 239.36,648.18 239.54,637.96 239.71,634.95 239.89,635.83 240.06,632.7 240.24,635.05 240.41,636.94 240.59,644.79 240.76,641.64 240.94,636.89 241.11,635.1 241.29,641.47 241.46,639.99 241.64,636.02 241.81,644.9 241.99,645.09 242.16,638.78 242.33,637.04 242.51,639.8 242.68,646.59 242.86,638.05 243.03,643.11 243.21,635.81 243.38,638.66 243.56,637.36 243.73,636.01 243.91,640.4 244.08,635.43 244.26,633.93 244.43,637.13 244.61,633.72 244.78,641.03 244.96,635.36 245.13,637.81 245.31,642.52 245.48,639.2 245.66,640.93 245.83,641.06 246.01,638.74 246.18,635.18 246.36,640.35 246.53,638.76 246.71,644.72 246.88,638.93 247.06,635.1 247.23,636.42 247.41,637.72 247.58,641.49 247.75,643.18 247.93,639.89 248.1,644.49 248.28,644.08 248.45,635.98 248.63,642.87 248.8,632.77 248.98,644.73 249.15,637.81 249.33,643.74 249.5,638.72 249.68,643.21 249.85,639.17 250.03,639.89 250.2,640.96 250.38,637.37 250.55,633.64 250.73,641.42 250.9,635.92 251.08,638.88 251.25,639.28 251.43,631.01 251.6,647.19 251.78,641.64 251.95,645.82 252.13,640.24 252.3,639.9 252.48,624.88 252.65,637.73 252.83,632.33 253,634.15 253.18,640.59 253.35,637.17 253.52,632.77 253.7,638.35 253.87,638.23 254.05,637.16 254.22,644.64 254.4,642.09 254.57,637.84 254.75,637.08 254.92,642.54 255.1,640.35 255.27,639.62 255.45,639.75 255.62,636.63 255.8,638.83 255.97,638.63 256.15,644.53 256.32,643.2 256.5,638.11 256.67,645.26 256.85,638.35 257.02,641.83 257.2,642.41 257.37,637 257.55,641.95 257.72,642.64 257.9,641.98 258.07,639.28 258.25,629.3 258.42,647.42 258.6,639.63 258.77,640.48 258.94,636.01 259.12,640.86 259.29,648.6 259.47,634.39 259.64,643.31 259.82,639.4 259.99,644.19 260.17,643.1 260.34,640.79 260.52,635.67 260.69,635.65 260.87,640.94 261.04,636.77 261.22,639.95 261.39,638.07 261.57,637.83 261.74,636.02 261.92,640.54 262.09,638.67 262.27,637.29 262.44,637.69 262.62,640.91 262.79,631.45 262.97,639.51 263.14,634.89 263.32,636.88 263.49,633.01 263.67,645.62 263.84,629.76 264.02,638.12 264.19,641.84 264.37,636.69 264.54,628.68 264.71,635.13 264.89,641.53 265.06,638.59 265.24,631.81 265.41,641.94 265.59,637.3 265.76,637.65 265.94,628.4 266.11,637.48 266.29,631.42 266.46,638.76 266.64,639.15 266.81,632.34 266.99,633.69 267.16,642.37 267.34,633.54 267.51,633.59 267.69,638.34 267.86,635.3 268.04,635.18 268.21,638.06 268.39,638.49 268.56,638.88 268.74,637.46 268.91,641.46 269.09,636.74 269.26,642.21 269.44,636.43 269.61,637.09 269.79,640.7 269.96,633.73 270.13,629.76 270.31,632.1 270.48,642.19 270.66,632.43 270.83,636.42 271.01,637.5 271.18,639.58 271.36,637.46 271.53,632.33 271.71,635.54 271.88,639.17 272.06,640.19 272.23,639.31 272.41,635.64 272.58,630.94 272.76,641.89 272.93,638.03 273.11,639.52 273.28,640.95 273.46,636.74 273.63,636.23 273.81,643.62 273.98,642.27 274.16,634.03 274.33,637.36 274.51,636.67 274.68,640.54 274.86,640.15 275.03,637.1 275.21,640.72 275.38,643.06 275.56,639 275.73,635.63 275.9,642.77 276.08,634.95 276.25,636.21 276.43,641.97 276.6,638.67 276.78,638.8 276.95,636.23 277.13,636.05 277.3,643.31 277.48,643.42 277.65,634.53 277.83,637.87 278,636.68 278.18,636.93 278.35,632.43 278.53,642.54 278.7,633.95 278.88,640.98 279.05,635.18 279.23,632.84 279.4,642.9 279.58,636.21 279.75,638.67 279.93,638.66 280.1,637.37 280.28,641.37 280.45,640.99 280.63,634.91 280.8,634.16 280.98,639.34 281.15,642.57 281.32,628.59 281.5,633.14 281.67,635.92 281.85,641.11 282.02,639.49 282.2,636.47 282.37,640.97 282.55,631.51 282.72,636.98 282.9,636.07 283.07,641.38 283.25,640.97 283.42,640.57 283.6,636.66 283.77,638.71 283.95,638.83 284.12,636.64 284.3,637.01 284.47,632.39 284.65,638.65 284.82,641.7 285,638.04 285.17,632.63 285.35,640.12 285.52,637.93 285.7,639.48 285.87,636.7 286.05,637.28 286.22,641.26 286.4,639.15 286.57,634.87 286.75,634.34 286.92,635.02 287.09,635.28 287.27,639.73 287.44,639.89 287.62,635.15 287.79,642.95 287.97,638.87 288.14,645.55 288.32,640.14 288.49,641.38 288.67,643.26 288.84,636.72 289.02,641.6 289.19,640.29 289.37,639.92 289.54,641.72 289.72,633.72 289.89,640.68 290.07,638.04 290.24,643.48 290.42,640.31 290.59,639.66 290.77,639.5 290.94,640.43 291.12,637.65 291.29,632.34 291.47,638.47 291.64,638.39 291.82,639.22 291.99,628.34 292.17,631.65 292.34,635.44 292.51,634.8 292.69,639.91 292.86,637.76 293.04,636.32 293.21,636.56 293.39,640.05 293.56,639.67 293.74,634.81 293.91,635.46 294.09,644.27 294.26,636.07 294.44,631.63 294.61,638.59 294.79,635.23 294.96,641.37 295.14,632.86 295.31,640.03 295.49,640.58 295.66,637.2 295.84,627.37 296.01,638.38 296.19,640.83 296.36,634.54 296.54,635.45 296.71,630.25 296.89,641.06 297.06,642.31 297.24,637.66 297.41,635.16 297.59,635.29 297.76,632.67 297.94,642.2 298.11,639.79 298.28,637.3 298.46,633.78 298.63,635.17 298.81,638.52 298.98,640.77 299.16,633.83 299.33,633.63 299.51,627.2 299.68,637.88 299.86,631.31 300.03,641.78 300.21,639.38 300.38,639.92 300.56,639.19 300.73,640.76 300.91,639.59 301.08,637.84 301.26,639.35 301.43,635.32 301.61,638.11 301.78,637.86 301.96,632.49 302.13,636.8 302.31,637.44 302.48,638.13 302.66,637.88 302.83,636.06 303.01,641.16 303.18,634.06 303.36,632.55 303.53,634.13 303.7,640.18 303.88,644.22 304.05,639.96 304.23,637.78 304.4,635.3 304.58,639 304.75,639.43 304.93,632.72 305.1,640.76 305.28,634.37 305.45,634.95 305.63,643.16 305.8,637.24 305.98,640.3 306.15,641.72 306.33,645.03 306.5,643.98 306.68,636.69 306.85,639.63 307.03,637.19 307.2,642.09 307.38,639.35 307.55,639.16 307.73,643.83 307.9,644.25 308.08,636.51 308.25,637.58 308.43,641.54 308.6,638.48 308.78,635.66 308.95,631.36 309.13,641.33 309.3,635.8 309.47,630.27 309.65,637.8 309.82,632.64 310,647.53 310.17,632.69 310.35,638.04 310.52,644.89 310.7,635.12 310.87,634.12 311.05,633.53 311.22,633.55 311.4,638.06 311.57,640.69 311.75,639.62 311.92,638.05 312.1,636.42 312.27,639.67 312.45,637.71 312.62,634.65 312.8,636.67 312.97,629.42 313.15,629.92 313.32,642.06 313.5,639.92 313.67,642.63 313.85,642.09 314.02,635.79 314.2,641.44 314.37,641.63 314.55,638.76 314.72,634.81 314.89,639.1 315.07,639.15 315.24,634.49 315.42,636.17 315.59,636.27 315.77,634.5 315.94,641.75 316.12,637.27 316.29,640.44 316.47,634.36 316.64,635.18 316.82,642.07 316.99,633.33 317.17,642.61 317.34,634.03 317.52,637.62 317.69,641.63 317.87,642.58 318.04,639.62 318.22,638.62 318.39,641.19 318.57,636.54 318.74,643.82 318.92,638.72 319.09,638.73 319.27,645.67 319.44,637.67 319.62,643.51 319.79,648.1 319.97,641.19 320.14,639.81 320.32,635.67 320.49,640.84 320.66,633.65 320.84,633.81 321.01,635.13 321.19,634.32 321.36,637.95 321.54,641.34 321.71,636.93 321.89,635.79 322.06,638.52 322.24,640.34 322.41,645.27 322.59,637.02 322.76,638.26 322.94,644.41 323.11,639.27 323.29,636.96 323.46,640.02 323.64,636.7 323.81,636.8 323.99,645.03 324.16,640.68 324.34,637.76 324.51,636.15 324.69,634.31 324.86,646.6 325.04,639.74 325.21,636.84 325.39,634.94 325.56,633.21 325.74,642.9 325.91,640.81 326.08,643.32 326.26,636.38 326.43,644.29 326.61,635 326.78,635.9 326.96,637.55 327.13,647.38 327.31,641.84 327.48,636.54 327.66,644.55 327.83,640.18 328.01,639.66 328.18,635.97 328.36,638.2 328.53,638.22 328.71,640.85 328.88,639.19 329.06,639.7 329.23,636.49 329.41,639.84 329.58,635.33 329.76,645.44 329.93,634.69 330.11,639.75 330.28,634.93 330.46,638.79 330.63,635.92 330.81,633.54 330.98,641.11 331.16,638.75 331.33,639.66 331.51,638.25 331.68,644.98 331.85,639.58 332.03,639.83 332.2,641.78 332.38,639.55 332.55,644.5 332.73,633.57 332.9,637.05 333.08,631.69 333.25,641.87 333.43,642.92 333.6,637.51 333.78,644.7 333.95,637.64 334.13,641.04 334.3,639.64 334.48,637.42 334.65,638.15 334.83,631.39 335,635.9 335.18,642.99 335.35,634.54 335.53,643.09 335.7,637.77 335.88,642.67 336.05,641.08 336.23,633.11 336.4,640 336.58,640.29 336.75,639.94 336.93,638.98 337.1,632.44" fill="none" stroke="#ec3338" stroke-width="0.6" stroke-linejoin="round"/>
<text x="344.6" y="601" font-size="14">(M)</text>
<rect x="375.7" y="601" width="139.6" height="87.6" fill="none" stroke="#444" stroke-width="0.9"/>
<line x1="375.7" y1="679" x2="377.9" y2="679" stroke="#444" stroke-width="0.7"/>
<text x="373.9" y="680.3" font-size="3.8" text-anchor="end" font-weight="bold" font-family='"Liberation Serif", serif' fill="#222">2.8</text>
<line x1="375.7" y1="659.5" x2="377.9" y2="659.5" stroke="#444" stroke-width="0.7"/>
<text x="373.9" y="660.8" font-size="3.8" text-anchor="end" font-weight="bold" font-family='"Liberation Serif", serif' fill="#222">3.0</text>
<line x1="375.7" y1="640" x2="377.9" y2="640" stroke="#444" stroke-width="0.7"/>
<text x="373.9" y="641.3" font-size="3.8" text-anchor="end" font-weight="bold" font-family='"Liberation Serif", serif' fill="#222">3.2</text>
<line x1="375.7" y1="620.5" x2="377.9" y2="620.5" stroke="#444" stroke-width="0.7"/>
<text x="373.9" y="621.8" font-size="3.8" text-anchor="end" font-weight="bold" font-family='"Liberation Serif", serif' fill="#222">3.4</text>
<line x1="375.7" y1="601" x2="377.9" y2="601" stroke="#444" stroke-width="0.7"/>
<text x="373.9" y="602.3" font-size="3.8" text-anchor="end" font-weight="bold" font-family='"Liberation Serif", serif' fill="#222">3.6</text>
<line x1="375.7" y1="688.75" x2="376.9" y2="688.75" stroke="#444" stroke-width="0.6"/>
<line x1="375.7" y1="669.25" x2="376.9" y2="669.25" stroke="#444" stroke-width="0.6"/>
<line x1="375.7" y1="649.75" x2="376.9" y2="649.75" stroke="#444" stroke-width="0.6"/>
<line x1="375.7" y1="630.25" x2="376.9" y2="630.25" stroke="#444" stroke-width="0.6"/>
<line x1="375.7" y1="610.75" x2="376.9" y2="610.75" stroke="#444" stroke-width="0.6"/>
<line x1="375.7" y1="688.6" x2="375.7" y2="686.4" stroke="#444" stroke-width="0.7"/>
<text x="375.7" y="694.2" font-size="3.8" text-anchor="middle" font-weight="bold" font-family='"Liberation Serif", serif' fill="#222">0</text>
<line x1="389.66" y1="688.6" x2="389.66" y2="687.4" stroke="#444" stroke-width="0.6"/>
<line x1="403.62" y1="688.6" x2="403.62" y2="686.4" stroke="#444" stroke-width="0.7"/>
<text x="403.62" y="694.2" font-size="3.8" text-anchor="middle" font-weight="bold" font-family='"Liberation Serif", serif' fill="#222">10</text>
<line x1="417.58" y1="688.6" x2="417.58" y2="687.4" stroke="#444" stroke-width="0.6"/>
<line x1="431.54" y1="688.6" x2="431.54" y2="686.4" stroke="#444" stroke-width="0.7"/>
<text x="431.54" y="694.2" font-size="3.8" text-anchor="middle" font-weight="bold" font-family='"Liberation Serif", serif' fill="#222">20</text>
<line x1="445.5" y1="688.6" x2="445.5" y2="687.4" stroke="#444" stroke-width="0.6"/>
<line x1="459.46" y1="688.6" x2="459.46" y2="686.4" stroke="#444" stroke-width="0.7"/>
<text x="459.46" y="694.2" font-size="3.8" text-anchor="middle" font-weight="bold" font-family='"Liberation Serif", serif' fill="#222">30</text>
<line x1="473.42" y1="688.6" x2="473.42" y2="687.4" stroke="#444" stroke-width="0.6"/>
<line x1="487.38" y1="688.6" x2="487.38" y2="686.4" stroke="#444" stroke-width="0.7"/>
<text x="487.38" y="694.2" font-size="3.8" text-anchor="middle" font-weight="bold" font-family='"Liberation Serif", serif' fill="#222">40</text>
<line x1="501.34" y1="688.6" x2="501.34" y2="687.4" stroke="#444" stroke-width="0.6"/>
<line x1="515.3" y1="688.6" x2="515.3" y2="686.4" stroke="#444" stroke-width="0.7"/>
<text x="515.3" y="694.2" font-size="3.8" text-anchor="middle" font-weight="bold" font-family='"Liberation Serif", serif' fill="#222">50</text>
<text x="445.5" y="700.6" font-size="5" text-anchor="middle" font-weight="bold" font-family='"Liberation Serif", serif' fill="#222">Time (ns)</text>
<text x="358.6" y="644.4" font-size="4.6" text-anchor="middle" font-weight="bold" font-family='"Liberation Serif", serif' fill="#222" transform="rotate(-90 358.6 644.4)">Rg (nm)</text>
<polyline points="375.7,646.05 375.87,646.34 376.05,640.3 376.22,647.73 376.4,643.68 376.57,638.72 376.75,642.63 376.92,644.34 377.1,645.21 377.27,646 377.45,644.99 377.62,642.64 377.8,638.99 377.97,640.02 378.15,645.28 378.32,645.93 378.5,641.22 378.67,649.78 378.84,645.23 379.02,644.94 379.19,647.68 379.37,647.38 379.54,642.95 379.72,649.8 379.89,647.4 380.07,646.59 380.24,644.23 380.42,649.22 380.59,641.03 380.77,645.83 380.94,645.76 381.12,646.2 381.29,647.34 381.47,648.48 381.64,641.41 381.82,644.7 381.99,645.86 382.16,642.24 382.34,648.09 382.51,643.68 382.69,645.83 382.86,649.01 383.04,643.56 383.21,651.25 383.39,644.13 383.56,649.4 383.74,645.16 383.91,641.99 384.09,644.83 384.26,648.87 384.44,647.05 384.61,648.29 384.79,651.1 384.96,650.98 385.13,647.22 385.31,645.67 385.48,653.51 385.66,647.92 385.83,646.08 386.01,647.52 386.18,651.36 386.36,644.62 386.53,652.29 386.71,646.13 386.88,643.04 387.06,655.37 387.23,647.76 387.41,647.67 387.58,648.07 387.76,651.51 387.93,650.08 388.11,653.83 388.28,648.8 388.45,647.55 388.63,651.68 388.8,652.66 388.98,651.24 389.15,649.79 389.33,649.66 389.5,650.32 389.68,649.85 389.85,654.66 390.03,659.6 390.2,648.57 390.38,646.05 390.55,655.75 390.73,653.42 390.9,650.37 391.08,648.36 391.25,649.57 391.42,647.64 391.6,652.29 391.77,650.9 391.95,651.1 392.12,654.1 392.3,648.82 392.47,650.91 392.65,649.63 392.82,654.12 393,649.27 393.17,656.15 393.35,651.22 393.52,661.19 393.7,655.73 393.87,649.8 394.05,653.68 394.22,651.5 394.39,657.42 394.57,646.73 394.74,649.82 394.92,651.81 395.09,650.24 395.27,650.44 395.44,646.72 395.62,650.64 395.79,656.18 395.97,652.03 396.14,646.79 396.32,649.09 396.49,652.3 396.67,648.77 396.84,650.33 397.02,648.59 397.19,655.83 397.37,653.44 397.54,648.13 397.71,651 397.89,648.99 398.06,643.54 398.24,651.06 398.41,649.15 398.59,651.76 398.76,651.92 398.94,650.02 399.11,654.56 399.29,656.67 399.46,645.04 399.64,649.88 399.81,645.72 399.99,649 400.16,648.85 400.34,647.05 400.51,646.83 400.68,653.18 400.86,645.07 401.03,652.28 401.21,648.3 401.38,640.4 401.56,648.59 401.73,643.24 401.91,649.89 402.08,646.63 402.26,648.44 402.43,647.16 402.61,651.34 402.78,651.49 402.96,647.25 403.13,653.52 403.31,651.06 403.48,646.05 403.65,650.2 403.83,651.15 404,651.92 404.18,647.78 404.35,649.52 404.53,647.85 404.7,649.01 404.88,642.26 405.05,649.92 405.23,655.03 405.4,648.16 405.58,648.58 405.75,648.11 405.93,654.02 406.1,644.94 406.28,648.86 406.45,648.94 406.63,654.1 406.8,647.3 406.97,649.13 407.15,644.46 407.32,650.38 407.5,653.15 407.67,648.65 407.85,652.16 408.02,647.78 408.2,652.8 408.37,649.67 408.55,650.03 408.72,649.44 408.9,651.07 409.07,652.1 409.25,649.64 409.42,651.41 409.6,649.02 409.77,650.47 409.94,657.06 410.12,649.85 410.29,645.08 410.47,648.72 410.64,647.78 410.82,648.3 410.99,651.41 411.17,654.31 411.34,647.25 411.52,646.48 411.69,648.14 411.87,648.65 412.04,648.79 412.22,650.25 412.39,649.32 412.57,650.24 412.74,649.27 412.92,653.53 413.09,652.54 413.26,648.65 413.44,651.7 413.61,658.63 413.79,650.3 413.96,658.3 414.14,644.53 414.31,648.52 414.49,648.74 414.66,653.2 414.84,654.78 415.01,651.83 415.19,651.12 415.36,653.78 415.54,650.79 415.71,649.11 415.89,649.46 416.06,654.9 416.23,658.65 416.41,651.6 416.58,653.83 416.76,650.26 416.93,646.41 417.11,646.47 417.28,650.97 417.46,648.34 417.63,646.63 417.81,651.88 417.98,651.16 418.16,649.28 418.33,652.21 418.51,653.74 418.68,654.58 418.86,652.12 419.03,654.19 419.2,649.57 419.38,653.29 419.55,647.44 419.73,648.28 419.9,656.3 420.08,648.75 420.25,653.61 420.43,647.84 420.6,650.65 420.78,652.5 420.95,650.17 421.13,654.2 421.3,651.33 421.48,651.16 421.65,652.92 421.83,651.19 422,655.73 422.18,650.68 422.35,656.45 422.52,650.5 422.7,651.01 422.87,650.26 423.05,654.39 423.22,642.73 423.4,653.35 423.57,652.14 423.75,655.1 423.92,648.02 424.1,654.21 424.27,649.47 424.45,655.78 424.62,651.73 424.8,653.96 424.97,649.75 425.15,653.73 425.32,655.6 425.49,651.36 425.67,656.71 425.84,655.96 426.02,650.39 426.19,658.97 426.37,650.47 426.54,654.26 426.72,655.95 426.89,652.23 427.07,651 427.24,654.96 427.42,653.67 427.59,650.54 427.77,650.72 427.94,653.35 428.12,655.7 428.29,656.3 428.46,655.19 428.64,651.1 428.81,651.46 428.99,652.37 429.16,648.88 429.34,654.37 429.51,654.66 429.69,654.7 429.86,647.32 430.04,660.15 430.21,652.61 430.39,652.13 430.56,653.4 430.74,646.1 430.91,649.88 431.09,651.2 431.26,656.6 431.44,652.13 431.61,654.93 431.78,653.55 431.96,653 432.13,655.16 432.31,651.53 432.48,648.27 432.66,650.14 432.83,652.74 433.01,659.6 433.18,649.85 433.36,649.84 433.53,653.88 433.71,654.75 433.88,651.05 434.06,655.73 434.23,650.53 434.41,656.51 434.58,655.96 434.75,652.9 434.93,657.59 435.1,652.86 435.28,651.12 435.45,657.01 435.63,649.77 435.8,654.5 435.98,650.9 436.15,651.93 436.33,654.04 436.5,654.21 436.68,657.96 436.85,654.68 437.03,654.88 437.2,647.1 437.38,649.06 437.55,656.67 437.73,649.67 437.9,651.49 438.07,653.37 438.25,650.63 438.42,649.54 438.6,653.85 438.77,652.87 438.95,651.42 439.12,655.06 439.3,651.27 439.47,652.08 439.65,653.96 439.82,654.43 440,650.75 440.17,648.95 440.35,650.71 440.52,654.52 440.7,649.41 440.87,651.28 441.04,649.95 441.22,648.15 441.39,654.77 441.57,652.35 441.74,653.83 441.92,654.74 442.09,645.56 442.27,648.99 442.44,657.65 442.62,650.66 442.79,653.82 442.97,648.4 443.14,651.82 443.32,652.66 443.49,651.67 443.67,650.92 443.84,652.07 444.01,652.88 444.19,652.64 444.36,650.59 444.54,655.84 444.71,652.27 444.89,652.67 445.06,653.85 445.24,649.97 445.41,656.46 445.59,653.53 445.76,655.1 445.94,650.67 446.11,653.92 446.29,652.29 446.46,651.24 446.64,657.58 446.81,651.06 446.99,654.91 447.16,653.36 447.33,652.92 447.51,650.01 447.68,650.25 447.86,647 448.03,652.08 448.21,654.19 448.38,654.29 448.56,650.64 448.73,647.64 448.91,651.7 449.08,654.65 449.26,651.97 449.43,652.06 449.61,652.8 449.78,655.3 449.96,661.06 450.13,654.71 450.3,649.67 450.48,652.38 450.65,660.13 450.83,653.1 451,659.04 451.18,646.84 451.35,652.6 451.53,657.07 451.7,650.73 451.88,655.79 452.05,651.54 452.23,653.29 452.4,657.15 452.58,651.3 452.75,657.72 452.93,649.21 453.1,653.32 453.27,656.82 453.45,659.35 453.62,648.46 453.8,649.01 453.97,657.71 454.15,648.55 454.32,653.35 454.5,654.68 454.67,654.34 454.85,655.01 455.02,649.69 455.2,653.86 455.37,660.31 455.55,647.85 455.72,651.81 455.9,658.18 456.07,655.94 456.25,657.77 456.42,654.83 456.59,653.82 456.77,654.41 456.94,657.16 457.12,657.9 457.29,652.74 457.47,655.85 457.64,648.45 457.82,658.29 457.99,653.29 458.17,655.74 458.34,658.41 458.52,651.74 458.69,655.78 458.87,659.11 459.04,657.37 459.22,653.2 459.39,660.44 459.56,652.16 459.74,654.34 459.91,657.38 460.09,652.14 460.26,650.86 460.44,654.49 460.61,655.83 460.79,650.45 460.96,651.54 461.14,659.24 461.31,656.91 461.49,656.91 461.66,657.5 461.84,660.94 462.01,653.25 462.19,655.83 462.36,655.75 462.54,651.54 462.71,657.81 462.88,656.16 463.06,655.07 463.23,657.3 463.41,656.24 463.58,653.4 463.76,655.85 463.93,651.53 464.11,658.17 464.28,655.09 464.46,660.27 464.63,656.05 464.81,657.89 464.98,651.25 465.16,653.2 465.33,653.94 465.51,649.63 465.68,650.9 465.85,653.2 466.03,657.7 466.2,660.1 466.38,655.54 466.55,656.57 466.73,657.48 466.9,656.32 467.08,660.68 467.25,650.55 467.43,658.99 467.6,657.46 467.78,653.45 467.95,660.49 468.13,652.28 468.3,652.2 468.48,656.21 468.65,658.65 468.82,656.68 469,661.1 469.17,650.65 469.35,654.92 469.52,657.45 469.7,657.98 469.87,653.19 470.05,650.17 470.22,659.1 470.4,656.83 470.57,660.63 470.75,652.76 470.92,654.41 471.1,647.61 471.27,655.27 471.45,656.26 471.62,657.12 471.8,652.06 471.97,660.05 472.14,652.35 472.32,653.96 472.49,656.37 472.67,657.63 472.84,651.29 473.02,648.66 473.19,656.09 473.37,652.92 473.54,648.95 473.72,656.53 473.89,655.27 474.07,658.35 474.24,654.82 474.42,654.54 474.59,655.57 474.77,656.55 474.94,659.22 475.11,658.39 475.29,657.14 475.46,651.83 475.64,655.5 475.81,656.55 475.99,651.6 476.16,651.84 476.34,656.05 476.51,655.58 476.69,651.34 476.86,652.24 477.04,656.07 477.21,652.52 477.39,653.34 477.56,649.56 477.74,655.94 477.91,650.19 478.08,651.59 478.26,656.21 478.43,649.45 478.61,649.86 478.78,657.04 478.96,646.25 479.13,656.36 479.31,655.56 479.48,653.56 479.66,649.94 479.83,650.49 480.01,652.63 480.18,647.81 480.36,650.88 480.53,647.59 480.71,642.89 480.88,651.39 481.06,660.36 481.23,653.38 481.4,655.35 481.58,651.47 481.75,651.4 481.93,655.64 482.1,655.31 482.28,652.31 482.45,652 482.63,659.8 482.8,647.98 482.98,650.98 483.15,651.02 483.33,649.92 483.5,654.17 483.68,650.88 483.85,647.21 484.03,646.99 484.2,648.92 484.37,651.27 484.55,652.97 484.72,645.81 484.9,648.34 485.07,651.38 485.25,657.06 485.42,652.68 485.6,656.09 485.77,645.49 485.95,648.9 486.12,651.9 486.3,650.26 486.47,640.63 486.65,645.12 486.82,653.53 487,649.41 487.17,652.98 487.35,654.53 487.52,648.27 487.69,640.89 487.87,643.83 488.04,648.98 488.22,650.47 488.39,648.63 488.57,645.94 488.74,654.37 488.92,655.83 489.09,643.38 489.27,648.83 489.44,644.48 489.62,649.15 489.79,645.09 489.97,652.18 490.14,648.55 490.32,645.1 490.49,646.98 490.66,652.04 490.84,647.58 491.01,652.91 491.19,655.57 491.36,649.1 491.54,646.24 491.71,648.18 491.89,655.38 492.06,648.3 492.24,649.03 492.41,652.96 492.59,659.89 492.76,648.17 492.94,648.69 493.11,650.04 493.29,657.59 493.46,656.79 493.63,648.36 493.81,649.08 493.98,650.15 494.16,652.67 494.33,650.53 494.51,653.71 494.68,652.96 494.86,654.86 495.03,651.07 495.21,653.38 495.38,648.75 495.56,649.56 495.73,654.78 495.91,645.81 496.08,655.87 496.26,650.56 496.43,648.43 496.61,647.77 496.78,659.64 496.95,648.76 497.13,648.04 497.3,647.31 497.48,659.79 497.65,654.55 497.83,652.6 498,653.8 498.18,647.74 498.35,654.64 498.53,648.16 498.7,650.46 498.88,657.34 499.05,655.79 499.23,654.03 499.4,652.12 499.58,649.08 499.75,653.11 499.92,649.41 500.1,657.9 500.27,662.95 500.45,653.72 500.62,651.03 500.8,653.84 500.97,656.08 501.15,651.21 501.32,646.08 501.5,653.06 501.67,655.23 501.85,655.68 502.02,646.12 502.2,653.01 502.37,650.83 502.55,648.79 502.72,649.32 502.89,656.18 503.07,649.82 503.24,650.24 503.42,651.49 503.59,649.75 503.77,655.16 503.94,653.53 504.12,655.11 504.29,650.77 504.47,655.63 504.64,652.1 504.82,657.22 504.99,653.94 505.17,654.8 505.34,654 505.52,653.19 505.69,654.32 505.87,654.48 506.04,660.83 506.21,650.04 506.39,655.98 506.56,654.73 506.74,656.76 506.91,650.56 507.09,657.1 507.26,652.33 507.44,650.07 507.61,648.52 507.79,650.12 507.96,652.1 508.14,658.34 508.31,649.89 508.49,650.28 508.66,651.52 508.84,651.68 509.01,654.19 509.18,656.25 509.36,650.84 509.53,650.23 509.71,658.15 509.88,651.46 510.06,653.71 510.23,651.49 510.41,653.54 510.58,650.66 510.76,650.92 510.93,651.36 511.11,659.04 511.28,651.51 511.46,654.11 511.63,658.08 511.81,651.81 511.98,658.83 512.16,651.11 512.33,648.36 512.5,655.79 512.68,650.93 512.85,652.49 513.03,651.78 513.2,658.54 513.38,651.85 513.55,653.44 513.73,651.35 513.9,653.79 514.08,650.08 514.25,652.83 514.43,651.42 514.6,649.06 514.78,653.04 514.95,650.26 515.13,652.83 515.3,651.8" fill="none" stroke="#3a3a3a" stroke-width="0.6" stroke-linejoin="round"/>
<polyline points="375.7,641.69 375.87,637.25 376.05,635.68 376.22,640.06 376.4,637.06 376.57,638.25 376.75,643.38 376.92,638.42 377.1,635.12 377.27,641.17 377.45,645.49 377.62,638.76 377.8,641.57 377.97,632.97 378.15,639.46 378.32,639.29 378.5,641.35 378.67,638.36 378.84,641.05 379.02,642.14 379.19,639.28 379.37,641.75 379.54,634.56 379.72,642.86 379.89,639.15 380.07,641.18 380.24,643.45 380.42,633.21 380.59,645.79 380.77,633.83 380.94,643.39 381.12,638.32 381.29,631 381.47,645.67 381.64,643.09 381.82,634.06 381.99,637.84 382.16,640.2 382.34,638.44 382.51,641.52 382.69,637.84 382.86,633.21 383.04,639.45 383.21,637.66 383.39,634.06 383.56,631.4 383.74,639.98 383.91,636.96 384.09,639.82 384.26,640.17 384.44,639.44 384.61,640.29 384.79,644.05 384.96,645 385.13,640.87 385.31,638.06 385.48,634.52 385.66,640.44 385.83,639.31 386.01,636.62 386.18,636.44 386.36,639.38 386.53,639.25 386.71,632.89 386.88,640.35 387.06,640.95 387.23,644.83 387.41,638.03 387.58,640.44 387.76,633.26 387.93,640.84 388.11,637.09 388.28,636.77 388.45,634.46 388.63,644.43 388.8,634.9 388.98,640.17 389.15,640.64 389.33,641.41 389.5,641.78 389.68,641.69 389.85,648.41 390.03,639 390.2,640.57 390.38,644.04 390.55,641.16 390.73,633.35 390.9,639.84 391.08,642.48 391.25,635.56 391.42,644.01 391.6,641.95 391.77,643.36 391.95,642.39 392.12,639.24 392.3,639.82 392.47,644.26 392.65,642.2 392.82,641.42 393,643 393.17,641.7 393.35,643.92 393.52,643.91 393.7,641.25 393.87,644.78 394.05,639.89 394.22,641.87 394.39,644.23 394.57,643.14 394.74,642.63 394.92,641.51 395.09,640.54 395.27,641.55 395.44,643.68 395.62,635.98 395.79,637.67 395.97,640.25 396.14,637.4 396.32,639.41 396.49,641.29 396.67,640.09 396.84,631.47 397.02,636.96 397.19,636.74 397.37,641.44 397.54,638.08 397.71,632.52 397.89,638.53 398.06,636.33 398.24,635.66 398.41,637.63 398.59,634.49 398.76,638.88 398.94,637.94 399.11,641.6 399.29,630.72 399.46,638.39 399.64,638.97 399.81,634.68 399.99,640.83 400.16,639.18 400.34,641.69 400.51,638.97 400.68,640.26 400.86,637.14 401.03,639.4 401.21,641 401.38,640.03 401.56,639.49 401.73,640.83 401.91,636.08 402.08,637 402.26,638.78 402.43,643.23 402.61,637.64 402.78,643.61 402.96,638.82 403.13,639.31 403.31,641.45 403.48,642.29 403.65,641.88 403.83,632.86 404,640.55 404.18,640.4 404.35,636.59 404.53,638.41 404.7,636.35 404.88,643.92 405.05,643.51 405.23,628.98 405.4,640.14 405.58,640.99 405.75,639.55 405.93,636.85 406.1,644.08 406.28,639.27 406.45,640.34 406.63,638.07 406.8,639.75 406.97,642.11 407.15,643.26 407.32,648.46 407.5,637.27 407.67,645.36 407.85,641.9 408.02,635.14 408.2,642.03 408.37,638.68 408.55,641.43 408.72,638.48 408.9,640.72 409.07,642.53 409.25,636.45 409.42,641.78 409.6,645.33 409.77,642.03 409.94,639.2 410.12,644.65 410.29,638.43 410.47,638.52 410.64,634.09 410.82,643.18 410.99,638.92 411.17,646.59 411.34,642.51 411.52,640.81 411.69,639.84 411.87,641.38 412.04,641.52 412.22,643.25 412.39,642.72 412.57,640.28 412.74,639.47 412.92,639.22 413.09,638.08 413.26,637.46 413.44,647.29 413.61,643.11 413.79,641.95 413.96,643.55 414.14,638.03 414.31,639.03 414.49,641.85 414.66,641.13 414.84,637.4 415.01,642.7 415.19,642.61 415.36,638.64 415.54,640.09 415.71,637 415.89,640.46 416.06,639.24 416.23,643.49 416.41,644.8 416.58,641.78 416.76,650.45 416.93,640.45 417.11,638.63 417.28,641.58 417.46,642.57 417.63,638.31 417.81,642 417.98,638.66 418.16,634.69 418.33,639.5 418.51,638.79 418.68,640.25 418.86,641.04 419.03,640.96 419.2,641.64 419.38,638.32 419.55,647.13 419.73,642.73 419.9,639.71 420.08,644.62 420.25,642.2 420.43,644.13 420.6,640.42 420.78,639.04 420.95,637.12 421.13,640.22 421.3,644.21 421.48,641.04 421.65,640 421.83,637.26 422,648.86 422.18,640.65 422.35,647.82 422.52,639.53 422.7,640.41 422.87,640.23 423.05,638.97 423.22,640.6 423.4,643.97 423.57,640.71 423.75,637.95 423.92,642.24 424.1,641.77 424.27,645.81 424.45,638.08 424.62,643.5 424.8,644.28 424.97,643.32 425.15,644.67 425.32,642.68 425.49,637.7 425.67,639.27 425.84,637.22 426.02,637.04 426.19,644.86 426.37,640.44 426.54,637.18 426.72,634.64 426.89,646.8 427.07,646.89 427.24,640.78 427.42,643.46 427.59,645.67 427.77,641.25 427.94,645.12 428.12,650.01 428.29,642.76 428.46,642.33 428.64,640.73 428.81,639.8 428.99,642.33 429.16,643.76 429.34,645.22 429.51,648.48 429.69,644.6 429.86,639.99 430.04,641.17 430.21,636.67 430.39,643.92 430.56,649.29 430.74,640.85 430.91,640.23 431.09,647.47 431.26,648.98 431.44,643.29 431.61,641.54 431.78,647.59 431.96,645.13 432.13,646.63 432.31,648.04 432.48,648.56 432.66,643.9 432.83,645.65 433.01,646.7 433.18,653.1 433.36,638.99 433.53,647.84 433.71,645.29 433.88,648.64 434.06,643.78 434.23,650.01 434.41,644.87 434.58,645.87 434.75,642.35 434.93,648.99 435.1,647.62 435.28,646.36 435.45,638.85 435.63,650.55 435.8,644.89 435.98,648.05 436.15,644.99 436.33,643.95 436.5,645.71 436.68,645.39 436.85,645.42 437.03,648.33 437.2,647.2 437.38,651.98 437.55,647.82 437.73,649.25 437.9,647.65 438.07,644.51 438.25,645.74 438.42,645.54 438.6,643.56 438.77,655 438.95,645.92 439.12,647.48 439.3,647.8 439.47,651.82 439.65,645.86 439.82,643.99 440,644.36 440.17,647.83 440.35,645.32 440.52,644.25 440.7,641.16 440.87,642.95 441.04,646.33 441.22,646.33 441.39,645.95 441.57,645.6 441.74,647.8 441.92,643.52 442.09,648.14 442.27,648.34 442.44,644.42 442.62,647.29 442.79,646.07 442.97,651.88 443.14,642.38 443.32,644.84 443.49,645.08 443.67,643.01 443.84,643.68 444.01,646.49 444.19,637.53 444.36,645.37 444.54,640.58 444.71,637.64 444.89,645.47 445.06,642.99 445.24,645.81 445.41,639.57 445.59,644.03 445.76,646.56 445.94,638.73 446.11,640.07 446.29,645.99 446.46,639.29 446.64,642.54 446.81,634.38 446.99,637.68 447.16,645.11 447.33,644.22 447.51,646.24 447.68,642.99 447.86,643.31 448.03,641.11 448.21,643.27 448.38,648.38 448.56,646.27 448.73,639.07 448.91,639.95 449.08,644.28 449.26,644.24 449.43,644.39 449.61,643.8 449.78,649.39 449.96,641.05 450.13,646.14 450.3,643.56 450.48,652.31 450.65,643.36 450.83,639.81 451,651.49 451.18,639.3 451.35,642.75 451.53,646.72 451.7,649.53 451.88,640.62 452.05,643.6 452.23,642.56 452.4,645.42 452.58,647.17 452.75,641.78 452.93,647.76 453.1,641.76 453.27,650.18 453.45,647.79 453.62,649.55 453.8,640.59 453.97,650.61 454.15,648.65 454.32,642.83 454.5,644.27 454.67,637.91 454.85,639.1 455.02,643.13 455.2,642.93 455.37,651.18 455.55,648.14 455.72,646.38 455.9,645.92 456.07,649.87 456.25,648.47 456.42,648.23 456.59,642.04 456.77,644.16 456.94,646.67 457.12,646.53 457.29,644.72 457.47,647.99 457.64,646.61 457.82,651.41 457.99,643.65 458.17,642.74 458.34,644.73 458.52,644.4 458.69,644.81 458.87,639.37 459.04,645.41 459.22,650.44 459.39,649.58 459.56,643.88 459.74,642.76 459.91,643.77 460.09,643.58 460.26,645.76 460.44,651.27 460.61,648.76 460.79,652.4 460.96,647.8 461.14,651.03 461.31,646.3 461.49,647.21 461.66,653.07 461.84,644.34 462.01,644.29 462.19,651.37 462.36,646.34 462.54,644.43 462.71,647.68 462.88,643.89 463.06,646.04 463.23,643.1 463.41,645.97 463.58,647.08 463.76,644.82 463.93,643.89 464.11,645.6 464.28,647.85 464.46,648.93 464.63,647.53 464.81,648.14 464.98,645.55 465.16,645.63 465.33,646.42 465.51,646.11 465.68,645.5 465.85,640.89 466.03,642.04 466.2,647.84 466.38,644.52 466.55,646.95 466.73,646.15 466.9,646.59 467.08,647.8 467.25,650.18 467.43,653.76 467.6,644.97 467.78,641.7 467.95,648.53 468.13,643.85 468.3,646.74 468.48,644.51 468.65,648.04 468.82,646.11 469,645.68 469.17,653.1 469.35,644.52 469.52,645.65 469.7,653.32 469.87,642.98 470.05,645.19 470.22,644.36 470.4,643.81 470.57,646.33 470.75,648.45 470.92,646.31 471.1,646.19 471.27,637.41 471.45,638.59 471.62,646.21 471.8,645.91 471.97,643.42 472.14,642.56 472.32,646.65 472.49,647.61 472.67,637.86 472.84,640.7 473.02,649.25 473.19,649.9 473.37,646.73 473.54,643.22 473.72,642.08 473.89,644.95 474.07,649.11 474.24,642.98 474.42,641.65 474.59,643.59 474.77,645.16 474.94,641.56 475.11,643.59 475.29,647.06 475.46,642.97 475.64,647.51 475.81,639.97 475.99,641.55 476.16,646.34 476.34,642.28 476.51,638.77 476.69,649.97 476.86,643.26 477.04,637.28 477.21,647.83 477.39,643.17 477.56,647.29 477.74,642.72 477.91,650.41 478.08,647.77 478.26,644.1 478.43,641.79 478.61,640.93 478.78,640.72 478.96,638.25 479.13,639.68 479.31,639.49 479.48,645.15 479.66,642.35 479.83,631.15 480.01,634.14 480.18,638.88 480.36,639.11 480.53,638.22 480.71,642.81 480.88,634.85 481.06,642.59 481.23,641.55 481.4,633.94 481.58,648.11 481.75,639.88 481.93,646.79 482.1,643.16 482.28,641.22 482.45,642.03 482.63,640.2 482.8,643.3 482.98,641.01 483.15,644.58 483.33,641.84 483.5,645.14 483.68,638.22 483.85,644.71 484.03,637.97 484.2,641.63 484.37,641.2 484.55,636.15 484.72,639.93 484.9,646.91 485.07,639.1 485.25,650.78 485.42,640.37 485.6,642.86 485.77,646.47 485.95,641.74 486.12,643.28 486.3,635.73 486.47,644.21 486.65,636.43 486.82,638.56 487,645.53 487.17,646.46 487.35,639.5 487.52,644.66 487.69,643.9 487.87,645.55 488.04,649.02 488.22,646.43 488.39,648.66 488.57,650.84 488.74,646.9 488.92,640.11 489.09,640.92 489.27,646.85 489.44,646.42 489.62,645.39 489.79,642.76 489.97,646.54 490.14,649.48 490.32,649.15 490.49,643.89 490.66,638.82 490.84,649.67 491.01,654.42 491.19,644.62 491.36,647.54 491.54,646.71 491.71,642.9 491.89,646.77 492.06,651.41 492.24,653.48 492.41,646.89 492.59,650.57 492.76,645.56 492.94,650.78 493.11,647.56 493.29,651.27 493.46,647.41 493.63,647.6 493.81,643.97 493.98,641.34 494.16,646.43 494.33,648.65 494.51,638.97 494.68,644.3 494.86,643.36 495.03,643.28 495.21,640.31 495.38,641.73 495.56,642.77 495.73,642.37 495.91,647.84 496.08,646.92 496.26,645.15 496.43,644.41 496.61,644.61 496.78,643.56 496.95,644.46 497.13,645.94 497.3,649.95 497.48,641.52 497.65,642.3 497.83,647.23 498,642.48 498.18,642.77 498.35,643.81 498.53,650.26 498.7,648.04 498.88,645.92 499.05,638.31 499.23,646.67 499.4,644.87 499.58,647.41 499.75,645.24 499.92,642.34 500.1,650.51 500.27,653.05 500.45,641.07 500.62,643.14 500.8,645.26 500.97,639.84 501.15,639.77 501.32,650.16 501.5,643.53 501.67,639.12 501.85,645.12 502.02,643.84 502.2,639.46 502.37,643.57 502.55,646.67 502.72,644.87 502.89,646.99 503.07,640.52 503.24,648.23 503.42,638.87 503.59,647.84 503.77,642.01 503.94,647.11 504.12,643.12 504.29,638.55 504.47,638.21 504.64,637.59 504.82,642.34 504.99,641.67 505.17,641.25 505.34,639.94 505.52,643.4 505.69,638.29 505.87,640.93 506.04,638.14 506.21,640.41 506.39,639.73 506.56,644.53 506.74,643.46 506.91,646.45 507.09,643.05 507.26,642.64 507.44,639.19 507.61,646.34 507.79,631 507.96,642.46 508.14,637.75 508.31,638.49 508.49,650.64 508.66,642.94 508.84,637.01 509.01,650.31 509.18,639.42 509.36,645.17 509.53,643.63 509.71,641.28 509.88,648.41 510.06,641.37 510.23,644.25 510.41,644.6 510.58,639.65 510.76,630.07 510.93,640.87 511.11,640.16 511.28,642.22 511.46,644.51 511.63,641.16 511.81,636.86 511.98,641.4 512.16,639.01 512.33,642.82 512.5,633.45 512.68,647.67 512.85,640.05 513.03,640.2 513.2,641.14 513.38,645.86 513.55,645.94 513.73,642.86 513.9,641.72 514.08,646.2 514.25,645.7 514.43,640.15 514.6,638.54 514.78,643.98 514.95,644.45 515.13,644.55 515.3,633.61" fill="none" stroke="#ec3338" stroke-width="0.6" stroke-linejoin="round"/>
<text x="519.4" y="601" font-size="14">(N)</text>
<path d="M543.9,688.5V648H544.17V634.5H544.44V634.5H544.71V634.5H544.97V634.5H545.24V634.5H545.51V634.5H545.78V634.5H546.05V634.5H546.32V634.5H546.59V648H546.86V648H547.12V648H547.39V648H547.66V648H547.93V648H548.2V648H548.47V661.5H548.74V648H549V648H549.27V648H549.54V648H549.81V648H550.08V648H550.35V648H550.62V634.5H550.88V634.5H551.15V634.5H551.42V634.5H551.69V634.5H551.96V648H552.23V648H552.5V648H552.77V634.5H553.03V648H553.3V634.5H553.57V648H553.84V634.5H554.11V634.5H554.38V634.5H554.65V648H554.91V648H555.18V661.5H555.45V661.5H555.72V661.5H555.99V661.5H556.26V634.5H556.53V634.5H556.8V634.5H557.06V634.5H557.33V634.5H557.6V634.5H557.87V634.5H558.14V634.5H558.41V634.5H558.68V634.5H558.94V634.5H559.21V634.5H559.48V634.5H559.75V634.5H560.02V634.5H560.29V634.5H560.56V634.5H560.83V648H561.09V648H561.36V648H561.63V661.5H561.9V661.5H562.17V634.5H562.44V661.5H562.71V661.5H562.97V648H563.24V634.5H563.51V634.5H563.78V634.5H564.05V675H564.32V675H564.59V675H564.86V675H565.12V675H565.39V675H565.66V648H565.93V661.5H566.2V675H566.47V675H566.74V675H567V675H567.27V675H567.54V675H567.81V675H568.08V661.5H568.35V661.5H568.62V661.5H568.88V675H569.15V675H569.42V675H569.69V648H569.96V648H570.23V648H570.5V648H570.77V648H571.03V648H571.3V648H571.57V675H571.84V675H572.11V675H572.38V675H572.65V661.5H572.91V661.5H573.18V661.5H573.45V661.5H573.72V661.5H573.99V661.5H574.26V661.5H574.53V661.5H574.8V675H575.06V675H575.33V661.5H575.6V661.5H575.87V675H576.14V675H576.41V675H576.68V661.5H576.94V661.5H577.21V661.5H577.48V648H577.75V648H578.02V648H578.29V648H578.56V648H578.83V621H579.09V634.5H579.36V648H579.63V661.5H579.9V661.5H580.17V648H580.44V648H580.71V648H580.97V648H581.24V648H581.51V648H581.78V648H582.05V648H582.32V648H582.59V648H582.85V621H583.12V661.5H583.39V661.5H583.66V661.5H583.93V661.5H584.2V648H584.47V648H584.74V648H585V648H585.27V648H585.54V648H585.81V648H586.08V648H586.35V648H586.62V648H586.88V648H587.15V648H587.42V648H587.69V661.5H587.96V634.5H588.23V634.5H588.5V634.5H588.77V634.5H589.03V634.5H589.3V634.5H589.57V634.5H589.84V634.5H590.11V634.5H590.38V648H590.65V648H590.91V648H591.18V648H591.45V648H591.72V648H591.99V634.5H592.26V634.5H592.53V675H592.79V634.5H593.06V634.5H593.33V634.5H593.6V634.5H593.87V634.5H594.14V648H594.41V648H594.68V648H594.94V648H595.21V648H595.48V648H595.75V648H596.02V648H596.29V648H596.56V648H596.82V648H597.09V648H597.36V648H597.63V648H597.9V648H598.17V648H598.44V661.5H598.71V661.5H598.97V661.5H599.24V661.5H599.51V648H599.78V648H600.05V648H600.32V634.5H600.59V634.5H600.85V648H601.12V634.5H601.39V634.5H601.66V634.5H601.93V648H602.2V634.5H602.47V648H602.74V648H603V661.5H603.27V661.5H603.54V661.5H603.81V661.5H604.08V661.5H604.35V634.5H604.62V634.5H604.88V634.5H605.15V648H605.42V648H605.69V661.5H605.96V661.5H606.23V661.5H606.5V661.5H606.76V648H607.03V648H607.3V648H607.57V648H607.84V648H608.11V648H608.38V648H608.65V634.5H608.91V634.5H609.18V634.5H609.45V648H609.72V648H609.99V648H610.26V648H610.53V648H610.79V648H611.06V648H611.33V648H611.6V648H611.87V648H612.14V661.5H612.41V648H612.68V648H612.94V648H613.21V648H613.48V648H613.75V648H614.02V648H614.29V648H614.56V648H614.82V648H615.09V648H615.36V648H615.63V648H615.9V648H616.17V648H616.44V621H616.71V661.5H616.97V661.5H617.24V634.5H617.51V634.5H617.78V661.5H618.05V648H618.32V648H618.59V648H618.85V648H619.12V648H619.39V648H619.66V648H619.93V648H620.2V648H620.47V648H620.74V661.5H621V648H621.27V648H621.54V648H621.81V661.5H622.08V661.5H622.35V648H622.62V634.5H622.88V634.5H623.15V634.5H623.42V634.5H623.69V634.5H623.96V648H624.23V648H624.5V648H624.76V648H625.03V648H625.3V648H625.57V648H625.84V648H626.11V648H626.38V648H626.65V648H626.91V648H627.18V648H627.45V661.5H627.72V661.5H627.99V648H628.26V648H628.53V648H628.79V648H629.06V648H629.33V661.5H629.6V661.5H629.87V661.5H630.14V648H630.41V648H630.68V648H630.94V648H631.21V648H631.48V648H631.75V661.5H632.02V661.5H632.29V661.5H632.56V661.5H632.82V661.5H633.09V634.5H633.36V634.5H633.63V634.5H633.9V634.5H634.17V661.5H634.44V661.5H634.71V661.5H634.97V661.5H635.24V661.5H635.51V648H635.78V648H636.05V648H636.32V648H636.59V648H636.85V648H637.12V661.5H637.39V634.5H637.66V661.5H637.93V648H638.2V648H638.47V648H638.73V648H639V648H639.27V634.5H639.54V634.5H639.81V648H640.08V661.5H640.35V661.5H640.62V661.5H640.88V648H641.15V675H641.42V675H641.69V661.5H641.96V648H642.23V661.5H642.5V661.5H642.76V661.5H643.03V661.5H643.3V661.5H643.57V661.5H643.84V661.5H644.11V634.5H644.38V648H644.65V648H644.91V648H645.18V648H645.45V648H645.72V661.5H645.99V661.5H646.26V661.5H646.53V661.5H646.79V661.5H647.06V661.5H647.33V661.5H647.6V661.5H647.87V661.5H648.14V648H648.41V661.5H648.67V634.5H648.94V634.5H649.21V634.5H649.48V661.5H649.75V634.5H650.02V634.5H650.29V634.5H650.56V634.5H650.82V634.5H651.09V634.5H651.36V648H651.63V648H651.9V648H652.17V648H652.44V648H652.7V648H652.97V648H653.24V648H653.51V661.5H653.78V661.5H654.05V661.5H654.32V661.5H654.59V661.5H654.85V661.5H655.12V661.5H655.39V648H655.66V661.5H655.93V648H656.2V648H656.47V648H656.73V648H657V661.5H657.27V661.5H657.54V661.5H657.81V661.5H658.08V648H658.35V634.5H658.62V634.5H658.88V648H659.15V661.5H659.42V675H659.69V661.5H659.96V661.5H660.23V661.5H660.5V661.5H660.76V648H661.03V648H661.3V621H661.57V621H661.84V621H662.11V621H662.38V621H662.64V648H662.91V648H663.18V648H663.45V621H663.72V648H663.99V648H664.26V648H664.53V607.5H664.79V648H665.06V648H665.33V648H665.6V648H665.87V648H666.14V648H666.41V675H666.67V634.5H666.94V648H667.21V648H667.48V648H667.75V661.5H668.02V661.5H668.29V648H668.56V648H668.82V648H669.09V661.5H669.36V661.5H669.63V661.5H669.9V648H670.17V648H670.44V648H670.7V648H670.97V648H671.24V648H671.51V648H671.78V648H672.05V648H672.32V648H672.59V634.5H672.85V634.5H673.12V634.5H673.39V648H673.66V648H673.93V675H674.2V648H674.47V661.5H674.73V661.5H675V661.5H675.27V661.5H675.54V648H675.81V648H676.08V648H676.35V648H676.62V648H676.88V648H677.15V661.5H677.42V648H677.69V648H677.96V648H678.23V634.5H678.5V634.5H678.76V634.5H679.03V634.5H679.3V634.5H679.57V634.5H679.84V661.5H680.11V661.5H680.38V661.5H680.64V661.5H680.91V634.5H681.18V648H681.45V648H681.72V648H681.99V648H682.26V648H682.53V648H682.79V648H683.06V648H683.33V648H683.6V688.5Z" fill="#ee3c3c" stroke="none"/>
<rect x="548.47" y="675" width="1.07" height="13.5" fill="#3c3c3c" opacity="0.85"/>
<rect x="551.69" y="675" width="0.81" height="13.5" fill="#3c3c3c" opacity="0.85"/>
<rect x="559.21" y="675" width="0.54" height="13.5" fill="#3c3c3c" opacity="0.85"/>
<rect x="560.29" y="675" width="4.84" height="13.5" fill="#3c3c3c" opacity="0.85"/>
<rect x="567" y="675" width="0.54" height="13.5" fill="#3c3c3c" opacity="0.85"/>
<rect x="567.81" y="675" width="0.54" height="13.5" fill="#3c3c3c" opacity="0.85"/>
<rect x="570.77" y="675" width="0.27" height="13.5" fill="#3c3c3c" opacity="0.85"/>
<rect x="571.3" y="675" width="0.81" height="13.5" fill="#3c3c3c" opacity="0.85"/>
<rect x="572.91" y="675" width="3.49" height="13.5" fill="#3c3c3c" opacity="0.85"/>
<rect x="578.56" y="675" width="0.27" height="13.5" fill="#3c3c3c" opacity="0.85"/>
<rect x="582.85" y="675" width="0.54" height="13.5" fill="#3c3c3c" opacity="0.85"/>
<rect x="587.69" y="675" width="0.27" height="13.5" fill="#3c3c3c" opacity="0.85"/>
<rect x="590.38" y="675" width="1.88" height="13.5" fill="#3c3c3c" opacity="0.85"/>
<rect x="596.82" y="675" width="0.81" height="13.5" fill="#3c3c3c" opacity="0.85"/>
<rect x="600.05" y="675" width="0.54" height="13.5" fill="#3c3c3c" opacity="0.85"/>
<rect x="606.5" y="675" width="0.27" height="13.5" fill="#3c3c3c" opacity="0.85"/>
<rect x="608.38" y="675" width="0.54" height="13.5" fill="#3c3c3c" opacity="0.85"/>
<rect x="609.18" y="675" width="0.27" height="13.5" fill="#3c3c3c" opacity="0.85"/>
<rect x="611.6" y="675" width="0.54" height="13.5" fill="#3c3c3c" opacity="0.85"/>
<rect x="614.82" y="675" width="2.69" height="13.5" fill="#3c3c3c" opacity="0.85"/>
<rect x="619.93" y="675" width="0.27" height="13.5" fill="#3c3c3c" opacity="0.85"/>
<rect x="620.47" y="675" width="0.27" height="13.5" fill="#3c3c3c" opacity="0.85"/>
<rect x="621.27" y="675" width="0.54" height="13.5" fill="#3c3c3c" opacity="0.85"/>
<rect x="623.69" y="675" width="1.34" height="13.5" fill="#3c3c3c" opacity="0.85"/>
<rect x="627.99" y="675" width="0.54" height="13.5" fill="#3c3c3c" opacity="0.85"/>
<rect x="629.06" y="675" width="0.81" height="13.5" fill="#3c3c3c" opacity="0.85"/>
<rect x="630.68" y="675" width="0.27" height="13.5" fill="#3c3c3c" opacity="0.85"/>
<rect x="632.02" y="675" width="0.81" height="13.5" fill="#3c3c3c" opacity="0.85"/>
<rect x="633.09" y="675" width="0.54" height="13.5" fill="#3c3c3c" opacity="0.85"/>
<rect x="633.9" y="675" width="0.81" height="13.5" fill="#3c3c3c" opacity="0.85"/>
<rect x="635.78" y="675" width="1.07" height="13.5" fill="#3c3c3c" opacity="0.85"/>
<rect x="638.2" y="675" width="4.03" height="13.5" fill="#3c3c3c" opacity="0.85"/>
<rect x="643.84" y="675" width="0.27" height="13.5" fill="#3c3c3c" opacity="0.85"/>
<rect x="644.65" y="675" width="0.54" height="13.5" fill="#3c3c3c" opacity="0.85"/>
<rect x="654.59" y="675" width="0.81" height="13.5" fill="#3c3c3c" opacity="0.85"/>
<rect x="659.69" y="675" width="0.54" height="13.5" fill="#3c3c3c" opacity="0.85"/>
<rect x="661.57" y="675" width="1.07" height="13.5" fill="#3c3c3c" opacity="0.85"/>
<rect x="662.91" y="675" width="0.54" height="13.5" fill="#3c3c3c" opacity="0.85"/>
<rect x="663.72" y="675" width="0.81" height="13.5" fill="#3c3c3c" opacity="0.85"/>
<rect x="666.41" y="675" width="1.88" height="13.5" fill="#3c3c3c" opacity="0.85"/>
<rect x="669.09" y="675" width="0.54" height="13.5" fill="#3c3c3c" opacity="0.85"/>
<rect x="669.9" y="675" width="0.81" height="13.5" fill="#3c3c3c" opacity="0.85"/>
<rect x="671.24" y="675" width="0.27" height="13.5" fill="#3c3c3c" opacity="0.85"/>
<rect x="672.59" y="675" width="3.49" height="13.5" fill="#3c3c3c" opacity="0.85"/>
<rect x="679.03" y="675" width="1.07" height="13.5" fill="#3c3c3c" opacity="0.85"/>
<rect x="681.45" y="675" width="0.81" height="13.5" fill="#3c3c3c" opacity="0.85"/>
<rect x="543.9" y="601.5" width="139.7" height="87" fill="none" stroke="#444" stroke-width="0.9"/>
<line x1="543.9" y1="688.5" x2="546.1" y2="688.5" stroke="#444" stroke-width="0.7"/>
<text x="542.1" y="689.8" font-size="3.8" text-anchor="end" font-weight="bold" font-family='"Liberation Serif", serif' fill="#222">0</text>
<line x1="543.9" y1="675" x2="546.1" y2="675" stroke="#444" stroke-width="0.7"/>
<text x="542.1" y="676.3" font-size="3.8" text-anchor="end" font-weight="bold" font-family='"Liberation Serif", serif' fill="#222">1</text>
<line x1="543.9" y1="661.5" x2="546.1" y2="661.5" stroke="#444" stroke-width="0.7"/>
<text x="542.1" y="662.8" font-size="3.8" text-anchor="end" font-weight="bold" font-family='"Liberation Serif", serif' fill="#222">2</text>
<line x1="543.9" y1="648" x2="546.1" y2="648" stroke="#444" stroke-width="0.7"/>
<text x="542.1" y="649.3" font-size="3.8" text-anchor="end" font-weight="bold" font-family='"Liberation Serif", serif' fill="#222">3</text>
<line x1="543.9" y1="634.5" x2="546.1" y2="634.5" stroke="#444" stroke-width="0.7"/>
<text x="542.1" y="635.8" font-size="3.8" text-anchor="end" font-weight="bold" font-family='"Liberation Serif", serif' fill="#222">4</text>
<line x1="543.9" y1="621" x2="546.1" y2="621" stroke="#444" stroke-width="0.7"/>
<text x="542.1" y="622.3" font-size="3.8" text-anchor="end" font-weight="bold" font-family='"Liberation Serif", serif' fill="#222">5</text>
<line x1="543.9" y1="607.5" x2="546.1" y2="607.5" stroke="#444" stroke-width="0.7"/>
<text x="542.1" y="608.8" font-size="3.8" text-anchor="end" font-weight="bold" font-family='"Liberation Serif", serif' fill="#222">6</text>
<line x1="543.9" y1="688.5" x2="543.9" y2="686.3" stroke="#444" stroke-width="0.7"/>
<text x="543.9" y="694.1" font-size="3.8" text-anchor="middle" font-weight="bold" font-family='"Liberation Serif", serif' fill="#222">0</text>
<line x1="557.87" y1="688.5" x2="557.87" y2="687.3" stroke="#444" stroke-width="0.6"/>
<line x1="571.84" y1="688.5" x2="571.84" y2="686.3" stroke="#444" stroke-width="0.7"/>
<text x="571.84" y="694.1" font-size="3.8" text-anchor="middle" font-weight="bold" font-family='"Liberation Serif", serif' fill="#222">10</text>
<line x1="585.81" y1="688.5" x2="585.81" y2="687.3" stroke="#444" stroke-width="0.6"/>
<line x1="599.78" y1="688.5" x2="599.78" y2="686.3" stroke="#444" stroke-width="0.7"/>
<text x="599.78" y="694.1" font-size="3.8" text-anchor="middle" font-weight="bold" font-family='"Liberation Serif", serif' fill="#222">20</text>
<line x1="613.75" y1="688.5" x2="613.75" y2="687.3" stroke="#444" stroke-width="0.6"/>
<line x1="627.72" y1="688.5" x2="627.72" y2="686.3" stroke="#444" stroke-width="0.7"/>
<text x="627.72" y="694.1" font-size="3.8" text-anchor="middle" font-weight="bold" font-family='"Liberation Serif", serif' fill="#222">30</text>
<line x1="641.69" y1="688.5" x2="641.69" y2="687.3" stroke="#444" stroke-width="0.6"/>
<line x1="655.66" y1="688.5" x2="655.66" y2="686.3" stroke="#444" stroke-width="0.7"/>
<text x="655.66" y="694.1" font-size="3.8" text-anchor="middle" font-weight="bold" font-family='"Liberation Serif", serif' fill="#222">40</text>
<line x1="669.63" y1="688.5" x2="669.63" y2="687.3" stroke="#444" stroke-width="0.6"/>
<line x1="683.6" y1="688.5" x2="683.6" y2="686.3" stroke="#444" stroke-width="0.7"/>
<text x="683.6" y="694.1" font-size="3.8" text-anchor="middle" font-weight="bold" font-family='"Liberation Serif", serif' fill="#222">50</text>
<text x="613.75" y="700.6" font-size="5" text-anchor="middle" font-weight="bold" font-family='"Liberation Serif", serif' fill="#222">Time (ns)</text>
<text x="531.6" y="643" font-size="4.6" text-anchor="middle" font-weight="bold" font-family='"Liberation Serif", serif' fill="#222" transform="rotate(-90 531.6 643)">Number of H-bond</text>
</svg>
</body></html>
